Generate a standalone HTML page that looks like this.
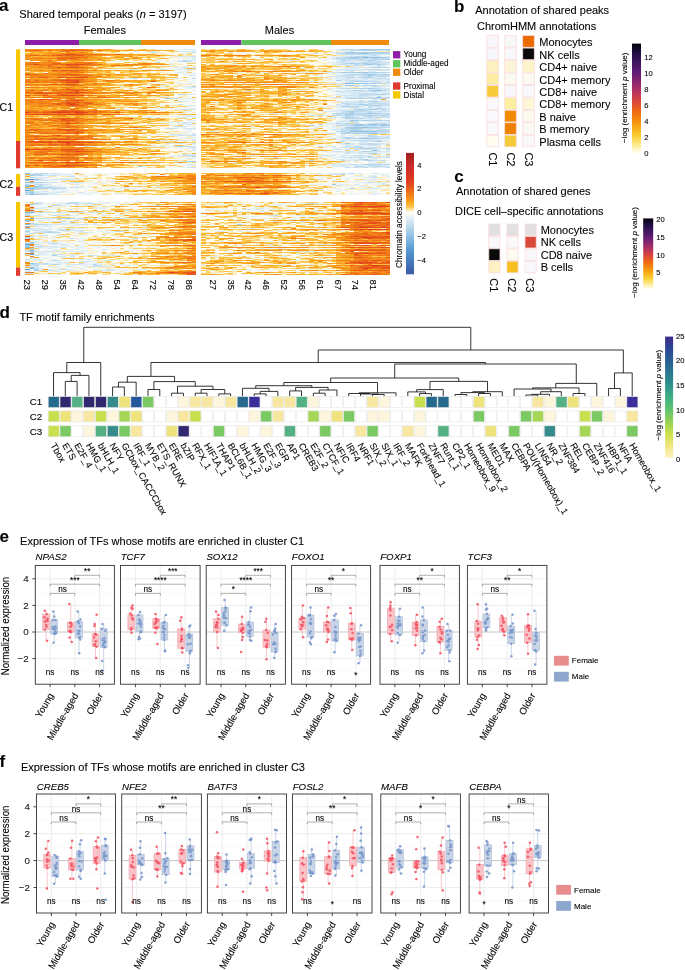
<!DOCTYPE html>
<html><head><meta charset="utf-8"><style>
html,body{margin:0;padding:0;background:#fff;width:685px;height:970px;overflow:hidden}
svg{display:block;will-change:transform}
text{font-family:"Liberation Sans", sans-serif;stroke:#000;stroke-width:0.18px;stroke-opacity:0.55}
</style></head><body>
<svg width="685" height="970" viewBox="0 0 685 970" font-family='"Liberation Sans", sans-serif'>
<g transform="translate(25 49) scale(4.5 1)" fill="none" stroke-width="1" shape-rendering="crispEdges">
<path stroke="#f79a1c" d="M0 0.5h1M3 0.5h2M9 0.5h1M18 0.5h1M6 1.5h1M17 1.5h1M20 1.5h1M22 1.5h2M28 1.5h1M2 2.5h1M10 2.5h1M3 3.5h1M5 3.5h1M7 3.5h1M10 3.5h2M13 3.5h1M6 4.5h1M12 4.5h3M2 5.5h1M4 5.5h1M26 5.5h1M17 6.5h1M25 6.5h1M5 7.5h3M23 7.5h1M0 8.5h1M14 8.5h1M20 8.5h1M24 8.5h1M0 9.5h1M12 9.5h1M18 9.5h1M1 10.5h1M14 10.5h1M1 11.5h3M6 11.5h1M10 11.5h2M14 11.5h1M10 13.5h1M25 14.5h1M17 15.5h1M29 15.5h1M0 16.5h1M0 17.5h1M2 17.5h1M4 17.5h1M7 17.5h1M12 17.5h1M19 17.5h1M4 18.5h1M16 18.5h1M0 19.5h2M8 19.5h1M15 19.5h1M16 21.5h1M18 21.5h1M20 21.5h1M26 21.5h1M30 21.5h1M12 22.5h2M5 23.5h1M8 23.5h1M13 23.5h2M1 24.5h1M5 24.5h1M7 24.5h2M10 24.5h2M16 25.5h2M20 25.5h1M24 25.5h1M5 26.5h1M15 26.5h2M18 26.5h1M33 26.5h1M6 27.5h1M15 27.5h1M16 28.5h1M18 28.5h1M4 29.5h1M9 29.5h1M11 29.5h1M13 29.5h1M3 30.5h2M14 30.5h2M14 31.5h2M17 31.5h1M20 31.5h1M22 31.5h1M27 31.5h2M1 32.5h1M15 32.5h1M17 32.5h1M21 32.5h2M20 33.5h1M6 34.5h1M8 34.5h2M11 34.5h1M13 34.5h1M16 34.5h1M12 35.5h1M16 35.5h2M25 35.5h1M29 35.5h1M0 36.5h3M7 36.5h2M14 36.5h2M23 36.5h1M10 37.5h1M7 38.5h1M12 38.5h1M14 38.5h3M19 38.5h1M6 39.5h1M10 39.5h1M0 40.5h1M7 40.5h1M13 40.5h2M16 40.5h2M5 41.5h1M16 41.5h1M22 41.5h2M29 41.5h2M3 42.5h1M6 42.5h1M12 42.5h1M14 42.5h1M18 43.5h1M30 43.5h1M22 44.5h1M3 45.5h1M9 45.5h1M12 45.5h1M24 45.5h1M16 46.5h3M20 46.5h1M27 46.5h2M31 46.5h1M0 47.5h1M4 47.5h1M6 47.5h1M17 47.5h1M3 48.5h1M19 48.5h1M25 48.5h1M7 49.5h1M13 50.5h4M18 50.5h1M7 51.5h1M13 51.5h3M19 51.5h1M6 52.5h1M14 52.5h1M17 52.5h1M21 52.5h1M15 54.5h4M20 54.5h2M26 54.5h1M2 55.5h1M4 55.5h1M22 55.5h1M1 56.5h1M15 56.5h1M24 56.5h1M4 57.5h1M8 57.5h2M11 57.5h1M13 57.5h2M1 58.5h1M3 58.5h1M8 58.5h1M1 59.5h2M6 59.5h1M8 59.5h3M18 59.5h2M26 59.5h1M0 60.5h2M3 60.5h1M6 60.5h1M11 60.5h1M14 60.5h2M5 61.5h2M13 61.5h1M16 61.5h1M21 61.5h2M25 61.5h1M18 62.5h1M20 62.5h1M23 62.5h3M25 63.5h1M14 64.5h1M16 64.5h1M29 65.5h1M12 66.5h1M0 67.5h2M6 67.5h3M11 68.5h1M13 69.5h1M15 69.5h1M19 69.5h2M17 70.5h1M22 70.5h1M27 70.5h1M30 70.5h1M0 71.5h3M13 71.5h1M20 71.5h1M0 72.5h1M14 72.5h1M18 72.5h1M10 73.5h1M12 73.5h1M17 73.5h2M14 74.5h3M19 74.5h1M23 74.5h1M1 75.5h1M5 75.5h1M8 75.5h1M5 76.5h1M10 76.5h1M12 76.5h1M14 76.5h1M3 77.5h1M8 77.5h1M12 77.5h2M16 77.5h3M2 78.5h2M7 78.5h1M14 78.5h1M22 78.5h1M27 78.5h1M6 79.5h2M14 80.5h1M16 80.5h1M20 80.5h1M26 80.5h1M6 81.5h1M14 81.5h1M17 81.5h1M0 82.5h1M20 82.5h1M22 82.5h1M13 83.5h1M17 83.5h1M0 84.5h1M2 84.5h1M14 84.5h1M24 84.5h2M0 85.5h1M3 86.5h1M10 86.5h1M13 86.5h1M16 86.5h1M21 87.5h1M3 88.5h1M6 88.5h1M0 89.5h2M10 89.5h1M23 89.5h1M14 90.5h1M0 91.5h2M7 91.5h1M22 92.5h1M21 93.5h3M28 93.5h1M1 94.5h1M4 94.5h1M14 94.5h2M15 95.5h3M19 95.5h1M21 95.5h1M25 95.5h1M6 98.5h2M11 98.5h1M14 98.5h1M1 99.5h1M3 99.5h1M5 99.5h1M7 99.5h1M25 99.5h1M17 100.5h2M24 100.5h1M1 101.5h1M14 101.5h2M1 102.5h1M7 102.5h1M20 102.5h1M28 102.5h2M1 103.5h1M7 103.5h2M16 103.5h3M7 104.5h1M14 104.5h1M29 104.5h1M15 105.5h2M12 106.5h1M7 107.5h1M20 108.5h1M0 109.5h1M6 109.5h1M25 109.5h1M0 110.5h1M4 110.5h1M13 110.5h2M0 111.5h1M13 111.5h1M3 112.5h1M17 113.5h1M25 113.5h2M34 113.5h1M5 114.5h1M8 114.5h1M0 115.5h1M7 115.5h2M19 115.5h1M0 118.5h1M4 118.5h1M8 118.5h1M14 118.5h1"/>
<path stroke="#f48d1a" d="M1 0.5h2M5 0.5h3M13 0.5h1M4 1.5h1M7 1.5h1M1 2.5h1M9 3.5h1M5 4.5h1M8 4.5h1M11 4.5h1M1 5.5h1M19 5.5h1M21 5.5h3M27 5.5h1M13 6.5h1M15 6.5h2M0 7.5h1M8 7.5h1M11 7.5h1M13 7.5h2M2 8.5h2M15 8.5h1M3 9.5h1M13 9.5h1M0 10.5h1M2 10.5h2M9 10.5h1M12 10.5h2M4 11.5h1M12 11.5h2M5 12.5h1M0 13.5h1M3 13.5h1M7 13.5h1M9 13.5h1M3 14.5h3M8 14.5h2M15 14.5h1M28 14.5h1M23 15.5h1M30 15.5h1M2 16.5h1M8 16.5h1M12 16.5h1M19 16.5h1M21 16.5h3M1 17.5h1M3 17.5h1M8 17.5h1M2 18.5h1M5 18.5h2M4 19.5h1M9 19.5h2M13 19.5h1M0 21.5h1M2 21.5h1M4 21.5h2M13 21.5h2M27 21.5h1M31 21.5h1M7 22.5h1M9 22.5h1M7 23.5h1M6 24.5h1M9 24.5h1M25 24.5h1M3 25.5h2M14 25.5h1M18 25.5h1M0 26.5h2M4 26.5h1M6 26.5h3M13 26.5h1M2 27.5h1M5 27.5h1M7 27.5h1M11 27.5h1M14 27.5h1M6 28.5h1M15 28.5h1M17 28.5h1M12 29.5h1M1 30.5h1M5 30.5h1M13 30.5h1M1 31.5h1M3 31.5h1M13 31.5h1M19 31.5h1M5 32.5h2M18 32.5h2M3 33.5h1M10 34.5h1M17 34.5h1M13 35.5h2M3 38.5h4M10 38.5h1M5 39.5h1M17 39.5h1M1 40.5h1M4 40.5h1M15 40.5h1M0 41.5h1M8 41.5h1M14 41.5h2M0 42.5h2M7 42.5h1M9 42.5h2M15 43.5h2M23 43.5h1M25 43.5h1M27 43.5h1M29 43.5h1M0 44.5h1M16 44.5h3M4 45.5h1M11 45.5h1M1 46.5h1M21 46.5h3M7 47.5h2M10 47.5h2M16 47.5h1M8 48.5h1M13 48.5h2M22 48.5h1M8 49.5h1M0 50.5h1M9 50.5h1M12 50.5h1M2 51.5h1M20 51.5h1M0 52.5h1M2 52.5h2M5 52.5h1M12 52.5h2M22 52.5h3M0 53.5h1M4 53.5h2M15 53.5h1M0 54.5h3M24 54.5h1M0 55.5h2M3 55.5h1M5 55.5h1M17 55.5h1M24 55.5h1M2 56.5h1M6 56.5h2M1 57.5h2M6 57.5h1M9 58.5h1M11 58.5h2M2 61.5h1M14 61.5h1M18 61.5h1M26 61.5h1M3 62.5h1M24 63.5h1M31 63.5h1M0 64.5h4M6 64.5h1M16 65.5h1M21 65.5h1M7 66.5h2M11 67.5h1M18 69.5h1M22 69.5h1M0 70.5h1M6 70.5h1M12 70.5h1M15 70.5h1M7 71.5h1M15 71.5h1M1 72.5h1M6 72.5h1M11 72.5h3M3 73.5h2M6 73.5h1M8 73.5h1M0 74.5h1M2 74.5h1M5 74.5h2M13 74.5h1M17 74.5h2M20 74.5h1M2 75.5h1M4 75.5h1M9 75.5h1M0 76.5h2M3 76.5h1M0 77.5h1M6 77.5h2M11 77.5h1M0 78.5h2M12 78.5h2M23 78.5h1M0 80.5h1M17 80.5h1M21 80.5h1M1 81.5h1M3 81.5h2M25 81.5h1M2 82.5h1M4 82.5h3M8 82.5h1M10 82.5h1M5 83.5h1M7 83.5h2M14 83.5h1M12 84.5h1M5 86.5h1M8 86.5h2M11 86.5h1M11 87.5h1M15 87.5h1M1 88.5h2M13 88.5h1M15 89.5h1M16 90.5h1M18 90.5h1M24 90.5h1M15 92.5h2M23 92.5h1M19 93.5h1M0 94.5h1M2 94.5h1M6 94.5h2M0 95.5h1M14 95.5h1M22 95.5h3M4 96.5h1M7 96.5h1M13 96.5h1M8 98.5h2M13 98.5h1M20 98.5h1M6 99.5h1M9 99.5h1M14 100.5h1M19 100.5h1M3 101.5h2M6 101.5h1M13 101.5h1M16 101.5h1M0 102.5h1M16 102.5h2M13 103.5h2M0 104.5h3M6 104.5h1M8 104.5h1M10 104.5h1M28 104.5h1M1 105.5h1M14 105.5h1M26 105.5h1M2 106.5h2M8 106.5h1M10 106.5h2M10 107.5h1M2 108.5h2M5 108.5h1M14 108.5h1M16 108.5h1M2 109.5h2M7 109.5h1M15 109.5h3M3 110.5h1M6 110.5h2M10 111.5h1M12 111.5h1M14 111.5h3M15 113.5h2M19 113.5h1M23 113.5h2M1 114.5h3M6 114.5h2M2 115.5h1M6 115.5h1M12 115.5h1M14 115.5h1M6 116.5h1M15 116.5h1M18 116.5h1M0 117.5h1M2 117.5h1M11 117.5h1M1 118.5h1M5 118.5h1M7 118.5h1M9 118.5h2M15 118.5h1"/>
<path stroke="#ee7418" d="M8 0.5h1M10 0.5h1M0 1.5h2M5 1.5h1M14 1.5h1M16 1.5h1M8 2.5h2M9 4.5h1M7 5.5h1M12 5.5h2M18 5.5h1M3 6.5h3M10 7.5h1M10 8.5h1M12 8.5h2M5 9.5h2M11 9.5h1M8 10.5h1M11 10.5h1M2 13.5h1M12 13.5h2M11 14.5h1M13 14.5h1M3 15.5h1M5 15.5h1M14 15.5h1M16 15.5h1M10 16.5h1M20 16.5h1M5 17.5h2M10 17.5h2M11 19.5h1M7 21.5h1M15 21.5h1M10 22.5h2M12 23.5h1M4 24.5h1M13 25.5h1M11 26.5h2M3 27.5h1M1 28.5h1M6 30.5h3M0 31.5h1M2 31.5h1M6 31.5h1M12 31.5h1M18 31.5h1M2 32.5h1M12 32.5h1M14 32.5h1M0 33.5h1M2 33.5h1M5 33.5h1M8 33.5h1M12 33.5h1M0 35.5h1M11 35.5h1M9 36.5h2M0 38.5h2M13 38.5h1M9 39.5h1M8 40.5h1M11 40.5h2M4 41.5h1M6 41.5h2M9 41.5h1M6 43.5h1M14 43.5h1M19 43.5h1M21 43.5h1M28 43.5h1M1 44.5h1M10 44.5h1M13 44.5h1M27 44.5h1M2 46.5h1M6 46.5h1M13 46.5h2M2 48.5h1M10 48.5h2M16 48.5h1M2 50.5h1M6 50.5h1M10 50.5h1M0 51.5h1M3 51.5h1M1 52.5h1M9 52.5h1M8 53.5h1M12 53.5h1M14 53.5h1M3 54.5h2M11 54.5h1M6 55.5h1M13 55.5h1M13 58.5h1M11 59.5h1M10 60.5h1M12 61.5h1M15 61.5h1M0 62.5h3M4 62.5h1M13 62.5h1M16 62.5h2M1 63.5h1M14 63.5h1M16 63.5h1M29 63.5h1M7 64.5h1M15 64.5h1M0 69.5h1M6 69.5h1M8 69.5h1M10 69.5h1M12 69.5h1M1 70.5h1M5 70.5h1M7 70.5h1M11 70.5h1M14 70.5h1M3 71.5h2M11 71.5h1M7 72.5h1M0 73.5h2M11 73.5h1M7 74.5h2M12 74.5h1M7 76.5h3M9 77.5h2M8 78.5h1M11 78.5h1M24 78.5h1M6 80.5h1M0 81.5h1M2 81.5h1M8 81.5h1M11 81.5h2M11 82.5h2M0 83.5h1M9 83.5h1M3 84.5h1M8 84.5h1M10 84.5h1M1 87.5h1M3 87.5h1M5 87.5h1M7 87.5h2M13 87.5h2M10 88.5h2M7 89.5h1M11 89.5h1M0 90.5h2M3 90.5h2M12 90.5h1M15 90.5h1M0 92.5h1M6 92.5h1M0 93.5h1M18 93.5h1M10 94.5h1M1 95.5h1M13 95.5h1M1 96.5h3M5 96.5h1M10 96.5h2M5 98.5h1M0 99.5h1M4 99.5h1M6 100.5h2M13 100.5h1M12 101.5h1M3 102.5h2M8 102.5h1M15 102.5h1M2 103.5h2M11 104.5h2M4 105.5h1M12 105.5h1M6 108.5h1M9 108.5h1M13 108.5h1M1 109.5h1M4 109.5h2M10 109.5h1M13 109.5h1M10 110.5h1M4 111.5h2M8 111.5h1M0 113.5h1M3 113.5h1M7 113.5h1M21 113.5h1M10 114.5h1M9 115.5h1M5 116.5h1M13 116.5h2M16 116.5h1M5 117.5h1M10 117.5h1M12 117.5h1"/>
<path stroke="#f18019" d="M11 0.5h2M8 1.5h1M15 1.5h1M12 3.5h1M10 4.5h1M6 5.5h1M14 5.5h1M16 5.5h1M0 6.5h1M14 6.5h1M29 6.5h1M9 7.5h1M12 7.5h1M7 8.5h1M9 8.5h1M1 9.5h2M4 9.5h1M24 9.5h1M7 10.5h1M10 10.5h1M16 10.5h1M7 11.5h2M4 13.5h3M11 13.5h1M14 13.5h2M0 14.5h3M10 14.5h1M12 14.5h1M26 14.5h2M0 15.5h1M4 15.5h1M15 15.5h1M22 15.5h1M24 15.5h4M3 16.5h2M13 16.5h3M9 17.5h1M3 18.5h1M8 18.5h1M13 18.5h2M5 19.5h3M12 19.5h1M3 21.5h1M6 22.5h1M8 22.5h1M9 23.5h3M0 24.5h1M5 25.5h2M12 25.5h1M2 26.5h2M9 26.5h1M14 26.5h1M1 27.5h1M4 27.5h1M8 27.5h1M12 27.5h1M16 27.5h1M0 28.5h1M2 28.5h1M5 28.5h1M14 28.5h1M0 30.5h1M2 30.5h1M4 31.5h2M0 32.5h1M3 32.5h2M7 32.5h1M13 32.5h1M4 33.5h1M6 33.5h2M15 34.5h1M1 35.5h4M15 35.5h1M23 35.5h1M4 36.5h1M12 36.5h1M2 38.5h1M8 38.5h2M28 38.5h1M6 40.5h1M2 41.5h2M8 42.5h1M1 43.5h1M17 43.5h1M20 43.5h1M22 43.5h1M24 43.5h1M8 44.5h1M12 44.5h1M14 44.5h1M23 44.5h1M7 45.5h1M10 45.5h1M3 46.5h1M5 46.5h1M15 46.5h1M5 47.5h1M9 47.5h1M0 48.5h2M7 48.5h1M9 48.5h1M12 48.5h1M15 48.5h1M18 48.5h1M9 49.5h2M1 50.5h1M11 50.5h1M1 51.5h1M5 51.5h2M8 51.5h1M4 52.5h1M7 52.5h2M10 52.5h2M1 53.5h3M5 54.5h1M12 54.5h1M23 54.5h1M8 55.5h1M12 55.5h1M14 55.5h3M3 56.5h3M8 56.5h1M13 56.5h1M3 57.5h1M5 57.5h1M10 57.5h1M12 57.5h1M0 61.5h2M4 61.5h1M7 61.5h1M17 63.5h2M21 63.5h1M26 63.5h2M30 63.5h1M4 64.5h2M8 64.5h3M13 64.5h1M20 65.5h1M1 69.5h3M5 69.5h1M3 70.5h2M13 70.5h1M16 70.5h1M5 71.5h1M12 71.5h1M8 72.5h3M5 73.5h1M1 74.5h1M4 74.5h1M21 74.5h2M2 76.5h1M11 76.5h1M5 77.5h1M10 78.5h1M4 80.5h2M12 80.5h1M5 81.5h1M7 81.5h1M15 81.5h2M3 82.5h1M7 82.5h1M9 82.5h1M2 83.5h3M6 83.5h1M6 84.5h2M0 86.5h3M14 86.5h1M0 87.5h1M6 87.5h1M10 87.5h1M12 87.5h1M0 88.5h1M14 88.5h1M4 89.5h2M12 89.5h3M13 90.5h1M13 92.5h2M17 93.5h1M5 94.5h1M8 94.5h1M11 94.5h2M2 95.5h1M4 95.5h1M20 95.5h1M0 96.5h1M8 96.5h1M14 96.5h2M10 98.5h1M12 98.5h1M2 99.5h1M8 99.5h1M10 99.5h3M15 100.5h2M0 101.5h1M5 101.5h1M7 101.5h1M11 101.5h1M2 102.5h1M6 102.5h1M4 103.5h1M9 103.5h4M3 104.5h1M5 104.5h1M9 104.5h1M13 104.5h1M5 105.5h1M0 106.5h1M9 106.5h1M9 107.5h1M0 108.5h1M4 108.5h1M11 108.5h2M8 109.5h1M14 109.5h1M5 110.5h1M8 110.5h2M11 110.5h1M1 111.5h1M11 111.5h1M14 113.5h1M20 113.5h1M22 113.5h1M4 114.5h1M9 114.5h1M11 114.5h1M5 115.5h1M10 115.5h2M13 115.5h1M15 115.5h1M1 116.5h1M3 116.5h1M4 117.5h1M6 118.5h1M13 118.5h1"/>
<path stroke="#faaa25" d="M14 0.5h1M16 0.5h2M18 1.5h2M24 1.5h3M29 1.5h1M32 1.5h1M0 2.5h1M3 2.5h1M5 2.5h1M7 2.5h1M11 2.5h4M20 2.5h1M4 3.5h1M6 3.5h1M0 4.5h2M4 4.5h1M7 4.5h1M0 5.5h1M5 5.5h1M24 5.5h1M28 5.5h1M18 6.5h2M21 6.5h3M26 6.5h1M30 6.5h1M1 7.5h1M3 7.5h2M15 7.5h1M20 7.5h3M1 8.5h1M4 8.5h3M16 8.5h2M19 8.5h1M21 8.5h1M25 8.5h1M14 9.5h4M22 9.5h1M4 10.5h2M15 10.5h1M22 10.5h1M9 11.5h1M15 11.5h3M4 12.5h1M6 12.5h1M10 12.5h2M16 13.5h1M16 14.5h1M29 14.5h1M19 15.5h2M28 15.5h1M31 15.5h1M1 16.5h1M6 16.5h2M16 16.5h1M18 16.5h1M24 16.5h1M13 17.5h1M1 18.5h1M17 18.5h1M26 18.5h1M2 19.5h2M14 19.5h1M24 19.5h1M0 20.5h4M6 20.5h8M1 21.5h1M23 21.5h1M28 21.5h2M1 22.5h5M23 22.5h2M6 23.5h1M18 23.5h1M2 24.5h2M12 24.5h1M24 24.5h1M15 25.5h1M21 25.5h3M27 25.5h3M32 25.5h1M20 26.5h3M27 26.5h1M9 27.5h2M18 27.5h1M20 28.5h1M24 28.5h2M27 28.5h2M1 29.5h3M6 29.5h1M10 29.5h1M14 29.5h2M16 30.5h1M21 31.5h1M23 31.5h3M29 31.5h1M16 32.5h1M23 32.5h3M27 32.5h1M13 33.5h1M19 33.5h1M25 33.5h1M1 34.5h1M14 34.5h1M18 34.5h1M18 35.5h2M22 35.5h1M24 35.5h1M3 36.5h1M5 36.5h2M13 36.5h1M16 36.5h1M18 36.5h1M22 36.5h1M24 36.5h1M11 37.5h2M11 38.5h1M20 38.5h1M2 39.5h1M8 39.5h1M11 39.5h2M16 39.5h1M18 39.5h1M2 40.5h2M5 40.5h1M29 40.5h1M31 40.5h1M18 41.5h1M31 41.5h1M2 42.5h1M13 42.5h1M15 42.5h1M20 42.5h1M28 42.5h1M26 43.5h1M31 43.5h1M24 44.5h1M29 44.5h1M0 45.5h1M2 45.5h1M19 46.5h1M24 46.5h2M29 46.5h1M12 47.5h1M19 47.5h2M20 48.5h1M23 48.5h2M13 49.5h1M17 50.5h1M19 50.5h5M4 51.5h1M16 51.5h1M18 51.5h1M21 51.5h2M26 51.5h1M33 51.5h1M15 52.5h1M18 52.5h1M20 52.5h1M7 53.5h1M16 53.5h1M22 54.5h1M25 54.5h1M23 55.5h1M25 55.5h1M0 56.5h1M16 56.5h3M31 56.5h1M0 57.5h1M7 57.5h1M18 57.5h1M0 58.5h1M4 58.5h1M6 58.5h2M14 58.5h2M19 58.5h1M23 58.5h1M26 58.5h3M32 58.5h1M0 59.5h1M3 59.5h2M12 59.5h1M2 60.5h1M5 60.5h1M3 61.5h1M17 61.5h1M19 61.5h2M27 61.5h1M26 62.5h1M22 63.5h2M32 63.5h1M34 63.5h1M26 64.5h1M22 65.5h1M28 65.5h1M30 65.5h1M37 65.5h1M1 66.5h1M5 66.5h2M10 66.5h2M15 66.5h1M2 67.5h1M9 67.5h1M12 67.5h2M15 67.5h1M8 68.5h1M20 68.5h2M14 69.5h1M17 69.5h1M21 69.5h1M26 69.5h1M29 69.5h1M18 70.5h1M23 70.5h1M28 70.5h1M14 71.5h1M16 71.5h1M18 71.5h1M21 71.5h1M29 71.5h1M2 72.5h2M2 73.5h1M7 73.5h1M14 73.5h3M26 73.5h1M3 74.5h1M3 75.5h1M4 76.5h1M13 76.5h1M15 76.5h1M21 76.5h1M1 77.5h1M4 77.5h1M19 77.5h1M23 77.5h1M25 77.5h1M4 78.5h1M21 78.5h1M25 78.5h2M0 79.5h3M10 79.5h2M13 80.5h1M15 80.5h1M18 80.5h2M22 80.5h4M18 81.5h3M27 81.5h1M13 82.5h2M17 82.5h3M16 83.5h1M18 83.5h1M27 83.5h1M15 84.5h1M23 84.5h1M4 86.5h1M12 86.5h1M15 86.5h1M17 86.5h1M16 87.5h1M20 87.5h1M22 87.5h1M4 88.5h2M7 88.5h2M24 88.5h1M24 89.5h1M21 90.5h1M23 90.5h1M25 90.5h1M27 90.5h3M32 90.5h1M3 91.5h1M8 91.5h3M19 92.5h2M24 92.5h1M27 92.5h1M20 93.5h1M31 93.5h1M33 93.5h3M3 94.5h1M13 94.5h1M17 94.5h1M16 96.5h2M8 97.5h2M0 98.5h1M2 98.5h1M4 98.5h1M15 99.5h2M20 100.5h1M2 101.5h1M18 101.5h1M22 101.5h3M18 102.5h2M27 102.5h1M0 103.5h1M6 103.5h1M15 103.5h1M19 103.5h4M15 104.5h2M24 104.5h1M30 104.5h1M0 105.5h1M18 105.5h5M27 105.5h2M5 106.5h1M7 106.5h1M14 106.5h1M6 107.5h1M8 107.5h1M15 108.5h1M18 109.5h1M1 110.5h1M16 110.5h1M17 111.5h1M21 111.5h2M27 111.5h1M9 112.5h1M11 112.5h1M27 113.5h2M0 114.5h1M12 114.5h3M1 115.5h1M3 115.5h2M20 115.5h2M17 116.5h1M19 116.5h1M21 116.5h1M27 116.5h1M1 117.5h1M3 117.5h1M13 117.5h1M15 117.5h1M18 117.5h1M2 118.5h2M11 118.5h1M20 118.5h1"/>
<path stroke="#fdd16a" d="M15 0.5h1M19 0.5h1M25 0.5h1M17 2.5h2M27 2.5h1M32 2.5h2M8 3.5h1M19 3.5h1M17 4.5h1M23 4.5h1M34 5.5h1M36 5.5h1M27 6.5h1M32 6.5h1M34 6.5h1M19 7.5h1M24 7.5h1M28 7.5h2M18 8.5h1M28 8.5h1M19 9.5h2M27 9.5h1M29 9.5h1M18 10.5h1M23 10.5h1M26 10.5h1M19 11.5h1M24 11.5h1M28 11.5h1M9 12.5h1M17 12.5h1M23 13.5h1M25 13.5h2M18 14.5h2M24 14.5h1M36 14.5h2M25 16.5h1M27 16.5h1M14 17.5h1M16 17.5h1M20 17.5h1M22 17.5h2M27 17.5h5M27 18.5h2M17 19.5h1M19 19.5h4M37 19.5h1M14 20.5h1M22 21.5h1M24 21.5h1M21 22.5h1M25 22.5h2M3 23.5h1M17 23.5h1M22 23.5h2M36 23.5h1M13 24.5h1M15 24.5h1M17 24.5h2M21 24.5h1M23 24.5h1M26 24.5h1M28 24.5h1M31 25.5h1M17 26.5h1M23 26.5h1M28 26.5h1M20 27.5h2M30 27.5h1M22 28.5h1M19 29.5h1M21 29.5h1M28 29.5h2M17 30.5h1M20 30.5h1M30 30.5h3M16 31.5h1M29 32.5h1M23 33.5h1M26 33.5h1M32 33.5h1M5 34.5h1M7 34.5h1M12 34.5h1M26 34.5h1M32 34.5h1M20 35.5h2M20 36.5h2M25 36.5h1M28 36.5h1M1 37.5h1M3 37.5h2M14 37.5h2M22 37.5h1M31 37.5h1M26 38.5h1M0 39.5h1M13 39.5h1M19 39.5h1M23 39.5h1M26 39.5h2M21 40.5h1M25 40.5h1M28 40.5h1M32 40.5h1M17 41.5h1M20 41.5h1M5 42.5h1M22 42.5h1M26 42.5h1M34 43.5h1M36 43.5h1M19 44.5h1M21 44.5h1M25 44.5h1M30 44.5h3M13 45.5h1M16 45.5h1M20 45.5h1M27 45.5h1M31 45.5h2M30 46.5h1M2 47.5h1M15 47.5h1M21 47.5h1M25 47.5h1M27 47.5h1M29 47.5h1M26 48.5h1M30 48.5h2M34 48.5h1M1 49.5h1M11 49.5h1M14 49.5h1M16 49.5h1M22 49.5h1M26 49.5h1M29 50.5h1M28 51.5h1M26 52.5h2M29 52.5h2M18 53.5h1M20 53.5h5M29 53.5h3M19 54.5h1M27 54.5h1M29 54.5h1M18 55.5h1M20 55.5h2M26 55.5h1M28 55.5h1M20 56.5h1M22 56.5h1M25 56.5h4M15 57.5h1M17 57.5h1M26 57.5h1M31 57.5h1M34 57.5h2M5 58.5h1M17 58.5h1M20 58.5h2M25 58.5h1M7 59.5h1M13 59.5h1M16 59.5h1M21 59.5h1M9 60.5h1M21 60.5h1M29 61.5h1M33 61.5h1M35 61.5h1M21 62.5h2M27 62.5h1M31 62.5h1M19 64.5h1M24 64.5h1M27 64.5h4M23 65.5h2M36 65.5h1M3 66.5h1M19 66.5h1M3 67.5h1M10 67.5h1M18 67.5h1M0 68.5h1M2 68.5h2M14 68.5h1M16 68.5h1M18 68.5h1M23 68.5h3M16 69.5h1M30 69.5h2M34 69.5h2M37 69.5h1M19 70.5h2M24 70.5h1M31 70.5h1M33 70.5h1M36 70.5h1M24 71.5h1M27 71.5h2M31 71.5h1M34 71.5h1M4 72.5h1M16 72.5h2M20 72.5h1M25 72.5h2M33 72.5h1M20 73.5h3M27 74.5h1M29 74.5h3M37 74.5h1M0 75.5h1M11 75.5h1M13 75.5h1M18 75.5h1M22 75.5h1M16 76.5h1M20 76.5h1M22 76.5h2M26 76.5h2M21 77.5h1M26 77.5h1M28 77.5h1M19 78.5h2M9 79.5h1M14 79.5h2M28 80.5h2M21 81.5h1M24 81.5h1M25 82.5h1M33 82.5h1M23 83.5h1M25 83.5h2M29 83.5h1M16 84.5h4M1 85.5h1M3 85.5h3M7 85.5h2M14 85.5h1M21 86.5h1M18 87.5h1M23 87.5h1M25 87.5h1M28 87.5h1M31 87.5h2M18 88.5h1M25 88.5h1M28 88.5h1M31 88.5h1M17 89.5h2M21 89.5h1M30 89.5h1M20 90.5h1M31 90.5h1M33 90.5h1M6 91.5h1M11 91.5h1M21 92.5h1M25 92.5h2M29 92.5h1M32 92.5h2M25 93.5h1M29 93.5h1M32 93.5h1M36 93.5h2M20 94.5h1M22 94.5h3M27 94.5h2M36 95.5h1M23 96.5h1M4 97.5h2M7 97.5h1M18 98.5h1M21 98.5h1M24 98.5h1M26 98.5h5M18 99.5h1M20 99.5h4M22 100.5h1M29 100.5h1M19 101.5h2M25 101.5h1M27 101.5h2M22 102.5h1M26 102.5h1M30 102.5h1M34 102.5h1M26 103.5h2M17 104.5h1M20 104.5h2M27 104.5h1M31 104.5h1M35 104.5h1M24 105.5h1M29 105.5h2M6 106.5h1M15 106.5h1M21 106.5h3M0 107.5h2M3 107.5h2M15 107.5h1M18 107.5h1M18 108.5h1M26 108.5h1M29 108.5h2M32 108.5h1M20 109.5h1M24 109.5h1M26 109.5h1M30 109.5h2M17 110.5h1M20 110.5h1M29 110.5h2M19 111.5h1M23 111.5h1M29 111.5h1M31 111.5h1M33 111.5h1M35 111.5h1M1 112.5h1M5 112.5h1M8 112.5h1M15 112.5h1M31 113.5h3M37 113.5h1M18 114.5h1M21 114.5h1M23 114.5h1M26 114.5h1M32 114.5h1M22 115.5h1M30 116.5h1M33 116.5h1M29 117.5h2M34 117.5h1M16 118.5h1M22 118.5h2M27 118.5h1M30 118.5h1"/>
<path stroke="#fee9b0" d="M20 0.5h3M27 0.5h2M21 2.5h2M29 2.5h1M31 2.5h1M0 3.5h1M15 3.5h1M18 3.5h1M32 3.5h1M36 3.5h1M18 4.5h4M25 4.5h1M28 4.5h3M29 5.5h3M33 6.5h1M35 6.5h3M17 7.5h1M25 7.5h2M30 7.5h1M29 8.5h2M32 8.5h2M35 8.5h1M19 10.5h1M24 10.5h1M28 10.5h2M21 11.5h2M25 11.5h1M27 11.5h1M31 11.5h1M0 12.5h1M7 12.5h1M13 12.5h3M18 12.5h1M26 12.5h1M28 12.5h1M24 13.5h1M27 13.5h1M31 13.5h1M22 14.5h1M33 14.5h1M32 15.5h1M34 15.5h1M28 16.5h1M33 16.5h1M37 16.5h1M15 17.5h1M32 17.5h2M15 18.5h1M18 18.5h2M22 18.5h2M30 18.5h1M29 19.5h1M35 19.5h1M16 20.5h1M27 20.5h1M36 21.5h1M0 22.5h1M19 22.5h2M27 22.5h1M29 22.5h1M2 23.5h1M19 23.5h1M24 23.5h1M27 23.5h1M29 23.5h2M14 24.5h1M22 24.5h1M31 24.5h1M24 26.5h1M26 26.5h1M29 26.5h2M22 27.5h1M26 27.5h1M0 29.5h1M8 29.5h1M17 29.5h2M20 29.5h1M31 29.5h1M35 30.5h1M31 31.5h1M34 31.5h2M30 32.5h1M32 32.5h1M16 33.5h2M22 33.5h1M27 33.5h1M30 33.5h1M33 33.5h1M19 34.5h1M25 34.5h1M27 34.5h1M31 35.5h1M34 35.5h3M27 36.5h1M33 36.5h2M37 36.5h1M0 37.5h1M17 37.5h1M20 37.5h1M30 37.5h1M32 37.5h2M21 38.5h3M31 38.5h2M14 39.5h1M21 39.5h1M24 39.5h1M28 39.5h1M19 40.5h1M23 40.5h1M34 40.5h1M24 41.5h4M32 41.5h1M4 42.5h1M17 42.5h3M25 42.5h1M29 42.5h1M26 44.5h1M28 44.5h1M34 44.5h2M15 45.5h1M17 45.5h2M26 45.5h1M35 46.5h1M13 47.5h1M28 47.5h1M35 47.5h1M27 48.5h3M32 48.5h1M0 49.5h1M4 49.5h1M17 49.5h2M8 50.5h1M32 50.5h1M30 51.5h2M25 53.5h2M28 53.5h1M32 53.5h3M19 55.5h1M27 55.5h1M29 55.5h1M19 56.5h1M21 56.5h1M29 56.5h1M32 56.5h3M19 57.5h4M27 57.5h1M30 57.5h1M33 57.5h1M22 58.5h1M29 58.5h1M33 58.5h1M20 59.5h1M24 59.5h1M31 59.5h1M27 60.5h1M32 61.5h1M34 61.5h1M36 61.5h1M30 62.5h1M32 62.5h1M34 62.5h1M35 63.5h1M37 63.5h1M21 64.5h2M32 64.5h1M32 65.5h2M16 66.5h1M25 66.5h2M28 66.5h1M31 66.5h1M5 67.5h1M22 67.5h1M30 67.5h1M4 68.5h1M28 69.5h1M32 69.5h2M26 70.5h1M32 70.5h1M25 71.5h1M33 71.5h1M21 72.5h1M23 72.5h2M29 72.5h4M34 72.5h1M23 73.5h1M29 73.5h1M25 74.5h1M14 75.5h1M18 76.5h2M24 76.5h2M32 76.5h2M22 77.5h1M30 77.5h1M15 78.5h2M29 78.5h1M31 78.5h1M16 79.5h1M18 79.5h1M26 79.5h1M32 80.5h1M23 81.5h1M26 81.5h1M29 81.5h1M29 82.5h2M32 82.5h1M30 83.5h1M20 84.5h2M27 84.5h1M32 84.5h4M9 85.5h2M22 85.5h1M29 85.5h2M18 86.5h1M22 86.5h1M26 86.5h2M26 87.5h1M33 87.5h1M36 87.5h1M16 88.5h1M22 88.5h1M20 89.5h1M25 89.5h2M29 89.5h1M36 89.5h1M19 90.5h1M34 90.5h1M12 91.5h1M23 91.5h2M26 91.5h2M30 92.5h2M35 92.5h1M37 92.5h1M18 94.5h1M25 94.5h1M30 94.5h1M27 95.5h1M31 95.5h1M20 96.5h1M28 96.5h1M30 96.5h1M35 96.5h1M2 97.5h2M6 97.5h1M18 97.5h2M16 98.5h1M22 98.5h2M31 98.5h1M33 98.5h1M27 99.5h1M30 99.5h1M28 100.5h1M35 100.5h1M21 101.5h1M23 102.5h1M31 102.5h3M36 102.5h1M24 103.5h2M31 103.5h2M25 104.5h1M34 104.5h1M36 104.5h1M31 105.5h1M13 106.5h1M17 106.5h1M24 106.5h3M28 106.5h1M12 107.5h2M21 107.5h1M24 107.5h1M35 107.5h1M22 108.5h2M31 108.5h1M34 108.5h1M19 109.5h1M32 109.5h2M18 110.5h1M36 110.5h1M20 111.5h1M34 111.5h1M4 112.5h1M7 112.5h1M14 112.5h1M19 112.5h1M36 113.5h1M16 114.5h2M19 114.5h2M24 114.5h2M28 114.5h2M24 115.5h2M27 115.5h3M31 115.5h1M24 116.5h1M31 116.5h1M20 117.5h4M37 117.5h1M17 118.5h1M24 118.5h1M28 118.5h1"/>
<path stroke="#fcbc3c" d="M23 0.5h1M26 0.5h1M21 1.5h1M27 1.5h1M30 1.5h2M4 2.5h1M6 2.5h1M16 2.5h1M19 2.5h1M1 3.5h2M14 3.5h1M2 4.5h2M15 4.5h2M3 5.5h1M25 5.5h1M20 6.5h1M24 6.5h1M28 6.5h1M31 6.5h1M2 7.5h1M16 7.5h1M27 7.5h1M23 8.5h1M26 8.5h2M21 9.5h1M23 9.5h1M25 9.5h1M30 9.5h2M6 10.5h1M17 10.5h1M20 10.5h2M25 10.5h1M27 10.5h1M18 11.5h1M3 12.5h1M12 12.5h1M8 13.5h1M17 13.5h1M22 13.5h1M17 14.5h1M20 14.5h2M30 14.5h1M18 15.5h1M21 15.5h1M17 16.5h1M26 16.5h1M36 16.5h1M17 17.5h2M21 17.5h1M26 17.5h1M0 18.5h1M25 18.5h1M29 18.5h1M16 19.5h1M18 19.5h1M23 19.5h1M25 19.5h1M36 19.5h1M4 20.5h2M15 20.5h1M17 21.5h1M19 21.5h1M21 21.5h1M25 21.5h1M32 21.5h1M14 22.5h5M22 22.5h1M0 23.5h2M15 23.5h2M21 23.5h1M16 24.5h1M19 24.5h1M27 24.5h1M29 24.5h1M19 25.5h1M25 25.5h2M30 25.5h1M33 25.5h1M19 26.5h1M25 26.5h1M32 26.5h1M0 27.5h1M17 27.5h1M19 27.5h1M23 27.5h3M27 27.5h3M19 28.5h1M21 28.5h1M23 28.5h1M26 28.5h1M29 28.5h5M35 28.5h1M5 29.5h1M7 29.5h1M30 29.5h1M28 30.5h1M26 31.5h1M30 31.5h1M20 32.5h1M26 32.5h1M14 33.5h2M18 33.5h1M21 33.5h1M24 33.5h1M31 33.5h1M0 34.5h1M2 34.5h3M26 35.5h1M28 35.5h1M30 35.5h1M17 36.5h1M19 36.5h1M29 36.5h1M2 37.5h1M5 37.5h5M13 37.5h1M16 37.5h1M23 37.5h1M28 37.5h1M17 38.5h2M25 38.5h1M29 38.5h1M1 39.5h1M3 39.5h2M7 39.5h1M15 39.5h1M32 39.5h1M18 40.5h1M20 40.5h1M26 40.5h2M30 40.5h1M33 40.5h1M19 41.5h1M21 41.5h1M28 41.5h1M16 42.5h1M21 42.5h1M24 42.5h1M27 42.5h1M32 43.5h2M35 43.5h1M20 44.5h1M1 45.5h1M5 45.5h2M14 45.5h1M19 45.5h1M22 45.5h2M25 45.5h1M30 45.5h1M26 46.5h1M32 46.5h1M1 47.5h1M3 47.5h1M14 47.5h1M18 47.5h1M26 47.5h1M21 48.5h1M37 48.5h1M6 49.5h1M12 49.5h1M15 49.5h1M24 50.5h5M17 51.5h1M23 51.5h3M27 51.5h1M16 52.5h1M19 52.5h1M25 52.5h1M28 52.5h1M6 53.5h1M17 53.5h1M19 53.5h1M28 54.5h1M14 56.5h1M23 56.5h1M16 57.5h1M29 57.5h1M2 58.5h1M16 58.5h1M18 58.5h1M24 58.5h1M30 58.5h2M5 59.5h1M15 59.5h1M17 59.5h1M25 59.5h1M4 60.5h1M7 60.5h2M12 60.5h2M23 61.5h2M28 61.5h1M19 62.5h1M28 62.5h1M33 63.5h1M17 64.5h2M20 64.5h1M23 64.5h1M25 64.5h1M31 64.5h1M25 65.5h3M31 65.5h1M34 65.5h2M0 66.5h1M2 66.5h1M4 66.5h1M9 66.5h1M13 66.5h2M17 66.5h2M4 67.5h1M14 67.5h1M16 67.5h2M19 67.5h1M25 67.5h1M1 68.5h1M5 68.5h3M9 68.5h2M12 68.5h2M15 68.5h1M19 68.5h1M22 68.5h1M4 69.5h1M24 69.5h2M27 69.5h1M21 70.5h1M25 70.5h1M29 70.5h1M17 71.5h1M19 71.5h1M22 71.5h2M26 71.5h1M30 71.5h1M5 72.5h1M15 72.5h1M19 72.5h1M27 72.5h2M13 73.5h1M19 73.5h1M24 73.5h2M27 73.5h1M24 74.5h1M28 74.5h1M6 75.5h2M10 75.5h1M12 75.5h1M17 76.5h1M28 76.5h4M34 76.5h1M2 77.5h1M14 77.5h2M20 77.5h1M24 77.5h1M5 78.5h2M17 78.5h2M3 79.5h3M8 79.5h1M12 79.5h1M20 79.5h1M27 80.5h1M28 81.5h1M1 82.5h1M15 82.5h2M21 82.5h1M23 82.5h2M27 82.5h2M15 83.5h1M19 83.5h3M24 83.5h1M28 83.5h1M31 83.5h1M1 84.5h1M13 84.5h1M22 84.5h1M26 84.5h1M28 84.5h1M6 85.5h1M11 85.5h1M15 85.5h1M19 86.5h2M23 86.5h2M17 87.5h1M19 87.5h1M24 87.5h1M29 87.5h2M17 88.5h1M21 88.5h1M26 88.5h1M16 89.5h1M22 89.5h1M22 90.5h1M26 90.5h1M30 90.5h1M4 91.5h2M17 92.5h2M28 92.5h1M24 93.5h1M26 93.5h2M30 93.5h1M16 94.5h1M19 94.5h1M29 94.5h1M18 95.5h1M26 95.5h1M18 96.5h2M21 96.5h2M24 96.5h4M33 96.5h2M0 97.5h2M10 97.5h1M1 98.5h1M3 98.5h1M15 98.5h1M17 98.5h1M13 99.5h2M17 99.5h1M19 99.5h1M26 99.5h1M21 100.5h1M23 100.5h1M25 100.5h3M17 101.5h1M26 101.5h1M29 101.5h1M21 102.5h1M24 102.5h2M5 103.5h1M23 103.5h1M33 103.5h1M18 104.5h2M22 104.5h1M37 104.5h1M17 105.5h1M23 105.5h1M25 105.5h1M1 106.5h1M4 106.5h1M16 106.5h1M2 107.5h1M5 107.5h1M11 107.5h1M14 107.5h1M16 107.5h1M17 108.5h1M19 108.5h1M21 108.5h1M25 108.5h1M27 108.5h2M12 109.5h1M21 109.5h3M27 109.5h1M2 110.5h1M12 110.5h1M15 110.5h1M18 111.5h1M24 111.5h3M28 111.5h1M30 111.5h1M32 111.5h1M0 112.5h1M2 112.5h1M6 112.5h1M12 112.5h1M16 112.5h1M18 113.5h1M29 113.5h2M35 113.5h1M15 114.5h1M16 115.5h1M18 115.5h1M20 116.5h1M22 116.5h2M25 116.5h2M28 116.5h2M32 116.5h1M14 117.5h1M17 117.5h1M19 117.5h1M12 118.5h1M19 118.5h1M21 118.5h1M29 118.5h1"/>
<path stroke="#fffcf2" d="M24 0.5h1M34 1.5h3M15 2.5h1M23 2.5h1M26 2.5h1M30 2.5h1M17 3.5h1M25 3.5h1M31 3.5h1M33 3.5h3M22 4.5h1M24 4.5h1M26 4.5h2M31 4.5h3M33 5.5h1M37 5.5h1M31 8.5h1M26 9.5h1M28 9.5h1M32 9.5h2M32 10.5h3M20 11.5h1M23 11.5h1M2 12.5h1M8 12.5h1M16 12.5h1M27 12.5h1M31 12.5h1M18 13.5h4M30 13.5h1M32 13.5h2M31 14.5h1M35 14.5h1M33 15.5h1M35 15.5h3M29 16.5h1M31 16.5h1M34 16.5h2M24 17.5h1M20 18.5h1M24 18.5h1M31 18.5h1M28 19.5h1M31 19.5h1M17 20.5h2M21 20.5h1M33 21.5h1M37 21.5h1M31 22.5h3M37 22.5h1M20 23.5h1M25 23.5h2M28 23.5h1M32 23.5h1M20 24.5h1M30 24.5h1M34 25.5h1M36 25.5h2M31 26.5h1M34 26.5h1M34 27.5h2M37 27.5h1M34 28.5h1M16 29.5h1M22 29.5h1M27 29.5h1M35 29.5h1M18 30.5h2M21 30.5h3M25 30.5h1M29 30.5h1M33 30.5h2M33 31.5h1M36 31.5h1M31 32.5h1M34 32.5h2M28 33.5h1M35 33.5h2M20 34.5h2M24 34.5h1M30 34.5h2M27 35.5h1M33 35.5h1M37 35.5h1M26 36.5h1M32 36.5h1M36 36.5h1M19 37.5h1M27 37.5h1M24 38.5h1M34 38.5h1M20 39.5h1M22 39.5h1M25 39.5h1M29 39.5h1M33 39.5h1M35 39.5h1M37 39.5h1M22 40.5h1M24 40.5h1M36 40.5h1M33 41.5h4M23 42.5h1M30 42.5h1M33 42.5h2M37 43.5h1M33 44.5h1M36 44.5h1M21 45.5h1M28 45.5h2M33 46.5h1M36 46.5h2M22 47.5h3M32 47.5h2M37 47.5h1M35 48.5h2M2 49.5h1M5 49.5h1M19 49.5h1M21 49.5h1M23 49.5h2M27 49.5h1M30 50.5h1M33 50.5h1M29 51.5h1M32 51.5h1M34 51.5h1M31 52.5h1M36 53.5h1M30 54.5h2M33 54.5h2M32 55.5h2M35 55.5h3M23 57.5h2M28 57.5h1M10 58.5h1M14 59.5h1M23 59.5h1M27 59.5h1M34 59.5h1M16 60.5h1M18 60.5h1M24 60.5h1M26 60.5h1M31 61.5h1M29 62.5h1M37 62.5h1M36 64.5h1M23 66.5h2M27 66.5h1M30 66.5h1M32 66.5h2M24 67.5h1M29 67.5h1M31 67.5h1M26 68.5h1M30 68.5h3M35 70.5h1M37 70.5h1M32 71.5h1M35 71.5h1M22 72.5h1M35 72.5h1M37 72.5h1M28 73.5h1M26 74.5h1M19 75.5h2M23 75.5h2M33 75.5h1M35 76.5h1M37 76.5h1M27 77.5h1M29 77.5h1M31 77.5h1M30 78.5h1M36 78.5h1M13 79.5h1M17 79.5h1M21 79.5h2M27 79.5h2M30 80.5h2M33 80.5h2M22 81.5h1M30 81.5h6M37 81.5h1M26 82.5h1M31 82.5h1M37 82.5h1M22 83.5h1M33 83.5h1M29 84.5h3M36 84.5h1M2 85.5h1M12 85.5h2M17 85.5h1M19 85.5h1M24 85.5h2M25 86.5h1M28 86.5h1M30 86.5h1M27 87.5h1M34 87.5h2M19 88.5h2M23 88.5h1M27 88.5h1M32 88.5h2M19 89.5h1M31 89.5h1M33 89.5h1M35 90.5h2M2 91.5h1M13 91.5h2M17 91.5h1M20 91.5h1M25 91.5h1M34 92.5h1M36 92.5h1M21 94.5h1M26 94.5h1M29 95.5h2M32 95.5h3M29 96.5h1M32 96.5h1M36 96.5h1M11 97.5h2M20 97.5h1M25 98.5h1M29 99.5h1M32 99.5h1M35 99.5h1M30 100.5h5M36 100.5h1M30 101.5h2M37 102.5h1M29 103.5h2M34 103.5h1M23 104.5h1M33 104.5h1M32 105.5h3M18 106.5h1M20 106.5h1M27 106.5h1M31 106.5h1M17 107.5h1M19 107.5h2M22 107.5h1M25 107.5h1M24 108.5h1M33 108.5h1M28 109.5h2M34 109.5h1M21 110.5h2M24 110.5h2M28 110.5h1M31 110.5h2M35 110.5h1M36 111.5h1M10 112.5h1M17 112.5h1M25 112.5h1M31 112.5h2M22 114.5h1M27 114.5h1M31 114.5h1M33 114.5h1M17 115.5h1M23 115.5h1M26 115.5h1M30 115.5h1M35 115.5h1M34 116.5h1M16 117.5h1M27 117.5h1M31 117.5h1M33 117.5h1M35 117.5h1M18 118.5h1M25 118.5h1M31 118.5h1"/>
<path stroke="#e9f2f7" d="M29 0.5h3M34 0.5h1M33 1.5h1M24 2.5h1M24 3.5h1M37 4.5h1M32 7.5h1M22 8.5h1M34 9.5h2M37 9.5h1M29 11.5h1M37 11.5h1M1 12.5h1M19 12.5h5M33 12.5h1M37 12.5h1M37 17.5h1M19 20.5h1M26 20.5h1M31 20.5h1M34 22.5h1M36 22.5h1M33 23.5h1M35 23.5h1M33 24.5h4M35 25.5h1M35 26.5h1M37 28.5h1M34 29.5h1M26 30.5h1M36 30.5h1M37 31.5h1M36 32.5h2M29 33.5h1M34 33.5h1M34 34.5h1M37 34.5h1M32 35.5h1M30 36.5h1M25 37.5h1M34 37.5h1M30 38.5h1M33 38.5h1M35 38.5h1M36 39.5h1M37 41.5h1M32 42.5h1M35 42.5h1M31 47.5h1M34 47.5h1M20 49.5h1M30 49.5h1M34 49.5h1M34 50.5h1M35 51.5h1M33 52.5h1M36 52.5h1M37 53.5h1M35 58.5h2M30 59.5h1M32 59.5h2M25 60.5h1M29 60.5h1M33 60.5h1M35 62.5h1M34 64.5h1M37 66.5h1M23 67.5h1M26 67.5h2M32 67.5h2M28 68.5h2M36 68.5h1M32 73.5h1M33 74.5h2M15 75.5h2M25 75.5h1M28 75.5h1M30 75.5h1M32 75.5h1M35 75.5h1M36 77.5h2M33 78.5h3M25 79.5h1M37 80.5h1M36 81.5h1M35 82.5h1M34 83.5h3M37 84.5h1M20 85.5h1M27 85.5h1M35 85.5h2M29 86.5h1M15 88.5h1M34 88.5h2M27 89.5h1M35 89.5h1M28 91.5h1M32 91.5h1M35 94.5h2M35 95.5h1M14 97.5h1M24 97.5h3M31 97.5h1M34 98.5h1M36 98.5h1M31 99.5h1M34 99.5h1M34 101.5h1M33 106.5h1M27 107.5h1M30 107.5h2M33 107.5h2M35 109.5h1M37 109.5h1M27 110.5h1M34 110.5h1M21 112.5h1M26 112.5h1M34 114.5h2M37 114.5h1M35 116.5h3M26 117.5h1M28 117.5h1M35 118.5h1"/>
<path stroke="#deecf6" d="M32 0.5h1M35 0.5h1M28 2.5h1M36 2.5h1M27 3.5h1M29 3.5h1M35 4.5h2M33 7.5h1M35 7.5h1M36 9.5h1M34 11.5h1M36 13.5h2M32 14.5h1M32 16.5h1M33 18.5h2M36 18.5h1M29 20.5h1M34 20.5h2M35 22.5h1M34 23.5h1M37 24.5h1M36 26.5h1M23 29.5h1M36 34.5h1M18 37.5h1M26 37.5h1M29 37.5h1M35 37.5h1M36 38.5h2M31 39.5h1M37 45.5h1M30 47.5h1M35 49.5h1M37 50.5h1M35 52.5h1M29 59.5h1M37 59.5h1M30 60.5h1M36 62.5h1M35 64.5h1M35 66.5h1M35 67.5h3M34 68.5h2M37 68.5h1M36 71.5h2M34 73.5h1M37 73.5h1M27 75.5h1M34 75.5h1M24 79.5h1M36 80.5h1M21 85.5h1M26 85.5h1M33 85.5h2M32 86.5h1M36 88.5h2M22 91.5h1M31 91.5h1M33 91.5h1M35 91.5h2M33 94.5h1M37 95.5h1M15 97.5h1M23 97.5h1M27 97.5h3M32 97.5h1M36 99.5h2M37 100.5h1M36 101.5h1M36 105.5h1M28 107.5h2M32 107.5h1M37 108.5h1M36 109.5h1M23 112.5h2M28 112.5h2M34 112.5h1M37 115.5h1"/>
<path stroke="#f4f7f4" d="M33 0.5h1M37 1.5h1M25 2.5h1M16 3.5h1M20 3.5h4M26 3.5h1M30 3.5h1M34 4.5h1M32 5.5h1M35 5.5h1M18 7.5h1M31 7.5h1M34 8.5h1M36 8.5h1M30 10.5h2M35 10.5h2M0 11.5h1M26 11.5h1M30 11.5h1M32 11.5h2M24 12.5h2M29 12.5h2M32 12.5h1M28 13.5h1M34 13.5h2M23 14.5h1M34 14.5h1M30 16.5h1M25 17.5h1M34 17.5h3M21 18.5h1M32 18.5h1M26 19.5h2M30 19.5h1M32 19.5h3M20 20.5h1M22 20.5h1M25 20.5h1M28 20.5h1M32 20.5h1M34 21.5h2M28 22.5h1M30 22.5h1M4 23.5h1M31 23.5h1M37 23.5h1M32 24.5h1M31 27.5h3M36 27.5h1M36 28.5h1M25 29.5h2M32 29.5h1M36 29.5h1M24 30.5h1M27 30.5h1M37 30.5h1M32 31.5h1M33 32.5h1M37 33.5h1M22 34.5h2M28 34.5h2M33 34.5h1M35 34.5h1M35 36.5h1M24 37.5h1M30 39.5h1M34 39.5h1M35 40.5h1M37 40.5h1M31 42.5h1M36 42.5h2M37 44.5h1M33 45.5h1M34 46.5h1M36 47.5h1M33 48.5h1M3 49.5h1M25 49.5h1M28 49.5h2M37 49.5h1M31 50.5h1M35 50.5h2M36 51.5h2M32 52.5h1M37 52.5h1M27 53.5h1M35 53.5h1M32 54.5h1M35 54.5h3M30 55.5h2M30 56.5h1M35 56.5h1M25 57.5h1M32 57.5h1M36 57.5h2M34 58.5h1M37 58.5h1M22 59.5h1M28 59.5h1M35 59.5h2M17 60.5h1M19 60.5h1M22 60.5h2M28 60.5h1M31 60.5h2M30 61.5h1M37 61.5h1M33 62.5h1M36 63.5h1M33 64.5h1M37 64.5h1M20 66.5h3M29 66.5h1M34 66.5h1M20 67.5h2M28 67.5h1M34 67.5h1M17 68.5h1M33 68.5h1M36 69.5h1M34 70.5h1M36 72.5h1M30 73.5h2M33 73.5h1M32 74.5h1M36 74.5h1M17 75.5h1M21 75.5h1M26 75.5h1M29 75.5h1M31 75.5h1M36 76.5h1M32 77.5h1M28 78.5h1M32 78.5h1M37 78.5h1M19 79.5h1M23 79.5h1M29 79.5h2M34 79.5h1M35 80.5h1M34 82.5h1M36 82.5h1M32 83.5h1M37 83.5h1M16 85.5h1M18 85.5h1M23 85.5h1M28 85.5h1M31 85.5h1M31 86.5h1M37 87.5h1M29 88.5h2M28 89.5h1M32 89.5h1M34 89.5h1M37 89.5h1M15 91.5h2M18 91.5h2M21 91.5h1M28 95.5h1M31 96.5h1M37 96.5h1M16 97.5h2M21 97.5h2M19 98.5h1M32 98.5h1M35 98.5h1M24 99.5h1M28 99.5h1M33 99.5h1M32 101.5h2M35 101.5h1M35 102.5h1M28 103.5h1M35 103.5h3M26 104.5h1M32 104.5h1M19 106.5h1M29 106.5h2M32 106.5h1M23 107.5h1M26 107.5h1M35 108.5h2M19 110.5h1M23 110.5h1M26 110.5h1M33 110.5h1M37 110.5h1M37 111.5h1M13 112.5h1M18 112.5h1M20 112.5h1M22 112.5h1M27 112.5h1M30 112.5h1M30 114.5h1M36 114.5h1M32 115.5h3M24 117.5h1M32 117.5h1M36 117.5h1M26 118.5h1M32 118.5h3"/>
<path stroke="#d2e5f3" d="M36 0.5h2M34 2.5h2M37 2.5h1M28 3.5h1M37 3.5h1M34 7.5h1M36 7.5h2M37 8.5h1M37 10.5h1M36 12.5h1M37 18.5h1M23 20.5h2M33 20.5h1M37 26.5h1M33 29.5h1M31 36.5h1M21 37.5h1M36 37.5h1M36 45.5h1M36 49.5h1M34 52.5h1M36 56.5h2M34 60.5h1M37 60.5h1M36 66.5h1M27 68.5h1M36 73.5h1M35 74.5h1M37 75.5h1M34 77.5h2M33 79.5h1M35 79.5h3M32 85.5h1M33 86.5h1M35 86.5h2M37 90.5h1M30 91.5h1M34 91.5h1M37 91.5h1M31 94.5h2M37 94.5h1M30 97.5h1M37 97.5h1M37 98.5h1M37 101.5h1M37 105.5h1M34 106.5h1M36 107.5h1M33 112.5h1M36 115.5h1M36 118.5h1"/>
<path stroke="#eb6719" d="M2 1.5h2M12 1.5h2M8 5.5h1M11 5.5h1M15 5.5h1M17 5.5h1M1 6.5h2M6 6.5h1M8 6.5h1M10 6.5h1M8 8.5h1M11 8.5h1M8 9.5h2M5 11.5h1M1 13.5h1M6 14.5h2M14 14.5h1M1 15.5h1M7 15.5h2M13 15.5h1M5 16.5h1M9 16.5h1M11 16.5h1M9 18.5h1M11 18.5h2M12 21.5h1M1 25.5h2M7 25.5h1M10 26.5h1M13 27.5h1M3 28.5h2M10 30.5h3M7 31.5h1M8 32.5h2M1 33.5h1M7 35.5h2M11 36.5h1M10 40.5h1M1 41.5h1M12 41.5h2M4 43.5h2M7 43.5h2M13 43.5h1M2 44.5h1M6 44.5h1M15 44.5h1M8 45.5h1M4 48.5h2M17 48.5h1M7 50.5h1M9 51.5h1M13 53.5h1M6 54.5h1M8 54.5h1M13 54.5h1M12 56.5h1M9 61.5h3M5 62.5h1M14 62.5h2M3 63.5h1M15 63.5h1M19 63.5h1M15 65.5h1M19 65.5h1M7 69.5h1M11 69.5h1M2 70.5h1M9 70.5h2M6 71.5h1M9 73.5h1M11 74.5h1M6 76.5h1M9 78.5h1M2 80.5h2M11 80.5h1M13 81.5h1M10 83.5h1M12 83.5h1M4 84.5h2M6 86.5h1M9 87.5h1M9 88.5h1M12 88.5h1M2 89.5h2M8 89.5h2M2 90.5h1M6 90.5h1M17 90.5h1M11 92.5h2M6 93.5h1M15 93.5h2M3 95.5h1M5 95.5h4M10 95.5h1M6 96.5h1M9 96.5h1M12 96.5h1M12 100.5h1M8 101.5h1M10 101.5h1M5 102.5h1M9 102.5h2M14 102.5h1M4 104.5h1M2 105.5h2M7 105.5h1M13 105.5h1M1 108.5h1M7 108.5h1M10 108.5h1M9 109.5h1M2 111.5h1M7 111.5h1M9 111.5h1M2 113.5h1M6 113.5h1M0 116.5h1M2 116.5h1M4 116.5h1M7 116.5h1M6 117.5h2M9 117.5h1"/>
<path stroke="#e85a1a" d="M9 1.5h1M11 1.5h1M9 5.5h1M20 5.5h1M9 6.5h1M11 6.5h1M7 9.5h1M10 9.5h1M6 15.5h1M7 18.5h1M6 21.5h1M9 21.5h1M11 21.5h1M0 25.5h1M8 25.5h1M10 25.5h1M7 28.5h3M13 28.5h1M9 30.5h1M10 32.5h1M28 32.5h1M5 35.5h2M27 38.5h1M9 40.5h1M10 41.5h1M11 42.5h1M0 43.5h1M2 43.5h1M3 44.5h2M7 44.5h1M9 44.5h1M0 46.5h1M7 46.5h1M11 46.5h1M6 48.5h1M5 50.5h1M10 51.5h1M12 51.5h1M10 53.5h1M7 54.5h1M14 54.5h1M9 55.5h1M11 55.5h1M9 56.5h1M11 56.5h1M8 61.5h1M6 62.5h1M12 62.5h1M2 63.5h1M5 63.5h1M10 63.5h1M20 63.5h1M28 63.5h1M11 64.5h2M17 65.5h2M9 69.5h1M8 71.5h1M10 71.5h1M1 80.5h1M9 80.5h2M1 83.5h1M11 83.5h1M9 84.5h1M11 84.5h1M2 87.5h1M4 87.5h1M6 89.5h1M9 90.5h1M11 90.5h1M3 92.5h2M10 92.5h1M2 93.5h1M12 93.5h1M9 95.5h1M11 95.5h2M1 100.5h1M3 100.5h3M8 100.5h1M9 101.5h1M12 102.5h2M6 105.5h1M9 105.5h1M11 109.5h1M6 111.5h1M1 113.5h1M8 113.5h1M8 116.5h1M12 116.5h1M8 117.5h1"/>
<path stroke="#e6511c" d="M10 1.5h1M10 5.5h1M7 6.5h1M12 6.5h1M10 18.5h1M8 21.5h1M10 21.5h1M9 25.5h1M11 25.5h1M10 28.5h1M8 31.5h1M10 31.5h2M10 33.5h1M10 35.5h1M3 43.5h1M9 43.5h1M11 43.5h1M5 44.5h1M11 44.5h1M4 46.5h1M8 46.5h1M3 50.5h2M9 53.5h1M10 54.5h1M7 55.5h1M10 56.5h1M7 62.5h4M4 63.5h1M0 65.5h2M5 65.5h4M13 65.5h2M23 69.5h1M9 71.5h1M10 74.5h1M7 80.5h1M10 81.5h1M7 86.5h1M5 90.5h1M7 90.5h2M10 90.5h1M1 92.5h2M5 92.5h1M7 92.5h3M1 93.5h1M4 93.5h1M7 93.5h1M10 93.5h1M13 93.5h2M9 100.5h3M8 105.5h1M10 105.5h2M8 108.5h1M4 113.5h1M10 113.5h1M13 113.5h1M10 116.5h2"/>
<path stroke="#c6dff0" d="M35 11.5h2M34 12.5h1M35 18.5h1M30 20.5h1M36 20.5h2M24 29.5h1M37 29.5h1M34 45.5h2M32 49.5h1M34 55.5h1M20 60.5h1M36 60.5h1M35 73.5h1M36 75.5h1M33 77.5h1M31 79.5h2M37 85.5h1M34 86.5h1M37 86.5h1M34 94.5h1M13 97.5h1M33 97.5h1M35 97.5h1M35 105.5h1M35 106.5h3M35 112.5h1M37 118.5h1"/>
<path stroke="#afd2ea" d="M35 12.5h1M37 37.5h1M34 97.5h1"/>
<path stroke="#bad9ed" d="M29 13.5h1M33 49.5h1M35 60.5h1M36 97.5h1M37 107.5h1M36 112.5h1"/>
<path stroke="#e4491e" d="M2 15.5h1M9 15.5h4M11 28.5h2M9 33.5h1M11 33.5h1M11 41.5h1M12 43.5h1M10 46.5h1M12 46.5h1M11 51.5h1M11 53.5h1M9 54.5h1M11 62.5h1M9 63.5h1M13 63.5h1M2 65.5h1M12 65.5h1M8 70.5h1M9 74.5h1M8 80.5h1M9 81.5h1M3 93.5h1M5 93.5h1M11 93.5h1M9 94.5h1M0 100.5h1M2 100.5h1M3 111.5h1M5 113.5h1M9 116.5h1"/>
<path stroke="#e24020" d="M9 31.5h1M9 35.5h1M10 43.5h1M9 46.5h1M10 55.5h1M6 63.5h1M8 63.5h1M12 63.5h1M3 65.5h1M11 65.5h1M8 93.5h1M9 113.5h1M11 113.5h2"/>
<path stroke="#db3724" d="M11 32.5h1M4 65.5h1M10 65.5h1"/>
<path stroke="#98c5e5" d="M31 49.5h1M29 91.5h1"/>
<path stroke="#df3922" d="M0 63.5h1M7 63.5h1M11 63.5h1M9 65.5h1M9 93.5h1M11 102.5h1"/>
<path stroke="#a3cce8" d="M37 112.5h1M25 117.5h1"/>
</g>
<g transform="translate(201 49) scale(4.5 1)" fill="none" stroke-width="1" shape-rendering="crispEdges">
<path stroke="#fdd16a" d="M0 0.5h1M2 0.5h1M4 0.5h1M15 0.5h2M18 0.5h1M24 0.5h2M12 1.5h1M18 1.5h1M21 1.5h1M5 2.5h1M12 2.5h1M23 2.5h1M27 2.5h2M3 3.5h1M12 3.5h1M15 3.5h1M17 3.5h1M25 3.5h1M27 3.5h1M1 4.5h4M6 4.5h1M14 4.5h2M3 5.5h1M10 5.5h1M14 5.5h1M22 5.5h1M27 5.5h2M11 6.5h1M23 6.5h1M26 6.5h1M29 6.5h1M3 7.5h1M13 7.5h2M25 7.5h1M1 8.5h1M9 8.5h2M13 8.5h1M26 8.5h1M0 9.5h2M4 9.5h2M9 9.5h1M17 9.5h1M0 10.5h1M2 10.5h1M12 10.5h1M17 10.5h3M0 11.5h1M5 11.5h1M9 11.5h1M12 11.5h1M15 11.5h1M23 11.5h1M25 11.5h1M1 12.5h3M11 12.5h1M16 12.5h1M21 12.5h1M24 12.5h1M3 13.5h4M15 13.5h1M18 13.5h2M22 13.5h1M7 14.5h1M11 14.5h4M16 14.5h1M13 15.5h1M17 15.5h1M19 15.5h1M21 15.5h3M0 16.5h1M8 16.5h1M10 16.5h1M14 16.5h1M19 16.5h1M23 16.5h2M27 16.5h1M25 17.5h2M29 17.5h2M32 17.5h1M2 18.5h1M15 18.5h1M18 18.5h1M28 18.5h1M6 19.5h1M9 19.5h1M14 19.5h1M23 19.5h1M26 19.5h2M11 20.5h3M17 20.5h1M21 20.5h1M11 21.5h1M16 21.5h1M20 21.5h1M27 21.5h1M4 22.5h1M22 22.5h1M25 22.5h2M28 22.5h1M4 23.5h1M10 23.5h1M0 24.5h1M11 24.5h2M15 24.5h3M21 24.5h2M27 24.5h1M1 25.5h1M4 25.5h1M17 25.5h1M23 25.5h1M25 25.5h1M0 26.5h2M3 26.5h1M9 26.5h1M11 26.5h1M18 26.5h1M22 26.5h2M1 27.5h1M9 27.5h1M15 27.5h1M17 27.5h1M21 27.5h1M23 27.5h1M10 28.5h2M13 28.5h1M20 28.5h1M23 28.5h4M3 29.5h3M12 29.5h1M23 29.5h1M4 30.5h1M25 30.5h2M20 31.5h1M1 32.5h3M12 32.5h1M24 33.5h1M26 33.5h2M2 34.5h2M12 34.5h1M23 34.5h1M25 35.5h1M27 35.5h3M0 36.5h2M7 36.5h2M11 36.5h1M20 36.5h1M24 36.5h1M12 37.5h1M24 37.5h1M28 37.5h3M15 38.5h1M9 39.5h1M13 39.5h1M15 39.5h1M4 40.5h2M7 40.5h1M20 40.5h4M2 41.5h1M4 41.5h1M6 41.5h1M8 41.5h1M19 41.5h1M8 42.5h1M11 42.5h1M4 43.5h1M6 43.5h1M11 43.5h1M23 43.5h2M5 44.5h2M12 44.5h1M20 44.5h1M22 44.5h1M24 44.5h1M0 45.5h1M10 45.5h1M14 45.5h3M20 45.5h1M22 45.5h1M27 45.5h1M8 46.5h1M19 46.5h2M22 46.5h1M9 47.5h1M15 47.5h1M24 47.5h1M26 47.5h2M30 47.5h1M0 48.5h1M2 48.5h1M12 48.5h1M14 48.5h1M18 48.5h1M20 48.5h1M0 49.5h3M4 49.5h1M8 49.5h2M14 49.5h1M16 49.5h2M19 49.5h1M22 49.5h1M5 51.5h1M23 51.5h1M25 51.5h1M29 51.5h1M0 52.5h1M4 52.5h1M14 52.5h1M21 52.5h1M27 52.5h1M5 53.5h1M10 53.5h1M13 53.5h1M20 53.5h1M23 53.5h1M4 54.5h3M13 54.5h1M18 54.5h1M1 55.5h1M5 55.5h1M9 55.5h2M17 55.5h2M21 55.5h1M23 55.5h1M25 55.5h1M3 56.5h3M11 56.5h1M15 56.5h1M21 56.5h1M1 57.5h1M6 57.5h1M17 57.5h2M22 57.5h1M1 58.5h3M6 58.5h1M13 58.5h1M16 58.5h2M24 58.5h1M0 59.5h1M5 59.5h1M15 59.5h1M19 59.5h1M27 59.5h2M3 60.5h1M5 60.5h1M7 60.5h1M17 60.5h1M22 60.5h1M24 60.5h3M5 61.5h1M9 61.5h1M19 61.5h1M21 61.5h1M11 62.5h1M14 62.5h3M18 62.5h3M23 62.5h1M7 63.5h1M13 63.5h2M19 63.5h1M1 64.5h1M10 64.5h2M20 64.5h1M1 65.5h1M13 65.5h1M16 65.5h1M18 65.5h1M22 65.5h1M26 65.5h1M3 66.5h1M8 66.5h1M12 66.5h1M6 67.5h3M23 67.5h2M26 67.5h1M3 68.5h2M7 68.5h2M11 68.5h2M3 69.5h5M10 69.5h2M13 69.5h1M23 69.5h2M27 69.5h1M6 70.5h1M19 70.5h1M24 70.5h1M26 70.5h2M3 71.5h2M6 71.5h1M8 71.5h4M18 71.5h2M21 71.5h2M28 71.5h1M0 72.5h1M7 72.5h1M12 72.5h1M22 72.5h1M24 72.5h1M0 73.5h1M11 73.5h1M33 73.5h1M3 74.5h2M14 74.5h2M20 74.5h1M24 74.5h1M26 74.5h1M10 75.5h3M16 75.5h1M21 75.5h1M7 76.5h3M11 76.5h2M14 76.5h1M17 76.5h1M19 76.5h2M22 76.5h1M1 77.5h1M6 77.5h1M16 77.5h1M18 77.5h2M22 77.5h1M5 78.5h2M13 78.5h1M4 79.5h1M14 79.5h2M17 79.5h2M21 79.5h1M0 80.5h1M8 80.5h1M10 80.5h1M13 80.5h1M15 80.5h1M25 80.5h1M0 81.5h3M5 81.5h1M15 81.5h1M17 81.5h1M26 81.5h1M4 82.5h1M8 82.5h3M13 82.5h1M15 82.5h1M22 82.5h1M0 83.5h1M4 83.5h1M12 83.5h1M14 83.5h1M20 83.5h2M1 84.5h2M5 84.5h1M7 84.5h1M10 84.5h1M13 84.5h1M24 85.5h1M28 85.5h1M38 85.5h1M41 85.5h1M3 86.5h1M11 86.5h2M23 86.5h2M3 87.5h3M7 87.5h1M0 88.5h3M6 88.5h1M8 88.5h1M13 88.5h1M20 88.5h1M24 88.5h2M10 89.5h1M21 89.5h1M3 90.5h1M14 90.5h1M19 90.5h1M24 90.5h1M26 90.5h1M28 90.5h2M1 91.5h1M8 91.5h1M11 91.5h1M16 91.5h1M20 91.5h1M22 91.5h1M3 92.5h1M5 92.5h1M10 92.5h1M15 92.5h1M20 92.5h1M22 92.5h1M24 92.5h1M25 93.5h1M28 93.5h1M4 94.5h2M19 94.5h1M21 94.5h1M24 94.5h2M27 94.5h2M10 95.5h1M16 95.5h2M7 96.5h2M13 96.5h1M16 96.5h2M20 96.5h1M23 96.5h1M41 96.5h1M0 97.5h1M2 97.5h1M9 97.5h1M12 97.5h1M16 97.5h1M18 97.5h2M1 98.5h1M4 98.5h2M13 98.5h2M0 99.5h1M4 99.5h2M7 99.5h2M10 99.5h1M14 99.5h1M17 99.5h2M33 99.5h1M3 100.5h1M8 100.5h2M11 100.5h2M15 100.5h2M21 100.5h1M23 100.5h1M26 100.5h1M10 101.5h1M21 101.5h1M32 101.5h1M34 101.5h1M8 102.5h1M15 102.5h1M18 102.5h1M22 102.5h1M24 102.5h1M5 103.5h1M10 103.5h1M14 103.5h1M16 103.5h1M21 103.5h1M23 103.5h3M11 104.5h2M18 104.5h1M20 104.5h1M8 105.5h1M21 105.5h2M38 105.5h1M41 105.5h1M3 106.5h2M9 106.5h1M1 107.5h1M4 107.5h1M12 107.5h1M39 107.5h1M5 108.5h2M20 108.5h1M1 109.5h4M14 109.5h2M17 109.5h2M25 109.5h2M4 110.5h1M9 110.5h1M15 110.5h1M21 110.5h1M25 110.5h1M27 110.5h1M0 111.5h1M3 111.5h2M22 111.5h1M0 112.5h1M9 112.5h1M13 112.5h1M27 112.5h1M3 113.5h1M16 113.5h1M24 113.5h1M28 113.5h1M30 113.5h1M39 113.5h1M1 114.5h1M7 114.5h1M23 114.5h1M27 114.5h2M1 115.5h1M3 115.5h3M7 115.5h1M22 115.5h1M26 115.5h2M2 116.5h1M4 116.5h2M9 116.5h1M11 116.5h1M21 116.5h1M25 116.5h1M1 117.5h2M12 117.5h1M19 117.5h1M22 117.5h1M5 118.5h2M9 118.5h1M19 118.5h2M22 118.5h1M28 118.5h1"/>
<path stroke="#fffcf2" d="M1 0.5h1M11 0.5h1M14 0.5h1M19 0.5h2M26 0.5h2M23 1.5h1M28 1.5h2M37 2.5h2M0 3.5h1M5 3.5h1M7 3.5h1M10 3.5h1M18 3.5h1M24 3.5h1M0 4.5h1M7 4.5h1M12 4.5h1M16 4.5h2M20 4.5h2M23 4.5h1M4 5.5h1M9 5.5h1M11 5.5h1M19 5.5h1M29 5.5h1M27 6.5h1M41 6.5h1M11 7.5h1M5 8.5h1M7 8.5h1M11 8.5h1M15 8.5h1M8 9.5h1M10 9.5h1M12 9.5h1M16 9.5h1M23 9.5h2M22 10.5h1M24 10.5h2M10 11.5h1M14 11.5h1M16 11.5h1M28 11.5h2M12 12.5h1M26 12.5h2M9 13.5h1M21 13.5h1M27 13.5h1M0 14.5h1M3 14.5h1M17 14.5h2M22 14.5h5M1 15.5h1M3 15.5h1M8 15.5h1M10 15.5h1M12 15.5h1M14 15.5h1M24 15.5h1M25 16.5h1M41 17.5h1M27 18.5h1M29 18.5h1M25 19.5h1M29 19.5h1M38 19.5h1M41 19.5h1M20 20.5h1M23 20.5h1M14 21.5h1M29 22.5h1M34 22.5h1M39 22.5h3M9 23.5h1M17 23.5h1M2 24.5h1M10 24.5h1M41 24.5h1M6 25.5h3M16 25.5h1M21 25.5h2M27 25.5h1M19 26.5h1M21 26.5h1M24 26.5h1M27 26.5h3M12 27.5h1M18 27.5h1M24 27.5h1M21 30.5h1M27 30.5h1M15 31.5h1M0 32.5h1M21 32.5h1M27 32.5h2M30 33.5h1M5 34.5h2M8 34.5h1M10 34.5h2M13 34.5h1M15 34.5h2M20 34.5h1M24 34.5h1M35 35.5h1M37 35.5h3M5 36.5h2M14 36.5h1M17 36.5h1M26 36.5h1M31 37.5h1M28 38.5h2M35 38.5h1M1 39.5h1M5 39.5h1M8 39.5h1M12 39.5h1M19 39.5h2M23 39.5h1M27 39.5h1M14 40.5h2M24 40.5h1M26 40.5h1M33 40.5h1M0 41.5h2M25 41.5h2M1 42.5h1M27 42.5h1M5 43.5h1M22 43.5h1M27 43.5h2M4 44.5h1M27 44.5h3M23 45.5h1M25 45.5h2M28 45.5h1M26 46.5h2M10 47.5h2M18 47.5h1M22 47.5h1M25 47.5h1M29 47.5h1M4 48.5h1M15 48.5h1M19 48.5h1M22 48.5h2M26 48.5h1M18 49.5h1M25 49.5h4M28 50.5h2M34 50.5h1M36 50.5h2M41 50.5h1M30 51.5h2M2 52.5h1M10 52.5h4M19 52.5h1M25 52.5h1M28 52.5h1M15 53.5h1M21 53.5h1M28 53.5h1M21 54.5h1M23 54.5h1M28 54.5h2M6 55.5h1M28 55.5h2M2 56.5h1M16 56.5h1M25 56.5h3M3 57.5h2M23 57.5h2M4 58.5h2M20 58.5h1M22 59.5h2M29 59.5h1M11 60.5h1M18 60.5h2M27 60.5h1M6 61.5h1M10 61.5h1M17 61.5h1M2 62.5h1M4 62.5h2M12 62.5h1M25 62.5h1M29 63.5h1M2 64.5h1M7 64.5h1M9 64.5h1M13 64.5h1M28 64.5h1M3 65.5h1M19 65.5h1M27 65.5h2M6 66.5h2M14 66.5h2M17 66.5h2M20 66.5h2M3 67.5h1M27 67.5h1M6 68.5h1M13 68.5h3M21 68.5h1M24 68.5h2M27 68.5h1M14 69.5h1M25 69.5h1M40 69.5h1M8 70.5h1M12 71.5h1M24 71.5h1M26 71.5h1M29 71.5h1M11 72.5h1M16 72.5h1M21 72.5h1M27 72.5h1M35 73.5h3M2 74.5h1M6 74.5h2M9 74.5h1M12 74.5h1M22 74.5h1M25 74.5h1M0 75.5h1M3 75.5h1M6 75.5h1M14 75.5h1M25 75.5h1M4 76.5h1M10 76.5h1M13 76.5h1M16 76.5h1M27 76.5h2M2 78.5h1M8 78.5h2M12 78.5h1M14 78.5h1M16 78.5h2M22 78.5h1M24 78.5h1M27 78.5h1M13 79.5h1M16 79.5h1M19 79.5h2M22 79.5h1M27 79.5h1M11 80.5h2M18 80.5h1M11 81.5h4M18 81.5h1M22 81.5h1M28 81.5h1M0 82.5h2M11 82.5h1M16 82.5h1M18 82.5h1M20 82.5h1M28 82.5h1M29 83.5h1M0 84.5h1M14 84.5h3M18 84.5h2M22 84.5h1M25 84.5h1M30 85.5h1M36 85.5h1M14 86.5h1M14 87.5h1M29 87.5h1M4 88.5h1M11 88.5h1M21 88.5h1M0 89.5h1M11 89.5h1M15 89.5h2M18 89.5h1M11 90.5h1M22 90.5h1M23 91.5h1M29 91.5h1M23 92.5h1M25 92.5h1M28 92.5h1M33 93.5h2M40 93.5h1M8 94.5h1M10 94.5h1M13 94.5h1M18 94.5h1M22 94.5h2M29 94.5h1M0 95.5h1M2 95.5h1M18 95.5h1M29 95.5h1M25 96.5h3M14 97.5h1M17 97.5h1M30 97.5h1M40 97.5h1M10 98.5h1M21 98.5h1M23 98.5h2M13 99.5h1M21 99.5h1M23 99.5h2M26 99.5h1M28 99.5h1M31 99.5h1M10 100.5h1M20 100.5h1M27 100.5h2M29 101.5h3M35 101.5h3M0 102.5h1M2 102.5h1M23 102.5h1M3 103.5h1M11 103.5h2M18 103.5h1M20 103.5h1M26 103.5h2M0 104.5h1M5 104.5h2M15 104.5h1M22 104.5h2M27 104.5h1M31 104.5h1M27 105.5h2M30 105.5h1M33 105.5h1M40 105.5h1M1 106.5h2M5 106.5h1M8 106.5h1M16 106.5h2M19 106.5h2M22 106.5h1M27 107.5h1M0 108.5h1M12 108.5h2M18 108.5h2M21 108.5h1M23 108.5h2M28 109.5h1M30 109.5h1M41 109.5h1M12 110.5h2M18 110.5h1M29 110.5h1M41 110.5h1M1 111.5h1M10 111.5h1M17 111.5h3M21 111.5h1M20 112.5h1M33 112.5h1M35 112.5h2M41 112.5h1M6 113.5h1M25 113.5h1M31 113.5h1M36 113.5h1M26 114.5h1M33 114.5h2M8 115.5h1M14 115.5h3M3 117.5h1M9 117.5h1M25 117.5h2M33 117.5h1M12 118.5h1M23 118.5h3M27 118.5h1M30 118.5h1"/>
<path stroke="#fee9b0" d="M3 0.5h1M6 0.5h2M10 0.5h1M17 0.5h1M20 1.5h1M30 2.5h1M39 2.5h3M1 3.5h1M5 4.5h1M13 4.5h1M22 4.5h1M7 5.5h2M12 5.5h2M15 5.5h4M20 5.5h1M24 5.5h1M22 6.5h1M28 6.5h1M30 6.5h2M2 7.5h1M4 7.5h1M7 7.5h1M16 7.5h1M23 7.5h2M27 7.5h1M3 8.5h1M6 8.5h1M8 8.5h1M16 8.5h1M21 8.5h1M23 8.5h3M3 9.5h1M7 9.5h1M11 9.5h1M13 9.5h3M19 9.5h1M21 9.5h2M13 10.5h1M16 10.5h1M23 10.5h1M4 11.5h1M6 11.5h3M13 11.5h1M17 11.5h2M22 11.5h1M0 12.5h1M6 12.5h1M13 12.5h1M17 12.5h3M23 12.5h1M25 12.5h1M8 13.5h1M10 13.5h1M20 13.5h1M23 13.5h1M26 13.5h1M1 14.5h2M15 14.5h1M27 14.5h1M4 15.5h3M9 15.5h1M15 15.5h2M15 16.5h1M26 16.5h1M28 16.5h2M31 17.5h1M33 17.5h1M35 17.5h1M10 18.5h1M12 18.5h1M22 19.5h1M24 19.5h1M28 19.5h1M4 20.5h1M18 20.5h2M24 20.5h6M1 21.5h2M12 21.5h2M26 21.5h1M23 22.5h1M0 23.5h3M5 23.5h1M7 23.5h1M11 23.5h1M1 24.5h1M3 24.5h1M8 24.5h2M13 24.5h1M29 24.5h1M13 25.5h1M15 25.5h1M18 25.5h2M24 25.5h1M2 26.5h1M25 26.5h1M10 27.5h2M13 27.5h1M20 27.5h1M1 28.5h1M19 28.5h1M21 28.5h2M27 28.5h2M13 29.5h1M26 29.5h2M19 30.5h2M24 30.5h1M28 30.5h1M14 31.5h1M24 31.5h1M26 31.5h1M4 32.5h4M9 32.5h1M19 32.5h1M28 33.5h2M0 34.5h2M7 34.5h1M9 34.5h1M19 34.5h1M21 34.5h2M30 35.5h2M34 35.5h1M40 35.5h1M3 36.5h2M10 36.5h1M13 36.5h1M15 36.5h1M19 36.5h1M21 36.5h3M29 36.5h1M25 37.5h2M23 38.5h1M26 38.5h2M33 38.5h2M7 39.5h1M10 39.5h2M16 39.5h1M21 39.5h1M24 39.5h3M28 39.5h1M6 40.5h1M16 40.5h1M25 40.5h1M9 41.5h1M12 41.5h1M16 41.5h1M27 41.5h1M9 42.5h1M19 42.5h1M25 42.5h2M1 43.5h1M20 43.5h2M26 43.5h1M0 44.5h1M3 44.5h1M11 45.5h2M24 45.5h1M6 46.5h2M11 46.5h1M15 46.5h2M21 46.5h1M25 46.5h1M28 46.5h1M16 47.5h1M19 47.5h2M28 47.5h1M1 48.5h1M7 48.5h1M13 48.5h1M3 49.5h1M5 49.5h2M11 49.5h2M15 49.5h1M20 49.5h1M29 49.5h1M26 50.5h2M3 52.5h1M22 52.5h1M24 52.5h1M11 53.5h1M14 53.5h1M16 53.5h1M22 53.5h1M26 53.5h1M29 53.5h2M3 54.5h1M9 54.5h4M16 54.5h1M19 54.5h2M22 54.5h1M24 54.5h3M3 55.5h1M12 55.5h1M24 55.5h1M26 55.5h1M17 56.5h1M20 56.5h1M22 56.5h1M24 56.5h1M5 57.5h1M7 57.5h1M10 57.5h1M16 57.5h1M19 57.5h1M25 57.5h2M28 57.5h2M10 58.5h1M25 58.5h2M25 59.5h1M6 60.5h1M9 60.5h2M12 60.5h1M20 60.5h1M33 60.5h1M3 61.5h2M7 61.5h2M11 61.5h1M22 61.5h3M1 62.5h1M3 62.5h1M6 62.5h1M13 62.5h1M21 62.5h2M24 62.5h1M12 63.5h1M21 63.5h1M24 63.5h2M27 63.5h1M0 64.5h1M4 64.5h1M12 64.5h1M18 64.5h1M22 64.5h1M24 64.5h2M27 64.5h1M2 65.5h1M4 65.5h2M11 65.5h2M14 65.5h1M17 65.5h1M20 65.5h2M23 65.5h1M25 65.5h1M4 66.5h1M11 66.5h1M4 67.5h1M20 67.5h1M25 67.5h1M29 67.5h1M9 68.5h1M16 68.5h1M19 68.5h1M22 68.5h2M12 69.5h1M22 69.5h1M28 69.5h1M39 69.5h1M28 70.5h2M5 71.5h1M13 71.5h1M23 71.5h1M6 72.5h1M0 74.5h2M11 74.5h1M13 74.5h1M16 74.5h1M23 74.5h1M1 75.5h1M4 75.5h2M7 75.5h1M13 75.5h1M15 75.5h1M22 75.5h1M0 76.5h2M3 76.5h1M6 76.5h1M15 76.5h1M18 76.5h1M23 76.5h1M11 77.5h1M24 77.5h1M26 77.5h1M30 77.5h1M0 78.5h1M3 78.5h1M7 78.5h1M20 78.5h1M2 79.5h1M8 79.5h1M11 79.5h2M25 79.5h1M6 80.5h2M9 80.5h1M17 80.5h1M24 80.5h1M3 81.5h2M7 81.5h2M10 81.5h1M19 81.5h3M23 81.5h1M7 82.5h1M12 82.5h1M17 82.5h1M21 82.5h1M24 82.5h2M27 82.5h1M10 83.5h2M24 83.5h3M3 84.5h2M6 84.5h1M8 84.5h2M21 84.5h1M29 85.5h1M34 85.5h1M37 85.5h1M39 85.5h1M2 86.5h1M15 86.5h1M27 86.5h1M13 87.5h1M23 87.5h6M3 88.5h1M5 88.5h1M7 88.5h1M9 88.5h2M12 88.5h1M18 88.5h2M22 88.5h1M27 88.5h1M1 89.5h3M8 89.5h1M13 89.5h1M19 89.5h2M22 89.5h1M6 90.5h2M10 90.5h1M12 90.5h1M16 90.5h2M21 90.5h1M23 90.5h1M25 90.5h1M27 90.5h1M4 91.5h1M12 91.5h2M24 91.5h1M26 91.5h1M28 91.5h1M1 92.5h1M12 92.5h1M16 92.5h2M21 92.5h1M26 92.5h2M26 93.5h2M31 93.5h2M41 93.5h1M14 94.5h3M20 94.5h1M1 95.5h1M19 95.5h1M21 95.5h2M25 95.5h1M6 96.5h1M9 96.5h1M21 96.5h1M24 96.5h1M28 96.5h1M11 97.5h1M13 97.5h1M20 97.5h2M23 97.5h2M39 97.5h1M41 97.5h1M9 98.5h1M11 98.5h2M15 98.5h1M20 98.5h1M25 98.5h1M27 98.5h1M1 99.5h1M9 99.5h1M11 99.5h1M16 99.5h1M20 99.5h1M22 99.5h1M4 100.5h1M14 100.5h1M18 100.5h1M22 100.5h1M25 100.5h1M11 101.5h1M1 102.5h1M3 102.5h3M9 102.5h1M11 102.5h1M14 102.5h1M16 102.5h1M19 102.5h3M25 102.5h1M4 103.5h1M19 103.5h1M22 103.5h1M13 104.5h1M16 104.5h1M21 104.5h1M25 104.5h1M7 105.5h1M26 105.5h1M39 105.5h1M0 106.5h1M18 106.5h1M21 106.5h1M5 107.5h1M11 107.5h1M26 107.5h1M28 107.5h1M1 108.5h3M22 108.5h1M12 109.5h2M19 109.5h1M21 109.5h1M27 109.5h1M2 110.5h2M10 110.5h1M14 110.5h1M16 110.5h1M20 110.5h1M22 110.5h2M28 110.5h1M6 111.5h2M9 111.5h1M12 111.5h1M14 111.5h1M20 111.5h1M23 111.5h1M25 111.5h2M12 112.5h1M19 112.5h1M21 112.5h1M32 112.5h1M34 112.5h1M40 112.5h1M0 113.5h2M4 113.5h1M23 113.5h1M26 113.5h2M29 113.5h1M11 114.5h2M19 114.5h1M29 114.5h1M0 115.5h1M2 115.5h1M9 115.5h1M11 115.5h2M18 115.5h4M24 115.5h2M0 116.5h2M23 116.5h1M26 116.5h2M0 117.5h1M4 117.5h1M20 117.5h1M24 117.5h1M0 118.5h2M7 118.5h2M10 118.5h2M14 118.5h1M26 118.5h1"/>
<path stroke="#fcbc3c" d="M5 0.5h1M8 0.5h2M13 0.5h1M0 1.5h1M5 1.5h3M16 1.5h1M19 1.5h1M22 1.5h1M25 1.5h2M3 2.5h2M7 2.5h1M11 2.5h1M25 2.5h2M2 3.5h1M4 3.5h1M16 3.5h1M0 5.5h1M2 5.5h1M5 5.5h2M21 5.5h1M23 5.5h1M25 6.5h1M1 7.5h1M5 7.5h1M8 7.5h3M15 7.5h1M17 7.5h1M20 7.5h1M22 7.5h1M2 8.5h1M27 8.5h1M2 9.5h1M6 9.5h1M18 9.5h1M20 9.5h1M1 10.5h1M4 10.5h1M6 10.5h2M10 10.5h1M20 10.5h2M1 11.5h2M24 11.5h1M5 12.5h1M8 12.5h1M10 12.5h1M14 12.5h2M20 12.5h1M22 12.5h1M0 13.5h3M11 13.5h2M14 13.5h1M2 15.5h1M18 15.5h1M20 15.5h1M1 16.5h1M3 16.5h1M11 16.5h1M13 16.5h1M18 16.5h1M20 16.5h3M1 17.5h1M10 17.5h1M24 17.5h1M27 17.5h1M1 18.5h1M3 18.5h2M7 18.5h2M11 18.5h1M13 18.5h2M16 18.5h2M23 18.5h1M12 19.5h2M15 19.5h2M18 19.5h2M21 19.5h1M2 20.5h1M8 20.5h2M14 20.5h2M22 20.5h1M3 21.5h1M8 21.5h1M10 21.5h1M17 21.5h1M23 21.5h3M24 22.5h1M6 23.5h1M15 23.5h1M4 24.5h2M7 24.5h1M14 24.5h1M20 24.5h1M0 25.5h1M10 25.5h2M14 25.5h1M4 26.5h2M10 26.5h1M14 26.5h1M16 26.5h1M0 27.5h1M2 27.5h1M7 27.5h1M16 27.5h1M22 27.5h1M0 28.5h1M3 28.5h1M12 28.5h1M16 28.5h1M0 29.5h1M2 29.5h1M7 29.5h2M16 29.5h3M21 29.5h2M24 29.5h2M3 30.5h1M5 30.5h1M7 30.5h1M11 30.5h2M15 30.5h1M22 30.5h2M13 31.5h1M25 31.5h1M11 32.5h1M2 33.5h1M4 33.5h1M17 33.5h1M26 35.5h1M13 37.5h1M22 37.5h2M3 38.5h1M11 38.5h2M14 38.5h1M16 38.5h1M21 38.5h2M25 38.5h1M14 39.5h1M18 39.5h1M0 40.5h1M2 40.5h2M8 40.5h1M7 41.5h1M10 41.5h1M14 41.5h1M17 41.5h1M2 42.5h1M5 42.5h1M12 42.5h1M14 42.5h3M20 42.5h1M0 43.5h1M3 43.5h1M7 43.5h1M12 43.5h1M16 43.5h3M2 44.5h1M9 44.5h1M11 44.5h1M13 44.5h1M19 44.5h1M1 45.5h1M9 45.5h1M13 45.5h1M17 45.5h1M21 45.5h1M0 46.5h3M12 46.5h3M18 46.5h1M23 46.5h1M12 47.5h2M17 47.5h1M21 47.5h1M5 48.5h1M8 48.5h1M10 48.5h1M7 49.5h1M13 49.5h1M21 49.5h1M3 50.5h1M6 50.5h3M10 50.5h4M15 50.5h1M19 50.5h1M6 51.5h1M12 51.5h1M15 51.5h1M17 51.5h1M19 51.5h1M28 51.5h1M5 52.5h2M8 52.5h2M15 52.5h2M18 52.5h1M2 53.5h1M4 53.5h1M7 53.5h1M12 53.5h1M17 53.5h1M25 53.5h1M0 54.5h2M7 54.5h1M15 54.5h1M2 55.5h1M7 55.5h1M11 55.5h1M13 55.5h1M16 55.5h1M6 56.5h1M10 56.5h1M14 56.5h1M19 56.5h1M8 57.5h2M11 57.5h2M15 57.5h1M20 57.5h1M0 58.5h1M7 58.5h1M9 58.5h1M12 58.5h1M14 58.5h1M21 58.5h1M23 58.5h1M4 59.5h1M6 59.5h2M10 59.5h1M16 59.5h1M18 59.5h1M20 59.5h2M1 60.5h2M4 60.5h1M8 60.5h1M13 60.5h4M21 60.5h1M0 61.5h2M12 61.5h1M18 61.5h1M20 61.5h1M0 62.5h1M8 62.5h1M2 63.5h1M4 63.5h2M10 63.5h1M15 63.5h1M20 63.5h1M0 65.5h1M15 65.5h1M1 66.5h2M5 66.5h1M2 67.5h1M5 67.5h1M10 67.5h1M17 67.5h3M21 67.5h1M28 67.5h1M0 68.5h3M5 68.5h1M18 68.5h1M1 69.5h1M8 69.5h2M15 69.5h2M20 69.5h2M26 69.5h1M12 70.5h2M7 71.5h1M15 71.5h1M20 71.5h1M27 71.5h1M2 72.5h2M9 72.5h2M13 72.5h1M15 72.5h1M17 72.5h1M23 72.5h1M25 72.5h1M3 73.5h2M10 73.5h1M20 73.5h3M24 73.5h1M26 73.5h2M9 75.5h1M18 75.5h3M2 76.5h1M21 76.5h1M2 77.5h1M4 77.5h1M7 77.5h1M14 77.5h1M17 77.5h1M4 78.5h1M0 79.5h2M5 79.5h3M10 79.5h1M26 79.5h1M4 80.5h1M19 80.5h1M21 80.5h3M6 81.5h1M9 81.5h1M16 81.5h1M25 81.5h1M14 82.5h1M5 83.5h1M13 83.5h1M15 83.5h2M19 83.5h1M22 83.5h2M12 84.5h1M22 85.5h1M40 85.5h1M1 86.5h1M7 86.5h1M13 86.5h1M16 86.5h1M20 86.5h2M0 87.5h1M9 87.5h1M12 87.5h1M15 87.5h1M19 87.5h4M4 89.5h3M9 89.5h1M12 89.5h1M0 90.5h2M4 90.5h2M18 90.5h1M20 90.5h1M0 91.5h1M3 91.5h1M5 91.5h1M9 91.5h2M17 91.5h1M21 91.5h1M0 92.5h1M4 92.5h1M13 92.5h1M19 92.5h1M18 93.5h1M24 93.5h1M29 93.5h1M0 94.5h1M3 94.5h1M9 94.5h1M3 95.5h2M6 95.5h1M9 95.5h1M14 95.5h1M23 95.5h2M1 96.5h2M5 96.5h1M10 96.5h2M18 96.5h2M22 96.5h1M4 97.5h3M3 98.5h1M8 98.5h1M26 98.5h1M2 99.5h2M6 99.5h1M0 100.5h2M5 100.5h1M13 100.5h1M24 100.5h1M19 101.5h1M22 101.5h3M26 101.5h1M28 101.5h1M6 102.5h1M13 102.5h1M0 103.5h1M6 103.5h1M13 103.5h1M15 103.5h1M1 104.5h1M4 104.5h1M8 104.5h1M10 104.5h1M19 104.5h1M24 104.5h1M6 105.5h1M9 105.5h1M18 105.5h1M6 107.5h1M10 107.5h1M18 107.5h1M20 107.5h1M4 108.5h1M0 109.5h1M8 109.5h1M11 109.5h1M23 109.5h2M1 110.5h1M6 110.5h3M24 110.5h1M2 111.5h1M5 111.5h1M13 111.5h1M10 112.5h2M28 112.5h1M30 112.5h2M2 113.5h1M8 113.5h1M14 113.5h2M0 114.5h1M3 114.5h4M8 114.5h1M10 114.5h1M13 114.5h1M18 114.5h1M22 114.5h1M25 114.5h1M6 115.5h1M13 115.5h1M17 115.5h1M3 116.5h1M6 116.5h3M10 116.5h1M13 116.5h3M18 116.5h1M22 116.5h1M8 117.5h1M13 117.5h2M16 117.5h2M2 118.5h1M4 118.5h1M17 118.5h2"/>
<path stroke="#f4f7f4" d="M12 0.5h1M21 0.5h3M28 0.5h1M29 2.5h1M31 2.5h1M34 2.5h3M8 3.5h2M11 3.5h1M19 3.5h1M22 3.5h2M26 3.5h1M28 3.5h1M8 4.5h1M10 4.5h1M18 4.5h2M27 4.5h1M25 5.5h2M40 6.5h1M12 7.5h1M26 7.5h1M4 8.5h1M12 8.5h1M14 8.5h1M17 8.5h3M28 8.5h1M26 9.5h2M26 10.5h1M3 11.5h1M11 11.5h1M21 11.5h1M26 11.5h1M41 11.5h1M28 12.5h2M41 12.5h1M24 13.5h2M4 14.5h1M6 14.5h1M19 14.5h3M28 14.5h1M11 15.5h1M25 15.5h4M16 16.5h2M41 16.5h1M36 17.5h1M20 18.5h1M25 18.5h2M31 18.5h1M30 19.5h1M35 19.5h3M39 19.5h2M15 21.5h1M28 21.5h1M36 21.5h1M30 22.5h2M35 22.5h2M3 23.5h1M16 23.5h1M18 23.5h3M25 23.5h2M28 24.5h1M33 24.5h1M5 25.5h1M28 25.5h1M20 26.5h1M26 26.5h1M19 27.5h1M25 27.5h1M27 27.5h1M7 28.5h1M9 28.5h1M29 28.5h1M31 28.5h1M34 29.5h1M29 31.5h1M20 32.5h1M26 32.5h1M29 32.5h1M31 33.5h1M34 33.5h1M37 33.5h1M17 34.5h2M25 34.5h1M32 35.5h2M41 35.5h1M9 36.5h1M16 36.5h1M27 36.5h1M32 38.5h1M41 38.5h1M0 39.5h1M2 39.5h1M6 39.5h1M22 39.5h1M27 40.5h1M30 40.5h1M34 40.5h1M11 41.5h1M15 41.5h1M20 41.5h2M23 41.5h2M28 41.5h2M31 41.5h1M28 42.5h1M29 43.5h1M25 44.5h1M30 44.5h1M29 46.5h1M41 46.5h1M16 48.5h2M25 48.5h1M27 48.5h1M24 49.5h1M31 49.5h1M30 50.5h4M35 50.5h1M32 51.5h2M41 51.5h1M26 52.5h1M24 53.5h1M27 53.5h1M2 54.5h1M30 54.5h1M1 56.5h1M29 56.5h1M27 58.5h2M30 59.5h1M28 60.5h2M25 61.5h1M27 61.5h1M39 61.5h1M26 62.5h1M26 63.5h1M28 63.5h1M3 64.5h1M5 64.5h2M8 64.5h1M17 64.5h1M19 64.5h1M21 64.5h1M23 64.5h1M26 64.5h1M24 65.5h1M16 66.5h1M19 66.5h1M22 66.5h1M30 67.5h1M10 68.5h1M20 68.5h1M26 68.5h1M30 69.5h1M30 70.5h1M41 70.5h1M25 71.5h1M30 71.5h1M29 72.5h1M40 72.5h1M28 73.5h1M38 73.5h1M5 74.5h1M8 74.5h1M19 74.5h1M2 75.5h1M8 75.5h1M23 75.5h1M27 75.5h1M29 75.5h1M5 76.5h1M26 76.5h1M29 77.5h1M1 78.5h1M10 78.5h1M19 78.5h1M21 78.5h1M23 78.5h1M28 78.5h1M28 79.5h1M41 79.5h1M26 80.5h1M24 81.5h1M29 81.5h1M3 82.5h1M5 82.5h2M19 82.5h1M26 82.5h1M29 82.5h1M28 83.5h1M20 84.5h1M23 84.5h1M26 84.5h1M32 85.5h2M35 85.5h1M25 86.5h1M28 86.5h1M39 86.5h1M32 87.5h1M34 87.5h1M14 89.5h1M23 89.5h1M26 89.5h2M27 91.5h1M2 92.5h1M11 92.5h1M14 92.5h1M29 92.5h1M32 92.5h1M37 93.5h3M6 94.5h1M11 94.5h2M17 94.5h1M26 95.5h1M28 95.5h1M30 95.5h1M29 96.5h3M33 96.5h1M22 97.5h1M25 97.5h1M36 97.5h3M19 98.5h1M22 98.5h1M28 98.5h1M40 98.5h1M19 99.5h1M27 99.5h1M19 100.5h1M40 100.5h1M33 101.5h1M40 101.5h1M12 102.5h1M17 102.5h1M28 102.5h1M17 103.5h1M29 103.5h1M7 104.5h1M14 104.5h1M17 104.5h1M26 104.5h1M28 104.5h1M34 104.5h1M29 105.5h1M35 105.5h2M6 106.5h1M13 106.5h1M23 106.5h1M25 106.5h1M37 106.5h1M29 107.5h2M38 107.5h1M11 108.5h1M14 108.5h1M25 108.5h1M22 109.5h1M37 109.5h1M11 110.5h1M19 110.5h1M26 110.5h1M39 110.5h2M11 111.5h1M16 111.5h1M33 113.5h1M35 113.5h1M41 113.5h1M35 114.5h2M40 114.5h1M10 115.5h1M33 116.5h1M10 117.5h2M21 117.5h1M27 117.5h2M29 118.5h1M31 118.5h1"/>
<path stroke="#e9f2f7" d="M29 0.5h1M27 1.5h1M30 1.5h1M32 1.5h1M13 3.5h1M20 3.5h2M9 4.5h1M11 4.5h1M26 4.5h1M28 4.5h2M32 6.5h1M34 6.5h2M28 7.5h3M40 7.5h1M0 8.5h1M20 8.5h1M25 9.5h1M28 9.5h1M27 10.5h2M20 11.5h1M27 11.5h1M35 12.5h1M40 12.5h1M7 13.5h1M28 13.5h1M5 14.5h1M29 14.5h1M7 15.5h1M30 16.5h2M37 16.5h1M34 17.5h1M37 17.5h2M30 18.5h1M31 19.5h1M33 19.5h1M40 20.5h1M29 21.5h1M31 21.5h1M38 21.5h1M32 22.5h1M8 23.5h1M27 23.5h1M30 24.5h1M26 25.5h1M29 25.5h3M7 26.5h1M26 27.5h1M34 27.5h1M39 28.5h1M41 28.5h1M29 29.5h1M29 30.5h1M33 30.5h1M35 30.5h1M37 30.5h1M27 31.5h2M39 31.5h1M22 32.5h2M25 32.5h1M30 32.5h2M36 33.5h1M14 34.5h1M27 34.5h1M36 35.5h1M18 36.5h1M28 36.5h1M32 37.5h2M41 37.5h1M36 38.5h2M40 38.5h1M3 39.5h2M29 39.5h1M29 40.5h1M31 40.5h2M35 40.5h2M22 41.5h1M30 41.5h1M41 42.5h1M30 43.5h1M32 43.5h1M35 43.5h1M37 43.5h1M39 43.5h1M41 43.5h1M26 44.5h1M31 44.5h1M29 45.5h1M31 45.5h3M30 46.5h1M40 46.5h1M31 47.5h1M38 47.5h1M40 47.5h2M24 48.5h1M28 48.5h1M23 49.5h1M30 49.5h1M38 50.5h1M34 51.5h1M36 51.5h1M39 51.5h1M29 52.5h1M3 53.5h1M36 54.5h1M27 57.5h1M30 57.5h1M36 57.5h1M29 58.5h1M36 58.5h1M38 58.5h1M40 58.5h2M24 59.5h1M31 59.5h2M35 59.5h1M28 61.5h1M41 63.5h1M14 64.5h1M13 66.5h1M23 66.5h1M25 66.5h1M35 67.5h1M29 69.5h1M31 69.5h1M41 69.5h1M31 70.5h1M40 70.5h1M28 72.5h1M35 72.5h2M39 72.5h1M29 73.5h1M31 73.5h2M39 73.5h1M10 74.5h1M35 74.5h2M24 75.5h1M25 76.5h1M25 77.5h1M27 77.5h2M31 77.5h1M11 78.5h1M15 78.5h1M18 78.5h1M26 78.5h1M23 79.5h1M29 79.5h1M27 80.5h2M38 80.5h1M27 83.5h1M30 83.5h1M17 84.5h1M27 84.5h1M30 84.5h1M26 86.5h1M29 86.5h2M32 86.5h1M40 86.5h1M30 87.5h1M35 87.5h1M28 88.5h3M17 89.5h1M24 89.5h1M28 89.5h1M30 89.5h1M30 90.5h1M34 90.5h1M30 91.5h1M41 91.5h1M41 92.5h1M7 94.5h1M27 95.5h1M34 95.5h1M40 95.5h1M40 96.5h1M27 97.5h2M31 97.5h1M29 98.5h2M41 98.5h1M12 99.5h1M25 99.5h1M41 101.5h1M10 102.5h1M26 102.5h1M34 102.5h1M28 103.5h1M30 103.5h1M39 103.5h3M29 104.5h2M40 104.5h1M31 105.5h2M34 105.5h1M37 105.5h1M7 106.5h1M10 106.5h1M12 106.5h1M14 106.5h2M24 106.5h1M30 106.5h1M38 106.5h1M32 107.5h2M40 107.5h1M7 108.5h4M15 108.5h1M17 108.5h1M26 108.5h1M28 108.5h2M36 108.5h1M20 109.5h1M31 109.5h4M36 109.5h1M40 109.5h1M17 110.5h1M32 110.5h1M15 111.5h1M27 111.5h1M29 111.5h2M41 111.5h1M37 112.5h3M32 113.5h1M34 113.5h1M38 113.5h1M30 114.5h3M37 114.5h1M41 114.5h1M23 115.5h1M28 115.5h1M28 116.5h1M30 116.5h1M32 116.5h1M40 116.5h2M23 117.5h1M13 118.5h1M40 118.5h1"/>
<path stroke="#deecf6" d="M30 0.5h1M40 1.5h1M33 2.5h1M29 3.5h1M24 4.5h1M30 5.5h1M33 6.5h1M36 6.5h2M39 6.5h1M31 7.5h1M41 7.5h1M29 8.5h1M29 10.5h1M19 11.5h1M30 11.5h1M39 11.5h2M30 12.5h1M32 12.5h3M36 12.5h1M29 13.5h1M34 13.5h1M30 14.5h1M41 14.5h1M29 15.5h1M32 15.5h2M38 16.5h1M40 16.5h1M40 17.5h1M22 18.5h1M32 19.5h1M34 19.5h1M30 20.5h1M32 20.5h2M35 20.5h1M34 21.5h1M37 22.5h2M13 23.5h2M21 23.5h4M31 24.5h2M34 24.5h1M39 24.5h2M30 27.5h1M38 27.5h1M40 28.5h1M28 29.5h1M30 29.5h1M36 29.5h2M41 29.5h1M30 30.5h1M38 30.5h1M40 30.5h1M31 31.5h1M36 31.5h1M40 31.5h2M24 32.5h1M40 32.5h1M35 33.5h1M40 33.5h1M26 34.5h1M28 34.5h1M40 36.5h1M35 37.5h3M30 38.5h2M38 38.5h2M28 40.5h1M29 42.5h1M34 42.5h1M40 42.5h1M33 43.5h1M36 43.5h1M40 43.5h1M32 44.5h1M39 44.5h1M39 46.5h1M32 47.5h2M37 47.5h1M31 48.5h1M39 50.5h1M40 51.5h1M31 52.5h1M32 53.5h1M41 53.5h1M31 55.5h1M38 55.5h1M28 56.5h1M31 56.5h1M33 56.5h1M40 57.5h2M30 58.5h2M35 58.5h1M39 58.5h1M37 59.5h1M41 59.5h1M30 60.5h3M29 61.5h2M37 61.5h2M41 61.5h1M27 62.5h4M30 63.5h1M40 63.5h1M15 64.5h2M29 65.5h1M28 66.5h1M31 67.5h1M34 67.5h1M28 68.5h1M30 68.5h1M35 68.5h1M32 70.5h2M35 70.5h3M39 70.5h1M31 71.5h2M30 72.5h1M41 73.5h1M27 74.5h2M28 75.5h1M30 75.5h1M32 77.5h1M39 77.5h1M41 77.5h1M25 78.5h1M29 78.5h3M24 79.5h1M30 79.5h1M40 79.5h1M36 80.5h1M30 81.5h1M24 84.5h1M41 84.5h1M31 85.5h1M31 86.5h1M33 86.5h3M41 86.5h1M31 87.5h1M33 87.5h1M36 87.5h1M40 87.5h1M34 88.5h1M39 88.5h1M25 89.5h1M31 89.5h1M31 90.5h3M35 90.5h2M38 90.5h1M40 90.5h2M32 91.5h1M40 91.5h1M30 92.5h1M33 92.5h2M37 92.5h1M35 93.5h2M30 94.5h1M34 94.5h1M41 94.5h1M31 95.5h1M32 96.5h1M34 96.5h3M39 96.5h1M29 99.5h2M32 99.5h1M39 99.5h1M29 100.5h1M31 100.5h1M33 100.5h1M39 100.5h1M27 102.5h1M40 102.5h1M31 103.5h1M33 103.5h1M36 103.5h2M33 104.5h1M41 104.5h1M26 106.5h1M32 106.5h1M36 106.5h1M39 106.5h2M31 107.5h1M35 107.5h1M41 107.5h1M27 108.5h1M30 108.5h2M39 108.5h2M29 109.5h1M35 109.5h1M38 109.5h2M33 110.5h2M38 110.5h1M28 111.5h1M33 111.5h1M35 111.5h1M37 113.5h1M39 114.5h1M29 116.5h1M35 116.5h2M29 117.5h1M31 117.5h1M36 117.5h1M37 118.5h1M39 118.5h1"/>
<path stroke="#bad9ed" d="M31 0.5h1M33 0.5h1M33 1.5h3M31 4.5h1M37 4.5h2M40 4.5h2M37 5.5h1M35 7.5h2M31 9.5h2M36 9.5h1M38 9.5h2M38 10.5h2M36 11.5h1M37 12.5h1M31 13.5h1M39 13.5h1M41 13.5h1M32 14.5h1M35 14.5h1M37 14.5h1M34 15.5h1M38 15.5h1M40 15.5h1M34 16.5h1M39 20.5h1M40 21.5h1M41 23.5h1M34 25.5h1M39 25.5h1M36 26.5h1M41 26.5h1M37 27.5h1M33 28.5h1M39 29.5h1M33 31.5h1M35 32.5h1M37 32.5h1M31 34.5h1M39 34.5h2M36 36.5h1M38 36.5h1M38 37.5h1M32 39.5h2M33 41.5h1M35 41.5h1M38 42.5h1M35 44.5h1M36 45.5h1M38 45.5h1M35 46.5h1M37 48.5h1M41 48.5h1M36 49.5h1M35 52.5h1M37 52.5h2M38 53.5h1M32 54.5h1M39 54.5h1M32 55.5h1M37 55.5h1M37 56.5h1M33 57.5h2M37 58.5h1M40 59.5h1M36 60.5h1M34 61.5h3M34 62.5h2M37 62.5h1M39 62.5h1M37 63.5h1M29 64.5h3M35 64.5h1M41 64.5h1M30 65.5h1M34 65.5h1M41 65.5h1M29 66.5h2M38 66.5h1M41 66.5h1M37 67.5h1M31 68.5h1M39 68.5h1M32 69.5h2M35 71.5h1M37 71.5h2M40 71.5h2M30 74.5h1M38 74.5h2M33 75.5h1M39 75.5h1M41 75.5h1M30 76.5h2M36 76.5h1M36 77.5h1M40 78.5h2M32 79.5h1M38 79.5h1M32 80.5h1M34 80.5h1M31 81.5h1M36 81.5h1M31 82.5h1M40 82.5h2M34 83.5h1M37 83.5h1M40 83.5h1M33 84.5h1M37 86.5h1M37 87.5h2M33 89.5h2M39 89.5h1M37 94.5h1M37 95.5h2M34 97.5h1M38 98.5h1M35 99.5h1M37 99.5h1M41 100.5h1M37 104.5h1M27 106.5h1M35 106.5h1M33 108.5h1M35 108.5h1M41 108.5h1M35 110.5h1M24 111.5h1M36 111.5h1M40 111.5h1M33 115.5h1M36 115.5h1M38 116.5h1M34 117.5h1M40 117.5h1M36 118.5h1M41 118.5h1"/>
<path stroke="#afd2ea" d="M32 0.5h1M38 0.5h1M36 1.5h2M41 1.5h1M32 3.5h1M34 3.5h2M37 3.5h1M39 3.5h1M41 3.5h1M39 4.5h1M32 8.5h1M35 8.5h1M41 8.5h1M30 9.5h1M33 9.5h2M35 10.5h1M40 10.5h1M31 11.5h1M38 11.5h1M36 13.5h1M34 14.5h1M36 14.5h1M38 14.5h1M36 15.5h1M38 18.5h2M41 18.5h1M38 20.5h1M37 23.5h4M36 25.5h1M40 25.5h2M38 26.5h1M39 27.5h2M30 31.5h1M34 32.5h1M38 34.5h1M37 36.5h1M34 39.5h3M38 39.5h1M34 41.5h1M37 41.5h1M40 41.5h1M39 45.5h2M34 49.5h2M36 55.5h1M36 56.5h1M39 56.5h1M32 57.5h1M39 59.5h1M32 62.5h2M33 63.5h1M32 64.5h1M36 64.5h1M39 64.5h1M32 65.5h2M35 65.5h1M32 66.5h2M36 66.5h1M40 66.5h1M33 68.5h2M35 69.5h1M39 71.5h1M32 74.5h1M36 75.5h1M24 76.5h1M33 76.5h1M37 76.5h3M37 78.5h1M39 78.5h1M35 79.5h1M33 80.5h1M33 81.5h1M39 81.5h2M39 82.5h1M38 83.5h1M31 84.5h2M39 84.5h1M32 88.5h1M32 89.5h1M38 89.5h1M35 98.5h1M36 99.5h1M36 102.5h2M38 104.5h1M36 110.5h1M37 111.5h1M37 115.5h1M40 115.5h2M35 117.5h1M39 117.5h1"/>
<path stroke="#c6dff0" d="M34 0.5h1M30 4.5h1M32 5.5h5M38 5.5h1M38 6.5h1M34 7.5h1M30 8.5h2M35 9.5h1M37 9.5h1M40 9.5h1M31 10.5h4M32 11.5h1M35 11.5h1M39 12.5h1M37 13.5h2M40 13.5h1M31 15.5h1M32 16.5h1M35 16.5h1M39 16.5h1M33 18.5h1M37 18.5h1M40 18.5h1M36 20.5h2M32 21.5h2M29 23.5h2M36 24.5h1M35 25.5h1M31 26.5h2M35 26.5h1M39 26.5h2M31 27.5h3M32 28.5h1M34 28.5h2M38 28.5h1M40 29.5h1M41 30.5h1M34 31.5h2M33 32.5h1M38 32.5h2M33 33.5h1M38 33.5h2M41 33.5h1M41 34.5h1M34 37.5h1M39 37.5h1M31 39.5h1M39 39.5h1M39 40.5h1M41 41.5h1M30 42.5h1M35 42.5h1M36 44.5h2M41 44.5h1M37 45.5h1M41 45.5h1M33 46.5h1M36 46.5h2M39 47.5h1M32 48.5h1M35 48.5h1M40 48.5h1M32 49.5h1M37 49.5h1M39 49.5h3M38 51.5h1M32 52.5h1M39 52.5h1M41 52.5h1M35 53.5h2M31 54.5h1M35 54.5h1M37 54.5h2M40 54.5h1M33 55.5h2M40 55.5h2M40 56.5h1M37 57.5h1M39 57.5h1M34 58.5h1M34 59.5h1M34 60.5h1M39 60.5h2M31 61.5h1M33 61.5h1M40 61.5h1M36 62.5h1M31 63.5h2M34 63.5h1M34 64.5h1M40 64.5h1M31 65.5h1M36 65.5h1M39 65.5h2M24 66.5h1M31 66.5h1M34 66.5h2M39 66.5h1M32 67.5h1M36 67.5h1M38 67.5h1M40 67.5h1M37 68.5h1M40 68.5h2M37 69.5h1M31 72.5h3M34 73.5h1M33 74.5h2M37 74.5h1M40 74.5h1M31 75.5h2M32 76.5h1M33 77.5h2M37 77.5h2M40 77.5h1M31 79.5h1M36 79.5h2M39 79.5h1M29 80.5h1M35 80.5h1M37 80.5h1M40 80.5h2M32 81.5h1M35 81.5h1M38 81.5h1M41 81.5h1M30 82.5h1M32 82.5h1M31 83.5h1M33 83.5h1M36 83.5h1M41 83.5h1M29 84.5h1M39 87.5h1M31 88.5h1M36 88.5h1M38 88.5h1M40 88.5h2M29 89.5h1M31 91.5h1M34 91.5h5M31 92.5h1M36 92.5h1M38 92.5h1M35 94.5h1M38 94.5h1M35 95.5h2M39 95.5h1M41 95.5h1M32 97.5h2M31 98.5h1M34 98.5h1M37 98.5h1M34 99.5h1M38 99.5h1M40 99.5h2M36 100.5h2M30 102.5h1M33 102.5h1M35 102.5h1M32 103.5h1M35 104.5h1M11 106.5h1M41 106.5h1M36 107.5h1M38 108.5h1M31 110.5h1M31 111.5h1M34 111.5h1M38 111.5h1M34 115.5h1M38 115.5h1M37 116.5h1M38 117.5h1M34 118.5h1"/>
<path stroke="#a3cce8" d="M35 0.5h1M37 0.5h1M39 0.5h1M41 0.5h1M38 1.5h1M36 3.5h1M38 3.5h1M40 3.5h1M32 4.5h3M37 8.5h1M41 10.5h1M37 11.5h1M33 14.5h1M39 15.5h1M31 23.5h5M33 25.5h1M38 25.5h1M37 26.5h1M36 28.5h2M36 32.5h1M35 34.5h1M37 34.5h1M37 39.5h1M33 49.5h1M38 49.5h1M35 55.5h1M38 56.5h1M31 57.5h1M37 60.5h2M33 64.5h1M38 64.5h1M37 66.5h1M32 68.5h1M34 71.5h1M36 71.5h1M34 75.5h2M37 75.5h1M40 75.5h1M34 76.5h1M41 76.5h1M32 78.5h2M38 78.5h1M33 79.5h2M34 81.5h1M32 83.5h1M34 84.5h4M35 89.5h1M37 89.5h1M32 94.5h1M39 115.5h1"/>
<path stroke="#98c5e5" d="M36 0.5h1M40 0.5h1M33 3.5h1M35 4.5h2M33 8.5h2M39 8.5h2M37 15.5h1M36 23.5h1M37 25.5h1M34 34.5h1M36 34.5h1M32 36.5h1M38 41.5h1M35 60.5h1M37 64.5h1M33 71.5h1M38 75.5h1M40 76.5h1M34 78.5h3M34 82.5h1M38 82.5h1M38 84.5h1M36 89.5h1M39 92.5h1M37 107.5h1"/>
<path stroke="#faaa25" d="M1 1.5h1M3 1.5h2M8 1.5h4M13 1.5h3M24 1.5h1M0 2.5h1M10 2.5h1M13 2.5h1M15 2.5h1M17 2.5h2M20 2.5h1M22 2.5h1M24 2.5h1M14 3.5h1M1 5.5h1M14 6.5h1M20 6.5h2M24 6.5h1M0 7.5h1M19 7.5h1M21 7.5h1M22 8.5h1M3 10.5h1M5 10.5h1M9 10.5h1M11 10.5h1M14 10.5h2M9 12.5h1M13 13.5h1M16 13.5h2M8 14.5h3M0 15.5h1M2 16.5h1M4 16.5h3M9 16.5h1M12 16.5h1M2 17.5h1M4 17.5h1M7 17.5h1M13 17.5h1M22 17.5h2M28 17.5h1M5 18.5h2M9 18.5h1M19 18.5h1M21 18.5h1M24 18.5h1M0 19.5h1M3 19.5h1M5 19.5h1M7 19.5h1M10 19.5h1M17 19.5h1M0 20.5h1M3 20.5h1M5 20.5h1M7 20.5h1M10 20.5h1M16 20.5h1M0 21.5h1M5 21.5h1M7 21.5h1M18 21.5h2M21 21.5h1M0 22.5h2M3 22.5h1M13 22.5h1M21 22.5h1M12 23.5h1M6 24.5h1M19 24.5h1M23 24.5h1M9 25.5h1M20 25.5h1M6 26.5h1M12 26.5h1M15 26.5h1M4 27.5h3M14 27.5h1M5 28.5h2M15 28.5h1M18 28.5h1M1 29.5h1M6 29.5h1M15 29.5h1M20 29.5h1M6 30.5h1M8 30.5h3M13 30.5h1M17 30.5h2M0 31.5h2M10 31.5h1M12 31.5h1M18 31.5h2M22 31.5h2M10 32.5h1M13 32.5h5M3 33.5h1M23 33.5h1M25 33.5h1M4 34.5h1M3 35.5h2M6 35.5h1M12 35.5h1M22 35.5h3M12 36.5h1M25 36.5h1M8 37.5h1M11 37.5h1M15 37.5h2M27 37.5h1M1 38.5h1M4 38.5h1M7 38.5h1M13 38.5h1M17 39.5h1M12 40.5h2M17 40.5h3M3 41.5h1M5 41.5h1M13 41.5h1M0 42.5h1M4 42.5h1M6 42.5h1M13 42.5h1M18 42.5h1M23 42.5h2M2 43.5h1M10 43.5h1M13 43.5h3M19 43.5h1M25 43.5h1M1 44.5h1M7 44.5h2M10 44.5h1M14 44.5h3M21 44.5h1M2 45.5h3M7 45.5h2M19 45.5h1M3 46.5h1M5 46.5h1M9 46.5h1M17 46.5h1M24 46.5h1M3 47.5h1M5 47.5h1M14 47.5h1M23 47.5h1M3 48.5h1M6 48.5h1M9 48.5h1M11 48.5h1M21 48.5h1M10 49.5h1M0 50.5h3M9 50.5h1M14 50.5h1M17 50.5h1M21 50.5h2M25 50.5h1M0 51.5h2M7 51.5h1M11 51.5h1M18 51.5h1M22 51.5h1M26 51.5h2M1 52.5h1M20 52.5h1M23 52.5h1M0 53.5h1M9 53.5h1M8 54.5h1M17 54.5h1M27 54.5h1M0 55.5h1M4 55.5h1M8 55.5h1M14 55.5h2M19 55.5h2M22 55.5h1M0 56.5h1M7 56.5h1M12 56.5h2M18 56.5h1M0 57.5h1M8 58.5h1M11 58.5h1M15 58.5h1M18 58.5h2M22 58.5h1M1 59.5h1M3 59.5h1M9 59.5h1M12 59.5h1M14 59.5h1M17 59.5h1M26 59.5h1M0 60.5h1M23 60.5h1M2 61.5h1M13 61.5h4M10 62.5h1M17 62.5h1M0 63.5h1M3 63.5h1M6 63.5h1M8 63.5h1M18 63.5h1M23 63.5h1M7 65.5h1M0 66.5h1M10 66.5h1M0 67.5h2M9 67.5h1M11 67.5h1M13 67.5h4M22 67.5h1M2 70.5h1M5 70.5h1M7 70.5h1M9 70.5h3M15 70.5h1M17 70.5h1M20 70.5h2M2 71.5h1M14 71.5h1M17 71.5h1M1 72.5h1M4 72.5h1M8 72.5h1M14 72.5h1M18 72.5h3M26 72.5h1M2 73.5h1M5 73.5h1M8 73.5h1M13 73.5h2M18 73.5h2M23 73.5h1M25 73.5h1M17 74.5h2M17 75.5h1M0 77.5h1M3 77.5h1M5 77.5h1M8 77.5h1M12 77.5h2M15 77.5h1M20 77.5h2M23 77.5h1M3 79.5h1M9 79.5h1M1 80.5h1M3 80.5h1M5 80.5h1M16 80.5h1M20 80.5h1M27 81.5h1M23 82.5h1M2 83.5h1M6 83.5h1M9 83.5h1M18 83.5h1M5 85.5h1M18 85.5h1M23 85.5h1M25 85.5h2M0 86.5h1M4 86.5h1M6 86.5h1M8 86.5h1M10 86.5h1M18 86.5h1M22 86.5h1M2 87.5h1M6 87.5h1M17 87.5h2M16 88.5h2M23 88.5h1M26 88.5h1M2 90.5h1M8 90.5h2M15 90.5h1M2 91.5h1M6 91.5h2M14 91.5h1M19 91.5h1M25 91.5h1M6 92.5h1M9 92.5h1M18 92.5h1M3 93.5h2M11 93.5h2M17 93.5h1M1 94.5h2M26 94.5h1M5 95.5h1M7 95.5h2M20 95.5h1M0 96.5h1M3 96.5h2M12 96.5h1M14 96.5h1M1 97.5h1M8 97.5h1M10 97.5h1M15 97.5h1M2 98.5h1M6 98.5h2M16 98.5h1M18 98.5h1M15 99.5h1M6 100.5h2M17 100.5h1M0 101.5h1M3 101.5h2M12 101.5h1M18 101.5h1M20 101.5h1M25 101.5h1M27 101.5h1M1 103.5h2M3 104.5h1M0 105.5h2M3 105.5h1M10 105.5h1M14 105.5h2M23 105.5h3M3 107.5h1M7 107.5h1M15 107.5h1M19 107.5h1M21 107.5h1M25 107.5h1M7 109.5h1M16 109.5h1M0 110.5h1M5 110.5h1M8 111.5h1M8 112.5h1M16 112.5h1M22 112.5h1M24 112.5h1M29 112.5h1M5 113.5h1M9 113.5h4M22 113.5h1M2 114.5h1M14 114.5h1M17 114.5h1M24 114.5h1M12 116.5h1M16 116.5h2M20 116.5h1M24 116.5h1M6 117.5h2M18 117.5h1M3 118.5h1M15 118.5h2M21 118.5h1"/>
<path stroke="#f79a1c" d="M2 1.5h1M17 1.5h1M1 2.5h1M6 2.5h1M9 2.5h1M21 2.5h1M4 6.5h1M10 6.5h1M13 6.5h1M15 6.5h2M6 7.5h1M18 7.5h1M8 10.5h1M7 12.5h1M0 17.5h1M3 17.5h1M8 17.5h2M12 17.5h1M14 17.5h1M16 17.5h1M20 17.5h2M0 18.5h1M2 19.5h1M4 19.5h1M8 19.5h1M11 19.5h1M20 19.5h1M1 20.5h1M6 20.5h1M4 21.5h1M6 21.5h1M9 21.5h1M22 21.5h1M2 22.5h1M6 22.5h1M8 22.5h1M12 22.5h1M14 22.5h1M19 22.5h2M27 22.5h1M18 24.5h1M24 24.5h3M2 25.5h1M13 26.5h1M17 26.5h1M3 27.5h1M8 27.5h1M2 28.5h1M4 28.5h1M8 28.5h1M14 28.5h1M17 28.5h1M9 29.5h3M19 29.5h1M0 30.5h3M14 30.5h1M16 30.5h1M3 31.5h2M8 31.5h2M11 31.5h1M21 31.5h1M18 32.5h1M1 33.5h1M7 33.5h2M16 33.5h1M19 33.5h2M5 35.5h1M8 35.5h4M20 35.5h2M2 36.5h1M5 37.5h1M9 37.5h2M20 37.5h2M0 38.5h1M2 38.5h1M17 38.5h2M1 40.5h1M9 40.5h1M18 41.5h1M3 42.5h1M7 42.5h1M21 42.5h2M8 43.5h2M23 44.5h1M18 45.5h1M4 46.5h1M10 46.5h1M2 47.5h1M6 47.5h3M4 50.5h2M16 50.5h1M23 50.5h2M40 50.5h1M3 51.5h2M10 51.5h1M13 51.5h2M16 51.5h1M20 51.5h2M24 51.5h1M17 52.5h1M1 53.5h1M6 53.5h1M14 54.5h1M8 56.5h2M23 56.5h1M21 57.5h1M2 59.5h1M11 59.5h1M13 59.5h1M7 62.5h1M9 62.5h1M1 63.5h1M9 63.5h1M11 63.5h1M22 63.5h1M6 65.5h1M8 65.5h3M9 66.5h1M12 67.5h1M0 69.5h1M2 69.5h1M17 69.5h3M1 70.5h1M3 70.5h1M14 70.5h1M16 70.5h1M18 70.5h1M22 70.5h2M0 71.5h1M16 71.5h1M5 72.5h1M7 73.5h1M9 73.5h1M15 73.5h2M9 77.5h1M2 80.5h1M14 80.5h1M1 83.5h1M8 83.5h1M17 83.5h1M2 85.5h1M6 85.5h3M10 85.5h1M13 85.5h1M19 85.5h2M27 85.5h1M5 86.5h1M17 86.5h1M19 86.5h1M11 87.5h1M16 87.5h1M7 89.5h1M13 90.5h1M15 91.5h1M18 91.5h1M7 92.5h1M2 93.5h1M5 93.5h1M16 93.5h1M22 93.5h1M30 93.5h1M11 95.5h3M15 96.5h1M3 97.5h1M7 97.5h1M0 98.5h1M17 98.5h1M2 100.5h1M1 101.5h2M5 101.5h1M7 101.5h1M7 102.5h1M7 103.5h1M2 104.5h1M9 104.5h1M5 105.5h1M11 105.5h2M16 105.5h2M19 105.5h2M0 107.5h1M2 107.5h1M13 107.5h2M17 107.5h1M22 107.5h1M24 107.5h1M5 109.5h2M1 112.5h1M14 112.5h2M18 112.5h1M23 112.5h1M25 112.5h2M13 113.5h1M17 113.5h1M20 113.5h2M9 114.5h1M16 114.5h1M20 114.5h2M19 116.5h1M5 117.5h1M15 117.5h1"/>
<path stroke="#d2e5f3" d="M31 1.5h1M39 1.5h1M32 2.5h1M6 3.5h1M30 3.5h2M25 4.5h1M31 5.5h1M39 5.5h3M32 7.5h2M37 7.5h3M29 9.5h1M41 9.5h1M30 10.5h1M36 10.5h2M33 11.5h2M31 12.5h1M38 12.5h1M30 13.5h1M32 13.5h2M35 13.5h1M31 14.5h1M39 14.5h2M30 15.5h1M35 15.5h1M41 15.5h1M33 16.5h1M36 16.5h1M39 17.5h1M32 18.5h1M34 18.5h3M31 20.5h1M34 20.5h1M41 20.5h1M30 21.5h1M35 21.5h1M37 21.5h1M39 21.5h1M41 21.5h1M33 22.5h1M28 23.5h1M35 24.5h1M37 24.5h2M12 25.5h1M32 25.5h1M30 26.5h1M33 26.5h2M28 27.5h2M35 27.5h2M41 27.5h1M30 28.5h1M31 29.5h3M35 29.5h1M38 29.5h1M31 30.5h2M34 30.5h1M36 30.5h1M39 30.5h1M32 31.5h1M37 31.5h2M8 32.5h1M32 32.5h1M41 32.5h1M32 33.5h1M29 34.5h2M30 36.5h2M34 36.5h2M39 36.5h1M41 36.5h1M40 37.5h1M30 39.5h1M40 39.5h2M37 40.5h2M40 40.5h2M32 41.5h1M36 41.5h1M10 42.5h1M31 42.5h3M36 42.5h2M39 42.5h1M31 43.5h1M34 43.5h1M38 43.5h1M33 44.5h2M38 44.5h1M40 44.5h1M30 45.5h1M34 45.5h2M31 46.5h2M34 46.5h1M38 46.5h1M34 47.5h3M29 48.5h2M33 48.5h2M36 48.5h1M38 48.5h1M35 51.5h1M37 51.5h1M30 52.5h1M33 52.5h2M36 52.5h1M40 52.5h1M31 53.5h1M33 53.5h2M37 53.5h1M39 53.5h2M33 54.5h2M41 54.5h1M30 55.5h1M39 55.5h1M30 56.5h1M32 56.5h1M34 56.5h2M41 56.5h1M35 57.5h1M38 57.5h1M32 58.5h2M33 59.5h1M36 59.5h1M38 59.5h1M41 60.5h1M32 61.5h1M31 62.5h1M38 62.5h1M40 62.5h2M35 63.5h2M38 63.5h2M37 65.5h2M26 66.5h2M33 67.5h1M39 67.5h1M41 67.5h1M29 68.5h1M36 68.5h1M38 68.5h1M34 69.5h1M36 69.5h1M38 69.5h1M34 70.5h1M38 70.5h1M34 72.5h1M37 72.5h2M41 72.5h1M30 73.5h1M40 73.5h1M21 74.5h1M29 74.5h1M31 74.5h1M41 74.5h1M26 75.5h1M29 76.5h1M35 77.5h1M30 80.5h2M39 80.5h1M37 81.5h1M2 82.5h1M35 83.5h1M39 83.5h1M28 84.5h1M40 84.5h1M36 86.5h1M38 86.5h1M41 87.5h1M33 88.5h1M35 88.5h1M37 88.5h1M40 89.5h2M37 90.5h1M39 90.5h1M33 91.5h1M39 91.5h1M35 92.5h1M40 92.5h1M31 94.5h1M33 94.5h1M36 94.5h1M39 94.5h2M32 95.5h2M37 96.5h2M26 97.5h1M29 97.5h1M35 97.5h1M32 98.5h2M36 98.5h1M39 98.5h1M30 100.5h1M32 100.5h1M34 100.5h2M38 100.5h1M39 101.5h1M29 102.5h1M31 102.5h2M38 102.5h2M41 102.5h1M34 103.5h2M38 103.5h1M32 104.5h1M36 104.5h1M39 104.5h1M28 106.5h2M31 106.5h1M33 106.5h2M34 107.5h1M16 108.5h1M32 108.5h1M34 108.5h1M37 108.5h1M30 110.5h1M37 110.5h1M32 111.5h1M39 111.5h1M7 113.5h1M40 113.5h1M38 114.5h1M29 115.5h4M35 115.5h1M31 116.5h1M34 116.5h1M39 116.5h1M30 117.5h1M32 117.5h1M37 117.5h1M41 117.5h1M32 118.5h2M35 118.5h1M38 118.5h1"/>
<path stroke="#f18019" d="M2 2.5h1M0 6.5h2M3 6.5h1M5 6.5h1M7 6.5h2M18 6.5h1M7 16.5h1M6 17.5h1M17 17.5h2M7 22.5h1M15 22.5h2M2 31.5h1M6 31.5h1M17 31.5h1M9 33.5h1M14 33.5h1M21 33.5h2M1 35.5h1M14 35.5h2M17 35.5h1M3 37.5h1M18 37.5h2M19 38.5h2M10 40.5h1M8 51.5h1M8 53.5h1M27 55.5h1M2 57.5h1M14 57.5h1M17 63.5h1M1 71.5h1M1 73.5h1M1 85.5h1M11 85.5h1M15 85.5h1M1 93.5h1M7 93.5h1M15 93.5h1M19 93.5h2M15 95.5h1M9 101.5h1M13 105.5h1M9 109.5h1M5 112.5h1"/>
<path stroke="#f48d1a" d="M8 2.5h1M14 2.5h1M16 2.5h1M19 2.5h1M2 6.5h1M6 6.5h1M12 6.5h1M17 6.5h1M19 6.5h1M4 12.5h1M5 17.5h1M11 17.5h1M15 17.5h1M1 19.5h1M5 22.5h1M11 22.5h1M17 22.5h2M3 25.5h1M8 26.5h1M14 29.5h1M5 31.5h1M7 31.5h1M16 31.5h1M0 33.5h1M5 33.5h2M10 33.5h2M13 33.5h1M15 33.5h1M18 33.5h1M0 35.5h1M2 35.5h1M7 35.5h1M13 35.5h1M18 35.5h2M0 37.5h3M4 37.5h1M6 37.5h2M14 37.5h1M17 37.5h1M5 38.5h2M8 38.5h3M24 38.5h1M11 40.5h1M17 42.5h1M17 44.5h2M5 45.5h2M0 47.5h2M4 47.5h1M18 50.5h1M20 50.5h1M2 51.5h1M9 51.5h1M7 52.5h1M18 53.5h1M13 57.5h1M8 59.5h1M26 61.5h1M16 63.5h1M17 68.5h1M0 70.5h1M4 70.5h1M25 70.5h1M6 73.5h1M12 73.5h1M17 73.5h1M10 77.5h1M3 83.5h1M7 83.5h1M11 84.5h1M4 85.5h1M12 85.5h1M17 85.5h1M21 85.5h1M9 86.5h1M1 87.5h1M8 87.5h1M10 87.5h1M14 88.5h2M8 92.5h1M0 93.5h1M10 93.5h1M14 93.5h1M21 93.5h1M23 93.5h1M6 101.5h1M8 101.5h1M13 101.5h3M17 101.5h1M8 103.5h1M2 105.5h1M4 105.5h1M8 107.5h2M16 107.5h1M23 107.5h1M10 109.5h1M4 112.5h1M6 112.5h2M17 112.5h1M18 113.5h2M15 114.5h1"/>
<path stroke="#ee7418" d="M9 6.5h1M19 17.5h1M9 22.5h1M12 33.5h1M16 35.5h1M19 53.5h1M0 85.5h1M3 85.5h1M9 85.5h1M14 85.5h1M6 93.5h1M8 93.5h1M16 101.5h1M9 103.5h1M2 112.5h1"/>
<path stroke="#82b9e0" d="M36 8.5h1M32 34.5h1M39 41.5h1"/>
<path stroke="#8cbfe2" d="M38 8.5h1M33 34.5h1M33 36.5h1M39 48.5h1M35 76.5h1M33 82.5h1M36 82.5h2M38 101.5h1"/>
<path stroke="#eb6719" d="M10 22.5h1M9 93.5h1M3 112.5h1"/>
<path stroke="#77b3dd" d="M35 82.5h1"/>
<path stroke="#e85a1a" d="M16 85.5h1M13 93.5h1"/>
</g>
<g transform="translate(25 173) scale(4.5 1)" fill="none" stroke-width="1" shape-rendering="crispEdges">
<path stroke="#82b9e0" d="M0 0.5h1M1 21.5h1"/>
<path stroke="#f4f7f4" d="M1 0.5h1M10 0.5h1M12 0.5h2M17 0.5h1M26 0.5h1M17 1.5h1M19 1.5h2M29 1.5h1M31 1.5h1M14 2.5h1M27 2.5h1M30 2.5h2M2 3.5h3M12 3.5h1M6 4.5h2M9 4.5h4M19 4.5h1M1 5.5h1M15 6.5h1M18 6.5h2M1 7.5h1M7 7.5h1M16 7.5h2M20 7.5h2M15 8.5h1M17 8.5h1M13 9.5h2M18 9.5h1M21 9.5h1M30 9.5h1M13 10.5h2M1 11.5h1M7 11.5h2M14 11.5h2M17 11.5h1M24 11.5h1M29 11.5h1M6 12.5h1M8 12.5h1M11 12.5h1M14 12.5h2M8 13.5h1M10 13.5h1M13 13.5h1M16 13.5h1M19 13.5h1M32 13.5h1M16 14.5h2M20 14.5h1M23 14.5h1M9 15.5h1M13 15.5h1M18 15.5h1M25 15.5h1M27 15.5h2M10 16.5h2M13 16.5h1M15 16.5h1M17 16.5h1M24 16.5h2M3 17.5h1M9 17.5h3M13 17.5h1M5 18.5h1M9 18.5h2M13 18.5h3M10 19.5h2M13 19.5h1M16 19.5h3M25 19.5h1M7 20.5h2M11 20.5h1M15 20.5h3M19 20.5h1M12 21.5h2M16 21.5h1M19 21.5h2"/>
<path stroke="#c6dff0" d="M2 0.5h1M6 0.5h1M3 1.5h1M6 2.5h1M10 3.5h1M8 6.5h1M2 7.5h1M4 7.5h1M4 9.5h1M6 9.5h1M11 9.5h1M1 10.5h1M0 11.5h1M2 11.5h1M8 14.5h1M10 14.5h1M5 15.5h1M8 15.5h1M0 18.5h1M7 19.5h1M4 20.5h1M4 21.5h1"/>
<path stroke="#bad9ed" d="M3 0.5h2M2 1.5h1M0 2.5h1M2 2.5h1M3 11.5h1M3 12.5h1M3 13.5h1M5 14.5h1M3 15.5h1M7 15.5h1M2 16.5h1"/>
<path stroke="#deecf6" d="M5 0.5h1M7 0.5h1M15 0.5h1M4 1.5h1M8 1.5h2M7 2.5h1M9 2.5h1M3 4.5h2M8 5.5h1M10 5.5h1M5 6.5h1M11 6.5h1M16 6.5h1M19 8.5h1M7 9.5h1M10 9.5h1M12 9.5h1M19 9.5h2M2 10.5h1M10 10.5h1M15 10.5h1M17 10.5h1M5 11.5h1M5 12.5h1M4 13.5h1M7 13.5h1M21 14.5h1M19 15.5h1M23 15.5h1M8 16.5h1M21 17.5h1M2 18.5h2M7 18.5h2M3 19.5h1M5 19.5h2M8 19.5h1M13 20.5h1M20 20.5h1M5 21.5h1M7 21.5h1M14 21.5h1"/>
<path stroke="#e9f2f7" d="M8 0.5h1M16 0.5h1M19 0.5h2M5 1.5h3M10 1.5h1M18 1.5h1M23 1.5h1M8 2.5h1M10 2.5h1M12 2.5h2M29 2.5h1M5 4.5h1M13 4.5h3M4 5.5h1M9 5.5h1M4 6.5h1M5 7.5h2M8 7.5h1M14 7.5h1M18 7.5h2M8 9.5h2M22 9.5h2M0 10.5h1M3 10.5h3M8 10.5h1M11 10.5h2M16 10.5h1M37 11.5h1M7 12.5h1M25 12.5h1M11 13.5h2M14 13.5h1M29 13.5h1M9 14.5h1M14 14.5h1M19 14.5h1M22 14.5h1M24 14.5h3M11 15.5h1M20 15.5h2M24 15.5h1M29 15.5h1M7 16.5h1M9 16.5h1M18 16.5h3M4 17.5h3M8 17.5h1M6 18.5h1M11 18.5h1M4 19.5h1M9 19.5h1M14 19.5h2M21 19.5h1M6 20.5h1M10 20.5h1M12 20.5h1"/>
<path stroke="#fffcf2" d="M9 0.5h1M14 0.5h1M18 0.5h1M22 0.5h1M13 1.5h3M27 1.5h2M11 2.5h1M18 2.5h5M1 3.5h1M7 3.5h1M11 3.5h1M14 3.5h2M17 3.5h3M8 4.5h1M17 4.5h1M5 5.5h3M12 5.5h1M17 5.5h1M14 6.5h1M17 6.5h1M23 6.5h1M27 6.5h1M15 7.5h1M22 7.5h2M26 7.5h1M2 8.5h6M15 9.5h1M17 9.5h1M24 9.5h1M26 9.5h2M29 9.5h1M31 9.5h1M6 10.5h2M18 10.5h1M21 10.5h1M6 11.5h1M9 11.5h1M12 11.5h2M19 11.5h2M27 11.5h1M9 12.5h2M13 12.5h1M16 12.5h1M23 12.5h2M26 12.5h1M9 13.5h1M28 13.5h1M13 14.5h1M18 14.5h1M10 15.5h1M12 15.5h1M14 15.5h1M17 15.5h1M32 15.5h1M5 16.5h1M12 16.5h1M14 16.5h1M16 16.5h1M21 16.5h1M23 16.5h1M29 16.5h1M31 16.5h1M2 17.5h1M7 17.5h1M12 17.5h1M20 17.5h1M12 18.5h1M19 19.5h1M22 19.5h1M24 19.5h1M26 19.5h3M9 20.5h1M14 20.5h1M32 20.5h1M11 21.5h1M15 21.5h1M21 21.5h2M31 21.5h1"/>
<path stroke="#faaa25" d="M11 0.5h1M28 0.5h1M35 0.5h2M34 1.5h1M36 1.5h2M34 2.5h2M0 3.5h1M34 3.5h1M27 4.5h1M29 4.5h3M23 5.5h1M30 5.5h1M34 5.5h1M21 6.5h1M28 6.5h1M30 6.5h2M28 7.5h1M32 7.5h2M21 8.5h1M25 8.5h1M27 8.5h1M35 9.5h1M37 9.5h1M31 10.5h1M33 12.5h1M35 12.5h3M36 13.5h1M33 14.5h1M35 14.5h1M35 15.5h3M32 16.5h1M34 16.5h1M26 17.5h2M32 17.5h2M36 17.5h1M24 18.5h1M35 18.5h1M33 19.5h1M33 21.5h2"/>
<path stroke="#fee9b0" d="M21 0.5h1M25 0.5h1M30 0.5h1M11 1.5h1M16 1.5h1M21 1.5h2M33 1.5h1M15 2.5h1M17 2.5h1M23 2.5h1M26 2.5h1M28 2.5h1M5 3.5h2M8 3.5h2M13 3.5h1M16 3.5h1M24 3.5h1M27 3.5h1M0 4.5h1M16 4.5h1M18 4.5h1M20 4.5h2M0 5.5h1M16 5.5h1M18 5.5h1M12 6.5h2M25 6.5h1M10 7.5h2M13 7.5h1M25 7.5h1M0 8.5h1M9 8.5h1M13 8.5h2M16 8.5h1M18 8.5h1M16 9.5h1M25 9.5h1M28 9.5h1M32 9.5h1M9 10.5h1M19 10.5h1M22 10.5h1M24 10.5h1M26 10.5h1M28 10.5h1M10 11.5h1M16 11.5h1M18 11.5h1M21 11.5h2M25 11.5h2M28 11.5h1M34 11.5h1M36 11.5h1M12 12.5h1M18 12.5h1M20 12.5h1M15 13.5h1M17 13.5h2M20 13.5h2M30 13.5h2M33 13.5h1M28 14.5h1M15 15.5h2M26 15.5h1M30 15.5h2M4 16.5h1M26 16.5h3M30 16.5h1M14 17.5h4M30 17.5h1M35 17.5h1M18 18.5h2M25 18.5h1M27 18.5h2M33 18.5h1M20 19.5h1M23 19.5h1M18 20.5h1M21 20.5h5M28 20.5h3M33 20.5h1M8 21.5h3M18 21.5h1M23 21.5h1M27 21.5h1"/>
<path stroke="#fdd16a" d="M23 0.5h2M29 0.5h1M32 0.5h2M12 1.5h1M24 1.5h3M16 2.5h1M24 2.5h1M25 3.5h1M25 4.5h1M11 5.5h1M13 5.5h2M19 5.5h2M22 5.5h1M25 5.5h2M24 6.5h1M26 6.5h1M33 6.5h2M9 7.5h1M12 7.5h1M24 7.5h1M27 7.5h1M29 7.5h2M8 8.5h1M23 8.5h2M29 8.5h1M33 9.5h2M29 10.5h2M23 11.5h1M32 11.5h2M35 11.5h1M21 12.5h1M28 12.5h2M31 12.5h1M34 12.5h1M23 13.5h5M34 13.5h1M15 14.5h1M29 14.5h3M34 15.5h1M22 16.5h1M1 17.5h1M19 17.5h1M23 17.5h1M29 17.5h1M16 18.5h2M21 18.5h2M29 18.5h1M34 18.5h1M29 19.5h1M31 19.5h2M34 19.5h1M26 20.5h2M31 20.5h1M17 21.5h1M25 21.5h2M28 21.5h2M32 21.5h1M36 21.5h1"/>
<path stroke="#fcbc3c" d="M27 0.5h1M31 0.5h1M34 0.5h1M37 0.5h1M0 1.5h1M32 1.5h1M35 1.5h1M25 2.5h1M32 2.5h2M20 3.5h1M23 3.5h1M26 3.5h1M22 4.5h2M26 4.5h1M15 5.5h1M21 5.5h1M24 5.5h1M27 5.5h1M20 6.5h1M22 6.5h1M29 6.5h1M32 6.5h1M35 6.5h1M31 7.5h1M10 8.5h3M20 8.5h1M22 8.5h1M26 8.5h1M28 8.5h1M31 8.5h2M20 10.5h1M25 10.5h1M27 10.5h1M32 10.5h1M30 11.5h2M17 12.5h1M19 12.5h1M22 12.5h1M27 12.5h1M30 12.5h1M32 12.5h1M1 13.5h1M35 13.5h1M0 14.5h1M27 14.5h1M33 15.5h1M33 16.5h1M18 17.5h1M22 17.5h1M24 17.5h1M28 17.5h1M34 17.5h1M20 18.5h1M23 18.5h1M26 18.5h1M30 18.5h3M30 19.5h1M35 19.5h2M34 20.5h2M24 21.5h1M30 21.5h1M35 21.5h1"/>
<path stroke="#a3cce8" d="M1 1.5h1M1 2.5h1M2 6.5h1M0 7.5h1M1 9.5h1M2 13.5h1M2 14.5h1M0 19.5h2M1 20.5h1M0 21.5h1M2 21.5h1"/>
<path stroke="#f18019" d="M30 1.5h1M36 2.5h1M36 3.5h2M36 5.5h1M36 6.5h1M37 7.5h1M37 10.5h1M35 16.5h1M36 18.5h1"/>
<path stroke="#afd2ea" d="M3 2.5h1M1 4.5h1M2 9.5h2M1 14.5h1M3 14.5h2M2 15.5h1M4 15.5h1M6 15.5h1M1 18.5h1M3 21.5h1"/>
<path stroke="#d2e5f3" d="M4 2.5h2M2 4.5h1M2 5.5h2M3 6.5h1M6 6.5h2M9 6.5h2M3 7.5h1M5 9.5h1M4 11.5h1M11 11.5h1M2 12.5h1M4 12.5h1M5 13.5h2M6 14.5h2M11 14.5h2M22 15.5h1M0 16.5h1M3 16.5h1M6 16.5h1M4 18.5h1M2 19.5h1M12 19.5h1M0 20.5h1M2 20.5h2M5 20.5h1M6 21.5h1"/>
<path stroke="#f48d1a" d="M37 2.5h1M31 3.5h1M33 4.5h1M36 4.5h2M31 5.5h1M35 5.5h1M37 6.5h1M34 7.5h3M30 8.5h1M35 8.5h1M23 10.5h1M35 10.5h2M22 13.5h1M37 16.5h1M31 17.5h1M37 18.5h1M37 19.5h1M37 20.5h1M37 21.5h1"/>
<path stroke="#f79a1c" d="M21 3.5h2M28 3.5h1M32 3.5h2M35 3.5h1M24 4.5h1M28 4.5h1M32 4.5h1M35 4.5h1M28 5.5h2M32 5.5h2M33 8.5h2M36 8.5h2M36 9.5h1M33 10.5h2M32 14.5h1M34 14.5h1M36 14.5h2M36 16.5h1M25 17.5h1M37 17.5h1M36 20.5h1"/>
<path stroke="#ee7418" d="M29 3.5h2M1 8.5h1M1 12.5h1"/>
<path stroke="#e4491e" d="M34 4.5h1"/>
<path stroke="#eb6719" d="M37 5.5h1M37 13.5h1"/>
<path stroke="#5a9ed4" d="M0 6.5h1"/>
<path stroke="#4d85c4" d="M1 6.5h1"/>
<path stroke="#8cbfe2" d="M0 9.5h1M0 12.5h1M0 13.5h1M1 16.5h1"/>
<path stroke="#98c5e5" d="M0 15.5h2"/>
<path stroke="#64a5d7" d="M0 17.5h1"/>
</g>
<g transform="translate(201 173) scale(4.5 1)" fill="none" stroke-width="1" shape-rendering="crispEdges">
<path stroke="#fcbc3c" d="M0 0.5h2M3 0.5h1M6 0.5h1M8 0.5h1M18 0.5h1M22 0.5h1M3 1.5h4M8 1.5h1M12 1.5h1M17 1.5h1M21 1.5h1M22 2.5h1M24 2.5h1M26 2.5h3M2 3.5h2M6 3.5h1M12 3.5h1M18 3.5h2M21 3.5h1M29 3.5h2M21 4.5h1M7 6.5h1M15 6.5h1M24 6.5h1M2 7.5h2M5 7.5h1M17 7.5h1M24 8.5h2M27 8.5h1M30 8.5h2M22 9.5h1M5 10.5h2M18 10.5h1M12 11.5h2M17 11.5h1M1 12.5h1M3 12.5h2M6 12.5h1M12 12.5h2M23 12.5h1M19 13.5h1M21 13.5h1M27 13.5h1M1 14.5h1M27 14.5h1M0 15.5h1M3 15.5h1M7 15.5h1M10 15.5h1M12 15.5h1M15 15.5h2M22 15.5h1M26 15.5h1M3 16.5h1M6 16.5h1M11 16.5h1M15 16.5h1M9 17.5h1M23 17.5h2M0 18.5h2M16 18.5h1M7 19.5h1M12 19.5h1M20 19.5h1M0 20.5h1M0 21.5h1M2 21.5h1M11 21.5h1M18 21.5h2M21 21.5h1M24 21.5h2"/>
<path stroke="#faaa25" d="M2 0.5h1M4 0.5h1M7 0.5h1M9 0.5h1M14 0.5h2M17 0.5h1M7 1.5h1M11 1.5h1M15 1.5h1M2 2.5h1M1 3.5h1M9 3.5h1M13 3.5h3M5 4.5h1M0 5.5h1M15 5.5h2M20 5.5h1M2 6.5h1M6 6.5h1M14 6.5h1M18 6.5h1M21 6.5h1M6 7.5h1M14 7.5h1M22 8.5h2M4 9.5h1M6 9.5h1M16 9.5h1M18 9.5h2M4 10.5h1M9 10.5h1M17 10.5h1M0 11.5h2M3 11.5h1M10 11.5h1M16 11.5h1M7 12.5h2M10 12.5h1M16 12.5h1M21 14.5h1M5 15.5h2M11 15.5h1M0 16.5h2M7 16.5h1M9 16.5h2M0 17.5h2M19 17.5h1M4 18.5h1M6 18.5h3M18 18.5h2M22 18.5h1M8 19.5h3M19 19.5h1M18 20.5h1M3 21.5h1M5 21.5h1M7 21.5h1M15 21.5h1M17 21.5h1M20 21.5h1"/>
<path stroke="#fdd16a" d="M5 0.5h1M19 0.5h1M14 1.5h1M16 1.5h1M31 2.5h1M4 3.5h1M24 3.5h1M17 5.5h2M21 5.5h2M24 5.5h1M28 5.5h1M20 6.5h1M22 6.5h1M25 6.5h1M30 6.5h1M35 6.5h1M1 7.5h1M7 7.5h1M15 7.5h1M19 7.5h1M25 7.5h1M29 8.5h1M39 8.5h1M41 8.5h1M1 9.5h2M24 9.5h1M19 10.5h4M2 11.5h1M4 11.5h1M11 11.5h1M14 11.5h1M0 12.5h1M5 12.5h1M11 12.5h1M19 12.5h1M22 12.5h1M40 12.5h2M20 13.5h1M22 13.5h2M26 13.5h1M39 13.5h1M22 14.5h4M28 14.5h1M37 14.5h1M8 15.5h1M13 15.5h1M25 15.5h1M2 16.5h1M4 16.5h1M14 16.5h1M16 16.5h1M19 16.5h1M24 16.5h1M20 17.5h2M26 17.5h1M24 18.5h2M1 19.5h1M27 19.5h2M22 20.5h4M28 20.5h1M41 20.5h1M1 21.5h1M6 21.5h1M16 21.5h1"/>
<path stroke="#f18019" d="M10 0.5h1M12 0.5h1M1 2.5h1M3 2.5h1M6 2.5h2M9 2.5h1M11 3.5h1M6 4.5h1M14 4.5h1M16 4.5h2M3 5.5h1M12 5.5h1M14 5.5h1M1 6.5h1M3 6.5h1M9 6.5h1M12 6.5h1M16 6.5h1M11 7.5h1M13 7.5h1M0 8.5h1M4 8.5h1M10 9.5h2M10 10.5h4M15 13.5h4M7 14.5h3M11 14.5h1M13 14.5h1M18 14.5h1M5 17.5h3M15 17.5h1M18 17.5h1M10 18.5h1M12 18.5h1M14 18.5h1M1 20.5h1M7 20.5h1M15 20.5h1M13 21.5h2"/>
<path stroke="#f79a1c" d="M11 0.5h1M16 0.5h1M1 1.5h1M9 1.5h2M13 1.5h1M10 2.5h1M15 2.5h1M20 2.5h2M23 2.5h1M25 2.5h1M0 3.5h1M7 3.5h2M10 3.5h1M17 3.5h1M2 4.5h2M18 4.5h2M1 5.5h1M4 5.5h1M6 5.5h2M9 5.5h1M11 5.5h1M19 5.5h1M0 6.5h1M5 6.5h1M8 6.5h1M17 6.5h1M19 6.5h1M4 7.5h1M8 7.5h2M16 7.5h1M21 8.5h1M0 9.5h1M3 9.5h1M5 9.5h1M9 9.5h1M14 9.5h2M17 9.5h1M23 9.5h1M0 10.5h4M8 10.5h1M15 10.5h1M2 12.5h1M9 12.5h1M17 12.5h2M0 13.5h2M3 13.5h1M7 13.5h1M10 13.5h1M0 14.5h1M2 14.5h2M8 16.5h1M25 17.5h1M2 18.5h2M5 18.5h1M13 18.5h1M17 18.5h1M20 18.5h2M0 19.5h1M4 19.5h3M11 19.5h1M13 19.5h1M4 20.5h1M17 20.5h1M4 21.5h1M8 21.5h1M12 21.5h1"/>
<path stroke="#f48d1a" d="M13 0.5h1M2 1.5h1M0 2.5h1M5 2.5h1M8 2.5h1M11 2.5h2M16 3.5h1M1 4.5h1M4 4.5h1M15 4.5h1M2 5.5h1M5 5.5h1M10 5.5h1M4 6.5h1M11 6.5h1M13 6.5h1M10 7.5h1M2 8.5h1M20 8.5h1M7 9.5h2M12 9.5h2M7 10.5h1M14 10.5h1M16 10.5h1M14 12.5h2M2 13.5h1M4 13.5h1M11 13.5h4M4 14.5h3M20 14.5h1M4 15.5h1M5 16.5h1M2 17.5h1M8 17.5h1M11 17.5h4M16 17.5h2M9 18.5h1M15 18.5h1M2 19.5h2M15 19.5h1M17 19.5h2M2 20.5h2M11 20.5h1M19 20.5h1M9 21.5h2"/>
<path stroke="#fee9b0" d="M20 0.5h2M24 0.5h2M18 1.5h1M20 1.5h1M22 1.5h1M30 2.5h1M34 2.5h2M5 3.5h1M20 3.5h1M22 3.5h2M28 3.5h1M20 4.5h1M22 4.5h3M27 4.5h2M39 4.5h2M23 5.5h1M23 6.5h1M34 6.5h1M40 6.5h1M0 7.5h1M18 7.5h1M21 7.5h3M26 7.5h1M26 8.5h1M32 8.5h1M37 8.5h2M40 8.5h1M20 9.5h2M25 9.5h2M23 10.5h1M29 10.5h1M6 11.5h2M15 11.5h1M18 11.5h1M32 11.5h1M24 12.5h2M36 12.5h1M28 13.5h1M30 13.5h1M33 13.5h1M41 13.5h1M26 14.5h1M29 14.5h1M34 14.5h1M36 14.5h1M1 15.5h2M9 15.5h1M14 15.5h1M17 15.5h1M13 16.5h1M17 16.5h2M20 16.5h1M32 16.5h1M34 16.5h3M40 16.5h2M22 17.5h1M28 17.5h1M40 17.5h2M23 18.5h1M27 18.5h1M31 19.5h1M37 19.5h1M41 19.5h1M20 20.5h2M31 20.5h1M22 21.5h1M28 21.5h2M31 21.5h1"/>
<path stroke="#f4f7f4" d="M23 0.5h1M25 1.5h1M34 1.5h1M36 1.5h1M39 1.5h3M36 3.5h1M25 4.5h2M29 4.5h1M32 4.5h3M41 4.5h1M31 5.5h1M34 5.5h4M41 5.5h1M27 6.5h1M36 6.5h1M41 6.5h1M20 7.5h1M28 7.5h1M31 7.5h3M39 7.5h2M34 8.5h1M27 9.5h1M29 9.5h4M25 10.5h3M31 10.5h1M34 10.5h2M38 10.5h1M41 10.5h1M19 11.5h1M22 11.5h2M33 11.5h1M35 11.5h1M37 11.5h2M35 12.5h1M38 12.5h1M24 13.5h1M29 13.5h1M31 13.5h2M32 14.5h1M39 14.5h1M41 14.5h1M19 15.5h1M23 15.5h2M31 15.5h1M27 16.5h2M31 16.5h1M27 17.5h1M29 17.5h3M35 17.5h1M39 17.5h1M28 18.5h2M32 18.5h2M35 18.5h3M22 19.5h2M34 19.5h1M39 19.5h1M26 20.5h2M32 20.5h1M40 20.5h1M23 21.5h1M26 21.5h1M32 21.5h1M34 21.5h1M39 21.5h1"/>
<path stroke="#deecf6" d="M26 0.5h1M28 0.5h2M32 0.5h1M35 0.5h1M26 1.5h1M28 1.5h1M35 1.5h1M38 2.5h1M40 2.5h1M35 3.5h1M41 3.5h1M36 4.5h1M38 4.5h1M38 5.5h1M26 6.5h1M37 6.5h2M34 7.5h1M36 7.5h1M41 7.5h1M36 9.5h1M39 9.5h1M41 9.5h1M31 11.5h1M40 11.5h1M27 12.5h2M29 15.5h1M37 15.5h1M39 15.5h1M25 16.5h2M30 18.5h1M39 20.5h1M38 21.5h1"/>
<path stroke="#fffcf2" d="M27 0.5h1M36 0.5h2M0 1.5h1M19 1.5h1M23 1.5h2M37 1.5h2M29 2.5h1M32 2.5h2M36 2.5h1M39 2.5h1M25 3.5h1M32 3.5h1M39 3.5h2M31 4.5h1M35 4.5h1M27 5.5h1M29 5.5h2M33 5.5h1M40 5.5h1M28 6.5h2M31 6.5h1M33 6.5h1M24 7.5h1M27 7.5h1M30 7.5h1M28 8.5h1M33 8.5h1M35 8.5h2M28 9.5h1M24 10.5h1M28 10.5h1M33 10.5h1M5 11.5h1M8 11.5h1M27 11.5h2M20 12.5h2M26 12.5h1M37 12.5h1M25 13.5h1M34 13.5h1M40 13.5h1M30 14.5h2M35 14.5h1M38 14.5h1M40 14.5h1M18 15.5h1M20 15.5h2M27 15.5h2M12 16.5h1M21 16.5h3M29 16.5h1M38 16.5h2M33 17.5h2M36 17.5h1M26 18.5h1M31 18.5h1M34 18.5h1M39 18.5h1M41 18.5h1M21 19.5h1M26 19.5h1M29 19.5h2M32 19.5h2M35 19.5h1M40 19.5h1M29 20.5h1M34 20.5h1M36 20.5h1M27 21.5h1M30 21.5h1M35 21.5h2M40 21.5h1"/>
<path stroke="#e9f2f7" d="M30 0.5h1M34 0.5h1M39 0.5h3M27 1.5h1M32 1.5h2M37 2.5h1M41 2.5h1M26 3.5h2M31 3.5h1M33 3.5h2M37 3.5h1M30 4.5h1M25 5.5h2M32 5.5h1M39 5.5h1M32 6.5h1M39 6.5h1M29 7.5h1M35 7.5h1M37 7.5h2M33 9.5h3M40 9.5h1M30 10.5h1M32 10.5h1M36 10.5h2M39 10.5h1M20 11.5h2M24 11.5h3M30 11.5h1M36 11.5h1M39 11.5h1M29 12.5h1M31 12.5h4M39 12.5h1M36 13.5h3M33 14.5h1M30 15.5h1M32 15.5h1M34 15.5h3M40 15.5h2M30 16.5h1M33 16.5h1M37 16.5h1M32 17.5h1M37 17.5h2M38 18.5h1M40 18.5h1M24 19.5h2M36 19.5h1M38 19.5h1M30 20.5h1M33 20.5h1M35 20.5h1M37 20.5h2M33 21.5h1M37 21.5h1M41 21.5h1"/>
<path stroke="#c6dff0" d="M31 0.5h1M29 1.5h1M31 1.5h1M38 3.5h1M37 9.5h1M38 15.5h1"/>
<path stroke="#bad9ed" d="M33 0.5h1M30 1.5h1"/>
<path stroke="#d2e5f3" d="M38 0.5h1M37 4.5h1M38 9.5h1M40 10.5h1M34 11.5h1M41 11.5h1M30 12.5h1M35 13.5h1"/>
<path stroke="#ee7418" d="M4 2.5h1M13 2.5h1M19 2.5h1M0 4.5h1M7 4.5h1M11 4.5h1M13 4.5h1M8 5.5h1M12 7.5h1M1 8.5h1M3 8.5h1M17 8.5h1M6 13.5h1M8 13.5h2M14 14.5h3M19 14.5h1M3 17.5h2M11 18.5h1M16 19.5h1M5 20.5h1M8 20.5h3M12 20.5h1"/>
<path stroke="#eb6719" d="M14 2.5h1M17 2.5h2M8 4.5h1M10 4.5h1M13 5.5h1M10 6.5h1M7 8.5h1M12 8.5h4M19 8.5h1M9 11.5h1M5 13.5h1M10 14.5h1M17 14.5h1M10 17.5h1M14 19.5h1M16 20.5h1"/>
<path stroke="#e85a1a" d="M16 2.5h1M6 8.5h1M6 20.5h1M13 20.5h1"/>
<path stroke="#e4491e" d="M9 4.5h1M10 8.5h1"/>
<path stroke="#e6511c" d="M12 4.5h1M5 8.5h1M8 8.5h1M11 8.5h1M16 8.5h1M18 8.5h1M14 20.5h1"/>
<path stroke="#e24020" d="M9 8.5h1"/>
<path stroke="#98c5e5" d="M29 11.5h1"/>
<path stroke="#df3922" d="M12 14.5h1"/>
<path stroke="#afd2ea" d="M33 15.5h1"/>
</g>
<g transform="translate(25 202) scale(4.5 1)" fill="none" stroke-width="1" shape-rendering="crispEdges">
<path stroke="#d2e5f3" d="M0 0.5h1M3 0.5h1M3 1.5h1M8 1.5h1M11 1.5h1M15 3.5h1M19 3.5h1M1 4.5h1M5 5.5h1M2 6.5h1M22 8.5h1M4 10.5h2M8 10.5h2M12 10.5h1M15 10.5h2M7 13.5h2M17 13.5h1M5 16.5h2M11 16.5h1M13 16.5h1M16 16.5h1M19 16.5h2M24 16.5h1M3 18.5h1M10 19.5h1M8 21.5h1M10 21.5h1M15 21.5h1M5 22.5h1M7 22.5h2M13 22.5h1M15 22.5h1M2 24.5h1M2 26.5h2M9 26.5h1M4 27.5h1M8 27.5h1M0 28.5h1M3 28.5h1M9 28.5h2M12 28.5h1M6 29.5h1M9 29.5h1M12 29.5h1M0 30.5h1M3 30.5h1M13 30.5h1M3 33.5h1M7 33.5h1M1 34.5h1M1 35.5h1M0 36.5h1M2 40.5h1M5 40.5h1M7 42.5h2M1 44.5h1M4 44.5h3M8 45.5h1M5 46.5h1M17 47.5h1M2 49.5h1M4 49.5h2M7 49.5h2M10 49.5h1M2 52.5h1M6 52.5h1M8 52.5h1M24 52.5h1M2 53.5h1M15 53.5h1M7 54.5h2M10 54.5h1M12 57.5h1M14 57.5h1M3 58.5h1M7 58.5h1M0 59.5h1M12 59.5h2M3 61.5h1M3 62.5h1M5 62.5h1M10 62.5h2M19 62.5h1M21 62.5h1M1 63.5h1M2 64.5h1M5 64.5h1M9 64.5h2M13 64.5h2M16 64.5h3M2 65.5h1M7 67.5h1M18 67.5h2M4 68.5h1M6 68.5h1M10 68.5h1M18 68.5h1M0 69.5h1M7 69.5h1M1 71.5h1"/>
<path stroke="#fcbc3c" d="M1 0.5h1M26 0.5h1M28 0.5h1M34 0.5h1M27 1.5h1M31 1.5h2M24 2.5h1M11 4.5h1M36 5.5h2M1 6.5h1M31 6.5h1M33 6.5h1M19 7.5h3M23 7.5h1M33 7.5h1M20 8.5h1M34 8.5h1M0 9.5h1M2 9.5h1M7 9.5h1M16 9.5h1M23 9.5h2M26 9.5h1M29 9.5h1M33 10.5h1M12 11.5h1M18 11.5h2M21 11.5h1M33 11.5h1M26 13.5h1M29 13.5h1M32 13.5h1M27 14.5h1M30 14.5h2M1 15.5h1M13 15.5h1M18 15.5h1M24 15.5h1M31 15.5h1M1 17.5h1M15 17.5h1M17 17.5h1M21 17.5h1M27 17.5h1M30 17.5h1M32 17.5h1M14 18.5h1M16 18.5h3M21 18.5h2M25 18.5h1M27 18.5h1M32 18.5h1M22 19.5h1M30 19.5h1M6 20.5h2M10 20.5h1M16 20.5h1M25 20.5h1M27 20.5h1M20 21.5h1M34 21.5h1M27 22.5h1M33 22.5h2M24 23.5h1M26 23.5h1M29 23.5h1M31 23.5h1M28 24.5h2M16 25.5h3M27 25.5h1M28 26.5h1M31 26.5h1M35 26.5h2M9 27.5h1M28 27.5h1M32 27.5h1M19 28.5h1M22 28.5h1M28 28.5h1M30 28.5h2M35 28.5h1M37 28.5h1M3 31.5h1M27 31.5h1M21 32.5h1M24 32.5h1M36 33.5h1M21 34.5h1M7 35.5h1M26 35.5h1M1 36.5h1M33 36.5h1M1 37.5h1M14 37.5h1M16 37.5h1M22 38.5h1M24 38.5h1M26 38.5h1M30 38.5h1M23 39.5h1M25 39.5h1M27 39.5h1M32 39.5h1M29 40.5h2M36 40.5h1M29 41.5h2M34 41.5h1M37 41.5h1M36 42.5h1M17 43.5h1M21 43.5h1M23 43.5h1M25 43.5h1M27 43.5h3M28 46.5h1M34 46.5h1M30 47.5h1M33 47.5h1M22 49.5h1M31 49.5h1M33 50.5h1M11 51.5h1M17 51.5h1M23 51.5h1M26 51.5h3M28 52.5h2M34 52.5h1M0 53.5h1M33 53.5h1M35 53.5h1M18 55.5h2M9 56.5h2M16 56.5h1M23 56.5h1M26 56.5h1M32 56.5h2M29 57.5h3M28 58.5h1M32 58.5h1M34 58.5h2M24 59.5h1M10 60.5h1M23 60.5h1M26 60.5h1M21 61.5h1M30 61.5h1M33 61.5h2M36 61.5h1M36 62.5h1M25 63.5h1M33 63.5h2M20 64.5h1M0 65.5h1M20 65.5h3M28 65.5h1M36 65.5h1M28 66.5h1M30 66.5h1M27 68.5h1M30 68.5h2M34 68.5h1M4 69.5h1M15 69.5h1M26 69.5h1M28 69.5h3M14 70.5h1M18 70.5h1M23 70.5h1M28 70.5h1M5 71.5h1M7 71.5h1M10 71.5h1M14 71.5h1M23 71.5h1M23 72.5h1M28 72.5h1"/>
<path stroke="#e9f2f7" d="M2 0.5h1M7 0.5h1M9 0.5h1M17 0.5h2M5 1.5h1M7 1.5h1M16 1.5h3M3 2.5h3M9 2.5h1M2 3.5h2M11 3.5h2M21 3.5h1M23 3.5h1M27 3.5h2M30 3.5h1M32 3.5h1M4 4.5h1M3 5.5h1M11 5.5h2M16 5.5h3M4 6.5h1M9 6.5h1M12 6.5h1M3 7.5h1M17 7.5h1M3 8.5h1M13 10.5h1M18 10.5h1M30 10.5h1M18 12.5h1M5 13.5h1M12 13.5h1M15 13.5h1M17 16.5h2M23 16.5h1M26 16.5h1M34 16.5h1M4 17.5h1M9 17.5h1M26 17.5h1M4 18.5h1M12 18.5h1M1 19.5h1M5 19.5h1M9 19.5h1M11 19.5h1M2 20.5h1M3 21.5h3M7 21.5h1M11 21.5h1M13 21.5h1M27 21.5h1M14 22.5h1M16 22.5h1M26 22.5h1M5 23.5h2M13 23.5h1M8 24.5h1M10 24.5h1M26 24.5h1M5 25.5h1M5 26.5h4M22 26.5h1M33 26.5h1M2 27.5h1M13 27.5h1M18 27.5h1M5 28.5h1M7 28.5h1M11 28.5h1M2 29.5h1M7 29.5h1M16 29.5h4M17 30.5h1M19 30.5h1M26 30.5h1M0 31.5h1M4 31.5h1M11 31.5h1M17 31.5h1M2 33.5h1M6 33.5h1M11 33.5h1M13 33.5h1M17 33.5h1M24 33.5h2M2 34.5h1M6 34.5h1M16 34.5h2M20 35.5h1M2 36.5h2M11 36.5h2M19 36.5h1M22 36.5h1M25 36.5h1M6 37.5h1M11 37.5h1M1 38.5h1M12 38.5h1M7 39.5h2M16 39.5h1M19 39.5h1M0 40.5h1M7 40.5h1M13 40.5h1M26 40.5h1M8 41.5h1M24 41.5h1M9 42.5h6M21 42.5h1M31 42.5h2M3 43.5h1M9 43.5h1M12 43.5h1M8 44.5h1M10 44.5h1M12 44.5h1M15 44.5h5M27 44.5h1M2 45.5h1M4 45.5h2M10 45.5h2M15 45.5h2M18 45.5h1M20 45.5h1M25 45.5h1M28 45.5h1M4 46.5h1M11 46.5h3M3 47.5h1M7 47.5h1M18 47.5h1M24 47.5h1M9 48.5h1M12 48.5h2M15 48.5h1M22 48.5h1M13 49.5h1M16 49.5h2M23 49.5h1M4 50.5h2M13 50.5h1M4 51.5h1M6 51.5h1M4 52.5h2M9 52.5h1M3 53.5h2M8 53.5h1M11 53.5h1M13 53.5h1M16 53.5h1M23 54.5h2M4 55.5h2M10 55.5h1M14 55.5h1M2 56.5h1M4 56.5h1M1 57.5h1M3 57.5h1M5 57.5h2M10 57.5h1M0 58.5h2M5 58.5h1M31 58.5h1M6 59.5h1M15 59.5h1M5 60.5h1M8 60.5h1M14 60.5h2M6 61.5h1M13 61.5h1M15 61.5h2M27 62.5h1M30 62.5h1M9 63.5h1M11 63.5h2M17 63.5h1M23 63.5h2M3 64.5h2M6 64.5h1M9 65.5h1M15 65.5h1M10 66.5h2M6 67.5h1M12 67.5h2M17 67.5h1M20 67.5h1M24 67.5h1M28 67.5h1M21 68.5h2M2 69.5h1M23 69.5h1M5 70.5h1M20 70.5h2M8 72.5h1"/>
<path stroke="#f4f7f4" d="M4 0.5h1M6 0.5h1M15 0.5h1M19 0.5h2M4 1.5h1M20 1.5h2M23 1.5h1M30 1.5h1M8 2.5h1M14 2.5h1M1 3.5h1M10 3.5h1M17 3.5h2M22 3.5h1M25 3.5h1M33 3.5h1M2 4.5h2M6 4.5h2M24 4.5h1M2 5.5h1M6 5.5h1M8 5.5h1M23 5.5h2M26 5.5h2M6 6.5h1M23 6.5h2M2 7.5h1M6 7.5h1M11 8.5h2M16 8.5h1M18 8.5h1M29 8.5h1M13 9.5h1M19 9.5h1M19 10.5h1M21 10.5h1M23 10.5h1M25 10.5h1M31 10.5h1M35 10.5h2M2 11.5h1M4 11.5h5M14 11.5h1M2 12.5h1M4 12.5h1M17 12.5h1M22 12.5h1M25 12.5h1M13 13.5h2M16 13.5h1M4 14.5h2M9 14.5h4M16 14.5h1M18 14.5h1M0 15.5h1M2 15.5h1M28 16.5h3M2 17.5h2M8 17.5h1M16 17.5h1M5 18.5h2M12 19.5h1M15 19.5h1M1 20.5h1M18 21.5h1M10 22.5h1M17 22.5h1M21 22.5h1M30 22.5h1M0 23.5h1M3 23.5h1M7 23.5h1M12 23.5h1M14 23.5h1M19 23.5h1M22 23.5h1M6 24.5h1M9 24.5h1M11 24.5h2M15 24.5h1M24 24.5h1M2 25.5h1M4 26.5h1M13 26.5h1M18 26.5h1M20 26.5h1M25 26.5h1M0 27.5h1M6 27.5h1M12 27.5h1M14 27.5h4M19 27.5h2M31 27.5h1M6 28.5h1M15 28.5h2M8 29.5h1M10 29.5h1M14 29.5h1M28 29.5h1M1 30.5h1M11 30.5h1M15 30.5h1M30 30.5h1M5 31.5h1M7 31.5h2M15 31.5h1M2 32.5h2M11 32.5h1M13 32.5h2M18 32.5h1M22 32.5h1M28 32.5h1M5 33.5h1M9 33.5h2M12 33.5h1M18 33.5h1M23 33.5h1M26 33.5h3M4 34.5h2M10 34.5h1M12 34.5h1M19 34.5h1M6 36.5h2M13 36.5h1M15 36.5h1M20 36.5h1M23 36.5h1M4 37.5h1M7 37.5h2M12 37.5h1M2 38.5h2M5 38.5h1M3 39.5h1M5 39.5h1M13 39.5h1M15 39.5h1M17 39.5h2M21 39.5h1M10 40.5h1M12 40.5h1M14 40.5h3M27 40.5h1M2 41.5h3M9 41.5h2M12 41.5h1M15 41.5h2M23 41.5h1M4 42.5h1M15 42.5h3M19 42.5h1M24 42.5h1M34 42.5h1M2 43.5h1M6 43.5h1M14 44.5h1M20 44.5h1M24 44.5h1M28 44.5h1M9 45.5h1M13 45.5h2M22 45.5h1M24 45.5h1M26 45.5h1M3 46.5h1M6 46.5h1M15 46.5h1M17 46.5h1M20 46.5h1M4 47.5h1M12 47.5h2M16 47.5h1M23 47.5h1M4 48.5h2M10 48.5h2M17 48.5h1M21 48.5h1M23 48.5h2M14 49.5h2M21 49.5h1M0 50.5h1M7 50.5h1M9 50.5h1M14 50.5h1M24 50.5h2M5 51.5h1M7 51.5h1M12 52.5h1M17 52.5h1M25 52.5h1M1 53.5h1M5 53.5h1M21 53.5h1M25 53.5h1M2 54.5h2M5 54.5h2M15 54.5h1M0 55.5h1M6 55.5h1M13 55.5h1M27 55.5h1M6 56.5h2M13 56.5h1M4 57.5h1M8 57.5h1M17 57.5h1M23 57.5h1M4 58.5h1M9 58.5h3M20 58.5h1M2 59.5h4M9 59.5h2M20 59.5h1M22 59.5h1M25 59.5h1M6 60.5h1M11 61.5h1M14 61.5h1M17 61.5h1M8 62.5h1M20 62.5h1M25 62.5h1M7 63.5h2M13 63.5h1M21 63.5h1M7 64.5h2M12 64.5h1M23 64.5h1M29 64.5h1M13 65.5h1M5 66.5h3M21 66.5h2M10 67.5h1M21 67.5h2M7 68.5h3M20 68.5h1M26 68.5h1M1 69.5h1M8 69.5h1M20 69.5h1M22 69.5h1M4 70.5h1M6 70.5h1M2 72.5h2M6 72.5h1M9 72.5h1M13 72.5h1M20 72.5h1"/>
<path stroke="#fffcf2" d="M5 0.5h1M8 0.5h1M21 0.5h1M23 0.5h2M0 1.5h1M19 1.5h1M26 1.5h1M34 1.5h1M37 1.5h1M10 2.5h1M12 2.5h1M17 2.5h4M26 2.5h2M4 3.5h1M24 3.5h1M26 3.5h1M31 3.5h1M34 3.5h1M9 4.5h1M16 4.5h1M23 4.5h1M9 5.5h2M13 5.5h1M19 5.5h1M21 5.5h2M25 5.5h1M28 5.5h2M32 5.5h2M5 6.5h1M8 6.5h1M13 6.5h1M18 6.5h1M22 6.5h1M25 6.5h1M8 7.5h2M12 7.5h3M16 7.5h1M24 7.5h1M32 7.5h1M2 8.5h1M5 8.5h2M10 8.5h1M25 8.5h2M6 9.5h1M8 9.5h1M20 10.5h1M26 10.5h1M3 11.5h1M9 11.5h3M15 11.5h1M17 11.5h1M20 11.5h1M1 12.5h1M6 12.5h1M10 12.5h1M12 12.5h1M15 12.5h1M19 12.5h2M23 12.5h1M4 13.5h1M19 13.5h1M6 14.5h1M13 14.5h1M15 14.5h1M19 14.5h2M22 14.5h1M3 15.5h1M11 15.5h2M21 15.5h1M32 16.5h1M35 16.5h1M6 17.5h1M10 17.5h1M7 18.5h1M9 18.5h1M2 19.5h1M4 19.5h1M13 19.5h1M0 20.5h1M8 20.5h2M30 20.5h1M12 21.5h1M14 21.5h1M16 21.5h1M19 21.5h1M25 21.5h1M29 21.5h1M32 21.5h2M18 22.5h1M20 22.5h1M23 22.5h1M25 22.5h1M29 22.5h1M32 22.5h1M8 23.5h2M15 23.5h1M17 23.5h2M21 23.5h1M7 24.5h1M13 24.5h2M16 24.5h3M20 24.5h1M23 24.5h1M25 24.5h1M31 24.5h1M1 25.5h1M3 25.5h2M6 25.5h1M20 25.5h1M14 26.5h2M19 26.5h1M32 26.5h1M21 27.5h1M23 27.5h2M17 28.5h1M23 28.5h1M25 28.5h2M1 29.5h1M13 29.5h1M15 29.5h1M23 29.5h1M25 29.5h1M27 29.5h1M8 30.5h2M16 30.5h1M20 30.5h2M28 30.5h2M10 31.5h1M14 31.5h1M16 31.5h1M19 31.5h1M1 32.5h1M4 32.5h3M15 32.5h2M23 32.5h1M26 32.5h1M29 32.5h1M14 33.5h1M16 33.5h1M22 33.5h1M29 33.5h2M37 33.5h1M7 34.5h1M13 34.5h2M18 34.5h1M25 34.5h2M32 34.5h1M2 35.5h1M5 35.5h1M8 35.5h1M10 35.5h4M19 35.5h1M21 35.5h2M28 35.5h1M4 36.5h1M8 36.5h1M17 36.5h1M21 36.5h1M27 36.5h2M35 36.5h1M5 37.5h1M9 37.5h2M25 37.5h1M27 37.5h1M11 38.5h1M20 38.5h1M23 38.5h1M1 39.5h1M10 39.5h1M14 39.5h1M20 39.5h1M22 39.5h1M28 39.5h2M8 40.5h1M11 40.5h1M19 40.5h1M11 41.5h1M14 41.5h1M17 41.5h4M26 41.5h1M18 42.5h1M20 42.5h1M27 42.5h1M30 42.5h1M5 43.5h1M7 43.5h1M10 43.5h1M13 43.5h1M22 44.5h1M25 44.5h2M17 45.5h1M19 45.5h1M21 45.5h1M29 45.5h2M32 45.5h1M7 46.5h1M9 46.5h2M16 46.5h1M18 46.5h1M22 46.5h1M5 47.5h1M14 47.5h2M19 47.5h2M22 47.5h1M25 47.5h2M28 47.5h1M3 48.5h1M8 48.5h1M16 48.5h1M18 48.5h2M25 48.5h1M18 49.5h3M24 49.5h1M26 49.5h1M28 49.5h1M10 50.5h1M16 50.5h1M18 50.5h1M2 51.5h1M13 51.5h1M15 51.5h2M13 52.5h4M20 52.5h1M23 52.5h1M27 52.5h1M7 53.5h1M12 53.5h1M22 53.5h1M24 53.5h1M30 53.5h1M0 54.5h1M4 54.5h1M9 54.5h1M11 54.5h1M22 54.5h1M3 55.5h1M7 55.5h1M11 55.5h1M15 55.5h1M20 55.5h2M24 55.5h1M28 55.5h1M0 56.5h1M3 56.5h1M5 56.5h1M14 56.5h1M18 56.5h2M7 57.5h1M9 57.5h1M11 57.5h1M15 57.5h1M21 57.5h1M24 57.5h1M26 57.5h1M12 58.5h3M23 58.5h1M29 58.5h2M8 59.5h1M11 59.5h1M19 59.5h1M21 59.5h1M23 59.5h1M26 59.5h1M35 59.5h1M1 60.5h2M4 60.5h1M19 60.5h1M10 61.5h1M22 61.5h1M25 61.5h2M28 61.5h1M22 62.5h2M28 62.5h2M31 62.5h2M34 62.5h1M3 63.5h2M10 63.5h1M14 63.5h1M18 63.5h1M20 63.5h1M11 64.5h1M19 64.5h1M21 64.5h1M24 64.5h1M27 64.5h2M3 65.5h3M8 65.5h1M10 65.5h1M12 65.5h1M0 66.5h1M4 66.5h1M9 66.5h1M13 66.5h5M19 66.5h2M25 66.5h1M1 67.5h1M3 67.5h1M11 67.5h1M14 67.5h1M27 67.5h1M35 67.5h1M12 68.5h1M14 68.5h1M23 68.5h1M25 68.5h1M28 68.5h1M5 69.5h1M13 69.5h1M19 69.5h1M3 70.5h1M7 70.5h1M9 70.5h1M19 70.5h1M9 71.5h1M17 71.5h1M4 72.5h2M16 72.5h1M19 72.5h1"/>
<path stroke="#c6dff0" d="M10 0.5h2M13 1.5h2M1 7.5h1M2 10.5h1M6 10.5h2M10 10.5h2M14 10.5h1M0 11.5h1M0 12.5h1M2 13.5h1M9 13.5h1M2 16.5h3M21 16.5h1M7 19.5h2M1 22.5h1M4 22.5h1M12 22.5h1M1 26.5h1M7 27.5h1M2 28.5h1M4 29.5h1M20 29.5h2M2 30.5h1M0 32.5h1M4 33.5h1M10 36.5h1M6 41.5h1M0 48.5h1M0 49.5h1M19 53.5h1M0 57.5h1M12 61.5h1M2 62.5h1M4 62.5h1M7 62.5h1M2 63.5h1M15 63.5h2M0 64.5h1M15 64.5h1M2 66.5h1M9 67.5h1M3 68.5h1M0 71.5h1"/>
<path stroke="#deecf6" d="M12 0.5h3M16 0.5h1M6 1.5h1M12 1.5h1M15 1.5h1M22 1.5h1M2 2.5h1M7 2.5h1M5 3.5h1M8 3.5h2M13 3.5h2M16 3.5h1M20 3.5h1M4 5.5h1M3 6.5h1M7 6.5h1M15 6.5h3M5 7.5h1M10 7.5h1M4 8.5h1M17 10.5h1M24 10.5h1M28 10.5h2M1 11.5h1M3 12.5h1M1 13.5h1M3 13.5h1M10 13.5h2M20 13.5h2M14 16.5h2M22 16.5h1M25 16.5h1M27 16.5h1M5 17.5h1M11 17.5h1M2 18.5h1M6 19.5h1M17 19.5h2M2 21.5h1M9 21.5h1M24 21.5h1M6 22.5h1M9 22.5h1M11 22.5h1M2 23.5h1M4 23.5h1M10 23.5h2M3 24.5h3M10 26.5h3M21 26.5h1M23 26.5h2M26 26.5h1M1 27.5h1M3 27.5h1M5 27.5h1M10 27.5h2M1 28.5h1M4 28.5h1M3 29.5h1M11 29.5h1M22 29.5h1M12 30.5h1M14 30.5h1M18 30.5h1M6 31.5h1M8 33.5h1M5 36.5h1M9 36.5h1M2 39.5h1M9 39.5h1M11 39.5h2M3 40.5h2M6 40.5h1M5 41.5h1M7 41.5h1M25 41.5h1M3 42.5h1M5 42.5h2M22 42.5h2M33 42.5h1M8 43.5h1M7 44.5h1M9 44.5h1M11 44.5h1M3 45.5h1M6 45.5h2M12 45.5h1M2 47.5h1M6 47.5h1M10 47.5h2M2 48.5h1M6 48.5h1M3 49.5h1M6 49.5h1M9 49.5h1M11 49.5h2M2 50.5h2M12 50.5h1M3 51.5h1M3 52.5h1M10 52.5h2M10 53.5h1M17 53.5h2M20 53.5h1M23 53.5h1M8 55.5h2M2 57.5h1M13 57.5h1M2 58.5h1M8 58.5h1M17 58.5h3M7 59.5h1M14 59.5h1M7 60.5h1M13 60.5h1M5 61.5h1M7 61.5h3M12 62.5h3M16 62.5h1M22 63.5h1M1 64.5h1M7 65.5h1M3 66.5h1M12 66.5h1M5 67.5h1M15 67.5h2M25 67.5h2M0 68.5h2M11 68.5h1M17 68.5h1M19 68.5h1M17 69.5h1M7 72.5h1M24 72.5h1"/>
<path stroke="#fee9b0" d="M22 0.5h1M1 1.5h1M25 1.5h1M28 1.5h2M33 1.5h1M35 1.5h2M6 2.5h1M13 2.5h1M22 2.5h1M28 2.5h1M35 3.5h1M8 4.5h1M15 4.5h1M18 4.5h2M7 5.5h1M14 5.5h2M30 5.5h1M10 6.5h2M19 6.5h3M29 6.5h1M4 7.5h1M11 7.5h1M15 7.5h1M18 7.5h1M26 7.5h2M7 8.5h1M9 8.5h1M13 8.5h2M23 8.5h1M27 8.5h2M30 8.5h2M4 9.5h2M15 9.5h1M22 9.5h1M22 10.5h1M27 10.5h1M32 10.5h1M13 11.5h1M22 11.5h1M24 11.5h2M27 11.5h1M5 12.5h1M7 12.5h2M11 12.5h1M13 12.5h2M16 12.5h1M21 12.5h1M24 12.5h1M27 12.5h1M18 13.5h1M25 13.5h1M30 13.5h2M2 14.5h2M8 14.5h1M14 14.5h1M17 14.5h1M21 14.5h1M25 14.5h1M4 15.5h2M10 15.5h1M16 15.5h1M19 15.5h1M0 16.5h1M33 16.5h1M12 17.5h1M14 17.5h1M8 18.5h1M10 18.5h1M20 18.5h1M23 18.5h2M3 19.5h1M16 19.5h1M19 19.5h1M28 19.5h1M3 20.5h1M5 20.5h1M12 20.5h1M19 20.5h1M21 20.5h1M23 20.5h2M6 21.5h1M23 21.5h1M26 21.5h1M31 21.5h1M19 22.5h1M22 22.5h1M24 22.5h1M37 22.5h1M1 23.5h1M16 23.5h1M23 23.5h1M19 24.5h1M21 24.5h1M32 24.5h1M7 25.5h2M11 25.5h1M14 25.5h2M17 26.5h1M27 26.5h1M34 26.5h1M37 26.5h1M22 27.5h1M29 27.5h2M13 28.5h2M18 28.5h1M24 28.5h1M24 29.5h1M31 29.5h1M33 29.5h1M10 30.5h1M24 30.5h1M27 30.5h1M2 31.5h1M9 31.5h1M13 31.5h1M18 31.5h1M21 31.5h3M7 32.5h1M10 32.5h1M12 32.5h1M19 32.5h1M27 32.5h1M15 33.5h1M19 33.5h3M3 34.5h1M11 34.5h1M20 34.5h1M24 34.5h1M27 34.5h1M3 35.5h2M6 35.5h1M9 35.5h1M14 35.5h3M25 35.5h1M27 35.5h1M14 36.5h1M18 36.5h1M26 36.5h1M34 36.5h1M36 36.5h1M3 37.5h1M13 37.5h1M23 37.5h2M4 38.5h1M7 38.5h3M15 38.5h1M19 38.5h1M25 38.5h1M4 39.5h1M26 39.5h1M31 39.5h1M9 40.5h1M18 40.5h1M20 40.5h1M24 40.5h1M28 40.5h1M35 40.5h1M13 41.5h1M21 41.5h1M27 41.5h2M36 41.5h1M26 42.5h1M28 42.5h2M4 43.5h1M22 43.5h1M24 43.5h1M13 44.5h1M21 44.5h1M23 44.5h1M29 44.5h1M32 44.5h2M23 45.5h1M27 45.5h1M31 45.5h1M34 45.5h1M14 46.5h1M19 46.5h1M23 46.5h1M29 46.5h2M8 47.5h2M21 47.5h1M27 47.5h1M35 47.5h1M7 48.5h1M14 48.5h1M20 48.5h1M25 49.5h1M6 50.5h1M8 50.5h1M11 50.5h1M15 50.5h1M22 50.5h2M26 50.5h2M32 50.5h1M34 50.5h1M8 51.5h2M14 51.5h1M18 51.5h1M20 51.5h1M18 52.5h2M21 52.5h2M26 52.5h1M35 52.5h1M9 53.5h1M26 53.5h2M29 53.5h1M31 53.5h1M36 53.5h1M13 54.5h1M19 54.5h1M25 54.5h1M12 55.5h1M16 55.5h1M22 55.5h1M1 56.5h1M22 56.5h1M16 57.5h1M18 57.5h1M20 57.5h1M22 57.5h1M25 57.5h1M15 58.5h2M21 58.5h2M33 58.5h1M1 59.5h1M16 59.5h2M31 59.5h2M34 59.5h1M9 60.5h1M11 60.5h1M17 60.5h1M20 60.5h1M22 60.5h1M18 61.5h3M23 61.5h2M27 61.5h1M29 61.5h1M9 62.5h1M17 62.5h2M24 62.5h1M35 62.5h1M5 63.5h2M26 63.5h4M31 63.5h2M22 64.5h1M25 64.5h2M30 64.5h1M6 65.5h1M11 65.5h1M14 65.5h1M16 65.5h4M25 65.5h1M8 66.5h1M18 66.5h1M23 66.5h2M27 66.5h1M23 67.5h1M29 67.5h1M32 67.5h1M36 67.5h2M13 68.5h1M15 68.5h2M29 68.5h1M33 68.5h1M6 69.5h1M10 69.5h3M18 69.5h1M21 69.5h1M2 70.5h1M12 70.5h1M22 70.5h1M3 71.5h2M8 71.5h1M13 71.5h1M16 71.5h1M19 71.5h1M21 71.5h1M12 72.5h1M14 72.5h2M18 72.5h1M30 72.5h1M32 72.5h2"/>
<path stroke="#fdd16a" d="M25 0.5h1M27 0.5h1M29 0.5h1M32 0.5h1M24 1.5h1M15 2.5h2M21 2.5h1M25 2.5h1M32 2.5h2M36 3.5h1M5 4.5h1M10 4.5h1M12 4.5h2M17 4.5h1M22 4.5h1M0 5.5h1M20 5.5h1M31 5.5h1M14 6.5h1M26 6.5h2M7 7.5h1M22 7.5h1M25 7.5h1M28 7.5h4M8 8.5h1M17 8.5h1M19 8.5h1M21 8.5h1M24 8.5h1M9 9.5h1M12 9.5h1M14 9.5h1M17 9.5h2M30 9.5h1M34 10.5h1M37 10.5h1M16 11.5h1M23 11.5h1M26 11.5h1M9 12.5h1M26 12.5h1M28 12.5h3M23 13.5h2M34 13.5h2M1 14.5h1M7 14.5h1M23 14.5h1M26 14.5h1M6 15.5h4M14 15.5h1M20 15.5h1M22 15.5h1M31 16.5h1M36 16.5h2M7 17.5h1M19 17.5h1M22 17.5h3M11 18.5h1M13 18.5h1M15 18.5h1M28 18.5h2M20 19.5h2M23 19.5h5M29 19.5h1M33 19.5h2M4 20.5h1M11 20.5h1M13 20.5h1M20 20.5h1M22 20.5h1M28 20.5h2M31 20.5h1M17 21.5h1M21 21.5h2M28 21.5h1M30 21.5h1M28 22.5h1M31 22.5h1M36 22.5h1M20 23.5h1M25 23.5h1M28 23.5h1M30 23.5h1M33 23.5h2M1 24.5h1M22 24.5h1M27 24.5h1M9 25.5h2M12 25.5h2M19 25.5h1M23 25.5h2M26 25.5h1M16 26.5h1M25 27.5h2M33 27.5h1M21 28.5h1M27 28.5h1M36 28.5h1M26 29.5h1M29 29.5h2M32 29.5h1M23 30.5h1M25 30.5h1M31 30.5h1M12 31.5h1M20 31.5h1M24 31.5h1M8 32.5h2M17 32.5h1M20 32.5h1M25 32.5h1M0 33.5h2M31 33.5h2M35 33.5h1M8 34.5h2M15 34.5h1M22 34.5h2M28 34.5h1M17 35.5h2M23 35.5h2M16 36.5h1M30 36.5h1M2 37.5h1M17 37.5h2M20 37.5h3M26 37.5h1M30 37.5h1M6 38.5h1M10 38.5h1M13 38.5h2M16 38.5h3M21 38.5h1M6 39.5h1M24 39.5h1M34 39.5h1M17 40.5h1M21 40.5h1M25 40.5h1M22 41.5h1M25 42.5h1M35 42.5h1M37 42.5h1M11 43.5h1M14 43.5h3M26 43.5h1M31 44.5h1M34 44.5h1M33 45.5h1M35 45.5h2M2 46.5h1M8 46.5h1M21 46.5h1M24 46.5h4M31 46.5h1M0 47.5h2M29 47.5h1M31 47.5h2M34 47.5h1M36 47.5h1M28 48.5h1M27 49.5h1M29 49.5h1M32 49.5h1M34 49.5h2M17 50.5h1M19 50.5h1M10 51.5h1M12 51.5h1M19 51.5h1M21 51.5h1M25 51.5h1M30 52.5h4M28 53.5h1M32 53.5h1M12 54.5h1M14 54.5h1M16 54.5h3M21 54.5h1M26 54.5h2M17 55.5h1M23 55.5h1M26 55.5h1M29 55.5h1M33 55.5h1M8 56.5h1M11 56.5h2M15 56.5h1M20 56.5h2M19 57.5h1M27 57.5h2M35 57.5h1M24 58.5h4M18 59.5h1M27 59.5h1M33 59.5h1M36 59.5h1M3 60.5h1M12 60.5h1M16 60.5h1M18 60.5h1M21 60.5h1M32 61.5h1M37 61.5h1M0 62.5h1M26 62.5h1M33 62.5h1M19 63.5h1M30 63.5h1M31 64.5h2M23 65.5h1M26 66.5h1M29 66.5h1M30 67.5h2M34 67.5h1M24 68.5h1M32 68.5h1M37 68.5h1M3 69.5h1M9 69.5h1M14 69.5h1M16 69.5h1M24 69.5h1M8 70.5h1M10 70.5h2M15 70.5h2M27 70.5h1M2 71.5h1M6 71.5h1M18 71.5h1M20 71.5h1M22 71.5h1M10 72.5h2M17 72.5h1M21 72.5h1M26 72.5h1M31 72.5h1"/>
<path stroke="#f48d1a" d="M30 0.5h1M35 2.5h1M37 2.5h1M27 4.5h1M32 4.5h1M35 4.5h1M32 6.5h1M36 6.5h1M0 7.5h1M37 8.5h1M20 9.5h1M31 11.5h1M34 11.5h2M36 12.5h1M37 13.5h1M27 15.5h1M29 15.5h1M32 15.5h1M37 17.5h1M33 18.5h1M36 18.5h1M36 19.5h1M0 21.5h1M35 21.5h1M29 25.5h1M36 25.5h1M36 29.5h1M32 30.5h2M36 30.5h1M32 31.5h1M29 35.5h1M35 35.5h2M37 36.5h1M19 37.5h1M32 37.5h1M0 38.5h1M0 39.5h1M31 40.5h1M1 43.5h1M19 43.5h2M32 43.5h1M37 44.5h1M33 48.5h2M34 51.5h1M36 51.5h1M29 54.5h1M32 54.5h3M36 54.5h1M31 55.5h1M37 55.5h1M30 56.5h1M30 60.5h1M0 61.5h1M33 65.5h1M37 65.5h1M31 66.5h2M35 66.5h2M32 69.5h1M35 69.5h1M29 70.5h1M29 71.5h2"/>
<path stroke="#faaa25" d="M31 0.5h1M33 0.5h1M35 0.5h1M37 0.5h1M23 2.5h1M29 2.5h2M34 2.5h1M37 3.5h1M14 4.5h1M21 4.5h1M25 4.5h2M34 5.5h1M0 6.5h1M30 6.5h1M33 8.5h1M3 9.5h1M10 9.5h1M25 9.5h1M28 11.5h2M31 12.5h1M34 12.5h1M22 13.5h1M27 13.5h1M36 13.5h1M24 14.5h1M33 14.5h1M15 15.5h1M17 15.5h1M28 15.5h1M13 17.5h1M18 17.5h1M25 17.5h1M28 17.5h2M31 17.5h1M33 17.5h1M31 18.5h1M14 19.5h1M32 19.5h1M35 19.5h1M14 20.5h2M17 20.5h2M35 22.5h1M32 23.5h1M35 23.5h1M30 24.5h1M21 25.5h2M25 25.5h1M30 26.5h1M27 27.5h1M34 27.5h1M37 27.5h1M20 28.5h1M29 28.5h1M34 29.5h2M22 30.5h1M30 31.5h2M30 32.5h1M32 32.5h2M34 33.5h1M29 34.5h1M33 34.5h3M31 36.5h2M28 37.5h2M31 37.5h1M28 38.5h2M30 39.5h1M33 39.5h1M36 39.5h2M22 40.5h1M33 40.5h2M37 40.5h1M31 41.5h1M35 41.5h1M18 43.5h1M35 44.5h2M32 46.5h2M35 46.5h1M26 48.5h2M29 48.5h4M30 49.5h1M33 49.5h1M36 49.5h2M20 50.5h1M29 50.5h2M37 50.5h1M22 51.5h1M36 52.5h1M34 53.5h1M20 54.5h1M2 55.5h1M25 55.5h1M30 55.5h1M34 55.5h1M17 56.5h1M24 56.5h2M27 56.5h1M31 56.5h1M29 59.5h2M24 60.5h2M27 60.5h3M31 61.5h1M37 62.5h1M35 63.5h1M36 64.5h1M24 65.5h1M26 65.5h1M35 65.5h1M33 66.5h2M33 67.5h1M35 68.5h2M25 69.5h1M27 69.5h1M17 70.5h1M26 70.5h1M11 71.5h2M15 71.5h1M24 71.5h1M26 71.5h2M0 72.5h2M22 72.5h1M25 72.5h1M27 72.5h1M29 72.5h1M34 72.5h2"/>
<path stroke="#f79a1c" d="M36 0.5h1M31 2.5h1M0 4.5h1M20 4.5h1M29 4.5h1M36 4.5h1M35 5.5h1M28 6.5h1M34 6.5h2M37 6.5h1M15 8.5h1M32 8.5h1M35 8.5h2M11 9.5h1M21 9.5h1M27 9.5h2M30 11.5h1M32 11.5h1M32 12.5h2M37 12.5h1M28 13.5h1M33 13.5h1M28 14.5h2M32 14.5h1M35 14.5h1M23 15.5h1M25 15.5h2M30 15.5h1M35 15.5h3M0 17.5h1M20 17.5h1M1 18.5h1M26 18.5h1M31 19.5h1M26 20.5h1M32 20.5h2M37 21.5h1M27 23.5h1M36 23.5h2M33 24.5h1M28 25.5h1M30 25.5h2M33 25.5h1M29 26.5h1M34 28.5h1M37 29.5h1M25 31.5h2M28 31.5h2M31 32.5h1M35 32.5h2M33 33.5h1M31 34.5h1M30 35.5h1M29 36.5h1M15 37.5h1M27 38.5h1M31 38.5h1M23 40.5h1M32 40.5h1M32 41.5h2M30 43.5h2M30 44.5h1M1 45.5h1M37 45.5h1M0 46.5h1M37 47.5h1M21 50.5h1M28 50.5h1M31 50.5h1M35 50.5h1M24 51.5h1M29 51.5h2M32 51.5h1M37 52.5h1M37 53.5h1M28 54.5h1M30 54.5h1M32 55.5h1M35 55.5h1M34 56.5h1M32 57.5h1M34 57.5h1M36 57.5h1M37 58.5h1M28 59.5h1M37 59.5h1M0 60.5h1M32 60.5h1M35 61.5h1M0 63.5h1M36 63.5h2M37 64.5h1M27 65.5h1M29 65.5h3M34 65.5h1M37 66.5h1M4 67.5h1M31 69.5h1M33 69.5h1M13 70.5h1M25 71.5h1M28 71.5h1M31 71.5h1"/>
<path stroke="#afd2ea" d="M2 1.5h1M6 3.5h1M29 3.5h1M1 9.5h1M0 13.5h1M7 16.5h2M1 21.5h1M0 26.5h1M0 29.5h1M5 30.5h1M1 31.5h1M0 35.5h1M0 44.5h1M3 44.5h1M6 62.5h1M2 67.5h1M2 68.5h1"/>
<path stroke="#bad9ed" d="M9 1.5h2M11 2.5h1M7 3.5h1M3 10.5h1M6 13.5h1M10 16.5h1M12 16.5h1M2 22.5h2M8 28.5h1M5 29.5h1M4 30.5h1M6 30.5h2M24 36.5h1M1 41.5h1M2 42.5h1M2 44.5h1M0 52.5h1M7 52.5h1M14 53.5h1M1 55.5h1M6 58.5h1M2 61.5h1M4 61.5h1M1 62.5h1M15 62.5h1M8 67.5h1M5 68.5h1"/>
<path stroke="#f18019" d="M0 2.5h1M0 3.5h1M28 4.5h1M30 4.5h1M34 7.5h1M31 9.5h1M37 11.5h1M35 12.5h1M0 14.5h1M34 14.5h1M36 14.5h1M34 17.5h1M34 18.5h1M37 18.5h1M37 19.5h1M34 20.5h1M36 21.5h1M37 24.5h1M0 25.5h1M34 25.5h2M35 27.5h2M32 28.5h2M34 30.5h2M37 30.5h1M34 31.5h2M34 32.5h1M37 32.5h1M30 34.5h1M36 34.5h2M32 35.5h1M34 35.5h1M33 37.5h1M35 37.5h1M32 38.5h1M34 38.5h1M35 39.5h1M34 43.5h2M35 48.5h2M36 50.5h1M0 51.5h1M31 51.5h1M33 51.5h1M35 51.5h1M1 54.5h1M31 54.5h1M35 54.5h1M36 55.5h1M28 56.5h2M35 56.5h1M37 56.5h1M33 57.5h1M37 57.5h1M36 58.5h1M31 60.5h1M33 60.5h1M33 64.5h2M32 65.5h1M34 69.5h1M24 70.5h2M30 70.5h1M33 71.5h2"/>
<path stroke="#98c5e5" d="M1 2.5h1M9 16.5h1M0 18.5h1M0 41.5h1M1 49.5h1M1 61.5h1M1 65.5h1"/>
<path stroke="#ee7418" d="M36 2.5h1M31 4.5h1M33 4.5h2M37 4.5h1M37 7.5h1M0 8.5h1M32 9.5h1M36 11.5h1M33 15.5h1M35 17.5h2M30 18.5h1M35 18.5h1M34 24.5h1M36 24.5h1M32 25.5h1M37 25.5h1M33 31.5h1M36 31.5h2M31 35.5h1M34 37.5h1M1 42.5h1M33 43.5h1M37 46.5h1M37 48.5h1M1 51.5h1M37 51.5h1M37 54.5h1M37 60.5h1M35 64.5h1M36 69.5h1M0 70.5h2M34 70.5h1M32 71.5h1"/>
<path stroke="#e6511c" d="M1 5.5h1M35 9.5h1M37 9.5h1M36 20.5h1M37 37.5h1M37 38.5h1M36 71.5h1"/>
<path stroke="#eb6719" d="M35 7.5h2M37 14.5h1M34 15.5h1M19 18.5h1M35 20.5h1M37 20.5h1M35 24.5h1M33 35.5h1M37 35.5h1M33 38.5h1M37 43.5h1M36 46.5h1M36 56.5h1M34 60.5h3M37 69.5h1M31 70.5h1M35 70.5h1"/>
<path stroke="#e85a1a" d="M1 8.5h1M33 9.5h2M36 9.5h1M0 34.5h1M36 37.5h1M35 38.5h2M36 43.5h1M33 70.5h1M36 70.5h1M35 71.5h1M37 71.5h1M36 72.5h2"/>
<path stroke="#77b3dd" d="M0 10.5h1M1 16.5h1M1 48.5h1M1 66.5h1"/>
<path stroke="#82b9e0" d="M1 10.5h1M0 45.5h1"/>
<path stroke="#a3cce8" d="M0 19.5h1M1 46.5h1M1 50.5h1M6 53.5h1"/>
<path stroke="#8cbfe2" d="M0 22.5h1M0 24.5h1M1 40.5h1M0 43.5h1"/>
<path stroke="#e4491e" d="M0 37.5h1M37 70.5h1"/>
<path stroke="#6dacda" d="M0 42.5h1"/>
<path stroke="#64a5d7" d="M1 52.5h1"/>
<path stroke="#5a9ed4" d="M0 67.5h1"/>
<path stroke="#e24020" d="M32 70.5h1"/>
</g>
<g transform="translate(201 202) scale(4.5 1)" fill="none" stroke-width="1" shape-rendering="crispEdges">
<path stroke="#fdd16a" d="M0 0.5h1M2 0.5h1M4 0.5h1M13 0.5h1M19 0.5h2M23 0.5h3M27 0.5h1M5 1.5h1M15 1.5h1M29 1.5h1M0 2.5h1M2 2.5h1M6 2.5h1M10 2.5h1M14 2.5h1M21 2.5h2M25 2.5h2M10 3.5h2M13 3.5h2M19 3.5h1M21 3.5h1M4 4.5h1M7 4.5h1M10 4.5h1M12 4.5h1M19 4.5h1M28 4.5h1M0 5.5h1M4 5.5h2M16 5.5h2M9 6.5h1M17 6.5h1M26 6.5h2M37 6.5h1M24 7.5h1M28 7.5h1M7 8.5h1M16 8.5h1M23 8.5h1M3 9.5h1M16 9.5h1M22 9.5h1M24 9.5h1M4 10.5h1M8 10.5h2M11 10.5h2M14 10.5h1M17 10.5h1M19 10.5h2M22 10.5h1M25 10.5h1M28 10.5h1M22 11.5h1M1 12.5h1M8 12.5h1M13 12.5h2M17 12.5h1M19 12.5h1M22 12.5h1M27 12.5h1M30 12.5h1M31 13.5h2M36 13.5h2M39 13.5h2M4 14.5h1M7 14.5h1M17 14.5h1M29 14.5h1M4 15.5h2M8 15.5h1M25 15.5h1M16 16.5h1M18 16.5h1M27 16.5h4M33 16.5h1M36 16.5h1M4 17.5h1M6 17.5h1M12 17.5h2M25 17.5h1M5 18.5h1M7 18.5h1M9 18.5h1M4 20.5h1M8 20.5h1M10 20.5h1M14 20.5h1M21 20.5h1M27 20.5h2M5 21.5h1M11 21.5h1M15 21.5h1M18 21.5h1M21 21.5h1M24 21.5h1M30 21.5h1M1 22.5h1M11 22.5h1M13 22.5h1M16 22.5h2M28 22.5h2M4 23.5h1M13 23.5h2M16 23.5h1M22 23.5h1M28 23.5h2M11 24.5h1M13 24.5h1M23 24.5h2M29 24.5h1M0 25.5h1M2 25.5h1M6 25.5h1M9 25.5h2M16 25.5h1M20 25.5h1M22 25.5h1M25 25.5h1M28 25.5h1M4 26.5h2M18 26.5h1M37 26.5h1M39 26.5h1M1 27.5h1M7 27.5h2M13 27.5h1M17 27.5h1M0 28.5h1M6 28.5h1M15 28.5h1M21 28.5h1M30 28.5h1M40 28.5h1M32 29.5h1M38 29.5h1M3 30.5h1M9 30.5h1M12 30.5h1M18 30.5h1M22 30.5h1M26 30.5h3M16 31.5h1M20 31.5h1M22 31.5h1M26 31.5h1M4 32.5h1M15 32.5h1M17 32.5h1M0 33.5h2M3 33.5h2M14 33.5h3M21 33.5h1M3 34.5h1M6 34.5h1M18 34.5h1M23 34.5h2M30 34.5h1M1 35.5h1M9 35.5h1M11 35.5h2M14 35.5h1M17 35.5h1M25 35.5h1M2 36.5h1M9 36.5h1M11 36.5h1M15 36.5h1M17 36.5h2M28 36.5h1M5 37.5h1M12 37.5h1M17 37.5h1M20 37.5h1M27 37.5h1M29 37.5h1M6 38.5h1M9 38.5h1M11 38.5h2M20 38.5h1M26 39.5h1M1 40.5h1M3 40.5h1M14 40.5h2M17 40.5h2M20 40.5h1M22 40.5h1M4 41.5h1M24 41.5h1M28 41.5h1M13 42.5h1M16 42.5h1M34 42.5h1M40 42.5h2M2 43.5h2M7 43.5h1M17 43.5h1M20 43.5h2M3 44.5h1M6 44.5h1M34 44.5h1M24 45.5h2M4 46.5h2M8 46.5h1M30 46.5h3M1 47.5h2M6 47.5h1M10 47.5h1M15 47.5h1M20 47.5h1M24 47.5h1M26 47.5h1M0 48.5h1M4 48.5h2M24 48.5h1M0 49.5h1M9 49.5h1M28 49.5h1M30 49.5h1M36 49.5h1M7 50.5h1M11 50.5h1M14 50.5h1M16 50.5h1M18 50.5h2M21 50.5h1M23 50.5h1M26 50.5h2M1 51.5h2M15 51.5h1M26 51.5h2M14 52.5h2M2 53.5h1M5 53.5h1M12 53.5h1M15 53.5h1M19 53.5h1M22 53.5h1M24 53.5h1M29 53.5h1M9 54.5h1M15 54.5h1M2 55.5h1M6 55.5h1M8 55.5h1M10 55.5h1M12 55.5h1M17 55.5h1M21 55.5h1M26 55.5h1M0 56.5h1M2 56.5h1M5 56.5h3M10 56.5h1M15 56.5h1M19 56.5h1M22 56.5h1M24 56.5h1M27 56.5h1M29 56.5h1M5 57.5h1M12 57.5h1M16 57.5h1M18 57.5h1M22 57.5h2M25 57.5h1M29 57.5h1M5 58.5h2M13 58.5h1M17 58.5h1M19 58.5h1M5 59.5h1M15 59.5h1M20 59.5h1M25 59.5h1M1 60.5h1M4 60.5h2M21 60.5h3M0 61.5h1M3 61.5h1M5 61.5h4M18 61.5h1M21 61.5h1M27 61.5h1M12 62.5h1M30 62.5h1M32 62.5h1M34 62.5h2M3 63.5h1M6 63.5h1M11 63.5h2M18 63.5h1M1 64.5h1M5 64.5h1M13 64.5h2M22 64.5h1M26 64.5h1M31 64.5h1M0 65.5h1M2 65.5h1M5 65.5h1M11 65.5h1M21 65.5h2M3 66.5h1M14 66.5h1M18 66.5h1M20 66.5h1M22 66.5h1M24 66.5h3M29 66.5h1M1 67.5h1M5 67.5h1M8 67.5h1M13 67.5h1M3 68.5h1M19 68.5h2M1 69.5h1M4 69.5h1M6 69.5h1M17 69.5h1M27 69.5h1M32 69.5h1M1 70.5h1M18 70.5h1M21 70.5h2M24 70.5h2M0 71.5h2M5 71.5h1M22 71.5h1M25 71.5h2M6 72.5h1M12 72.5h1M23 72.5h1M26 72.5h1"/>
<path stroke="#fcbc3c" d="M1 0.5h1M3 0.5h1M7 0.5h1M15 0.5h1M17 0.5h1M28 0.5h1M30 0.5h1M32 1.5h1M41 1.5h1M8 2.5h1M24 2.5h1M27 2.5h3M22 3.5h1M2 4.5h2M13 4.5h1M15 4.5h1M22 4.5h2M3 5.5h1M23 6.5h1M32 6.5h1M29 7.5h1M15 8.5h1M18 8.5h3M26 8.5h1M28 8.5h1M30 9.5h1M40 9.5h1M5 10.5h3M10 10.5h1M23 10.5h1M17 11.5h3M21 11.5h1M2 12.5h1M9 12.5h1M12 12.5h1M15 12.5h1M23 12.5h3M31 12.5h1M7 13.5h1M34 13.5h1M38 13.5h1M41 13.5h1M3 14.5h1M5 14.5h2M22 15.5h1M24 15.5h1M9 16.5h1M34 16.5h2M1 17.5h1M3 17.5h1M11 17.5h1M22 17.5h2M26 17.5h3M30 17.5h1M0 18.5h3M13 18.5h1M15 18.5h1M19 18.5h1M24 18.5h1M40 19.5h1M0 20.5h2M6 20.5h2M15 20.5h1M20 20.5h1M24 20.5h1M13 21.5h2M16 21.5h1M19 21.5h1M25 21.5h1M27 21.5h3M3 22.5h1M14 22.5h2M24 22.5h1M6 23.5h1M8 23.5h1M10 23.5h1M21 23.5h1M27 23.5h1M0 24.5h2M4 24.5h1M12 24.5h1M22 24.5h1M1 25.5h1M7 25.5h1M11 25.5h2M14 25.5h1M17 25.5h1M23 25.5h2M29 25.5h1M38 26.5h1M4 27.5h1M6 27.5h1M10 27.5h1M12 27.5h1M16 27.5h1M18 27.5h2M21 27.5h1M26 27.5h1M28 27.5h1M14 28.5h1M22 28.5h1M28 28.5h1M38 28.5h1M10 30.5h1M14 30.5h2M25 30.5h1M31 30.5h1M0 31.5h1M4 31.5h1M6 31.5h4M14 31.5h1M21 31.5h1M24 31.5h2M14 32.5h1M23 32.5h2M6 33.5h1M8 33.5h1M20 33.5h1M28 33.5h1M8 34.5h2M12 34.5h1M15 34.5h1M17 34.5h1M19 34.5h1M3 35.5h1M15 35.5h1M18 35.5h2M26 35.5h2M1 36.5h1M3 36.5h1M10 36.5h1M16 36.5h1M23 36.5h2M27 36.5h1M0 37.5h1M8 37.5h2M18 37.5h1M24 37.5h1M36 37.5h1M0 38.5h1M3 38.5h1M10 38.5h1M22 38.5h5M28 38.5h2M9 39.5h2M27 39.5h1M32 39.5h1M40 39.5h1M0 40.5h1M2 40.5h1M4 40.5h1M9 40.5h1M12 40.5h1M16 40.5h1M23 40.5h1M2 41.5h1M5 41.5h1M9 41.5h1M13 41.5h3M21 41.5h1M32 41.5h1M24 42.5h1M31 42.5h2M38 42.5h1M0 43.5h2M9 43.5h4M14 43.5h1M16 43.5h1M25 43.5h1M38 43.5h1M4 44.5h2M31 44.5h1M35 44.5h2M38 44.5h1M40 44.5h1M12 45.5h1M26 45.5h1M11 46.5h1M34 46.5h1M13 47.5h1M16 47.5h1M21 47.5h1M23 47.5h1M27 47.5h3M2 48.5h1M10 48.5h1M19 48.5h1M35 49.5h1M8 50.5h1M20 50.5h1M28 50.5h2M0 51.5h1M4 51.5h2M10 51.5h1M14 51.5h1M20 51.5h1M22 51.5h1M25 51.5h1M28 51.5h1M31 52.5h2M6 53.5h1M13 53.5h1M17 53.5h1M23 53.5h1M28 53.5h1M30 54.5h1M38 54.5h3M0 55.5h1M4 55.5h2M7 55.5h1M14 55.5h2M4 56.5h1M16 56.5h2M30 56.5h2M4 57.5h1M19 57.5h2M33 57.5h1M2 58.5h1M4 58.5h1M9 58.5h1M11 58.5h1M15 58.5h1M18 58.5h1M1 59.5h1M6 59.5h2M12 59.5h1M17 59.5h2M22 59.5h2M29 59.5h1M2 60.5h1M6 60.5h2M9 60.5h1M14 60.5h3M18 60.5h1M24 60.5h3M30 60.5h1M4 61.5h1M12 61.5h1M16 61.5h1M25 61.5h1M31 62.5h1M33 62.5h1M38 62.5h4M5 63.5h1M7 63.5h2M13 63.5h1M16 63.5h2M21 63.5h5M28 63.5h1M15 64.5h2M19 64.5h2M27 64.5h1M30 64.5h1M7 65.5h1M14 65.5h4M23 65.5h1M26 65.5h2M0 66.5h1M2 66.5h1M5 66.5h1M21 66.5h1M30 66.5h1M4 67.5h1M9 67.5h1M0 68.5h1M28 68.5h1M5 69.5h1M37 69.5h1M16 70.5h1M27 70.5h1M30 70.5h1M6 71.5h1M9 71.5h2M30 71.5h1M4 72.5h1M20 72.5h1M25 72.5h1M27 72.5h1M30 72.5h1"/>
<path stroke="#f79a1c" d="M5 0.5h1M30 2.5h2M41 2.5h1M36 3.5h1M5 4.5h1M21 4.5h1M26 4.5h2M29 4.5h2M1 5.5h1M32 5.5h1M24 6.5h1M31 6.5h1M36 6.5h1M39 6.5h1M35 7.5h1M40 7.5h1M31 9.5h1M38 9.5h1M24 10.5h1M4 11.5h1M14 11.5h1M24 11.5h2M27 11.5h1M21 12.5h1M29 12.5h1M30 15.5h2M41 15.5h1M38 16.5h2M16 18.5h1M20 18.5h1M30 18.5h1M31 19.5h1M41 19.5h1M16 20.5h1M30 20.5h1M26 21.5h1M37 22.5h1M31 23.5h1M3 24.5h1M5 25.5h1M19 25.5h1M33 26.5h2M22 27.5h2M25 27.5h1M29 27.5h2M23 28.5h1M35 29.5h1M37 29.5h1M19 30.5h1M32 30.5h1M35 30.5h1M10 31.5h1M29 31.5h1M33 31.5h1M37 31.5h1M28 32.5h1M31 33.5h1M41 33.5h1M7 34.5h1M21 34.5h2M28 34.5h1M31 34.5h1M28 35.5h2M31 35.5h1M6 36.5h1M19 36.5h1M21 36.5h1M30 36.5h2M4 37.5h1M32 37.5h1M35 37.5h1M39 37.5h1M37 39.5h3M41 39.5h1M5 40.5h3M10 40.5h2M26 40.5h1M28 40.5h1M31 40.5h1M6 41.5h1M8 41.5h1M20 41.5h1M22 41.5h1M30 41.5h1M13 43.5h1M23 43.5h1M32 44.5h1M4 45.5h1M16 45.5h1M19 45.5h2M27 45.5h1M30 45.5h1M35 46.5h1M40 46.5h1M17 47.5h1M1 48.5h1M9 48.5h1M14 48.5h1M16 48.5h2M22 48.5h2M26 48.5h1M31 49.5h2M38 49.5h1M2 50.5h1M10 50.5h1M32 50.5h1M6 51.5h3M11 51.5h1M30 51.5h1M33 52.5h1M39 52.5h1M0 53.5h1M16 53.5h1M25 53.5h1M32 53.5h2M32 54.5h2M37 54.5h1M40 55.5h1M8 56.5h1M39 56.5h1M41 57.5h1M14 58.5h1M27 58.5h1M3 59.5h1M26 59.5h1M30 59.5h1M3 60.5h1M8 60.5h1M12 60.5h1M27 60.5h1M10 61.5h1M20 61.5h1M1 63.5h1M4 63.5h1M15 63.5h1M19 63.5h1M29 63.5h1M31 63.5h1M29 64.5h1M3 65.5h1M12 65.5h2M24 65.5h1M29 65.5h1M1 66.5h1M32 66.5h1M2 67.5h1M32 67.5h1M37 67.5h2M27 68.5h1M31 68.5h1M36 69.5h1M38 69.5h1M13 70.5h1M20 70.5h1M31 70.5h1M40 70.5h1M41 71.5h1M21 72.5h1M28 72.5h1"/>
<path stroke="#faaa25" d="M6 0.5h1M18 0.5h1M29 0.5h1M33 1.5h1M40 1.5h1M23 2.5h1M6 3.5h1M29 3.5h2M0 4.5h2M16 4.5h1M20 4.5h1M24 4.5h1M2 5.5h1M27 5.5h1M41 5.5h1M38 6.5h1M41 6.5h1M31 7.5h1M33 7.5h1M17 8.5h1M29 8.5h1M23 9.5h1M37 9.5h1M30 10.5h1M5 11.5h1M7 11.5h1M9 11.5h1M20 11.5h1M23 11.5h1M26 11.5h1M28 11.5h1M28 12.5h1M35 13.5h1M31 14.5h2M19 15.5h1M32 15.5h1M31 16.5h2M37 16.5h1M29 17.5h1M6 18.5h1M8 18.5h1M12 18.5h1M18 18.5h1M21 18.5h3M28 18.5h2M33 19.5h2M9 20.5h1M17 20.5h1M23 20.5h1M3 21.5h1M12 21.5h1M12 22.5h1M27 22.5h1M7 23.5h1M9 23.5h1M11 23.5h2M15 23.5h1M30 23.5h1M2 24.5h1M21 24.5h1M30 24.5h1M4 25.5h1M13 25.5h1M18 25.5h1M26 25.5h1M35 26.5h2M41 26.5h1M0 27.5h1M5 27.5h1M9 27.5h1M11 27.5h1M20 27.5h1M25 28.5h1M29 28.5h1M33 28.5h1M36 28.5h1M39 28.5h1M41 28.5h1M34 29.5h1M41 29.5h1M4 30.5h2M13 30.5h1M16 30.5h1M24 30.5h1M29 30.5h1M1 31.5h3M13 31.5h1M15 31.5h1M17 31.5h3M23 31.5h1M0 32.5h1M25 32.5h1M2 33.5h1M5 33.5h1M12 33.5h2M17 33.5h1M22 33.5h1M29 33.5h2M32 33.5h1M10 34.5h2M20 34.5h1M25 34.5h2M0 35.5h1M16 35.5h1M4 36.5h2M23 37.5h1M25 37.5h1M30 37.5h1M33 37.5h1M41 37.5h1M16 38.5h1M18 38.5h2M30 38.5h1M33 39.5h3M8 40.5h1M13 40.5h1M21 40.5h1M24 40.5h2M27 40.5h1M29 40.5h1M0 41.5h1M3 41.5h1M18 41.5h2M27 41.5h1M31 41.5h1M30 42.5h1M5 43.5h1M22 43.5h1M24 43.5h1M26 43.5h3M30 43.5h1M33 44.5h1M37 44.5h1M39 44.5h1M0 45.5h2M11 45.5h1M13 45.5h1M28 45.5h1M33 46.5h1M37 46.5h3M41 46.5h1M12 47.5h1M14 47.5h1M18 47.5h2M22 47.5h1M30 47.5h1M7 48.5h1M11 48.5h3M27 48.5h3M37 49.5h1M0 50.5h2M17 50.5h1M25 50.5h1M30 50.5h1M12 51.5h2M24 51.5h1M29 51.5h1M26 52.5h1M30 52.5h1M36 52.5h1M1 53.5h1M14 53.5h1M26 53.5h2M30 53.5h1M31 54.5h1M41 54.5h1M9 55.5h1M16 55.5h1M25 55.5h1M27 55.5h2M18 56.5h1M23 56.5h1M32 56.5h2M6 57.5h1M14 57.5h1M24 57.5h1M30 57.5h3M3 58.5h1M8 58.5h1M10 58.5h1M16 58.5h1M24 58.5h2M28 58.5h2M2 59.5h1M11 59.5h1M16 59.5h1M24 59.5h1M31 59.5h2M0 60.5h1M10 60.5h2M19 60.5h2M31 60.5h1M39 60.5h1M1 61.5h1M9 61.5h1M17 61.5h1M29 61.5h1M31 61.5h1M36 62.5h1M2 63.5h1M14 63.5h1M11 64.5h1M21 64.5h1M25 64.5h1M32 64.5h1M6 65.5h1M25 65.5h1M32 65.5h1M6 66.5h1M3 67.5h1M31 67.5h1M22 68.5h2M26 68.5h1M29 68.5h1M8 69.5h1M33 69.5h2M10 70.5h1M12 70.5h1M15 70.5h1M17 70.5h1M19 70.5h1M28 70.5h1M11 71.5h1M32 71.5h1M0 72.5h2M3 72.5h1M14 72.5h2M17 72.5h1M19 72.5h1M22 72.5h1M24 72.5h1M29 72.5h1"/>
<path stroke="#fee9b0" d="M8 0.5h2M12 0.5h1M14 0.5h1M16 0.5h1M22 0.5h1M1 1.5h1M6 1.5h2M14 1.5h1M30 1.5h2M9 2.5h1M0 3.5h1M3 3.5h3M7 3.5h2M20 3.5h1M23 3.5h2M6 4.5h1M8 4.5h1M14 4.5h1M18 4.5h1M13 5.5h1M15 5.5h1M25 5.5h2M7 6.5h1M12 6.5h1M16 6.5h1M18 6.5h1M28 6.5h2M1 7.5h1M7 7.5h1M23 7.5h1M30 7.5h1M1 8.5h3M5 8.5h2M13 8.5h1M25 8.5h1M27 8.5h1M5 9.5h1M7 9.5h1M17 9.5h2M29 9.5h1M2 10.5h2M15 10.5h1M21 10.5h1M26 10.5h1M29 10.5h1M6 11.5h1M10 11.5h1M16 11.5h1M3 12.5h1M7 12.5h1M10 12.5h2M16 12.5h1M20 12.5h1M26 12.5h1M33 13.5h1M0 14.5h1M16 14.5h1M26 14.5h3M6 15.5h1M18 15.5h1M20 15.5h1M23 15.5h1M26 15.5h2M29 15.5h1M8 16.5h1M15 16.5h1M25 16.5h2M0 17.5h1M2 17.5h1M8 17.5h1M17 17.5h2M24 17.5h1M3 18.5h1M11 18.5h1M10 19.5h1M14 19.5h1M17 19.5h1M29 19.5h1M5 20.5h1M18 20.5h2M22 20.5h1M2 21.5h1M4 21.5h1M6 21.5h2M17 21.5h1M22 21.5h1M0 22.5h1M5 22.5h1M18 22.5h3M23 22.5h1M25 22.5h2M30 22.5h1M32 22.5h1M0 23.5h1M26 23.5h1M6 24.5h3M10 24.5h1M14 24.5h2M19 24.5h1M27 24.5h1M8 25.5h1M15 25.5h1M21 26.5h1M30 26.5h1M32 26.5h1M40 26.5h1M3 27.5h1M15 27.5h1M2 28.5h1M5 28.5h1M8 28.5h1M16 28.5h1M24 28.5h1M26 28.5h1M31 28.5h2M13 29.5h2M30 29.5h1M39 29.5h2M0 30.5h2M6 30.5h2M11 30.5h1M21 30.5h1M23 30.5h1M30 30.5h1M27 31.5h2M2 32.5h1M6 32.5h1M11 32.5h1M26 32.5h1M7 33.5h1M9 33.5h3M18 33.5h1M23 33.5h4M0 34.5h1M2 34.5h1M5 34.5h1M13 34.5h2M2 35.5h1M6 35.5h1M8 35.5h1M10 35.5h1M13 35.5h1M21 35.5h1M23 35.5h1M7 36.5h1M12 36.5h1M14 36.5h1M25 36.5h2M29 36.5h1M1 37.5h1M10 37.5h2M22 37.5h1M28 37.5h1M4 38.5h1M7 38.5h1M13 38.5h2M17 38.5h1M21 38.5h1M27 38.5h1M0 39.5h1M8 39.5h1M11 39.5h1M24 39.5h1M29 39.5h3M19 40.5h1M1 41.5h1M10 41.5h1M12 41.5h1M16 41.5h1M25 41.5h2M2 42.5h1M17 42.5h1M25 42.5h1M15 43.5h1M2 44.5h1M30 44.5h1M3 45.5h1M3 46.5h1M9 46.5h2M21 46.5h1M4 47.5h2M9 47.5h1M11 47.5h1M25 47.5h1M18 48.5h1M1 49.5h1M8 49.5h1M10 49.5h1M16 49.5h1M29 49.5h1M13 50.5h1M22 50.5h1M24 50.5h1M3 51.5h1M9 51.5h1M16 51.5h2M19 51.5h1M21 51.5h1M23 51.5h1M1 52.5h1M4 52.5h1M6 52.5h1M24 52.5h2M27 52.5h1M3 53.5h1M18 53.5h1M0 54.5h2M4 54.5h1M8 54.5h1M14 54.5h1M16 54.5h1M21 54.5h1M24 54.5h1M3 55.5h1M18 55.5h1M20 55.5h1M22 55.5h3M9 56.5h1M11 56.5h1M26 56.5h1M0 57.5h1M2 57.5h2M7 57.5h1M11 57.5h1M13 57.5h1M17 57.5h1M26 57.5h1M28 57.5h1M1 58.5h1M12 58.5h1M8 59.5h1M10 59.5h1M19 59.5h1M21 59.5h1M27 59.5h2M29 60.5h1M15 61.5h1M24 61.5h1M26 61.5h1M2 62.5h1M25 62.5h2M28 62.5h1M0 63.5h1M10 63.5h1M26 63.5h2M0 64.5h1M9 64.5h2M12 64.5h1M17 64.5h1M24 64.5h1M1 65.5h1M4 65.5h1M8 65.5h2M4 66.5h1M7 66.5h1M9 66.5h1M16 66.5h2M19 66.5h1M28 66.5h1M7 67.5h1M14 67.5h1M16 67.5h1M25 67.5h1M30 67.5h1M1 68.5h2M4 68.5h1M17 68.5h2M3 69.5h1M7 69.5h1M10 69.5h1M18 69.5h1M23 69.5h2M28 69.5h2M31 69.5h1M2 70.5h3M7 70.5h1M11 70.5h1M29 70.5h1M12 71.5h3M18 71.5h1M20 71.5h1M24 71.5h1M29 71.5h1M31 71.5h1M5 72.5h1M7 72.5h1M13 72.5h1M18 72.5h1"/>
<path stroke="#f4f7f4" d="M10 0.5h1M26 0.5h1M10 1.5h1M12 1.5h2M17 1.5h1M28 1.5h1M1 2.5h1M3 2.5h1M11 2.5h1M15 2.5h2M18 2.5h1M26 3.5h1M28 3.5h1M7 5.5h1M9 5.5h1M18 5.5h2M24 5.5h1M29 5.5h1M0 6.5h1M3 6.5h3M14 6.5h1M0 7.5h1M4 7.5h3M17 7.5h2M20 7.5h2M25 7.5h3M8 8.5h1M2 9.5h1M4 9.5h1M8 9.5h2M11 9.5h2M15 9.5h1M19 9.5h1M21 9.5h1M0 10.5h2M8 11.5h1M0 13.5h1M2 13.5h1M8 13.5h1M12 13.5h2M19 13.5h1M23 13.5h1M29 13.5h1M2 14.5h1M19 14.5h2M23 14.5h2M30 14.5h1M0 15.5h1M2 15.5h2M2 16.5h1M5 16.5h2M11 16.5h1M17 16.5h1M19 16.5h3M23 16.5h1M7 17.5h1M16 17.5h1M19 17.5h1M14 18.5h1M1 19.5h1M11 19.5h1M13 19.5h1M15 19.5h1M21 19.5h1M13 20.5h1M25 20.5h1M8 21.5h1M10 21.5h1M2 22.5h1M1 23.5h2M23 23.5h1M25 23.5h1M16 24.5h1M20 24.5h1M25 24.5h1M28 24.5h1M0 26.5h1M6 26.5h2M16 26.5h1M27 26.5h3M3 28.5h1M9 28.5h4M19 28.5h1M1 29.5h1M5 29.5h1M9 29.5h1M11 29.5h1M19 29.5h1M21 29.5h1M23 29.5h2M27 29.5h1M29 29.5h1M31 29.5h1M5 32.5h1M7 32.5h3M13 32.5h1M19 32.5h3M5 35.5h1M22 35.5h1M13 36.5h1M3 37.5h1M7 37.5h1M19 37.5h1M2 38.5h1M3 39.5h1M5 39.5h1M14 39.5h1M17 39.5h2M22 39.5h1M17 41.5h1M23 41.5h1M0 42.5h1M3 42.5h1M6 42.5h2M10 42.5h2M14 42.5h1M18 42.5h1M20 42.5h1M36 42.5h1M19 43.5h1M7 44.5h1M9 44.5h5M20 44.5h1M22 44.5h2M27 44.5h1M1 46.5h2M6 46.5h1M14 46.5h1M24 46.5h5M2 49.5h1M6 49.5h2M11 49.5h1M13 49.5h1M17 49.5h1M19 49.5h2M26 49.5h2M6 50.5h1M18 51.5h1M10 52.5h1M17 52.5h3M22 52.5h1M29 52.5h1M8 53.5h3M6 54.5h2M11 54.5h3M19 54.5h1M22 54.5h1M25 54.5h1M29 54.5h1M1 55.5h1M14 56.5h1M8 57.5h2M20 58.5h1M23 58.5h1M13 59.5h1M28 60.5h1M3 62.5h1M8 62.5h3M15 62.5h1M21 62.5h1M23 62.5h1M20 63.5h1M4 64.5h1M8 64.5h1M19 65.5h1M13 66.5h1M11 67.5h1M17 67.5h1M24 67.5h1M26 67.5h1M7 68.5h3M13 68.5h1M15 68.5h1M12 69.5h5M20 69.5h2M26 69.5h1M0 70.5h1M9 70.5h1M26 70.5h1M2 71.5h3M15 71.5h2M28 71.5h1M8 72.5h1"/>
<path stroke="#e9f2f7" d="M11 0.5h1M4 1.5h1M8 1.5h1M16 1.5h1M18 1.5h1M26 1.5h2M4 2.5h1M12 2.5h1M1 3.5h1M12 3.5h1M15 3.5h4M11 5.5h2M14 5.5h1M1 6.5h2M15 6.5h1M19 6.5h1M21 6.5h1M25 6.5h1M2 7.5h2M14 7.5h1M19 7.5h1M4 8.5h1M11 8.5h1M0 9.5h2M10 9.5h1M20 9.5h1M1 13.5h1M9 13.5h1M20 13.5h1M24 13.5h2M28 13.5h1M9 14.5h2M12 14.5h1M15 14.5h1M22 14.5h1M9 15.5h1M16 15.5h1M10 16.5h1M12 16.5h3M22 16.5h1M0 19.5h1M7 19.5h2M20 19.5h1M23 19.5h2M28 19.5h1M7 22.5h1M9 22.5h1M22 22.5h1M26 24.5h1M8 26.5h1M10 26.5h1M12 26.5h3M22 26.5h1M25 26.5h1M17 28.5h1M6 29.5h1M8 29.5h1M16 29.5h3M22 29.5h1M28 29.5h1M12 32.5h1M18 32.5h1M15 37.5h1M6 39.5h1M15 39.5h1M19 39.5h2M8 42.5h1M28 42.5h2M24 44.5h1M26 44.5h1M16 46.5h1M18 46.5h1M22 46.5h1M3 49.5h1M12 49.5h1M25 49.5h1M31 50.5h1M7 52.5h2M5 54.5h1M10 54.5h1M17 54.5h1M27 54.5h2M13 56.5h1M7 62.5h1M14 62.5h1M16 62.5h5M22 62.5h1M24 62.5h1M3 64.5h1M10 67.5h1M20 67.5h1M22 67.5h1M27 67.5h1M10 68.5h1M12 68.5h1M22 69.5h1M25 69.5h1M6 70.5h1M23 70.5h1M9 72.5h1"/>
<path stroke="#fffcf2" d="M21 0.5h1M0 1.5h1M9 1.5h1M11 1.5h1M21 1.5h1M5 2.5h1M7 2.5h1M13 2.5h1M19 2.5h2M2 3.5h1M9 3.5h1M25 3.5h1M27 3.5h1M11 4.5h1M17 4.5h1M6 5.5h1M8 5.5h1M10 5.5h1M20 5.5h2M23 5.5h1M28 5.5h1M30 5.5h1M6 6.5h1M8 6.5h1M10 6.5h1M20 6.5h1M22 6.5h1M8 7.5h1M11 7.5h1M22 7.5h1M0 8.5h1M9 8.5h2M12 8.5h1M14 8.5h1M21 8.5h2M24 8.5h1M6 9.5h1M28 9.5h1M13 10.5h1M16 10.5h1M18 10.5h1M27 10.5h1M0 12.5h1M4 12.5h3M18 12.5h1M3 13.5h3M10 13.5h2M18 13.5h1M26 13.5h1M30 13.5h1M1 14.5h1M8 14.5h1M13 14.5h2M18 14.5h1M21 14.5h1M25 14.5h1M1 15.5h1M7 15.5h1M10 15.5h6M17 15.5h1M21 15.5h1M28 15.5h1M0 16.5h2M3 16.5h2M7 16.5h1M5 17.5h1M9 17.5h2M14 17.5h2M21 17.5h1M4 18.5h1M10 18.5h1M2 19.5h5M9 19.5h1M12 19.5h1M18 19.5h1M2 20.5h2M11 20.5h2M26 20.5h1M0 21.5h2M9 21.5h1M20 21.5h1M23 21.5h1M4 22.5h1M6 22.5h1M10 22.5h1M21 22.5h1M3 23.5h1M5 23.5h1M17 23.5h4M24 23.5h1M5 24.5h1M9 24.5h1M17 24.5h2M3 25.5h1M21 25.5h1M1 26.5h3M9 26.5h1M15 26.5h1M17 26.5h1M19 26.5h1M23 26.5h2M31 26.5h1M2 27.5h1M14 27.5h1M1 28.5h1M4 28.5h1M7 28.5h1M13 28.5h1M18 28.5h1M20 28.5h1M27 28.5h1M0 29.5h1M2 29.5h1M7 29.5h1M12 29.5h1M20 29.5h1M25 29.5h1M33 29.5h1M2 30.5h1M8 30.5h1M17 30.5h1M5 31.5h1M10 32.5h1M16 32.5h1M22 32.5h1M19 33.5h1M27 33.5h1M1 34.5h1M4 34.5h1M16 34.5h1M4 35.5h1M7 35.5h1M24 35.5h1M0 36.5h1M8 36.5h1M2 37.5h1M6 37.5h1M13 37.5h2M16 37.5h1M21 37.5h1M26 37.5h1M1 38.5h1M5 38.5h1M8 38.5h1M15 38.5h1M1 39.5h2M7 39.5h1M12 39.5h2M16 39.5h1M23 39.5h1M25 39.5h1M28 39.5h1M11 41.5h1M1 42.5h1M4 42.5h2M19 42.5h1M21 42.5h1M23 42.5h1M33 42.5h1M35 42.5h1M37 42.5h1M39 42.5h1M4 43.5h1M6 43.5h1M8 43.5h1M18 43.5h1M0 44.5h2M8 44.5h1M14 44.5h1M19 44.5h1M21 44.5h1M25 44.5h1M28 44.5h2M41 44.5h1M2 45.5h1M0 46.5h1M7 46.5h1M12 46.5h1M19 46.5h2M23 46.5h1M29 46.5h1M0 47.5h1M3 47.5h1M7 47.5h2M3 48.5h1M6 48.5h1M4 49.5h1M14 49.5h2M18 49.5h1M34 49.5h1M3 50.5h3M9 50.5h1M15 50.5h1M0 52.5h1M2 52.5h2M5 52.5h1M9 52.5h1M11 52.5h3M16 52.5h1M20 52.5h1M23 52.5h1M4 53.5h1M7 53.5h1M11 53.5h1M20 53.5h2M20 54.5h1M23 54.5h1M11 55.5h1M13 55.5h1M19 55.5h1M1 56.5h1M3 56.5h1M12 56.5h1M20 56.5h2M25 56.5h1M28 56.5h1M1 57.5h1M15 57.5h1M21 57.5h1M27 57.5h1M0 58.5h1M22 58.5h1M0 59.5h1M9 59.5h1M14 59.5h1M13 61.5h2M22 61.5h2M1 62.5h1M4 62.5h3M13 62.5h1M27 62.5h1M29 62.5h1M9 63.5h1M2 64.5h1M6 64.5h2M23 64.5h1M10 65.5h1M18 65.5h1M20 65.5h1M28 65.5h1M8 66.5h1M10 66.5h3M15 66.5h1M23 66.5h1M27 66.5h1M0 67.5h1M6 67.5h1M12 67.5h1M15 67.5h1M18 67.5h2M28 67.5h2M5 68.5h2M11 68.5h1M14 68.5h1M16 68.5h1M21 68.5h1M0 69.5h1M2 69.5h1M9 69.5h1M11 69.5h1M19 69.5h1M30 69.5h1M5 70.5h1M8 70.5h1M7 71.5h2M17 71.5h1M19 71.5h1M21 71.5h1M23 71.5h1M27 71.5h1M10 72.5h2"/>
<path stroke="#e85a1a" d="M31 0.5h1M34 0.5h1M35 2.5h1M40 3.5h1M38 5.5h1M33 8.5h2M38 8.5h2M33 10.5h3M37 10.5h1M40 12.5h2M41 16.5h1M33 17.5h1M41 17.5h1M34 18.5h1M37 18.5h1M40 18.5h1M34 20.5h1M41 20.5h1M41 22.5h1M38 23.5h2M35 24.5h2M40 24.5h1M32 25.5h1M32 27.5h1M40 30.5h1M41 32.5h1M33 34.5h3M38 34.5h3M33 36.5h2M36 36.5h1M36 40.5h2M40 40.5h2M34 41.5h1M39 43.5h2M34 45.5h1M36 45.5h1M38 45.5h2M35 47.5h1M34 48.5h2M38 48.5h1M40 48.5h1M39 50.5h1M34 51.5h1M37 51.5h1M39 51.5h1M34 55.5h1M41 55.5h1M38 58.5h1M41 59.5h1M33 60.5h1M36 61.5h2M40 61.5h1M33 63.5h1M39 64.5h1M37 65.5h1M41 66.5h1M36 67.5h1M34 68.5h2M37 68.5h1M31 72.5h1"/>
<path stroke="#f18019" d="M32 0.5h2M34 1.5h1M38 1.5h1M39 2.5h2M32 3.5h2M35 3.5h1M37 3.5h2M33 5.5h1M40 5.5h1M35 6.5h1M36 7.5h1M38 7.5h1M30 8.5h1M32 8.5h1M34 9.5h1M2 11.5h1M12 11.5h1M29 11.5h2M36 12.5h2M39 12.5h1M36 14.5h1M39 14.5h1M35 15.5h1M39 15.5h2M40 16.5h1M32 17.5h1M38 17.5h2M27 18.5h1M31 18.5h1M36 19.5h1M36 20.5h1M31 21.5h1M33 22.5h1M36 22.5h1M39 22.5h1M32 23.5h1M36 23.5h1M33 24.5h1M41 24.5h1M30 25.5h1M20 26.5h1M24 27.5h1M37 30.5h1M39 30.5h1M30 31.5h1M34 31.5h2M38 31.5h1M40 31.5h1M27 32.5h1M29 32.5h1M31 32.5h2M38 32.5h2M35 33.5h2M38 33.5h1M32 34.5h1M30 35.5h1M33 35.5h2M20 36.5h1M22 36.5h1M32 36.5h1M40 37.5h1M33 38.5h1M40 38.5h1M36 39.5h1M7 41.5h1M33 41.5h1M31 43.5h1M6 45.5h1M31 45.5h1M31 47.5h2M36 47.5h1M41 47.5h1M15 48.5h1M30 48.5h1M40 49.5h2M12 50.5h1M33 50.5h1M35 50.5h1M38 50.5h1M41 50.5h1M33 51.5h1M37 52.5h1M37 53.5h1M35 54.5h1M31 55.5h2M37 55.5h1M34 56.5h1M36 56.5h1M41 56.5h1M36 57.5h1M37 59.5h1M39 59.5h1M32 60.5h1M37 62.5h1M30 65.5h1M31 66.5h1M33 66.5h2M34 67.5h1M39 67.5h3M30 68.5h1M36 68.5h1M39 69.5h3M33 70.5h2M39 70.5h1M38 71.5h1M40 71.5h1M35 72.5h1M41 72.5h1"/>
<path stroke="#e24020" d="M35 0.5h1M37 4.5h1M34 11.5h1M39 11.5h1M40 25.5h1M38 27.5h2M40 45.5h1M35 55.5h1M35 60.5h1M37 60.5h1M38 63.5h1"/>
<path stroke="#e6511c" d="M36 0.5h1M38 0.5h1M34 2.5h1M31 4.5h1M41 4.5h1M38 10.5h1M33 11.5h1M41 11.5h1M35 18.5h1M37 20.5h3M37 21.5h1M37 24.5h1M34 25.5h1M41 31.5h1M41 34.5h1M40 35.5h2M39 36.5h1M34 40.5h1M38 41.5h2M35 43.5h1M33 45.5h1M37 45.5h1M41 45.5h1M34 47.5h1M33 48.5h1M36 48.5h1M39 48.5h1M35 51.5h1M38 51.5h1M40 51.5h1M34 52.5h1M36 58.5h1M38 60.5h1M41 60.5h1M39 61.5h1M40 63.5h2M35 65.5h1M40 65.5h2M37 66.5h1M40 66.5h1M38 72.5h1"/>
<path stroke="#ee7418" d="M37 0.5h1M40 0.5h1M37 1.5h1M33 2.5h1M36 2.5h1M34 3.5h1M39 3.5h1M41 3.5h1M32 4.5h1M34 5.5h3M39 5.5h1M39 7.5h1M31 8.5h1M36 8.5h2M40 8.5h2M33 9.5h1M31 10.5h2M1 11.5h1M13 11.5h1M32 12.5h1M40 14.5h1M37 15.5h2M31 17.5h1M37 17.5h1M26 18.5h1M37 19.5h2M35 20.5h1M40 20.5h1M32 21.5h1M34 21.5h2M34 22.5h1M40 22.5h1M33 23.5h1M37 23.5h1M40 23.5h1M34 24.5h1M38 24.5h1M31 27.5h1M35 28.5h1M34 30.5h1M36 30.5h1M31 31.5h1M34 32.5h1M37 32.5h1M40 32.5h1M37 33.5h1M39 33.5h1M32 35.5h1M41 36.5h1M31 38.5h2M35 38.5h2M38 38.5h2M32 40.5h1M40 41.5h2M32 43.5h2M37 43.5h1M39 47.5h1M41 48.5h1M34 50.5h1M37 50.5h1M40 50.5h1M41 51.5h1M41 52.5h1M36 53.5h1M40 53.5h2M33 55.5h1M36 55.5h1M39 55.5h1M37 56.5h1M35 57.5h1M39 57.5h1M31 58.5h2M34 58.5h2M37 58.5h1M41 58.5h1M33 59.5h2M38 59.5h1M33 61.5h1M35 63.5h1M35 64.5h1M37 64.5h1M34 65.5h1M39 65.5h1M35 66.5h1M38 66.5h1M35 67.5h1M36 70.5h1M33 71.5h2M37 71.5h1M39 71.5h1M36 72.5h2M39 72.5h2"/>
<path stroke="#f48d1a" d="M39 0.5h1M36 1.5h1M39 1.5h1M32 2.5h1M9 4.5h1M25 4.5h1M31 5.5h1M33 6.5h2M40 6.5h1M32 7.5h1M34 7.5h1M37 7.5h1M41 7.5h1M32 9.5h1M36 9.5h1M39 9.5h1M41 9.5h1M40 10.5h2M0 11.5h1M3 11.5h1M11 11.5h1M15 11.5h1M33 14.5h3M38 14.5h1M33 15.5h2M36 15.5h1M17 18.5h1M25 18.5h1M32 18.5h1M32 19.5h1M35 19.5h1M39 19.5h1M29 20.5h1M33 21.5h1M31 22.5h1M38 22.5h1M31 24.5h2M39 24.5h1M27 25.5h1M27 27.5h1M34 28.5h1M37 28.5h1M36 29.5h1M20 30.5h1M33 30.5h1M11 31.5h2M32 31.5h1M30 32.5h1M33 33.5h1M40 33.5h1M27 34.5h1M29 34.5h1M20 35.5h1M35 36.5h1M31 37.5h1M34 37.5h1M37 37.5h2M37 38.5h1M30 40.5h1M29 41.5h1M29 43.5h1M5 45.5h1M7 45.5h4M14 45.5h2M17 45.5h2M21 45.5h3M29 45.5h1M36 46.5h1M33 47.5h1M8 48.5h1M20 48.5h2M25 48.5h1M39 49.5h1M31 51.5h1M35 52.5h1M38 52.5h1M40 52.5h1M31 53.5h1M38 53.5h1M34 54.5h1M36 54.5h1M29 55.5h2M38 55.5h1M35 56.5h1M38 56.5h1M40 56.5h1M34 57.5h1M37 57.5h2M40 57.5h1M7 58.5h1M26 58.5h1M30 58.5h1M33 58.5h1M4 59.5h1M40 59.5h1M13 60.5h1M17 60.5h1M2 61.5h1M11 61.5h1M19 61.5h1M28 61.5h1M30 61.5h1M30 63.5h1M32 63.5h1M18 64.5h1M28 64.5h1M33 64.5h2M31 65.5h1M33 65.5h1M33 67.5h1M24 68.5h2M32 68.5h1M35 69.5h1M14 70.5h1M32 70.5h1M35 70.5h1M37 70.5h1M35 71.5h2M2 72.5h1M16 72.5h1M33 72.5h1"/>
<path stroke="#e4491e" d="M41 0.5h1M33 4.5h1M35 4.5h2M38 4.5h1M40 4.5h1M35 8.5h1M31 11.5h2M35 11.5h1M37 11.5h2M36 18.5h1M39 18.5h1M36 21.5h1M38 21.5h1M31 25.5h1M37 25.5h3M34 27.5h3M41 30.5h1M36 34.5h1M35 35.5h4M37 36.5h1M35 40.5h1M35 41.5h3M36 43.5h1M35 45.5h1M37 48.5h1M36 51.5h1M34 60.5h1M36 60.5h1M35 61.5h1M37 63.5h1M39 63.5h1M38 64.5h1M36 65.5h1M36 66.5h1"/>
<path stroke="#deecf6" d="M2 1.5h2M19 1.5h2M22 1.5h1M22 5.5h1M11 6.5h1M30 6.5h1M9 7.5h1M13 7.5h1M15 7.5h2M14 9.5h1M27 9.5h1M6 13.5h1M14 13.5h1M17 13.5h1M21 13.5h2M27 13.5h1M11 14.5h1M24 16.5h1M20 17.5h1M16 19.5h1M19 19.5h1M25 19.5h3M30 19.5h1M11 26.5h1M26 26.5h1M3 29.5h1M10 29.5h1M15 29.5h1M26 29.5h1M1 32.5h1M3 32.5h1M4 39.5h1M21 39.5h1M9 42.5h1M12 42.5h1M22 42.5h1M15 44.5h4M13 46.5h1M15 46.5h1M17 46.5h1M5 49.5h1M22 49.5h1M24 49.5h1M21 52.5h1M28 52.5h1M2 54.5h2M26 54.5h1M10 57.5h1M21 58.5h1M0 62.5h1M11 62.5h1M21 67.5h1M23 67.5h1"/>
<path stroke="#d2e5f3" d="M23 1.5h1M17 2.5h1M13 6.5h1M12 7.5h1M13 9.5h1M25 9.5h2M15 13.5h1M4 29.5h1M27 42.5h1M21 49.5h1M23 49.5h1M18 54.5h1"/>
<path stroke="#afd2ea" d="M24 1.5h1"/>
<path stroke="#c6dff0" d="M25 1.5h1M10 7.5h1M15 42.5h1M26 42.5h1"/>
<path stroke="#eb6719" d="M35 1.5h1M37 2.5h2M31 3.5h1M37 5.5h1M35 9.5h1M36 10.5h1M39 10.5h1M33 12.5h3M38 12.5h1M37 14.5h1M41 14.5h1M34 17.5h3M40 17.5h1M33 18.5h1M38 18.5h1M41 18.5h1M31 20.5h3M39 21.5h3M35 22.5h1M34 23.5h2M41 23.5h1M33 25.5h1M33 27.5h1M38 30.5h1M36 31.5h1M39 31.5h1M33 32.5h1M35 32.5h2M34 33.5h1M37 34.5h1M39 35.5h1M38 36.5h1M40 36.5h1M34 38.5h1M41 38.5h1M33 40.5h1M38 40.5h2M34 43.5h1M41 43.5h1M32 45.5h1M37 47.5h2M40 47.5h1M31 48.5h2M33 49.5h1M36 50.5h1M32 51.5h1M34 53.5h2M39 53.5h1M39 58.5h2M35 59.5h2M40 60.5h1M32 61.5h1M34 61.5h1M38 61.5h1M41 61.5h1M34 63.5h1M36 63.5h1M36 64.5h1M40 64.5h2M38 65.5h1M39 66.5h1M33 68.5h1M38 68.5h4M38 70.5h1M41 70.5h1M32 72.5h1M34 72.5h1"/>
<path stroke="#df3922" d="M34 4.5h1M40 11.5h1M36 25.5h1M41 25.5h1M37 27.5h1M40 27.5h2"/>
<path stroke="#db3724" d="M39 4.5h1M36 11.5h1M35 25.5h1"/>
<path stroke="#bad9ed" d="M16 13.5h1M22 19.5h1"/>
<path stroke="#a3cce8" d="M8 22.5h1"/>
</g>
<rect x="25" y="40" width="54" height="5" fill="#8e1ea8"/>
<rect x="79" y="40" width="62" height="5" fill="#5ec55e"/>
<rect x="141" y="40" width="54" height="5" fill="#f08a0c"/>
<rect x="201" y="40" width="40.3" height="5" fill="#8e1ea8"/>
<rect x="241.3" y="40" width="89.7" height="5" fill="#5ec55e"/>
<rect x="331" y="40" width="58" height="5" fill="#f08a0c"/>
<rect x="16" y="49.3" width="4.2" height="91.7" fill="#f7c800"/>
<rect x="16" y="141" width="4.2" height="27.3" fill="#e0392e"/>
<rect x="16" y="174" width="4.2" height="12.8" fill="#f7c800"/>
<rect x="16" y="186.8" width="4.2" height="9" fill="#e0392e"/>
<rect x="16" y="202" width="4.2" height="65.5" fill="#f7c800"/>
<rect x="16" y="267.5" width="4.2" height="8.3" fill="#e0392e"/>
<text x="-1" y="11.3" font-size="17" font-weight="bold">a</text>
<text x="19.3" y="17.8" font-size="11">Shared temporal peaks (<tspan font-style="italic">n</tspan> = 3197)</text>
<text x="104.8" y="34.3" font-size="11" text-anchor="middle">Females</text>
<text x="279.5" y="34.3" font-size="11" text-anchor="middle">Males</text>
<text x="-0.5" y="111.2" font-size="10.6">C1</text>
<text x="-0.5" y="188.4" font-size="10.6">C2</text>
<text x="-0.5" y="240.8" font-size="10.6">C3</text>
<text x="24.3" y="279.5" font-size="9.5" transform="rotate(90 24.3 279.5)">23</text>
<text x="42.24" y="279.5" font-size="9.5" transform="rotate(90 42.24 279.5)">29</text>
<text x="60.18" y="279.5" font-size="9.5" transform="rotate(90 60.18 279.5)">35</text>
<text x="78.12" y="279.5" font-size="9.5" transform="rotate(90 78.12 279.5)">42</text>
<text x="96.06" y="279.5" font-size="9.5" transform="rotate(90 96.06 279.5)">48</text>
<text x="114" y="279.5" font-size="9.5" transform="rotate(90 114 279.5)">54</text>
<text x="131.94" y="279.5" font-size="9.5" transform="rotate(90 131.94 279.5)">64</text>
<text x="149.88" y="279.5" font-size="9.5" transform="rotate(90 149.88 279.5)">72</text>
<text x="167.82" y="279.5" font-size="9.5" transform="rotate(90 167.82 279.5)">78</text>
<text x="185.76" y="279.5" font-size="9.5" transform="rotate(90 185.76 279.5)">86</text>
<text x="209.7" y="279.5" font-size="9.5" transform="rotate(90 209.7 279.5)">27</text>
<text x="227.54" y="279.5" font-size="9.5" transform="rotate(90 227.54 279.5)">35</text>
<text x="245.38" y="279.5" font-size="9.5" transform="rotate(90 245.38 279.5)">42</text>
<text x="263.22" y="279.5" font-size="9.5" transform="rotate(90 263.22 279.5)">46</text>
<text x="281.06" y="279.5" font-size="9.5" transform="rotate(90 281.06 279.5)">52</text>
<text x="298.9" y="279.5" font-size="9.5" transform="rotate(90 298.9 279.5)">56</text>
<text x="316.74" y="279.5" font-size="9.5" transform="rotate(90 316.74 279.5)">61</text>
<text x="334.58" y="279.5" font-size="9.5" transform="rotate(90 334.58 279.5)">67</text>
<text x="352.42" y="279.5" font-size="9.5" transform="rotate(90 352.42 279.5)">74</text>
<text x="370.26" y="279.5" font-size="9.5" transform="rotate(90 370.26 279.5)">81</text>
<rect x="393" y="51.1" width="7.3" height="7.3" fill="#8e1ea8"/>
<text x="403.5" y="56.8" font-size="8.2">Young</text>
<rect x="393" y="60.1" width="7.3" height="7.3" fill="#5ec55e"/>
<text x="403.5" y="65.6" font-size="8.2">Middle-aged</text>
<rect x="393" y="68.6" width="7.3" height="7.3" fill="#f08a0c"/>
<text x="403.5" y="74.9" font-size="8.2">Older</text>
<rect x="393" y="82.4" width="7.3" height="7.3" fill="#e0392e"/>
<text x="403.5" y="88.6" font-size="8.2">Proximal</text>
<rect x="393" y="91.2" width="7.3" height="7.3" fill="#f7c800"/>
<text x="403.5" y="97.9" font-size="8.2">Distal</text>
<defs><linearGradient id="ga" x1="0" y1="0" x2="0" y2="1">
<stop offset="0" stop-color="#a01e1e"/>
<stop offset="0.1" stop-color="#c82a2a"/>
<stop offset="0.22" stop-color="#e03a22"/>
<stop offset="0.29" stop-color="#e85a1a"/>
<stop offset="0.34" stop-color="#f07a18"/>
<stop offset="0.39" stop-color="#f79a1c"/>
<stop offset="0.42" stop-color="#fbb22a"/>
<stop offset="0.45" stop-color="#fdcb58"/>
<stop offset="0.47" stop-color="#fee9b0"/>
<stop offset="0.49" stop-color="#fffcf2"/>
<stop offset="0.54" stop-color="#e4eff8"/>
<stop offset="0.59" stop-color="#c6dff0"/>
<stop offset="0.64" stop-color="#a9cfe9"/>
<stop offset="0.69" stop-color="#8cbfe2"/>
<stop offset="0.74" stop-color="#72b0dc"/>
<stop offset="0.78" stop-color="#5a9ed4"/>
<stop offset="0.88" stop-color="#4a7fc0"/>
<stop offset="1" stop-color="#3a5aa8"/>
</linearGradient></defs>
<rect x="406" y="152.9" width="8" height="121.4" fill="url(#ga)"/>
<text x="417.3" y="167.6" font-size="7.6">4</text>
<text x="417.3" y="191.4" font-size="7.6">2</text>
<text x="417.3" y="215" font-size="7.6">0</text>
<text x="417.3" y="238.8" font-size="7.6">−2</text>
<text x="417.3" y="262.6" font-size="7.6">−4</text>
<text x="0" y="0" font-size="8.2" text-anchor="middle" transform="translate(401.7 214.5) rotate(-90)">Chromatin accessibility levels</text>
<text x="454" y="11.7" font-size="17" font-weight="bold">b</text>
<text x="475.2" y="13.7" font-size="11">Annotation of shared peaks</text>
<text x="477" y="30.1" font-size="11">ChromHMM annotations</text>
<rect x="486.8" y="35.6" width="11.6" height="11.65" fill="#f8f8fc" stroke="#fbdcdc" stroke-width="0.8"/>
<rect x="486.8" y="48.05" width="11.6" height="11.65" fill="#f8f8fc" stroke="#fbdcdc" stroke-width="0.8"/>
<rect x="486.8" y="60.5" width="11.6" height="11.65" fill="#fdf0c0" stroke="#fbdcdc" stroke-width="0.8"/>
<rect x="486.8" y="72.95" width="11.6" height="11.65" fill="#fbeda2" stroke="#fbdcdc" stroke-width="0.8"/>
<rect x="486.8" y="85.4" width="11.6" height="11.65" fill="#f7cc3a" stroke="#fbdcdc" stroke-width="0.8"/>
<rect x="486.8" y="97.85" width="11.6" height="11.65" fill="#f9f9fc" stroke="#fbdcdc" stroke-width="0.8"/>
<rect x="486.8" y="110.3" width="11.6" height="11.65" fill="#f9f9fc" stroke="#fbdcdc" stroke-width="0.8"/>
<rect x="486.8" y="122.75" width="11.6" height="11.65" fill="#f9f9fc" stroke="#fbdcdc" stroke-width="0.8"/>
<rect x="486.8" y="135.2" width="11.6" height="11.65" fill="#fdfdf0" stroke="#fbdcdc" stroke-width="0.8"/>
<rect x="504.7" y="35.6" width="11.6" height="11.65" fill="#f8f8f8" stroke="#fbdcdc" stroke-width="0.8"/>
<rect x="504.7" y="48.05" width="11.6" height="11.65" fill="#f8f8fc" stroke="#fbdcdc" stroke-width="0.8"/>
<rect x="504.7" y="60.5" width="11.6" height="11.65" fill="#fdf5d8" stroke="#fbdcdc" stroke-width="0.8"/>
<rect x="504.7" y="72.95" width="11.6" height="11.65" fill="#fafaf0" stroke="#fbdcdc" stroke-width="0.8"/>
<rect x="504.7" y="85.4" width="11.6" height="11.65" fill="#f8f8fc" stroke="#fbdcdc" stroke-width="0.8"/>
<rect x="504.7" y="97.85" width="11.6" height="11.65" fill="#fbefa0" stroke="#fbdcdc" stroke-width="0.8"/>
<rect x="504.7" y="110.3" width="11.6" height="11.65" fill="#f28a00" stroke="#fbdcdc" stroke-width="0.8"/>
<rect x="504.7" y="122.75" width="11.6" height="11.65" fill="#ef8000" stroke="#fbdcdc" stroke-width="0.8"/>
<rect x="504.7" y="135.2" width="11.6" height="11.65" fill="#f5cb3a" stroke="#fbdcdc" stroke-width="0.8"/>
<rect x="522.7" y="35.6" width="11.6" height="11.65" fill="#ec6a00" stroke="#fbdcdc" stroke-width="0.8"/>
<rect x="522.7" y="48.05" width="11.6" height="11.65" fill="#0a0a0a" stroke="#fbdcdc" stroke-width="0.8"/>
<rect x="522.7" y="60.5" width="11.6" height="11.65" fill="#fdf3c8" stroke="#fbdcdc" stroke-width="0.8"/>
<rect x="522.7" y="72.95" width="11.6" height="11.65" fill="#fafaf2" stroke="#fbdcdc" stroke-width="0.8"/>
<rect x="522.7" y="85.4" width="11.6" height="11.65" fill="#f8f8fc" stroke="#fbdcdc" stroke-width="0.8"/>
<rect x="522.7" y="97.85" width="11.6" height="11.65" fill="#fdf6d8" stroke="#fbdcdc" stroke-width="0.8"/>
<rect x="522.7" y="110.3" width="11.6" height="11.65" fill="#fcfaee" stroke="#fbdcdc" stroke-width="0.8"/>
<rect x="522.7" y="122.75" width="11.6" height="11.65" fill="#fafaf4" stroke="#fbdcdc" stroke-width="0.8"/>
<rect x="522.7" y="135.2" width="11.6" height="11.65" fill="#f8f8f8" stroke="#fbdcdc" stroke-width="0.8"/>
<text x="539.3" y="46.2" font-size="11">Monocytes</text>
<text x="539.3" y="58.65" font-size="11">NK cells</text>
<text x="539.3" y="71.1" font-size="11">CD4+ naive</text>
<text x="539.3" y="83.55" font-size="11">CD4+ memory</text>
<text x="539.3" y="96" font-size="11">CD8+ naive</text>
<text x="539.3" y="108.45" font-size="11">CD8+ memory</text>
<text x="539.3" y="120.9" font-size="11">B naive</text>
<text x="539.3" y="133.35" font-size="11">B memory</text>
<text x="539.3" y="145.8" font-size="11">Plasma cells</text>
<text x="489.4" y="152.4" font-size="11" transform="rotate(90 489.4 152.4)">C1</text>
<text x="506.7" y="152.4" font-size="11" transform="rotate(90 506.7 152.4)">C2</text>
<text x="524.9" y="152.4" font-size="11" transform="rotate(90 524.9 152.4)">C3</text>
<defs><linearGradient id="gb" x1="0" y1="0" x2="0" y2="1"><stop offset="0" stop-color="#050308"/><stop offset="0.1" stop-color="#24104a"/><stop offset="0.25" stop-color="#5a1a74"/><stop offset="0.4" stop-color="#a42c6a"/><stop offset="0.52" stop-color="#d8443d"/><stop offset="0.62" stop-color="#ee6a10"/><stop offset="0.74" stop-color="#f8a010"/><stop offset="0.84" stop-color="#fbcd30"/><stop offset="0.93" stop-color="#fdee9a"/><stop offset="1" stop-color="#fffff6"/></linearGradient></defs>
<rect x="632" y="43.6" width="9" height="109.7" fill="url(#gb)"/>
<text x="644.3" y="155.7" font-size="7.6">0</text>
<text x="644.3" y="139.68" font-size="7.6">2</text>
<text x="644.3" y="123.66" font-size="7.6">4</text>
<text x="644.3" y="107.64" font-size="7.6">6</text>
<text x="644.3" y="91.62" font-size="7.6">8</text>
<text x="644.3" y="75.6" font-size="7.6">10</text>
<text x="644.3" y="59.58" font-size="7.6">12</text>
<text font-size="8" text-anchor="middle" transform="translate(626.6 97.8) rotate(-90)">−log (enrichment <tspan font-style="italic">p</tspan> value)</text>
<text x="454.2" y="182.3" font-size="17" font-weight="bold">c</text>
<text x="456" y="194.9" font-size="11">Annotation of shared genes</text>
<text x="455" y="214.7" font-size="11">DICE cell–specific annotations</text>
<rect x="488.8" y="224" width="11.2" height="11.6" fill="#e0e0e0" stroke="#fbdcdc" stroke-width="0.8"/>
<rect x="488.8" y="236.4" width="11.2" height="11.6" fill="#f8f8fc" stroke="#fbdcdc" stroke-width="0.8"/>
<rect x="488.8" y="248.8" width="11.2" height="11.6" fill="#0a0a0a" stroke="#fbdcdc" stroke-width="0.8"/>
<rect x="488.8" y="261.2" width="11.2" height="11.6" fill="#fdf2c2" stroke="#fbdcdc" stroke-width="0.8"/>
<rect x="506.9" y="224" width="11.2" height="11.6" fill="#e0e0e0" stroke="#fbdcdc" stroke-width="0.8"/>
<rect x="506.9" y="236.4" width="11.2" height="11.6" fill="#f9f9fb" stroke="#fbdcdc" stroke-width="0.8"/>
<rect x="506.9" y="248.8" width="11.2" height="11.6" fill="#fbfbf0" stroke="#fbdcdc" stroke-width="0.8"/>
<rect x="506.9" y="261.2" width="11.2" height="11.6" fill="#f6c020" stroke="#fbdcdc" stroke-width="0.8"/>
<rect x="525" y="224" width="11.2" height="11.6" fill="#e0e0e0" stroke="#fbdcdc" stroke-width="0.8"/>
<rect x="525" y="236.4" width="11.2" height="11.6" fill="#d94a3a" stroke="#fbdcdc" stroke-width="0.8"/>
<rect x="525" y="248.8" width="11.2" height="11.6" fill="#f8f8fc" stroke="#fbdcdc" stroke-width="0.8"/>
<rect x="525" y="261.2" width="11.2" height="11.6" fill="#f8f8fc" stroke="#fbdcdc" stroke-width="0.8"/>
<text x="540.7" y="233.8" font-size="11">Monocytes</text>
<text x="540.7" y="246.2" font-size="11">NK cells</text>
<text x="540.7" y="258.6" font-size="11">CD8 naive</text>
<text x="540.7" y="271" font-size="11">B cells</text>
<text x="490.1" y="278.3" font-size="11" transform="rotate(90 490.1 278.3)">C1</text>
<text x="507.9" y="278.3" font-size="11" transform="rotate(90 507.9 278.3)">C2</text>
<text x="525.7" y="278.3" font-size="11" transform="rotate(90 525.7 278.3)">C3</text>
<defs><linearGradient id="gc" x1="0" y1="0" x2="0" y2="1"><stop offset="0" stop-color="#050308"/><stop offset="0.1" stop-color="#24104a"/><stop offset="0.25" stop-color="#5a1a74"/><stop offset="0.4" stop-color="#a42c6a"/><stop offset="0.52" stop-color="#d8443d"/><stop offset="0.62" stop-color="#ee6a10"/><stop offset="0.74" stop-color="#f8a010"/><stop offset="0.84" stop-color="#fbcd30"/><stop offset="0.93" stop-color="#fdee9a"/><stop offset="1" stop-color="#fffff6"/></linearGradient></defs>
<rect x="643.2" y="218.4" width="10" height="70.8" fill="url(#gc)"/>
<text x="656.3" y="275.3" font-size="7.6">5</text>
<text x="656.3" y="257.63" font-size="7.6">10</text>
<text x="656.3" y="239.96" font-size="7.6">15</text>
<text x="656.3" y="222.29" font-size="7.6">20</text>
<text font-size="8" text-anchor="middle" transform="translate(637 252.4) rotate(-90)">−log (enrichment <tspan font-style="italic">p</tspan> value)</text>
<text x="-0.6" y="318.4" font-size="17" font-weight="bold">d</text>
<text x="19.4" y="321.3" font-size="11">TF motif family enrichments</text>
<path fill="none" stroke="#111" stroke-width="0.85" d="M65.31 396.4V381.4H77.12V396.4M71.22 381.4V375.4H88.93V396.4M53.5 396.4V372.6H80.07V375.4M66.79 372.6V362.5H100.74V396.4M112.55 396.4V387H124.36V396.4M118.46 387V382.2H136.17V396.4M147.98 396.4V389.5H159.79V396.4M171.6 396.4V393.2H183.41V396.4M195.22 396.4V393.2H207.03V396.4M218.84 396.4V393.9H230.65V396.4M201.12 393.2V389.5H224.75V393.9M177.5 393.2V386.2H212.94V389.5M153.89 389.5V381.6H195.22V386.2M127.31 382.2V376.4H174.55V381.6M254.27 396.4V393.9H266.08V396.4M260.18 393.9V391.4H277.89V396.4M242.46 396.4V388.3H269.03V391.4M289.7 396.4V390.9H301.51V396.4M313.32 396.4V393.2H325.13V396.4M319.23 393.2V390H336.94V396.4M295.61 390.9V387.4H328.08V390M255.75 388.3V385.7H311.84V387.4M372.37 396.4V394.5H384.18V396.4M360.56 396.4V394H378.27V394.5M348.75 396.4V393.5H369.42V394M359.08 393.5V392.8H395.99V396.4M283.8 385.7V382.5H377.54V392.8M419.61 396.4V393.6H431.42V396.4M407.8 396.4V391.9H425.51V393.6M416.66 391.9V389.6H443.23V396.4M455.04 396.4V394.5H466.85V396.4M478.66 396.4V393.5H490.47V396.4M460.95 394.5V392.6H484.57V393.5M472.76 392.6V391.7H502.28V396.4M429.94 389.6V381.4H487.52V391.7M330.67 382.5V378H458.73V381.4M525.9 396.4V395H537.71V396.4M531.81 395V394.3H549.52V396.4M540.66 394.3V391.7H561.33V396.4M514.09 396.4V389H551V391.7M573.14 396.4V393.5H584.95V396.4M532.54 389V387.9H579.05V393.5M555.79 387.9V383.4H596.76V396.4M394.7 378V364H576.28V383.4M150.93 376.4V362.5H485.49V364M608.57 396.4V388.5H620.38V396.4M614.48 388.5V372.9H632.19V396.4M318.21 362.5V350H623.33V372.9M83.76 362.5V327.3H470.77V350"/>
<rect x="48.2" y="396.6" width="11" height="11" fill="#256a8c" stroke="#e6e6e6" stroke-width="0.6"/>
<rect x="60.01" y="396.6" width="11" height="11" fill="#31296f" stroke="#e6e6e6" stroke-width="0.6"/>
<rect x="71.82" y="396.6" width="11" height="11" fill="#55b084" stroke="#e6e6e6" stroke-width="0.6"/>
<rect x="83.63" y="396.6" width="11" height="11" fill="#31296f" stroke="#e6e6e6" stroke-width="0.6"/>
<rect x="95.44" y="396.6" width="11" height="11" fill="#31296f" stroke="#e6e6e6" stroke-width="0.6"/>
<rect x="107.25" y="396.6" width="11" height="11" fill="#368a8b" stroke="#e6e6e6" stroke-width="0.6"/>
<rect x="119.06" y="396.6" width="11" height="11" fill="#efe37c" stroke="#e6e6e6" stroke-width="0.6"/>
<rect x="130.87" y="396.6" width="11" height="11" fill="#24589a" stroke="#e6e6e6" stroke-width="0.6"/>
<rect x="142.68" y="396.6" width="11" height="11" fill="#7ac963" stroke="#e6e6e6" stroke-width="0.6"/>
<rect x="154.49" y="396.6" width="11" height="11" fill="#ffffff" stroke="#e6e6e6" stroke-width="0.6"/>
<rect x="166.3" y="396.6" width="11" height="11" fill="#ffffff" stroke="#e6e6e6" stroke-width="0.6"/>
<rect x="178.11" y="396.6" width="11" height="11" fill="#fdf5dc" stroke="#e6e6e6" stroke-width="0.6"/>
<rect x="189.92" y="396.6" width="11" height="11" fill="#f8e7a0" stroke="#e6e6e6" stroke-width="0.6"/>
<rect x="201.73" y="396.6" width="11" height="11" fill="#f8e7a0" stroke="#e6e6e6" stroke-width="0.6"/>
<rect x="213.54" y="396.6" width="11" height="11" fill="#fdf5dc" stroke="#e6e6e6" stroke-width="0.6"/>
<rect x="225.35" y="396.6" width="11" height="11" fill="#f8e7a0" stroke="#e6e6e6" stroke-width="0.6"/>
<rect x="237.16" y="396.6" width="11" height="11" fill="#256a8c" stroke="#e6e6e6" stroke-width="0.6"/>
<rect x="248.97" y="396.6" width="11" height="11" fill="#3a2f9a" stroke="#e6e6e6" stroke-width="0.6"/>
<rect x="260.78" y="396.6" width="11" height="11" fill="#ffffff" stroke="#e6e6e6" stroke-width="0.6"/>
<rect x="272.59" y="396.6" width="11" height="11" fill="#f8e7a0" stroke="#e6e6e6" stroke-width="0.6"/>
<rect x="284.4" y="396.6" width="11" height="11" fill="#f8e7a0" stroke="#e6e6e6" stroke-width="0.6"/>
<rect x="296.21" y="396.6" width="11" height="11" fill="#55b084" stroke="#e6e6e6" stroke-width="0.6"/>
<rect x="308.02" y="396.6" width="11" height="11" fill="#fdf5dc" stroke="#e6e6e6" stroke-width="0.6"/>
<rect x="319.83" y="396.6" width="11" height="11" fill="#ffffff" stroke="#e6e6e6" stroke-width="0.6"/>
<rect x="331.64" y="396.6" width="11" height="11" fill="#ffffff" stroke="#e6e6e6" stroke-width="0.6"/>
<rect x="343.45" y="396.6" width="11" height="11" fill="#ffffff" stroke="#e6e6e6" stroke-width="0.6"/>
<rect x="355.26" y="396.6" width="11" height="11" fill="#ffffff" stroke="#e6e6e6" stroke-width="0.6"/>
<rect x="367.07" y="396.6" width="11" height="11" fill="#f8e7a0" stroke="#e6e6e6" stroke-width="0.6"/>
<rect x="378.88" y="396.6" width="11" height="11" fill="#fdf5dc" stroke="#e6e6e6" stroke-width="0.6"/>
<rect x="390.69" y="396.6" width="11" height="11" fill="#ffffff" stroke="#e6e6e6" stroke-width="0.6"/>
<rect x="402.5" y="396.6" width="11" height="11" fill="#ffffff" stroke="#e6e6e6" stroke-width="0.6"/>
<rect x="414.31" y="396.6" width="11" height="11" fill="#c9df4e" stroke="#e6e6e6" stroke-width="0.6"/>
<rect x="426.12" y="396.6" width="11" height="11" fill="#256a8c" stroke="#e6e6e6" stroke-width="0.6"/>
<rect x="437.93" y="396.6" width="11" height="11" fill="#256a8c" stroke="#e6e6e6" stroke-width="0.6"/>
<rect x="449.74" y="396.6" width="11" height="11" fill="#ffffff" stroke="#e6e6e6" stroke-width="0.6"/>
<rect x="461.55" y="396.6" width="11" height="11" fill="#ffffff" stroke="#e6e6e6" stroke-width="0.6"/>
<rect x="473.36" y="396.6" width="11" height="11" fill="#efe37c" stroke="#e6e6e6" stroke-width="0.6"/>
<rect x="485.17" y="396.6" width="11" height="11" fill="#ffffff" stroke="#e6e6e6" stroke-width="0.6"/>
<rect x="496.98" y="396.6" width="11" height="11" fill="#ffffff" stroke="#e6e6e6" stroke-width="0.6"/>
<rect x="508.79" y="396.6" width="11" height="11" fill="#ffffff" stroke="#e6e6e6" stroke-width="0.6"/>
<rect x="520.6" y="396.6" width="11" height="11" fill="#ffffff" stroke="#e6e6e6" stroke-width="0.6"/>
<rect x="532.41" y="396.6" width="11" height="11" fill="#f8e7a0" stroke="#e6e6e6" stroke-width="0.6"/>
<rect x="544.22" y="396.6" width="11" height="11" fill="#fdf5dc" stroke="#e6e6e6" stroke-width="0.6"/>
<rect x="556.03" y="396.6" width="11" height="11" fill="#55b084" stroke="#e6e6e6" stroke-width="0.6"/>
<rect x="567.84" y="396.6" width="11" height="11" fill="#efe37c" stroke="#e6e6e6" stroke-width="0.6"/>
<rect x="579.65" y="396.6" width="11" height="11" fill="#ffffff" stroke="#e6e6e6" stroke-width="0.6"/>
<rect x="591.46" y="396.6" width="11" height="11" fill="#fdf5dc" stroke="#e6e6e6" stroke-width="0.6"/>
<rect x="603.27" y="396.6" width="11" height="11" fill="#ffffff" stroke="#e6e6e6" stroke-width="0.6"/>
<rect x="615.08" y="396.6" width="11" height="11" fill="#fdf5dc" stroke="#e6e6e6" stroke-width="0.6"/>
<rect x="626.89" y="396.6" width="11" height="11" fill="#3a2f9a" stroke="#e6e6e6" stroke-width="0.6"/>
<rect x="48.2" y="410.9" width="11" height="11" fill="#c9df4e" stroke="#e6e6e6" stroke-width="0.6"/>
<rect x="60.01" y="410.9" width="11" height="11" fill="#efe37c" stroke="#e6e6e6" stroke-width="0.6"/>
<rect x="71.82" y="410.9" width="11" height="11" fill="#fdf5dc" stroke="#e6e6e6" stroke-width="0.6"/>
<rect x="83.63" y="410.9" width="11" height="11" fill="#f8e7a0" stroke="#e6e6e6" stroke-width="0.6"/>
<rect x="95.44" y="410.9" width="11" height="11" fill="#c9df4e" stroke="#e6e6e6" stroke-width="0.6"/>
<rect x="107.25" y="410.9" width="11" height="11" fill="#fdf5dc" stroke="#e6e6e6" stroke-width="0.6"/>
<rect x="119.06" y="410.9" width="11" height="11" fill="#a6d655" stroke="#e6e6e6" stroke-width="0.6"/>
<rect x="130.87" y="410.9" width="11" height="11" fill="#efe37c" stroke="#e6e6e6" stroke-width="0.6"/>
<rect x="142.68" y="410.9" width="11" height="11" fill="#ffffff" stroke="#e6e6e6" stroke-width="0.6"/>
<rect x="154.49" y="410.9" width="11" height="11" fill="#ffffff" stroke="#e6e6e6" stroke-width="0.6"/>
<rect x="166.3" y="410.9" width="11" height="11" fill="#fdf5dc" stroke="#e6e6e6" stroke-width="0.6"/>
<rect x="178.11" y="410.9" width="11" height="11" fill="#f8e7a0" stroke="#e6e6e6" stroke-width="0.6"/>
<rect x="189.92" y="410.9" width="11" height="11" fill="#c9df4e" stroke="#e6e6e6" stroke-width="0.6"/>
<rect x="201.73" y="410.9" width="11" height="11" fill="#ffffff" stroke="#e6e6e6" stroke-width="0.6"/>
<rect x="213.54" y="410.9" width="11" height="11" fill="#ffffff" stroke="#e6e6e6" stroke-width="0.6"/>
<rect x="225.35" y="410.9" width="11" height="11" fill="#ffffff" stroke="#e6e6e6" stroke-width="0.6"/>
<rect x="237.16" y="410.9" width="11" height="11" fill="#ffffff" stroke="#e6e6e6" stroke-width="0.6"/>
<rect x="248.97" y="410.9" width="11" height="11" fill="#fdf5dc" stroke="#e6e6e6" stroke-width="0.6"/>
<rect x="260.78" y="410.9" width="11" height="11" fill="#7ac963" stroke="#e6e6e6" stroke-width="0.6"/>
<rect x="272.59" y="410.9" width="11" height="11" fill="#f8e7a0" stroke="#e6e6e6" stroke-width="0.6"/>
<rect x="284.4" y="410.9" width="11" height="11" fill="#ffffff" stroke="#e6e6e6" stroke-width="0.6"/>
<rect x="296.21" y="410.9" width="11" height="11" fill="#ffffff" stroke="#e6e6e6" stroke-width="0.6"/>
<rect x="308.02" y="410.9" width="11" height="11" fill="#a6d655" stroke="#e6e6e6" stroke-width="0.6"/>
<rect x="319.83" y="410.9" width="11" height="11" fill="#fdf5dc" stroke="#e6e6e6" stroke-width="0.6"/>
<rect x="331.64" y="410.9" width="11" height="11" fill="#efe37c" stroke="#e6e6e6" stroke-width="0.6"/>
<rect x="343.45" y="410.9" width="11" height="11" fill="#7ac963" stroke="#e6e6e6" stroke-width="0.6"/>
<rect x="355.26" y="410.9" width="11" height="11" fill="#ffffff" stroke="#e6e6e6" stroke-width="0.6"/>
<rect x="367.07" y="410.9" width="11" height="11" fill="#fdf5dc" stroke="#e6e6e6" stroke-width="0.6"/>
<rect x="378.88" y="410.9" width="11" height="11" fill="#fdf5dc" stroke="#e6e6e6" stroke-width="0.6"/>
<rect x="390.69" y="410.9" width="11" height="11" fill="#ffffff" stroke="#e6e6e6" stroke-width="0.6"/>
<rect x="402.5" y="410.9" width="11" height="11" fill="#ffffff" stroke="#e6e6e6" stroke-width="0.6"/>
<rect x="414.31" y="410.9" width="11" height="11" fill="#fdf5dc" stroke="#e6e6e6" stroke-width="0.6"/>
<rect x="426.12" y="410.9" width="11" height="11" fill="#ffffff" stroke="#e6e6e6" stroke-width="0.6"/>
<rect x="437.93" y="410.9" width="11" height="11" fill="#ffffff" stroke="#e6e6e6" stroke-width="0.6"/>
<rect x="449.74" y="410.9" width="11" height="11" fill="#ffffff" stroke="#e6e6e6" stroke-width="0.6"/>
<rect x="461.55" y="410.9" width="11" height="11" fill="#ffffff" stroke="#e6e6e6" stroke-width="0.6"/>
<rect x="473.36" y="410.9" width="11" height="11" fill="#7ac963" stroke="#e6e6e6" stroke-width="0.6"/>
<rect x="485.17" y="410.9" width="11" height="11" fill="#ffffff" stroke="#e6e6e6" stroke-width="0.6"/>
<rect x="496.98" y="410.9" width="11" height="11" fill="#ffffff" stroke="#e6e6e6" stroke-width="0.6"/>
<rect x="508.79" y="410.9" width="11" height="11" fill="#ffffff" stroke="#e6e6e6" stroke-width="0.6"/>
<rect x="520.6" y="410.9" width="11" height="11" fill="#7ac963" stroke="#e6e6e6" stroke-width="0.6"/>
<rect x="532.41" y="410.9" width="11" height="11" fill="#a6d655" stroke="#e6e6e6" stroke-width="0.6"/>
<rect x="544.22" y="410.9" width="11" height="11" fill="#fdf5dc" stroke="#e6e6e6" stroke-width="0.6"/>
<rect x="556.03" y="410.9" width="11" height="11" fill="#ffffff" stroke="#e6e6e6" stroke-width="0.6"/>
<rect x="567.84" y="410.9" width="11" height="11" fill="#ffffff" stroke="#e6e6e6" stroke-width="0.6"/>
<rect x="579.65" y="410.9" width="11" height="11" fill="#c9df4e" stroke="#e6e6e6" stroke-width="0.6"/>
<rect x="591.46" y="410.9" width="11" height="11" fill="#7ac963" stroke="#e6e6e6" stroke-width="0.6"/>
<rect x="603.27" y="410.9" width="11" height="11" fill="#fdf5dc" stroke="#e6e6e6" stroke-width="0.6"/>
<rect x="615.08" y="410.9" width="11" height="11" fill="#ffffff" stroke="#e6e6e6" stroke-width="0.6"/>
<rect x="626.89" y="410.9" width="11" height="11" fill="#f8e7a0" stroke="#e6e6e6" stroke-width="0.6"/>
<rect x="48.2" y="425.8" width="11" height="11" fill="#c9df4e" stroke="#e6e6e6" stroke-width="0.6"/>
<rect x="60.01" y="425.8" width="11" height="11" fill="#7ac963" stroke="#e6e6e6" stroke-width="0.6"/>
<rect x="71.82" y="425.8" width="11" height="11" fill="#ffffff" stroke="#e6e6e6" stroke-width="0.6"/>
<rect x="83.63" y="425.8" width="11" height="11" fill="#fdf5dc" stroke="#e6e6e6" stroke-width="0.6"/>
<rect x="95.44" y="425.8" width="11" height="11" fill="#55b084" stroke="#e6e6e6" stroke-width="0.6"/>
<rect x="107.25" y="425.8" width="11" height="11" fill="#368a8b" stroke="#e6e6e6" stroke-width="0.6"/>
<rect x="119.06" y="425.8" width="11" height="11" fill="#7ac963" stroke="#e6e6e6" stroke-width="0.6"/>
<rect x="130.87" y="425.8" width="11" height="11" fill="#f8e7a0" stroke="#e6e6e6" stroke-width="0.6"/>
<rect x="142.68" y="425.8" width="11" height="11" fill="#ffffff" stroke="#e6e6e6" stroke-width="0.6"/>
<rect x="154.49" y="425.8" width="11" height="11" fill="#ffffff" stroke="#e6e6e6" stroke-width="0.6"/>
<rect x="166.3" y="425.8" width="11" height="11" fill="#efe37c" stroke="#e6e6e6" stroke-width="0.6"/>
<rect x="178.11" y="425.8" width="11" height="11" fill="#31296f" stroke="#e6e6e6" stroke-width="0.6"/>
<rect x="189.92" y="425.8" width="11" height="11" fill="#ffffff" stroke="#e6e6e6" stroke-width="0.6"/>
<rect x="201.73" y="425.8" width="11" height="11" fill="#ffffff" stroke="#e6e6e6" stroke-width="0.6"/>
<rect x="213.54" y="425.8" width="11" height="11" fill="#7ac963" stroke="#e6e6e6" stroke-width="0.6"/>
<rect x="225.35" y="425.8" width="11" height="11" fill="#ffffff" stroke="#e6e6e6" stroke-width="0.6"/>
<rect x="237.16" y="425.8" width="11" height="11" fill="#fdf5dc" stroke="#e6e6e6" stroke-width="0.6"/>
<rect x="248.97" y="425.8" width="11" height="11" fill="#ffffff" stroke="#e6e6e6" stroke-width="0.6"/>
<rect x="260.78" y="425.8" width="11" height="11" fill="#fdf5dc" stroke="#e6e6e6" stroke-width="0.6"/>
<rect x="272.59" y="425.8" width="11" height="11" fill="#ffffff" stroke="#e6e6e6" stroke-width="0.6"/>
<rect x="284.4" y="425.8" width="11" height="11" fill="#55b084" stroke="#e6e6e6" stroke-width="0.6"/>
<rect x="296.21" y="425.8" width="11" height="11" fill="#ffffff" stroke="#e6e6e6" stroke-width="0.6"/>
<rect x="308.02" y="425.8" width="11" height="11" fill="#ffffff" stroke="#e6e6e6" stroke-width="0.6"/>
<rect x="319.83" y="425.8" width="11" height="11" fill="#7ac963" stroke="#e6e6e6" stroke-width="0.6"/>
<rect x="331.64" y="425.8" width="11" height="11" fill="#ffffff" stroke="#e6e6e6" stroke-width="0.6"/>
<rect x="343.45" y="425.8" width="11" height="11" fill="#ffffff" stroke="#e6e6e6" stroke-width="0.6"/>
<rect x="355.26" y="425.8" width="11" height="11" fill="#f8e7a0" stroke="#e6e6e6" stroke-width="0.6"/>
<rect x="367.07" y="425.8" width="11" height="11" fill="#7ac963" stroke="#e6e6e6" stroke-width="0.6"/>
<rect x="378.88" y="425.8" width="11" height="11" fill="#ffffff" stroke="#e6e6e6" stroke-width="0.6"/>
<rect x="390.69" y="425.8" width="11" height="11" fill="#ffffff" stroke="#e6e6e6" stroke-width="0.6"/>
<rect x="402.5" y="425.8" width="11" height="11" fill="#f8e7a0" stroke="#e6e6e6" stroke-width="0.6"/>
<rect x="414.31" y="425.8" width="11" height="11" fill="#fdf5dc" stroke="#e6e6e6" stroke-width="0.6"/>
<rect x="426.12" y="425.8" width="11" height="11" fill="#ffffff" stroke="#e6e6e6" stroke-width="0.6"/>
<rect x="437.93" y="425.8" width="11" height="11" fill="#55b084" stroke="#e6e6e6" stroke-width="0.6"/>
<rect x="449.74" y="425.8" width="11" height="11" fill="#ffffff" stroke="#e6e6e6" stroke-width="0.6"/>
<rect x="461.55" y="425.8" width="11" height="11" fill="#ffffff" stroke="#e6e6e6" stroke-width="0.6"/>
<rect x="473.36" y="425.8" width="11" height="11" fill="#ffffff" stroke="#e6e6e6" stroke-width="0.6"/>
<rect x="485.17" y="425.8" width="11" height="11" fill="#efe37c" stroke="#e6e6e6" stroke-width="0.6"/>
<rect x="496.98" y="425.8" width="11" height="11" fill="#ffffff" stroke="#e6e6e6" stroke-width="0.6"/>
<rect x="508.79" y="425.8" width="11" height="11" fill="#7ac963" stroke="#e6e6e6" stroke-width="0.6"/>
<rect x="520.6" y="425.8" width="11" height="11" fill="#ffffff" stroke="#e6e6e6" stroke-width="0.6"/>
<rect x="532.41" y="425.8" width="11" height="11" fill="#ffffff" stroke="#e6e6e6" stroke-width="0.6"/>
<rect x="544.22" y="425.8" width="11" height="11" fill="#368a8b" stroke="#e6e6e6" stroke-width="0.6"/>
<rect x="556.03" y="425.8" width="11" height="11" fill="#ffffff" stroke="#e6e6e6" stroke-width="0.6"/>
<rect x="567.84" y="425.8" width="11" height="11" fill="#ffffff" stroke="#e6e6e6" stroke-width="0.6"/>
<rect x="579.65" y="425.8" width="11" height="11" fill="#a6d655" stroke="#e6e6e6" stroke-width="0.6"/>
<rect x="591.46" y="425.8" width="11" height="11" fill="#ffffff" stroke="#e6e6e6" stroke-width="0.6"/>
<rect x="603.27" y="425.8" width="11" height="11" fill="#ffffff" stroke="#e6e6e6" stroke-width="0.6"/>
<rect x="615.08" y="425.8" width="11" height="11" fill="#ffffff" stroke="#e6e6e6" stroke-width="0.6"/>
<rect x="626.89" y="425.8" width="11" height="11" fill="#7ac963" stroke="#e6e6e6" stroke-width="0.6"/>
<text x="42.3" y="405.4" font-size="9.8" text-anchor="end">C1</text>
<text x="42.3" y="419.7" font-size="9.8" text-anchor="end">C2</text>
<text x="42.3" y="434.6" font-size="9.8" text-anchor="end">C3</text>
<text x="50.3" y="445.3" font-size="9.2" transform="rotate(60 50.3 445.3)">Tbox</text>
<text x="62.11" y="445.3" font-size="9.2" transform="rotate(60 62.11 445.3)">ETS</text>
<text x="73.92" y="445.3" font-size="9.2" transform="rotate(60 73.92 445.3)">E2F_4</text>
<text x="85.73" y="445.3" font-size="9.2" transform="rotate(60 85.73 445.3)">HMG_1</text>
<text x="97.54" y="445.3" font-size="9.2" transform="rotate(60 97.54 445.3)">bHLH_1</text>
<text x="109.35" y="445.3" font-size="9.2" transform="rotate(60 109.35 445.3)">NFY</text>
<text x="121.16" y="445.3" font-size="9.2" transform="rotate(60 121.16 445.3)">GCbox_CACCCbox</text>
<text x="132.97" y="445.3" font-size="9.2" transform="rotate(60 132.97 445.3)">IRF_1</text>
<text x="144.78" y="445.3" font-size="9.2" transform="rotate(60 144.78 445.3)">MYB_2</text>
<text x="156.59" y="445.3" font-size="9.2" transform="rotate(60 156.59 445.3)">ETS_RUNX</text>
<text x="168.4" y="445.3" font-size="9.2" transform="rotate(60 168.4 445.3)">ERE</text>
<text x="180.21" y="445.3" font-size="9.2" transform="rotate(60 180.21 445.3)">bZIP</text>
<text x="192.02" y="445.3" font-size="9.2" transform="rotate(60 192.02 445.3)">RFX_1</text>
<text x="203.83" y="445.3" font-size="9.2" transform="rotate(60 203.83 445.3)">HIF1A_1</text>
<text x="215.64" y="445.3" font-size="9.2" transform="rotate(60 215.64 445.3)">THAP1</text>
<text x="227.45" y="445.3" font-size="9.2" transform="rotate(60 227.45 445.3)">BCL6B_1</text>
<text x="239.26" y="445.3" font-size="9.2" transform="rotate(60 239.26 445.3)">bHLH_2</text>
<text x="251.07" y="445.3" font-size="9.2" transform="rotate(60 251.07 445.3)">HMG_3</text>
<text x="262.88" y="445.3" font-size="9.2" transform="rotate(60 262.88 445.3)">E2F_3</text>
<text x="274.69" y="445.3" font-size="9.2" transform="rotate(60 274.69 445.3)">EGR</text>
<text x="286.5" y="445.3" font-size="9.2" transform="rotate(60 286.5 445.3)">AP1</text>
<text x="298.31" y="445.3" font-size="9.2" transform="rotate(60 298.31 445.3)">CREB3</text>
<text x="310.12" y="445.3" font-size="9.2" transform="rotate(60 310.12 445.3)">E2F_2</text>
<text x="321.93" y="445.3" font-size="9.2" transform="rotate(60 321.93 445.3)">CTCF_1</text>
<text x="333.74" y="445.3" font-size="9.2" transform="rotate(60 333.74 445.3)">NFIC</text>
<text x="345.55" y="445.3" font-size="9.2" transform="rotate(60 345.55 445.3)">IRF4</text>
<text x="357.36" y="445.3" font-size="9.2" transform="rotate(60 357.36 445.3)">NRF1</text>
<text x="369.17" y="445.3" font-size="9.2" transform="rotate(60 369.17 445.3)">SIX_2</text>
<text x="380.98" y="445.3" font-size="9.2" transform="rotate(60 380.98 445.3)">SIX_1</text>
<text x="392.79" y="445.3" font-size="9.2" transform="rotate(60 392.79 445.3)">IRF_2</text>
<text x="404.6" y="445.3" font-size="9.2" transform="rotate(60 404.6 445.3)">MAFK</text>
<text x="416.41" y="445.3" font-size="9.2" transform="rotate(60 416.41 445.3)">Forkhead_1</text>
<text x="428.22" y="445.3" font-size="9.2" transform="rotate(60 428.22 445.3)">ZNF7</text>
<text x="440.03" y="445.3" font-size="9.2" transform="rotate(60 440.03 445.3)">Runt_1</text>
<text x="451.84" y="445.3" font-size="9.2" transform="rotate(60 451.84 445.3)">CP2_1</text>
<text x="463.65" y="445.3" font-size="9.2" transform="rotate(60 463.65 445.3)">Homeobox_9</text>
<text x="475.46" y="445.3" font-size="9.2" transform="rotate(60 475.46 445.3)">Homeobox_2</text>
<text x="487.27" y="445.3" font-size="9.2" transform="rotate(60 487.27 445.3)">MED1</text>
<text x="499.08" y="445.3" font-size="9.2" transform="rotate(60 499.08 445.3)">MAX</text>
<text x="510.89" y="445.3" font-size="9.2" transform="rotate(60 510.89 445.3)">CEBPA</text>
<text x="522.7" y="445.3" font-size="9.2" transform="rotate(60 522.7 445.3)">POU(Homeobox)_1</text>
<text x="534.51" y="445.3" font-size="9.2" transform="rotate(60 534.51 445.3)">LIN54</text>
<text x="546.32" y="445.3" font-size="9.2" transform="rotate(60 546.32 445.3)">NR_2</text>
<text x="558.13" y="445.3" font-size="9.2" transform="rotate(60 558.13 445.3)">ZNF384</text>
<text x="569.94" y="445.3" font-size="9.2" transform="rotate(60 569.94 445.3)">REL</text>
<text x="581.75" y="445.3" font-size="9.2" transform="rotate(60 581.75 445.3)">CEBP_2</text>
<text x="593.56" y="445.3" font-size="9.2" transform="rotate(60 593.56 445.3)">ZNF416</text>
<text x="605.37" y="445.3" font-size="9.2" transform="rotate(60 605.37 445.3)">HBP1_1</text>
<text x="617.18" y="445.3" font-size="9.2" transform="rotate(60 617.18 445.3)">NFIA</text>
<text x="628.99" y="445.3" font-size="9.2" transform="rotate(60 628.99 445.3)">Homeobox_1</text>
<defs><linearGradient id="gd" x1="0" y1="0" x2="0" y2="1"><stop offset="0" stop-color="#3b2a8c"/><stop offset="0.1" stop-color="#2c4696"/><stop offset="0.2" stop-color="#285f94"/><stop offset="0.3" stop-color="#2a788e"/><stop offset="0.4" stop-color="#2e928a"/><stop offset="0.5" stop-color="#3fae82"/><stop offset="0.6" stop-color="#5dc46e"/><stop offset="0.7" stop-color="#93d156"/><stop offset="0.8" stop-color="#cde04c"/><stop offset="0.9" stop-color="#efe680"/><stop offset="1" stop-color="#fdf3c4"/></linearGradient></defs>
<rect x="665.1" y="336.6" width="8" height="121.2" fill="url(#gd)"/>
<text x="676" y="461.7" font-size="7.6">0</text>
<text x="676" y="437.1" font-size="7.6">5</text>
<text x="676" y="412.5" font-size="7.6">10</text>
<text x="676" y="387.9" font-size="7.6">15</text>
<text x="676" y="363.3" font-size="7.6">20</text>
<text x="676" y="338.7" font-size="7.6">25</text>
<text font-size="8" text-anchor="middle" transform="translate(661.2 395.2) rotate(-90)">−log (enrichment <tspan font-style="italic">p</tspan> value)</text>
<text x="-0.6" y="542.4" font-size="17" font-weight="bold">e</text>
<text x="20.1" y="545" font-size="11">Expression of TFs whose motifs are enriched in cluster C1</text>
<path fill="none" stroke="#f4f4f4" stroke-width="0.6" d="M35.3 671.9H114.4M35.3 645.3H114.4M35.3 618.7H114.4M35.3 592.1H114.4"/>
<path fill="none" stroke="#ebebeb" stroke-width="0.9" d="M35.3 658.6H114.4M35.3 605.4H114.4M35.3 578.8H114.4M50.13 565.4V684.2M74.85 565.4V684.2M99.57 565.4V684.2"/>
<line x1="35.3" y1="632" x2="114.4" y2="632" stroke="#b4b4b4" stroke-width="0.75"/>
<line x1="46.03" y1="610.72" x2="46.03" y2="614.04" stroke="#f6b0b6" stroke-width="0.7"/>
<line x1="46.03" y1="629.74" x2="46.03" y2="640.64" stroke="#f6b0b6" stroke-width="0.7"/>
<rect x="42.58" y="614.04" width="6.9" height="15.69" fill="#f9c3c7" stroke="#f4a3aa" stroke-width="0.6"/>
<line x1="42.58" y1="618.7" x2="49.48" y2="618.7" stroke="#f4a3aa" stroke-width="0.8"/>
<g fill="#f25565" fill-opacity="0.9"><circle cx="44.72" cy="610.72" r="1.25"/><circle cx="47.02" cy="640.64" r="1.25"/><circle cx="46.65" cy="614.04" r="1.25"/><circle cx="44.57" cy="629.74" r="1.25"/><circle cx="47.57" cy="618.7" r="1.25"/><circle cx="47.52" cy="620.95" r="1.25"/><circle cx="46.52" cy="626.71" r="1.25"/><circle cx="46.4" cy="620.52" r="1.25"/><circle cx="44.94" cy="621.71" r="1.25"/><circle cx="44.48" cy="617.29" r="1.25"/><circle cx="46.12" cy="624.98" r="1.25"/></g>
<line x1="54.23" y1="611.38" x2="54.23" y2="620.03" stroke="#b3c3dc" stroke-width="0.7"/>
<line x1="54.23" y1="634" x2="54.23" y2="642.64" stroke="#b3c3dc" stroke-width="0.7"/>
<rect x="50.78" y="620.03" width="6.9" height="13.97" fill="#c9d5e7" stroke="#a9bbd8" stroke-width="0.6"/>
<line x1="50.78" y1="629.34" x2="57.68" y2="629.34" stroke="#a9bbd8" stroke-width="0.8"/>
<g fill="#7a98cb" fill-opacity="0.9"><circle cx="53.37" cy="611.38" r="1.25"/><circle cx="53.56" cy="642.64" r="1.25"/><circle cx="52.86" cy="620.03" r="1.25"/><circle cx="55.08" cy="634" r="1.25"/><circle cx="53.91" cy="629.34" r="1.25"/><circle cx="55.34" cy="631.34" r="1.25"/><circle cx="53.87" cy="633.57" r="1.25"/><circle cx="55.7" cy="627.84" r="1.25"/><circle cx="55.34" cy="626.41" r="1.25"/><circle cx="52.63" cy="627.02" r="1.25"/><circle cx="53.3" cy="628.35" r="1.25"/><circle cx="55.54" cy="620.06" r="1.25"/><circle cx="54.14" cy="616.38" r="1.25"/><circle cx="55.77" cy="632.79" r="1.25"/></g>
<line x1="70.75" y1="604.07" x2="70.75" y2="622.69" stroke="#f6b0b6" stroke-width="0.7"/>
<line x1="70.75" y1="632" x2="70.75" y2="641.98" stroke="#f6b0b6" stroke-width="0.7"/>
<rect x="67.3" y="622.69" width="6.9" height="9.31" fill="#f9c3c7" stroke="#f4a3aa" stroke-width="0.6"/>
<line x1="67.3" y1="626.68" x2="74.2" y2="626.68" stroke="#f4a3aa" stroke-width="0.8"/>
<g fill="#f25565" fill-opacity="0.9"><circle cx="69.34" cy="604.07" r="1.25"/><circle cx="71.7" cy="641.98" r="1.25"/><circle cx="69.72" cy="622.69" r="1.25"/><circle cx="70.94" cy="632" r="1.25"/><circle cx="70.58" cy="626.68" r="1.25"/><circle cx="69.76" cy="631.32" r="1.25"/><circle cx="71.49" cy="624.75" r="1.25"/><circle cx="69.57" cy="631.19" r="1.25"/><circle cx="71.21" cy="623.02" r="1.25"/><circle cx="69.52" cy="637.5" r="1.25"/><circle cx="70.5" cy="631.06" r="1.25"/></g>
<line x1="78.95" y1="611.38" x2="78.95" y2="621.36" stroke="#b3c3dc" stroke-width="0.7"/>
<line x1="78.95" y1="637.99" x2="78.95" y2="653.28" stroke="#b3c3dc" stroke-width="0.7"/>
<rect x="75.5" y="621.36" width="6.9" height="16.62" fill="#c9d5e7" stroke="#a9bbd8" stroke-width="0.6"/>
<line x1="75.5" y1="630.67" x2="82.4" y2="630.67" stroke="#a9bbd8" stroke-width="0.8"/>
<g fill="#7a98cb" fill-opacity="0.9"><circle cx="77.64" cy="611.38" r="1.25"/><circle cx="79.21" cy="653.28" r="1.25"/><circle cx="78.13" cy="621.36" r="1.25"/><circle cx="79.27" cy="637.99" r="1.25"/><circle cx="78.54" cy="630.67" r="1.25"/><circle cx="78.8" cy="633.5" r="1.25"/><circle cx="80.42" cy="619.62" r="1.25"/><circle cx="78.9" cy="623.27" r="1.25"/><circle cx="79.19" cy="631.43" r="1.25"/><circle cx="80.12" cy="626.39" r="1.25"/><circle cx="77.94" cy="621.54" r="1.25"/><circle cx="77.84" cy="633.69" r="1.25"/><circle cx="80.26" cy="639.5" r="1.25"/><circle cx="79.97" cy="636.76" r="1.25"/></g>
<line x1="95.47" y1="624.02" x2="95.47" y2="634" stroke="#f6b0b6" stroke-width="0.7"/>
<line x1="95.47" y1="646.63" x2="95.47" y2="657.93" stroke="#f6b0b6" stroke-width="0.7"/>
<rect x="92.02" y="634" width="6.9" height="12.63" fill="#f9c3c7" stroke="#f4a3aa" stroke-width="0.6"/>
<line x1="92.02" y1="641.31" x2="98.92" y2="641.31" stroke="#f4a3aa" stroke-width="0.8"/>
<g fill="#f25565" fill-opacity="0.9"><circle cx="94.63" cy="624.02" r="1.25"/><circle cx="96.12" cy="657.93" r="1.25"/><circle cx="94.69" cy="634" r="1.25"/><circle cx="96.5" cy="646.63" r="1.25"/><circle cx="95.78" cy="641.31" r="1.25"/><circle cx="94.81" cy="644.23" r="1.25"/><circle cx="94.43" cy="626.04" r="1.25"/><circle cx="96.17" cy="634.63" r="1.25"/><circle cx="94.09" cy="637.47" r="1.25"/><circle cx="94.6" cy="645.32" r="1.25"/><circle cx="95.66" cy="634.47" r="1.25"/><circle cx="96.6" cy="614.71" r="1.25"/></g>
<line x1="103.67" y1="624.02" x2="103.67" y2="628.67" stroke="#b3c3dc" stroke-width="0.7"/>
<line x1="103.67" y1="647.29" x2="103.67" y2="670.57" stroke="#b3c3dc" stroke-width="0.7"/>
<rect x="100.22" y="628.67" width="6.9" height="18.62" fill="#c9d5e7" stroke="#a9bbd8" stroke-width="0.6"/>
<line x1="100.22" y1="637.99" x2="107.12" y2="637.99" stroke="#a9bbd8" stroke-width="0.8"/>
<g fill="#7a98cb" fill-opacity="0.9"><circle cx="102.52" cy="624.02" r="1.25"/><circle cx="102.18" cy="670.57" r="1.25"/><circle cx="102.13" cy="628.67" r="1.25"/><circle cx="104.98" cy="647.29" r="1.25"/><circle cx="104.31" cy="637.99" r="1.25"/><circle cx="105.15" cy="642.08" r="1.25"/><circle cx="102.14" cy="661.07" r="1.25"/><circle cx="104.1" cy="642.28" r="1.25"/><circle cx="103.61" cy="646.17" r="1.25"/><circle cx="104.41" cy="640.43" r="1.25"/><circle cx="103.09" cy="644.85" r="1.25"/><circle cx="105.27" cy="630.71" r="1.25"/><circle cx="102.31" cy="639.99" r="1.25"/><circle cx="103.82" cy="643.36" r="1.25"/></g>
<path fill="none" stroke="#7a7a7a" stroke-width="0.6" d="M50.13 595.7V593.4H74.85V595.7"/>
<text x="62.49" y="592.2" font-size="8.2" text-anchor="middle">ns</text>
<path fill="none" stroke="#7a7a7a" stroke-width="0.6" d="M50.13 586.5V584.2H99.57V586.5"/>
<text x="74.85" y="582.6" font-size="8.2" text-anchor="middle">***</text>
<path fill="none" stroke="#7a7a7a" stroke-width="0.6" d="M74.85 577.6V575.3H99.57V577.6"/>
<text x="87.21" y="573.7" font-size="8.2" text-anchor="middle">**</text>
<text x="50.13" y="674.73" font-size="8.2" text-anchor="middle">ns</text>
<text x="74.85" y="674.73" font-size="8.2" text-anchor="middle">ns</text>
<text x="99.57" y="674.73" font-size="8.2" text-anchor="middle">ns</text>
<rect x="35.3" y="565.4" width="79.1" height="118.8" fill="none" stroke="#333" stroke-width="0.9"/>
<path fill="none" stroke="#333" stroke-width="0.9" d="M50.13 684.2V687.2M74.85 684.2V687.2M99.57 684.2V687.2"/>
<text x="54.03" y="695.3" font-size="9.6" text-anchor="end" transform="rotate(-60 54.03 695.3)">Young</text>
<text x="78.75" y="695.3" font-size="9.6" text-anchor="end" transform="rotate(-60 78.75 695.3)">Middle-aged</text>
<text x="103.47" y="695.3" font-size="9.6" text-anchor="end" transform="rotate(-60 103.47 695.3)">Older</text>
<text x="35.5" y="560.4" font-size="9.7" font-style="italic">NPAS2</text>
<text x="28.7" y="582.2" font-size="9.8" text-anchor="end" fill="#222">4</text>
<text x="28.7" y="608.8" font-size="9.8" text-anchor="end" fill="#222">2</text>
<text x="28.7" y="635.4" font-size="9.8" text-anchor="end" fill="#222">0</text>
<text x="28.7" y="662" font-size="9.8" text-anchor="end" fill="#222">−2</text>
<path fill="none" stroke="#333" stroke-width="0.9" d="M32.3 578.8H35.3M32.3 605.4H35.3M32.3 632H35.3M32.3 658.6H35.3"/>
<text x="0" y="0" font-size="9.7" text-anchor="middle" transform="translate(9.3 626.1) rotate(-90) scale(1 1.12)">Normalized expression</text>
<path fill="none" stroke="#f4f4f4" stroke-width="0.6" d="M120.5 671.9H200.1M120.5 645.3H200.1M120.5 618.7H200.1M120.5 592.1H200.1"/>
<path fill="none" stroke="#ebebeb" stroke-width="0.9" d="M120.5 658.6H200.1M120.5 605.4H200.1M120.5 578.8H200.1M135.43 565.4V684.2M160.3 565.4V684.2M185.18 565.4V684.2"/>
<line x1="120.5" y1="632" x2="200.1" y2="632" stroke="#b4b4b4" stroke-width="0.75"/>
<line x1="131.33" y1="605.4" x2="131.33" y2="614.98" stroke="#f6b0b6" stroke-width="0.7"/>
<line x1="131.33" y1="629.74" x2="131.33" y2="632.66" stroke="#f6b0b6" stroke-width="0.7"/>
<rect x="127.88" y="614.98" width="6.9" height="14.76" fill="#f9c3c7" stroke="#f4a3aa" stroke-width="0.6"/>
<line x1="127.88" y1="628.01" x2="134.78" y2="628.01" stroke="#f4a3aa" stroke-width="0.8"/>
<g fill="#f25565" fill-opacity="0.9"><circle cx="132.49" cy="605.4" r="1.25"/><circle cx="131.56" cy="632.66" r="1.25"/><circle cx="131.72" cy="614.98" r="1.25"/><circle cx="130.95" cy="629.74" r="1.25"/><circle cx="131.59" cy="628.01" r="1.25"/><circle cx="131.67" cy="608.12" r="1.25"/><circle cx="129.98" cy="613.48" r="1.25"/><circle cx="131.77" cy="607.72" r="1.25"/><circle cx="132.9" cy="619.62" r="1.25"/><circle cx="132.54" cy="608.91" r="1.25"/><circle cx="132.06" cy="618.07" r="1.25"/></g>
<line x1="139.53" y1="612.05" x2="139.53" y2="614.98" stroke="#b3c3dc" stroke-width="0.7"/>
<line x1="139.53" y1="631.6" x2="139.53" y2="639.32" stroke="#b3c3dc" stroke-width="0.7"/>
<rect x="136.08" y="614.98" width="6.9" height="16.62" fill="#c9d5e7" stroke="#a9bbd8" stroke-width="0.6"/>
<line x1="136.08" y1="623.22" x2="142.97" y2="623.22" stroke="#a9bbd8" stroke-width="0.8"/>
<g fill="#7a98cb" fill-opacity="0.9"><circle cx="140.1" cy="612.05" r="1.25"/><circle cx="138.57" cy="639.32" r="1.25"/><circle cx="138.47" cy="614.98" r="1.25"/><circle cx="140.82" cy="631.6" r="1.25"/><circle cx="140.04" cy="623.22" r="1.25"/><circle cx="139.34" cy="619.38" r="1.25"/><circle cx="140.78" cy="624.28" r="1.25"/><circle cx="138.97" cy="637.03" r="1.25"/><circle cx="140.06" cy="638.5" r="1.25"/><circle cx="138.56" cy="623.61" r="1.25"/><circle cx="139.3" cy="619.99" r="1.25"/><circle cx="140.5" cy="621.38" r="1.25"/><circle cx="140.85" cy="632.34" r="1.25"/><circle cx="140.74" cy="626.6" r="1.25"/></g>
<line x1="156.2" y1="614.04" x2="156.2" y2="618.7" stroke="#f6b0b6" stroke-width="0.7"/>
<line x1="156.2" y1="628.54" x2="156.2" y2="632.66" stroke="#f6b0b6" stroke-width="0.7"/>
<rect x="152.75" y="618.7" width="6.9" height="9.84" fill="#f9c3c7" stroke="#f4a3aa" stroke-width="0.6"/>
<line x1="152.75" y1="621.89" x2="159.65" y2="621.89" stroke="#f4a3aa" stroke-width="0.8"/>
<g fill="#f25565" fill-opacity="0.9"><circle cx="155.48" cy="614.04" r="1.25"/><circle cx="155.29" cy="632.66" r="1.25"/><circle cx="155.92" cy="618.7" r="1.25"/><circle cx="156.6" cy="628.54" r="1.25"/><circle cx="156.18" cy="621.89" r="1.25"/><circle cx="155.61" cy="622.8" r="1.25"/><circle cx="157.29" cy="627.2" r="1.25"/><circle cx="157.74" cy="620.3" r="1.25"/><circle cx="156.05" cy="619.42" r="1.25"/><circle cx="154.84" cy="627.51" r="1.25"/><circle cx="154.7" cy="624.11" r="1.25"/><circle cx="157.39" cy="643.97" r="1.25"/></g>
<line x1="164.4" y1="614.98" x2="164.4" y2="622.69" stroke="#b3c3dc" stroke-width="0.7"/>
<line x1="164.4" y1="639.98" x2="164.4" y2="651.28" stroke="#b3c3dc" stroke-width="0.7"/>
<rect x="160.95" y="622.69" width="6.9" height="17.29" fill="#c9d5e7" stroke="#a9bbd8" stroke-width="0.6"/>
<line x1="160.95" y1="632" x2="167.85" y2="632" stroke="#a9bbd8" stroke-width="0.8"/>
<g fill="#7a98cb" fill-opacity="0.9"><circle cx="165.87" cy="614.98" r="1.25"/><circle cx="164.99" cy="651.28" r="1.25"/><circle cx="163.44" cy="622.69" r="1.25"/><circle cx="164.32" cy="639.98" r="1.25"/><circle cx="163.37" cy="632" r="1.25"/><circle cx="162.83" cy="627.73" r="1.25"/><circle cx="164.31" cy="634.64" r="1.25"/><circle cx="165.09" cy="650.59" r="1.25"/><circle cx="163.37" cy="632.12" r="1.25"/><circle cx="163.67" cy="625.64" r="1.25"/><circle cx="163.91" cy="637.54" r="1.25"/><circle cx="165.03" cy="629.1" r="1.25"/><circle cx="164.47" cy="629.09" r="1.25"/><circle cx="164.77" cy="621.97" r="1.25"/></g>
<line x1="181.08" y1="617.37" x2="181.08" y2="628.81" stroke="#f6b0b6" stroke-width="0.7"/>
<line x1="181.08" y1="648.23" x2="181.08" y2="652.62" stroke="#f6b0b6" stroke-width="0.7"/>
<rect x="177.63" y="628.81" width="6.9" height="19.42" fill="#f9c3c7" stroke="#f4a3aa" stroke-width="0.6"/>
<line x1="177.63" y1="641.31" x2="184.53" y2="641.31" stroke="#f4a3aa" stroke-width="0.8"/>
<g fill="#f25565" fill-opacity="0.9"><circle cx="181.3" cy="617.37" r="1.25"/><circle cx="182.29" cy="652.62" r="1.25"/><circle cx="182.02" cy="628.81" r="1.25"/><circle cx="182.5" cy="648.23" r="1.25"/><circle cx="180.96" cy="641.31" r="1.25"/><circle cx="181.56" cy="638.75" r="1.25"/><circle cx="180.13" cy="620.67" r="1.25"/><circle cx="181.79" cy="630.12" r="1.25"/><circle cx="182.09" cy="648.04" r="1.25"/><circle cx="181.53" cy="636.08" r="1.25"/><circle cx="181.77" cy="639.33" r="1.25"/></g>
<line x1="189.28" y1="625.62" x2="189.28" y2="634" stroke="#b3c3dc" stroke-width="0.7"/>
<line x1="189.28" y1="651.28" x2="189.28" y2="667.91" stroke="#b3c3dc" stroke-width="0.7"/>
<rect x="185.83" y="634" width="6.9" height="17.29" fill="#c9d5e7" stroke="#a9bbd8" stroke-width="0.6"/>
<line x1="185.83" y1="644.24" x2="192.72" y2="644.24" stroke="#a9bbd8" stroke-width="0.8"/>
<g fill="#7a98cb" fill-opacity="0.9"><circle cx="190.23" cy="625.62" r="1.25"/><circle cx="188.23" cy="667.91" r="1.25"/><circle cx="188.75" cy="634" r="1.25"/><circle cx="190.2" cy="651.28" r="1.25"/><circle cx="188.12" cy="644.24" r="1.25"/><circle cx="188.15" cy="635.72" r="1.25"/><circle cx="189.33" cy="626.57" r="1.25"/><circle cx="189.99" cy="637.61" r="1.25"/><circle cx="190.36" cy="635.55" r="1.25"/><circle cx="189.88" cy="653.17" r="1.25"/><circle cx="190.7" cy="643.66" r="1.25"/><circle cx="189.25" cy="638" r="1.25"/><circle cx="190.71" cy="650.79" r="1.25"/><circle cx="187.95" cy="665.2" r="1.25"/></g>
<path fill="none" stroke="#7a7a7a" stroke-width="0.6" d="M135.43 595.7V593.4H160.3V595.7"/>
<text x="147.86" y="592.2" font-size="8.2" text-anchor="middle">ns</text>
<path fill="none" stroke="#7a7a7a" stroke-width="0.6" d="M135.43 586.5V584.2H185.18V586.5"/>
<text x="160.3" y="582.6" font-size="8.2" text-anchor="middle">****</text>
<path fill="none" stroke="#7a7a7a" stroke-width="0.6" d="M160.3 577.6V575.3H185.18V577.6"/>
<text x="172.74" y="573.7" font-size="8.2" text-anchor="middle">***</text>
<text x="135.43" y="674.73" font-size="8.2" text-anchor="middle">ns</text>
<text x="160.3" y="674.73" font-size="8.2" text-anchor="middle">ns</text>
<text x="185.18" y="674.73" font-size="8.2" text-anchor="middle">ns</text>
<rect x="120.5" y="565.4" width="79.6" height="118.8" fill="none" stroke="#333" stroke-width="0.9"/>
<path fill="none" stroke="#333" stroke-width="0.9" d="M135.43 684.2V687.2M160.3 684.2V687.2M185.18 684.2V687.2"/>
<text x="139.33" y="695.3" font-size="9.6" text-anchor="end" transform="rotate(-60 139.33 695.3)">Young</text>
<text x="164.2" y="695.3" font-size="9.6" text-anchor="end" transform="rotate(-60 164.2 695.3)">Middle-aged</text>
<text x="189.08" y="695.3" font-size="9.6" text-anchor="end" transform="rotate(-60 189.08 695.3)">Older</text>
<text x="120.7" y="560.4" font-size="9.7" font-style="italic">TCF7</text>
<path fill="none" stroke="#f4f4f4" stroke-width="0.6" d="M206.2 671.9H285.4M206.2 645.3H285.4M206.2 618.7H285.4M206.2 592.1H285.4"/>
<path fill="none" stroke="#ebebeb" stroke-width="0.9" d="M206.2 658.6H285.4M206.2 605.4H285.4M206.2 578.8H285.4M221.05 565.4V684.2M245.8 565.4V684.2M270.55 565.4V684.2"/>
<line x1="206.2" y1="632" x2="285.4" y2="632" stroke="#b4b4b4" stroke-width="0.75"/>
<line x1="216.95" y1="611.38" x2="216.95" y2="618.7" stroke="#f6b0b6" stroke-width="0.7"/>
<line x1="216.95" y1="632" x2="216.95" y2="647.96" stroke="#f6b0b6" stroke-width="0.7"/>
<rect x="213.5" y="618.7" width="6.9" height="13.3" fill="#f9c3c7" stroke="#f4a3aa" stroke-width="0.6"/>
<line x1="213.5" y1="622.69" x2="220.4" y2="622.69" stroke="#f4a3aa" stroke-width="0.8"/>
<g fill="#f25565" fill-opacity="0.9"><circle cx="216.02" cy="611.38" r="1.25"/><circle cx="218.07" cy="647.96" r="1.25"/><circle cx="218.45" cy="618.7" r="1.25"/><circle cx="217.03" cy="632" r="1.25"/><circle cx="217.18" cy="622.69" r="1.25"/><circle cx="215.99" cy="625" r="1.25"/><circle cx="217.06" cy="622.31" r="1.25"/><circle cx="216.96" cy="625.05" r="1.25"/><circle cx="217.29" cy="627.48" r="1.25"/><circle cx="215.44" cy="626.93" r="1.25"/><circle cx="218.45" cy="615.02" r="1.25"/></g>
<line x1="225.15" y1="600.08" x2="225.15" y2="607.39" stroke="#b3c3dc" stroke-width="0.7"/>
<line x1="225.15" y1="625.35" x2="225.15" y2="630.67" stroke="#b3c3dc" stroke-width="0.7"/>
<rect x="221.7" y="607.39" width="6.9" height="17.96" fill="#c9d5e7" stroke="#a9bbd8" stroke-width="0.6"/>
<line x1="221.7" y1="617.64" x2="228.6" y2="617.64" stroke="#a9bbd8" stroke-width="0.8"/>
<g fill="#7a98cb" fill-opacity="0.9"><circle cx="224.57" cy="600.08" r="1.25"/><circle cx="224.16" cy="630.67" r="1.25"/><circle cx="225.53" cy="607.39" r="1.25"/><circle cx="226.51" cy="625.35" r="1.25"/><circle cx="223.96" cy="617.64" r="1.25"/><circle cx="226.04" cy="618.16" r="1.25"/><circle cx="223.62" cy="613.45" r="1.25"/><circle cx="224.17" cy="612.94" r="1.25"/><circle cx="224.28" cy="615.68" r="1.25"/><circle cx="225.75" cy="608.17" r="1.25"/><circle cx="224.58" cy="622.43" r="1.25"/><circle cx="224.69" cy="623.07" r="1.25"/><circle cx="225.53" cy="610.7" r="1.25"/><circle cx="223.89" cy="616.09" r="1.25"/></g>
<line x1="241.7" y1="616.71" x2="241.7" y2="624.02" stroke="#f6b0b6" stroke-width="0.7"/>
<line x1="241.7" y1="632.66" x2="241.7" y2="639.98" stroke="#f6b0b6" stroke-width="0.7"/>
<rect x="238.25" y="624.02" width="6.9" height="8.64" fill="#f9c3c7" stroke="#f4a3aa" stroke-width="0.6"/>
<line x1="238.25" y1="628.67" x2="245.15" y2="628.67" stroke="#f4a3aa" stroke-width="0.8"/>
<g fill="#f25565" fill-opacity="0.9"><circle cx="242.12" cy="616.71" r="1.25"/><circle cx="242.14" cy="639.98" r="1.25"/><circle cx="241.79" cy="624.02" r="1.25"/><circle cx="242.82" cy="632.66" r="1.25"/><circle cx="242.06" cy="628.67" r="1.25"/><circle cx="242.84" cy="637.12" r="1.25"/><circle cx="240.84" cy="630.5" r="1.25"/><circle cx="242.47" cy="628.08" r="1.25"/><circle cx="242.69" cy="629.42" r="1.25"/><circle cx="242.99" cy="628.09" r="1.25"/><circle cx="241.11" cy="630.9" r="1.25"/><circle cx="241.11" cy="651.95" r="1.25"/></g>
<line x1="249.9" y1="607.39" x2="249.9" y2="622.02" stroke="#b3c3dc" stroke-width="0.7"/>
<line x1="249.9" y1="636.65" x2="249.9" y2="640.64" stroke="#b3c3dc" stroke-width="0.7"/>
<rect x="246.45" y="622.02" width="6.9" height="14.63" fill="#c9d5e7" stroke="#a9bbd8" stroke-width="0.6"/>
<line x1="246.45" y1="630" x2="253.35" y2="630" stroke="#a9bbd8" stroke-width="0.8"/>
<g fill="#7a98cb" fill-opacity="0.9"><circle cx="251.22" cy="607.39" r="1.25"/><circle cx="251.4" cy="640.64" r="1.25"/><circle cx="248.67" cy="622.02" r="1.25"/><circle cx="249.92" cy="636.65" r="1.25"/><circle cx="250.73" cy="630" r="1.25"/><circle cx="249.91" cy="633.39" r="1.25"/><circle cx="250.49" cy="611.13" r="1.25"/><circle cx="248.9" cy="633.15" r="1.25"/><circle cx="248.53" cy="632.02" r="1.25"/><circle cx="248.64" cy="624.48" r="1.25"/><circle cx="248.42" cy="625.1" r="1.25"/><circle cx="250.07" cy="630.76" r="1.25"/><circle cx="249.95" cy="640.05" r="1.25"/><circle cx="250.12" cy="626.67" r="1.25"/></g>
<line x1="266.45" y1="618.7" x2="266.45" y2="630" stroke="#f6b0b6" stroke-width="0.7"/>
<line x1="266.45" y1="647.29" x2="266.45" y2="659.26" stroke="#f6b0b6" stroke-width="0.7"/>
<rect x="263" y="630" width="6.9" height="17.29" fill="#f9c3c7" stroke="#f4a3aa" stroke-width="0.6"/>
<line x1="263" y1="639.98" x2="269.9" y2="639.98" stroke="#f4a3aa" stroke-width="0.8"/>
<g fill="#f25565" fill-opacity="0.9"><circle cx="266.34" cy="618.7" r="1.25"/><circle cx="266.5" cy="659.26" r="1.25"/><circle cx="266.23" cy="630" r="1.25"/><circle cx="266.77" cy="647.29" r="1.25"/><circle cx="264.89" cy="639.98" r="1.25"/><circle cx="267.09" cy="644.1" r="1.25"/><circle cx="267.55" cy="632.77" r="1.25"/><circle cx="265.43" cy="621.67" r="1.25"/><circle cx="266.3" cy="646.22" r="1.25"/><circle cx="267.22" cy="640.52" r="1.25"/><circle cx="266.15" cy="646.01" r="1.25"/></g>
<line x1="274.65" y1="624.02" x2="274.65" y2="632.66" stroke="#b3c3dc" stroke-width="0.7"/>
<line x1="274.65" y1="651.95" x2="274.65" y2="657.93" stroke="#b3c3dc" stroke-width="0.7"/>
<rect x="271.2" y="632.66" width="6.9" height="19.29" fill="#c9d5e7" stroke="#a9bbd8" stroke-width="0.6"/>
<line x1="271.2" y1="643.97" x2="278.1" y2="643.97" stroke="#a9bbd8" stroke-width="0.8"/>
<g fill="#7a98cb" fill-opacity="0.9"><circle cx="275.66" cy="624.02" r="1.25"/><circle cx="274.35" cy="657.93" r="1.25"/><circle cx="275.92" cy="632.66" r="1.25"/><circle cx="275.87" cy="651.95" r="1.25"/><circle cx="275.27" cy="643.97" r="1.25"/><circle cx="275.51" cy="648.77" r="1.25"/><circle cx="275.5" cy="651.65" r="1.25"/><circle cx="274.35" cy="630.75" r="1.25"/><circle cx="275.36" cy="628.74" r="1.25"/><circle cx="273.28" cy="644.15" r="1.25"/><circle cx="274.14" cy="642.22" r="1.25"/><circle cx="274.55" cy="630.64" r="1.25"/><circle cx="273.08" cy="634.38" r="1.25"/><circle cx="274.19" cy="631.55" r="1.25"/></g>
<path fill="none" stroke="#7a7a7a" stroke-width="0.6" d="M221.05 595.7V593.4H245.8V595.7"/>
<text x="233.42" y="591.8" font-size="8.2" text-anchor="middle">*</text>
<path fill="none" stroke="#7a7a7a" stroke-width="0.6" d="M221.05 586.5V584.2H270.55V586.5"/>
<text x="245.8" y="582.6" font-size="8.2" text-anchor="middle">****</text>
<path fill="none" stroke="#7a7a7a" stroke-width="0.6" d="M245.8 577.6V575.3H270.55V577.6"/>
<text x="258.17" y="573.7" font-size="8.2" text-anchor="middle">***</text>
<text x="221.05" y="674.73" font-size="8.2" text-anchor="middle">ns</text>
<text x="245.8" y="674.73" font-size="8.2" text-anchor="middle">ns</text>
<text x="270.55" y="674.73" font-size="8.2" text-anchor="middle">ns</text>
<rect x="206.2" y="565.4" width="79.2" height="118.8" fill="none" stroke="#333" stroke-width="0.9"/>
<path fill="none" stroke="#333" stroke-width="0.9" d="M221.05 684.2V687.2M245.8 684.2V687.2M270.55 684.2V687.2"/>
<text x="224.95" y="695.3" font-size="9.6" text-anchor="end" transform="rotate(-60 224.95 695.3)">Young</text>
<text x="249.7" y="695.3" font-size="9.6" text-anchor="end" transform="rotate(-60 249.7 695.3)">Middle-aged</text>
<text x="274.45" y="695.3" font-size="9.6" text-anchor="end" transform="rotate(-60 274.45 695.3)">Older</text>
<text x="206.4" y="560.4" font-size="9.7" font-style="italic">SOX12</text>
<path fill="none" stroke="#f4f4f4" stroke-width="0.6" d="M291.6 671.9H370.6M291.6 645.3H370.6M291.6 618.7H370.6M291.6 592.1H370.6"/>
<path fill="none" stroke="#ebebeb" stroke-width="0.9" d="M291.6 658.6H370.6M291.6 605.4H370.6M291.6 578.8H370.6M306.41 565.4V684.2M331.1 565.4V684.2M355.79 565.4V684.2"/>
<line x1="291.6" y1="632" x2="370.6" y2="632" stroke="#b4b4b4" stroke-width="0.75"/>
<line x1="302.31" y1="605.4" x2="302.31" y2="618.03" stroke="#f6b0b6" stroke-width="0.7"/>
<line x1="302.31" y1="629.34" x2="302.31" y2="637.32" stroke="#f6b0b6" stroke-width="0.7"/>
<rect x="298.86" y="618.03" width="6.9" height="11.31" fill="#f9c3c7" stroke="#f4a3aa" stroke-width="0.6"/>
<line x1="298.86" y1="624.95" x2="305.76" y2="624.95" stroke="#f4a3aa" stroke-width="0.8"/>
<g fill="#f25565" fill-opacity="0.9"><circle cx="302.96" cy="605.4" r="1.25"/><circle cx="303.15" cy="637.32" r="1.25"/><circle cx="303.85" cy="618.03" r="1.25"/><circle cx="300.79" cy="629.34" r="1.25"/><circle cx="302.68" cy="624.95" r="1.25"/><circle cx="303.08" cy="622.29" r="1.25"/><circle cx="301.53" cy="618.66" r="1.25"/><circle cx="302" cy="626.54" r="1.25"/><circle cx="300.87" cy="619.14" r="1.25"/><circle cx="301.34" cy="624.94" r="1.25"/><circle cx="301.91" cy="616.82" r="1.25"/></g>
<line x1="310.51" y1="607.39" x2="310.51" y2="614.98" stroke="#b3c3dc" stroke-width="0.7"/>
<line x1="310.51" y1="637.05" x2="310.51" y2="644.24" stroke="#b3c3dc" stroke-width="0.7"/>
<rect x="307.06" y="614.98" width="6.9" height="22.08" fill="#c9d5e7" stroke="#a9bbd8" stroke-width="0.6"/>
<line x1="307.06" y1="622.69" x2="313.96" y2="622.69" stroke="#a9bbd8" stroke-width="0.8"/>
<g fill="#7a98cb" fill-opacity="0.9"><circle cx="310.5" cy="607.39" r="1.25"/><circle cx="310.87" cy="644.24" r="1.25"/><circle cx="309.1" cy="614.98" r="1.25"/><circle cx="311.94" cy="637.05" r="1.25"/><circle cx="310.26" cy="622.69" r="1.25"/><circle cx="310.6" cy="631.51" r="1.25"/><circle cx="310.83" cy="623.97" r="1.25"/><circle cx="310.08" cy="615.7" r="1.25"/><circle cx="309.83" cy="615.08" r="1.25"/><circle cx="311.01" cy="619.18" r="1.25"/><circle cx="310.71" cy="623.86" r="1.25"/><circle cx="309.82" cy="642.57" r="1.25"/><circle cx="311.21" cy="638.34" r="1.25"/><circle cx="309.86" cy="633.32" r="1.25"/></g>
<line x1="327" y1="607.39" x2="327" y2="622.02" stroke="#f6b0b6" stroke-width="0.7"/>
<line x1="327" y1="632" x2="327" y2="641.98" stroke="#f6b0b6" stroke-width="0.7"/>
<rect x="323.55" y="622.02" width="6.9" height="9.98" fill="#f9c3c7" stroke="#f4a3aa" stroke-width="0.6"/>
<line x1="323.55" y1="625.35" x2="330.45" y2="625.35" stroke="#f4a3aa" stroke-width="0.8"/>
<g fill="#f25565" fill-opacity="0.9"><circle cx="328.3" cy="607.39" r="1.25"/><circle cx="326.77" cy="641.98" r="1.25"/><circle cx="326.93" cy="622.02" r="1.25"/><circle cx="328.51" cy="632" r="1.25"/><circle cx="326.18" cy="625.35" r="1.25"/><circle cx="327.07" cy="629.56" r="1.25"/><circle cx="328.4" cy="630.44" r="1.25"/><circle cx="327.71" cy="628.49" r="1.25"/><circle cx="326.9" cy="616.1" r="1.25"/><circle cx="328.53" cy="622.14" r="1.25"/><circle cx="328.01" cy="639.43" r="1.25"/></g>
<line x1="335.2" y1="614.04" x2="335.2" y2="620.03" stroke="#b3c3dc" stroke-width="0.7"/>
<line x1="335.2" y1="641.04" x2="335.2" y2="652.22" stroke="#b3c3dc" stroke-width="0.7"/>
<rect x="331.75" y="620.03" width="6.9" height="21.01" fill="#c9d5e7" stroke="#a9bbd8" stroke-width="0.6"/>
<line x1="331.75" y1="632.66" x2="338.65" y2="632.66" stroke="#a9bbd8" stroke-width="0.8"/>
<g fill="#7a98cb" fill-opacity="0.9"><circle cx="335.95" cy="614.04" r="1.25"/><circle cx="334.36" cy="652.22" r="1.25"/><circle cx="333.96" cy="620.03" r="1.25"/><circle cx="336.46" cy="641.04" r="1.25"/><circle cx="336.11" cy="632.66" r="1.25"/><circle cx="335.6" cy="638.63" r="1.25"/><circle cx="334.75" cy="631.47" r="1.25"/><circle cx="334.47" cy="639.95" r="1.25"/><circle cx="335.79" cy="638.43" r="1.25"/><circle cx="335.41" cy="627.01" r="1.25"/><circle cx="335.49" cy="635.54" r="1.25"/><circle cx="335.63" cy="632.23" r="1.25"/><circle cx="336.01" cy="631.96" r="1.25"/><circle cx="334.21" cy="615.85" r="1.25"/></g>
<line x1="351.69" y1="608.06" x2="351.69" y2="623.36" stroke="#f6b0b6" stroke-width="0.7"/>
<line x1="351.69" y1="639.98" x2="351.69" y2="649.96" stroke="#f6b0b6" stroke-width="0.7"/>
<rect x="348.24" y="623.36" width="6.9" height="16.62" fill="#f9c3c7" stroke="#f4a3aa" stroke-width="0.6"/>
<line x1="348.24" y1="629.34" x2="355.14" y2="629.34" stroke="#f4a3aa" stroke-width="0.8"/>
<g fill="#f25565" fill-opacity="0.9"><circle cx="350.36" cy="608.06" r="1.25"/><circle cx="352.25" cy="649.96" r="1.25"/><circle cx="351.85" cy="623.36" r="1.25"/><circle cx="352.11" cy="639.98" r="1.25"/><circle cx="351.28" cy="629.34" r="1.25"/><circle cx="351.62" cy="623.69" r="1.25"/><circle cx="350.76" cy="613.14" r="1.25"/><circle cx="351.19" cy="638.97" r="1.25"/><circle cx="352.47" cy="632.91" r="1.25"/><circle cx="352.77" cy="638.28" r="1.25"/><circle cx="350.33" cy="638.77" r="1.25"/></g>
<line x1="359.89" y1="625.35" x2="359.89" y2="633.6" stroke="#b3c3dc" stroke-width="0.7"/>
<line x1="359.89" y1="655.94" x2="359.89" y2="663.25" stroke="#b3c3dc" stroke-width="0.7"/>
<rect x="356.44" y="633.6" width="6.9" height="22.34" fill="#c9d5e7" stroke="#a9bbd8" stroke-width="0.6"/>
<line x1="356.44" y1="639.98" x2="363.34" y2="639.98" stroke="#a9bbd8" stroke-width="0.8"/>
<g fill="#7a98cb" fill-opacity="0.9"><circle cx="361.09" cy="625.35" r="1.25"/><circle cx="358.54" cy="663.25" r="1.25"/><circle cx="358.55" cy="633.6" r="1.25"/><circle cx="360.09" cy="655.94" r="1.25"/><circle cx="359.84" cy="639.98" r="1.25"/><circle cx="360.48" cy="637.86" r="1.25"/><circle cx="359.24" cy="638.76" r="1.25"/><circle cx="360.77" cy="646.46" r="1.25"/><circle cx="358.53" cy="637.84" r="1.25"/><circle cx="358.97" cy="641.33" r="1.25"/><circle cx="360.41" cy="650.92" r="1.25"/><circle cx="358.55" cy="639.27" r="1.25"/><circle cx="359.26" cy="647.04" r="1.25"/><circle cx="360.61" cy="653.77" r="1.25"/></g>
<path fill="none" stroke="#7a7a7a" stroke-width="0.6" d="M306.41 595.7V593.4H331.1V595.7"/>
<text x="318.76" y="592.2" font-size="8.2" text-anchor="middle">ns</text>
<path fill="none" stroke="#7a7a7a" stroke-width="0.6" d="M306.41 586.5V584.2H355.79V586.5"/>
<text x="331.1" y="582.6" font-size="8.2" text-anchor="middle">**</text>
<path fill="none" stroke="#7a7a7a" stroke-width="0.6" d="M331.1 577.6V575.3H355.79V577.6"/>
<text x="343.44" y="573.7" font-size="8.2" text-anchor="middle">*</text>
<text x="306.41" y="674.73" font-size="8.2" text-anchor="middle">ns</text>
<text x="331.1" y="674.73" font-size="8.2" text-anchor="middle">ns</text>
<text x="355.79" y="677.93" font-size="8.2" text-anchor="middle">*</text>
<rect x="291.6" y="565.4" width="79" height="118.8" fill="none" stroke="#333" stroke-width="0.9"/>
<path fill="none" stroke="#333" stroke-width="0.9" d="M306.41 684.2V687.2M331.1 684.2V687.2M355.79 684.2V687.2"/>
<text x="310.31" y="695.3" font-size="9.6" text-anchor="end" transform="rotate(-60 310.31 695.3)">Young</text>
<text x="335" y="695.3" font-size="9.6" text-anchor="end" transform="rotate(-60 335 695.3)">Middle-aged</text>
<text x="359.69" y="695.3" font-size="9.6" text-anchor="end" transform="rotate(-60 359.69 695.3)">Older</text>
<text x="291.8" y="560.4" font-size="9.7" font-style="italic">FOXO1</text>
<path fill="none" stroke="#f4f4f4" stroke-width="0.6" d="M380 671.9H459.4M380 645.3H459.4M380 618.7H459.4M380 592.1H459.4"/>
<path fill="none" stroke="#ebebeb" stroke-width="0.9" d="M380 658.6H459.4M380 605.4H459.4M380 578.8H459.4M394.89 565.4V684.2M419.7 565.4V684.2M444.51 565.4V684.2"/>
<line x1="380" y1="632" x2="459.4" y2="632" stroke="#b4b4b4" stroke-width="0.75"/>
<line x1="390.79" y1="602.34" x2="390.79" y2="608.06" stroke="#f6b0b6" stroke-width="0.7"/>
<line x1="390.79" y1="634" x2="390.79" y2="641.31" stroke="#f6b0b6" stroke-width="0.7"/>
<rect x="387.34" y="608.06" width="6.9" height="25.94" fill="#f9c3c7" stroke="#f4a3aa" stroke-width="0.6"/>
<line x1="387.34" y1="626.68" x2="394.24" y2="626.68" stroke="#f4a3aa" stroke-width="0.8"/>
<g fill="#f25565" fill-opacity="0.9"><circle cx="390.59" cy="602.34" r="1.25"/><circle cx="391.76" cy="641.31" r="1.25"/><circle cx="390.16" cy="608.06" r="1.25"/><circle cx="390.2" cy="634" r="1.25"/><circle cx="390.47" cy="626.68" r="1.25"/><circle cx="392.18" cy="630.29" r="1.25"/><circle cx="392.05" cy="624.72" r="1.25"/><circle cx="389.98" cy="627.03" r="1.25"/><circle cx="390.34" cy="615.6" r="1.25"/><circle cx="390.36" cy="610.17" r="1.25"/><circle cx="390.35" cy="605.72" r="1.25"/></g>
<line x1="398.99" y1="608.73" x2="398.99" y2="616.71" stroke="#b3c3dc" stroke-width="0.7"/>
<line x1="398.99" y1="634.93" x2="398.99" y2="642.64" stroke="#b3c3dc" stroke-width="0.7"/>
<rect x="395.54" y="616.71" width="6.9" height="18.22" fill="#c9d5e7" stroke="#a9bbd8" stroke-width="0.6"/>
<line x1="395.54" y1="626.01" x2="402.44" y2="626.01" stroke="#a9bbd8" stroke-width="0.8"/>
<g fill="#7a98cb" fill-opacity="0.9"><circle cx="399.96" cy="608.73" r="1.25"/><circle cx="397.59" cy="642.64" r="1.25"/><circle cx="399.14" cy="616.71" r="1.25"/><circle cx="399.91" cy="634.93" r="1.25"/><circle cx="397.66" cy="626.01" r="1.25"/><circle cx="397.65" cy="627.86" r="1.25"/><circle cx="399.75" cy="624.65" r="1.25"/><circle cx="400.26" cy="624.31" r="1.25"/><circle cx="397.66" cy="623.55" r="1.25"/><circle cx="399.42" cy="621.1" r="1.25"/><circle cx="397.85" cy="633.09" r="1.25"/><circle cx="399.77" cy="625.53" r="1.25"/><circle cx="399.46" cy="624.59" r="1.25"/><circle cx="398.17" cy="620.55" r="1.25"/></g>
<line x1="415.6" y1="614.71" x2="415.6" y2="622.02" stroke="#f6b0b6" stroke-width="0.7"/>
<line x1="415.6" y1="635.33" x2="415.6" y2="645.3" stroke="#f6b0b6" stroke-width="0.7"/>
<rect x="412.15" y="622.02" width="6.9" height="13.3" fill="#f9c3c7" stroke="#f4a3aa" stroke-width="0.6"/>
<line x1="412.15" y1="628.01" x2="419.05" y2="628.01" stroke="#f4a3aa" stroke-width="0.8"/>
<g fill="#f25565" fill-opacity="0.9"><circle cx="416.93" cy="614.71" r="1.25"/><circle cx="415.31" cy="645.3" r="1.25"/><circle cx="416.64" cy="622.02" r="1.25"/><circle cx="416.13" cy="635.33" r="1.25"/><circle cx="416.73" cy="628.01" r="1.25"/><circle cx="416.58" cy="625.15" r="1.25"/><circle cx="416.67" cy="625.15" r="1.25"/><circle cx="416.84" cy="630.83" r="1.25"/><circle cx="417.06" cy="624.73" r="1.25"/><circle cx="416.05" cy="628.18" r="1.25"/><circle cx="415.68" cy="623.64" r="1.25"/></g>
<line x1="423.8" y1="607.39" x2="423.8" y2="620.03" stroke="#b3c3dc" stroke-width="0.7"/>
<line x1="423.8" y1="641.31" x2="423.8" y2="653.28" stroke="#b3c3dc" stroke-width="0.7"/>
<rect x="420.35" y="620.03" width="6.9" height="21.28" fill="#c9d5e7" stroke="#a9bbd8" stroke-width="0.6"/>
<line x1="420.35" y1="630.67" x2="427.25" y2="630.67" stroke="#a9bbd8" stroke-width="0.8"/>
<g fill="#7a98cb" fill-opacity="0.9"><circle cx="422.77" cy="607.39" r="1.25"/><circle cx="422.4" cy="653.28" r="1.25"/><circle cx="423.67" cy="620.03" r="1.25"/><circle cx="424.07" cy="641.31" r="1.25"/><circle cx="425.11" cy="630.67" r="1.25"/><circle cx="422.32" cy="616.47" r="1.25"/><circle cx="422.55" cy="632.36" r="1.25"/><circle cx="422.79" cy="625.54" r="1.25"/><circle cx="422.9" cy="636.05" r="1.25"/><circle cx="422.95" cy="636.96" r="1.25"/><circle cx="424.5" cy="635.1" r="1.25"/><circle cx="424.1" cy="650.56" r="1.25"/><circle cx="422.92" cy="638.87" r="1.25"/><circle cx="422.79" cy="624.8" r="1.25"/></g>
<line x1="440.41" y1="618.7" x2="440.41" y2="626.68" stroke="#f6b0b6" stroke-width="0.7"/>
<line x1="440.41" y1="641.98" x2="440.41" y2="653.28" stroke="#f6b0b6" stroke-width="0.7"/>
<rect x="436.96" y="626.68" width="6.9" height="15.3" fill="#f9c3c7" stroke="#f4a3aa" stroke-width="0.6"/>
<line x1="436.96" y1="632" x2="443.86" y2="632" stroke="#f4a3aa" stroke-width="0.8"/>
<g fill="#f25565" fill-opacity="0.9"><circle cx="441.87" cy="618.7" r="1.25"/><circle cx="440.36" cy="653.28" r="1.25"/><circle cx="439.52" cy="626.68" r="1.25"/><circle cx="438.97" cy="641.98" r="1.25"/><circle cx="441.84" cy="632" r="1.25"/><circle cx="441.38" cy="639.34" r="1.25"/><circle cx="440.04" cy="642.5" r="1.25"/><circle cx="440.5" cy="629.48" r="1.25"/><circle cx="440.46" cy="637.99" r="1.25"/><circle cx="439.69" cy="621.67" r="1.25"/><circle cx="441.98" cy="633.6" r="1.25"/></g>
<line x1="448.61" y1="624.02" x2="448.61" y2="630.67" stroke="#b3c3dc" stroke-width="0.7"/>
<line x1="448.61" y1="650.35" x2="448.61" y2="661.26" stroke="#b3c3dc" stroke-width="0.7"/>
<rect x="445.16" y="630.67" width="6.9" height="19.68" fill="#c9d5e7" stroke="#a9bbd8" stroke-width="0.6"/>
<line x1="445.16" y1="638.65" x2="452.06" y2="638.65" stroke="#a9bbd8" stroke-width="0.8"/>
<g fill="#7a98cb" fill-opacity="0.9"><circle cx="447.49" cy="624.02" r="1.25"/><circle cx="449.48" cy="661.26" r="1.25"/><circle cx="447.02" cy="630.67" r="1.25"/><circle cx="449.64" cy="650.35" r="1.25"/><circle cx="449.72" cy="638.65" r="1.25"/><circle cx="449.64" cy="652.41" r="1.25"/><circle cx="447.28" cy="641.05" r="1.25"/><circle cx="447.88" cy="634.67" r="1.25"/><circle cx="449.31" cy="638.69" r="1.25"/><circle cx="447.32" cy="647.27" r="1.25"/><circle cx="448.55" cy="645.25" r="1.25"/><circle cx="448.51" cy="642.04" r="1.25"/><circle cx="450.07" cy="630.81" r="1.25"/><circle cx="448.89" cy="639.83" r="1.25"/></g>
<path fill="none" stroke="#7a7a7a" stroke-width="0.6" d="M394.89 595.7V593.4H419.7V595.7"/>
<text x="407.29" y="592.2" font-size="8.2" text-anchor="middle">ns</text>
<path fill="none" stroke="#7a7a7a" stroke-width="0.6" d="M394.89 586.5V584.2H444.51V586.5"/>
<text x="419.7" y="582.6" font-size="8.2" text-anchor="middle">**</text>
<path fill="none" stroke="#7a7a7a" stroke-width="0.6" d="M419.7 577.6V575.3H444.51V577.6"/>
<text x="432.11" y="573.7" font-size="8.2" text-anchor="middle">*</text>
<text x="394.89" y="674.73" font-size="8.2" text-anchor="middle">ns</text>
<text x="419.7" y="674.73" font-size="8.2" text-anchor="middle">ns</text>
<text x="444.51" y="674.73" font-size="8.2" text-anchor="middle">ns</text>
<rect x="380" y="565.4" width="79.4" height="118.8" fill="none" stroke="#333" stroke-width="0.9"/>
<path fill="none" stroke="#333" stroke-width="0.9" d="M394.89 684.2V687.2M419.7 684.2V687.2M444.51 684.2V687.2"/>
<text x="398.79" y="695.3" font-size="9.6" text-anchor="end" transform="rotate(-60 398.79 695.3)">Young</text>
<text x="423.6" y="695.3" font-size="9.6" text-anchor="end" transform="rotate(-60 423.6 695.3)">Middle-aged</text>
<text x="448.41" y="695.3" font-size="9.6" text-anchor="end" transform="rotate(-60 448.41 695.3)">Older</text>
<text x="380.2" y="560.4" font-size="9.7" font-style="italic">FOXP1</text>
<path fill="none" stroke="#f4f4f4" stroke-width="0.6" d="M467.4 671.9H546.9M467.4 645.3H546.9M467.4 618.7H546.9M467.4 592.1H546.9"/>
<path fill="none" stroke="#ebebeb" stroke-width="0.9" d="M467.4 658.6H546.9M467.4 605.4H546.9M467.4 578.8H546.9M482.31 565.4V684.2M507.15 565.4V684.2M531.99 565.4V684.2"/>
<line x1="467.4" y1="632" x2="546.9" y2="632" stroke="#b4b4b4" stroke-width="0.75"/>
<line x1="478.21" y1="604.34" x2="478.21" y2="621.09" stroke="#f6b0b6" stroke-width="0.7"/>
<line x1="478.21" y1="637.05" x2="478.21" y2="649.02" stroke="#f6b0b6" stroke-width="0.7"/>
<rect x="474.76" y="621.09" width="6.9" height="15.96" fill="#f9c3c7" stroke="#f4a3aa" stroke-width="0.6"/>
<line x1="474.76" y1="628.41" x2="481.66" y2="628.41" stroke="#f4a3aa" stroke-width="0.8"/>
<g fill="#f25565" fill-opacity="0.9"><circle cx="477.6" cy="604.34" r="1.25"/><circle cx="477.6" cy="649.02" r="1.25"/><circle cx="476.85" cy="621.09" r="1.25"/><circle cx="477.58" cy="637.05" r="1.25"/><circle cx="478.1" cy="628.41" r="1.25"/><circle cx="478.89" cy="635.46" r="1.25"/><circle cx="477.76" cy="630.39" r="1.25"/><circle cx="478.8" cy="644.96" r="1.25"/><circle cx="476.94" cy="639.71" r="1.25"/><circle cx="477.87" cy="628.66" r="1.25"/><circle cx="478.08" cy="623.78" r="1.25"/></g>
<line x1="486.41" y1="604.34" x2="486.41" y2="614.04" stroke="#b3c3dc" stroke-width="0.7"/>
<line x1="486.41" y1="627.74" x2="486.41" y2="630.4" stroke="#b3c3dc" stroke-width="0.7"/>
<rect x="482.96" y="614.04" width="6.9" height="13.7" fill="#c9d5e7" stroke="#a9bbd8" stroke-width="0.6"/>
<line x1="482.96" y1="622.42" x2="489.86" y2="622.42" stroke="#a9bbd8" stroke-width="0.8"/>
<g fill="#7a98cb" fill-opacity="0.9"><circle cx="485.89" cy="604.34" r="1.25"/><circle cx="486.06" cy="630.4" r="1.25"/><circle cx="486.94" cy="614.04" r="1.25"/><circle cx="485.63" cy="627.74" r="1.25"/><circle cx="485.45" cy="622.42" r="1.25"/><circle cx="487.15" cy="608.77" r="1.25"/><circle cx="485.86" cy="630.08" r="1.25"/><circle cx="487.83" cy="618.02" r="1.25"/><circle cx="486.61" cy="620.02" r="1.25"/><circle cx="487.12" cy="627.6" r="1.25"/><circle cx="485.87" cy="609.56" r="1.25"/><circle cx="487.45" cy="619.3" r="1.25"/><circle cx="485.1" cy="622.59" r="1.25"/><circle cx="485.26" cy="623.66" r="1.25"/></g>
<line x1="503.05" y1="615.77" x2="503.05" y2="617.77" stroke="#f6b0b6" stroke-width="0.7"/>
<line x1="503.05" y1="631.07" x2="503.05" y2="635.33" stroke="#f6b0b6" stroke-width="0.7"/>
<rect x="499.6" y="617.77" width="6.9" height="13.3" fill="#f9c3c7" stroke="#f4a3aa" stroke-width="0.6"/>
<line x1="499.6" y1="622.42" x2="506.5" y2="622.42" stroke="#f4a3aa" stroke-width="0.8"/>
<g fill="#f25565" fill-opacity="0.9"><circle cx="501.68" cy="615.77" r="1.25"/><circle cx="504.4" cy="635.33" r="1.25"/><circle cx="502.82" cy="617.77" r="1.25"/><circle cx="503.09" cy="631.07" r="1.25"/><circle cx="503.52" cy="622.42" r="1.25"/><circle cx="503.9" cy="622.06" r="1.25"/><circle cx="504.08" cy="631.81" r="1.25"/><circle cx="502.69" cy="619.94" r="1.25"/><circle cx="502.51" cy="629.87" r="1.25"/><circle cx="502.77" cy="628.98" r="1.25"/><circle cx="501.5" cy="625.66" r="1.25"/></g>
<line x1="511.25" y1="614.71" x2="511.25" y2="626.01" stroke="#b3c3dc" stroke-width="0.7"/>
<line x1="511.25" y1="643.7" x2="511.25" y2="656.21" stroke="#b3c3dc" stroke-width="0.7"/>
<rect x="507.8" y="626.01" width="6.9" height="17.69" fill="#c9d5e7" stroke="#a9bbd8" stroke-width="0.6"/>
<line x1="507.8" y1="633.06" x2="514.7" y2="633.06" stroke="#a9bbd8" stroke-width="0.8"/>
<g fill="#7a98cb" fill-opacity="0.9"><circle cx="512.54" cy="614.71" r="1.25"/><circle cx="511.4" cy="656.21" r="1.25"/><circle cx="510.78" cy="626.01" r="1.25"/><circle cx="511.25" cy="643.7" r="1.25"/><circle cx="510.1" cy="633.06" r="1.25"/><circle cx="511.93" cy="631.32" r="1.25"/><circle cx="512.81" cy="623.44" r="1.25"/><circle cx="511.3" cy="630.95" r="1.25"/><circle cx="511.94" cy="637.85" r="1.25"/><circle cx="512.32" cy="632.19" r="1.25"/><circle cx="510.28" cy="637.02" r="1.25"/><circle cx="512.67" cy="629.76" r="1.25"/><circle cx="511.66" cy="630.83" r="1.25"/><circle cx="510.28" cy="630.15" r="1.25"/></g>
<line x1="527.89" y1="614.31" x2="527.89" y2="625.35" stroke="#f6b0b6" stroke-width="0.7"/>
<line x1="527.89" y1="642.77" x2="527.89" y2="653.81" stroke="#f6b0b6" stroke-width="0.7"/>
<rect x="524.44" y="625.35" width="6.9" height="17.42" fill="#f9c3c7" stroke="#f4a3aa" stroke-width="0.6"/>
<line x1="524.44" y1="628.67" x2="531.34" y2="628.67" stroke="#f4a3aa" stroke-width="0.8"/>
<g fill="#f25565" fill-opacity="0.9"><circle cx="528.03" cy="614.31" r="1.25"/><circle cx="528.09" cy="653.81" r="1.25"/><circle cx="528.09" cy="625.35" r="1.25"/><circle cx="527.14" cy="642.77" r="1.25"/><circle cx="529.2" cy="628.67" r="1.25"/><circle cx="529.47" cy="638.51" r="1.25"/><circle cx="528.91" cy="630.63" r="1.25"/><circle cx="528.22" cy="626.59" r="1.25"/><circle cx="526.69" cy="634.71" r="1.25"/><circle cx="528.93" cy="625.81" r="1.25"/><circle cx="527.22" cy="627.02" r="1.25"/></g>
<line x1="536.09" y1="610.72" x2="536.09" y2="632.8" stroke="#b3c3dc" stroke-width="0.7"/>
<line x1="536.09" y1="650.49" x2="536.09" y2="664.45" stroke="#b3c3dc" stroke-width="0.7"/>
<rect x="532.64" y="632.8" width="6.9" height="17.69" fill="#c9d5e7" stroke="#a9bbd8" stroke-width="0.6"/>
<line x1="532.64" y1="640.38" x2="539.54" y2="640.38" stroke="#a9bbd8" stroke-width="0.8"/>
<g fill="#7a98cb" fill-opacity="0.9"><circle cx="534.55" cy="610.72" r="1.25"/><circle cx="535.13" cy="664.45" r="1.25"/><circle cx="535.99" cy="632.8" r="1.25"/><circle cx="534.95" cy="650.49" r="1.25"/><circle cx="535.73" cy="640.38" r="1.25"/><circle cx="536.32" cy="651.51" r="1.25"/><circle cx="535.05" cy="635.79" r="1.25"/><circle cx="536.16" cy="640.8" r="1.25"/><circle cx="535.34" cy="649.92" r="1.25"/><circle cx="536.31" cy="633.03" r="1.25"/><circle cx="535.56" cy="629.08" r="1.25"/><circle cx="536.55" cy="638.61" r="1.25"/><circle cx="534.61" cy="643.95" r="1.25"/><circle cx="536.64" cy="636.27" r="1.25"/></g>
<path fill="none" stroke="#7a7a7a" stroke-width="0.6" d="M482.31 595.7V593.4H507.15V595.7"/>
<text x="494.73" y="592.2" font-size="8.2" text-anchor="middle">ns</text>
<path fill="none" stroke="#7a7a7a" stroke-width="0.6" d="M482.31 586.5V584.2H531.99V586.5"/>
<text x="507.15" y="582.6" font-size="8.2" text-anchor="middle">**</text>
<path fill="none" stroke="#7a7a7a" stroke-width="0.6" d="M507.15 577.6V575.3H531.99V577.6"/>
<text x="519.57" y="573.7" font-size="8.2" text-anchor="middle">*</text>
<text x="482.31" y="674.73" font-size="8.2" text-anchor="middle">ns</text>
<text x="507.15" y="674.73" font-size="8.2" text-anchor="middle">ns</text>
<text x="531.99" y="674.73" font-size="8.2" text-anchor="middle">ns</text>
<rect x="467.4" y="565.4" width="79.5" height="118.8" fill="none" stroke="#333" stroke-width="0.9"/>
<path fill="none" stroke="#333" stroke-width="0.9" d="M482.31 684.2V687.2M507.15 684.2V687.2M531.99 684.2V687.2"/>
<text x="486.21" y="695.3" font-size="9.6" text-anchor="end" transform="rotate(-60 486.21 695.3)">Young</text>
<text x="511.05" y="695.3" font-size="9.6" text-anchor="end" transform="rotate(-60 511.05 695.3)">Middle-aged</text>
<text x="535.89" y="695.3" font-size="9.6" text-anchor="end" transform="rotate(-60 535.89 695.3)">Older</text>
<text x="467.6" y="560.4" font-size="9.7" font-style="italic">TCF3</text>
<text x="-0.6" y="767.3" font-size="17" font-weight="bold">f</text>
<text x="20.9" y="771" font-size="11">Expression of TFs whose motifs are enriched in cluster C3</text>
<path fill="none" stroke="#f4f4f4" stroke-width="0.6" d="M36.5 900.95H115.5M36.5 874.05H115.5M36.5 847.15H115.5M36.5 820.25H115.5"/>
<path fill="none" stroke="#ebebeb" stroke-width="0.9" d="M36.5 887.5H115.5M36.5 833.7H115.5M36.5 806.8H115.5M51.31 794V913M76 794V913M100.69 794V913"/>
<line x1="36.5" y1="860.6" x2="115.5" y2="860.6" stroke="#b4b4b4" stroke-width="0.75"/>
<line x1="47.21" y1="841.1" x2="47.21" y2="854.55" stroke="#f6b0b6" stroke-width="0.7"/>
<line x1="47.21" y1="868" x2="47.21" y2="888.58" stroke="#f6b0b6" stroke-width="0.7"/>
<rect x="43.76" y="854.55" width="6.9" height="13.45" fill="#f9c3c7" stroke="#f4a3aa" stroke-width="0.6"/>
<line x1="43.76" y1="860.6" x2="50.66" y2="860.6" stroke="#f4a3aa" stroke-width="0.8"/>
<g fill="#f25565" fill-opacity="0.9"><circle cx="48.35" cy="841.1" r="1.25"/><circle cx="46.92" cy="888.58" r="1.25"/><circle cx="47" cy="854.55" r="1.25"/><circle cx="47.42" cy="868" r="1.25"/><circle cx="48.51" cy="860.6" r="1.25"/><circle cx="47.3" cy="855.09" r="1.25"/><circle cx="47.29" cy="861.68" r="1.25"/><circle cx="47" cy="859.61" r="1.25"/><circle cx="48.51" cy="852.59" r="1.25"/><circle cx="46.64" cy="865.51" r="1.25"/><circle cx="45.79" cy="848.78" r="1.25"/></g>
<line x1="55.41" y1="854.95" x2="55.41" y2="856.57" stroke="#b3c3dc" stroke-width="0.7"/>
<line x1="55.41" y1="876.74" x2="55.41" y2="883.73" stroke="#b3c3dc" stroke-width="0.7"/>
<rect x="51.96" y="856.57" width="6.9" height="20.17" fill="#c9d5e7" stroke="#a9bbd8" stroke-width="0.6"/>
<line x1="51.96" y1="864.9" x2="58.86" y2="864.9" stroke="#a9bbd8" stroke-width="0.8"/>
<g fill="#7a98cb" fill-opacity="0.9"><circle cx="54.57" cy="854.95" r="1.25"/><circle cx="54.03" cy="883.73" r="1.25"/><circle cx="56.73" cy="856.57" r="1.25"/><circle cx="56.91" cy="876.74" r="1.25"/><circle cx="55.94" cy="864.9" r="1.25"/><circle cx="56.59" cy="857.83" r="1.25"/><circle cx="55.16" cy="866.54" r="1.25"/><circle cx="56.39" cy="874.96" r="1.25"/><circle cx="54.52" cy="875.33" r="1.25"/><circle cx="56.2" cy="867.72" r="1.25"/><circle cx="55.63" cy="868.74" r="1.25"/><circle cx="56.7" cy="862.72" r="1.25"/><circle cx="54.13" cy="871.92" r="1.25"/><circle cx="56.35" cy="868.76" r="1.25"/></g>
<line x1="71.9" y1="840.83" x2="71.9" y2="858.58" stroke="#f6b0b6" stroke-width="0.7"/>
<line x1="71.9" y1="870.01" x2="71.9" y2="878.76" stroke="#f6b0b6" stroke-width="0.7"/>
<rect x="68.45" y="858.58" width="6.9" height="11.43" fill="#f9c3c7" stroke="#f4a3aa" stroke-width="0.6"/>
<line x1="68.45" y1="863.96" x2="75.35" y2="863.96" stroke="#f4a3aa" stroke-width="0.8"/>
<g fill="#f25565" fill-opacity="0.9"><circle cx="72.17" cy="840.83" r="1.25"/><circle cx="70.45" cy="878.76" r="1.25"/><circle cx="70.4" cy="858.58" r="1.25"/><circle cx="73.18" cy="870.01" r="1.25"/><circle cx="71.29" cy="863.96" r="1.25"/><circle cx="71.89" cy="863.87" r="1.25"/><circle cx="73.29" cy="878.74" r="1.25"/><circle cx="73.43" cy="866.59" r="1.25"/><circle cx="71.81" cy="869.3" r="1.25"/><circle cx="70.96" cy="847.83" r="1.25"/><circle cx="71.25" cy="865.94" r="1.25"/></g>
<line x1="80.1" y1="840.16" x2="80.1" y2="851.19" stroke="#b3c3dc" stroke-width="0.7"/>
<line x1="80.1" y1="870.01" x2="80.1" y2="878.76" stroke="#b3c3dc" stroke-width="0.7"/>
<rect x="76.65" y="851.19" width="6.9" height="18.83" fill="#c9d5e7" stroke="#a9bbd8" stroke-width="0.6"/>
<line x1="76.65" y1="861.27" x2="83.55" y2="861.27" stroke="#a9bbd8" stroke-width="0.8"/>
<g fill="#7a98cb" fill-opacity="0.9"><circle cx="81.28" cy="840.16" r="1.25"/><circle cx="80.78" cy="878.76" r="1.25"/><circle cx="78.93" cy="851.19" r="1.25"/><circle cx="80.73" cy="870.01" r="1.25"/><circle cx="81.5" cy="861.27" r="1.25"/><circle cx="79.92" cy="844.14" r="1.25"/><circle cx="78.75" cy="854.24" r="1.25"/><circle cx="79.21" cy="861.12" r="1.25"/><circle cx="79.48" cy="853.45" r="1.25"/><circle cx="80.77" cy="870.96" r="1.25"/><circle cx="79.13" cy="866.41" r="1.25"/><circle cx="79.08" cy="876.83" r="1.25"/><circle cx="79.25" cy="856.35" r="1.25"/><circle cx="80.63" cy="853.06" r="1.25"/></g>
<line x1="96.59" y1="837.47" x2="96.59" y2="846.48" stroke="#f6b0b6" stroke-width="0.7"/>
<line x1="96.59" y1="863.56" x2="96.59" y2="869.34" stroke="#f6b0b6" stroke-width="0.7"/>
<rect x="93.14" y="846.48" width="6.9" height="17.08" fill="#f9c3c7" stroke="#f4a3aa" stroke-width="0.6"/>
<line x1="93.14" y1="858.18" x2="100.04" y2="858.18" stroke="#f4a3aa" stroke-width="0.8"/>
<g fill="#f25565" fill-opacity="0.9"><circle cx="98.13" cy="837.47" r="1.25"/><circle cx="96.4" cy="869.34" r="1.25"/><circle cx="96.68" cy="846.48" r="1.25"/><circle cx="96.69" cy="863.56" r="1.25"/><circle cx="95.13" cy="858.18" r="1.25"/><circle cx="96.91" cy="857.47" r="1.25"/><circle cx="95.9" cy="841.15" r="1.25"/><circle cx="95.79" cy="859.65" r="1.25"/><circle cx="97.56" cy="847.73" r="1.25"/><circle cx="95.27" cy="860.52" r="1.25"/><circle cx="95.9" cy="862.02" r="1.25"/><circle cx="97.41" cy="888.58" r="1.25"/></g>
<line x1="104.79" y1="838.81" x2="104.79" y2="845.13" stroke="#b3c3dc" stroke-width="0.7"/>
<line x1="104.79" y1="860.6" x2="104.79" y2="873.38" stroke="#b3c3dc" stroke-width="0.7"/>
<rect x="101.34" y="845.13" width="6.9" height="15.47" fill="#c9d5e7" stroke="#a9bbd8" stroke-width="0.6"/>
<line x1="101.34" y1="855.89" x2="108.24" y2="855.89" stroke="#a9bbd8" stroke-width="0.8"/>
<g fill="#7a98cb" fill-opacity="0.9"><circle cx="104.84" cy="838.81" r="1.25"/><circle cx="104.81" cy="873.38" r="1.25"/><circle cx="105.89" cy="845.13" r="1.25"/><circle cx="105.38" cy="860.6" r="1.25"/><circle cx="104.85" cy="855.89" r="1.25"/><circle cx="106.23" cy="856.28" r="1.25"/><circle cx="103.74" cy="857.72" r="1.25"/><circle cx="105.68" cy="839.23" r="1.25"/><circle cx="103.72" cy="853.46" r="1.25"/><circle cx="105.13" cy="860.08" r="1.25"/><circle cx="103.94" cy="856.1" r="1.25"/><circle cx="104.6" cy="852" r="1.25"/><circle cx="105.66" cy="855.04" r="1.25"/><circle cx="105.7" cy="846.31" r="1.25"/><circle cx="105.72" cy="899.87" r="1.25"/></g>
<path fill="none" stroke="#7a7a7a" stroke-width="0.6" d="M51.31 824.3V822H76V824.3"/>
<text x="63.66" y="820.8" font-size="8.2" text-anchor="middle">ns</text>
<path fill="none" stroke="#7a7a7a" stroke-width="0.6" d="M51.31 815.1V812.8H100.69V815.1"/>
<text x="76" y="811.6" font-size="8.2" text-anchor="middle">ns</text>
<path fill="none" stroke="#7a7a7a" stroke-width="0.6" d="M76 806.2V803.9H100.69V806.2"/>
<text x="88.34" y="802.3" font-size="8.2" text-anchor="middle">*</text>
<text x="51.31" y="903.8" font-size="8.2" text-anchor="middle">ns</text>
<text x="76" y="903.8" font-size="8.2" text-anchor="middle">ns</text>
<text x="100.69" y="903.8" font-size="8.2" text-anchor="middle">ns</text>
<rect x="36.5" y="794" width="79" height="119" fill="none" stroke="#333" stroke-width="0.9"/>
<path fill="none" stroke="#333" stroke-width="0.9" d="M51.31 913V916M76 913V916M100.69 913V916"/>
<text x="55.21" y="924.1" font-size="9.6" text-anchor="end" transform="rotate(-60 55.21 924.1)">Young</text>
<text x="79.9" y="924.1" font-size="9.6" text-anchor="end" transform="rotate(-60 79.9 924.1)">Middle-aged</text>
<text x="104.59" y="924.1" font-size="9.6" text-anchor="end" transform="rotate(-60 104.59 924.1)">Older</text>
<text x="36.7" y="789.5" font-size="9.7" font-style="italic">CREB5</text>
<text x="29.9" y="810.2" font-size="9.8" text-anchor="end" fill="#222">4</text>
<text x="29.9" y="837.1" font-size="9.8" text-anchor="end" fill="#222">2</text>
<text x="29.9" y="864" font-size="9.8" text-anchor="end" fill="#222">0</text>
<text x="29.9" y="890.9" font-size="9.8" text-anchor="end" fill="#222">−2</text>
<path fill="none" stroke="#333" stroke-width="0.9" d="M33.5 806.8H36.5M33.5 833.7H36.5M33.5 860.6H36.5M33.5 887.5H36.5"/>
<text x="0" y="0" font-size="9.7" text-anchor="middle" transform="translate(9.3 854.8) rotate(-90) scale(1 1.12)">Normalized expression</text>
<path fill="none" stroke="#f4f4f4" stroke-width="0.6" d="M121.7 900.95H201.4M121.7 874.05H201.4M121.7 847.15H201.4M121.7 820.25H201.4"/>
<path fill="none" stroke="#ebebeb" stroke-width="0.9" d="M121.7 887.5H201.4M121.7 833.7H201.4M121.7 806.8H201.4M136.64 794V913M161.55 794V913M186.46 794V913"/>
<line x1="121.7" y1="860.6" x2="201.4" y2="860.6" stroke="#b4b4b4" stroke-width="0.75"/>
<line x1="132.54" y1="849.84" x2="132.54" y2="855.22" stroke="#f6b0b6" stroke-width="0.7"/>
<line x1="132.54" y1="879.16" x2="132.54" y2="902.3" stroke="#f6b0b6" stroke-width="0.7"/>
<rect x="129.09" y="855.22" width="6.9" height="23.94" fill="#f9c3c7" stroke="#f4a3aa" stroke-width="0.6"/>
<line x1="129.09" y1="866.65" x2="135.99" y2="866.65" stroke="#f4a3aa" stroke-width="0.8"/>
<g fill="#f25565" fill-opacity="0.9"><circle cx="131" cy="849.84" r="1.25"/><circle cx="132.53" cy="902.3" r="1.25"/><circle cx="132.33" cy="855.22" r="1.25"/><circle cx="132.36" cy="879.16" r="1.25"/><circle cx="131.79" cy="866.65" r="1.25"/><circle cx="133.5" cy="867.45" r="1.25"/><circle cx="131.18" cy="865.27" r="1.25"/><circle cx="133.85" cy="878.32" r="1.25"/><circle cx="132.76" cy="862.05" r="1.25"/><circle cx="132.68" cy="858.26" r="1.25"/><circle cx="133.48" cy="875.53" r="1.25"/></g>
<line x1="140.74" y1="841.37" x2="140.74" y2="854.28" stroke="#b3c3dc" stroke-width="0.7"/>
<line x1="140.74" y1="864.9" x2="140.74" y2="879.43" stroke="#b3c3dc" stroke-width="0.7"/>
<rect x="137.29" y="854.28" width="6.9" height="10.63" fill="#c9d5e7" stroke="#a9bbd8" stroke-width="0.6"/>
<line x1="137.29" y1="860.6" x2="144.19" y2="860.6" stroke="#a9bbd8" stroke-width="0.8"/>
<g fill="#7a98cb" fill-opacity="0.9"><circle cx="140.46" cy="841.37" r="1.25"/><circle cx="140.31" cy="879.43" r="1.25"/><circle cx="139.84" cy="854.28" r="1.25"/><circle cx="142.25" cy="864.9" r="1.25"/><circle cx="139.28" cy="860.6" r="1.25"/><circle cx="140.71" cy="863.35" r="1.25"/><circle cx="141.58" cy="864.45" r="1.25"/><circle cx="142.3" cy="858.3" r="1.25"/><circle cx="139.61" cy="862.09" r="1.25"/><circle cx="140.6" cy="863.96" r="1.25"/><circle cx="141.53" cy="872.9" r="1.25"/><circle cx="139.27" cy="863.21" r="1.25"/><circle cx="139.91" cy="847.8" r="1.25"/><circle cx="141.99" cy="877.1" r="1.25"/></g>
<line x1="157.45" y1="846.75" x2="157.45" y2="853.47" stroke="#f6b0b6" stroke-width="0.7"/>
<line x1="157.45" y1="869.75" x2="157.45" y2="876.47" stroke="#f6b0b6" stroke-width="0.7"/>
<rect x="154" y="853.47" width="6.9" height="16.27" fill="#f9c3c7" stroke="#f4a3aa" stroke-width="0.6"/>
<line x1="154" y1="861.68" x2="160.9" y2="861.68" stroke="#f4a3aa" stroke-width="0.8"/>
<g fill="#f25565" fill-opacity="0.9"><circle cx="156.62" cy="846.75" r="1.25"/><circle cx="157.33" cy="876.47" r="1.25"/><circle cx="158.83" cy="853.47" r="1.25"/><circle cx="157.01" cy="869.75" r="1.25"/><circle cx="156.93" cy="861.68" r="1.25"/><circle cx="158.99" cy="863.35" r="1.25"/><circle cx="157.8" cy="862.84" r="1.25"/><circle cx="155.98" cy="869.19" r="1.25"/><circle cx="157.14" cy="853.78" r="1.25"/><circle cx="157.93" cy="869.64" r="1.25"/><circle cx="156.04" cy="860.76" r="1.25"/></g>
<line x1="165.65" y1="833.03" x2="165.65" y2="858.31" stroke="#b3c3dc" stroke-width="0.7"/>
<line x1="165.65" y1="874.72" x2="165.65" y2="882.39" stroke="#b3c3dc" stroke-width="0.7"/>
<rect x="162.2" y="858.31" width="6.9" height="16.41" fill="#c9d5e7" stroke="#a9bbd8" stroke-width="0.6"/>
<line x1="162.2" y1="866.65" x2="169.1" y2="866.65" stroke="#a9bbd8" stroke-width="0.8"/>
<g fill="#7a98cb" fill-opacity="0.9"><circle cx="165.04" cy="833.03" r="1.25"/><circle cx="165.48" cy="882.39" r="1.25"/><circle cx="167.23" cy="858.31" r="1.25"/><circle cx="166.22" cy="874.72" r="1.25"/><circle cx="166.81" cy="866.65" r="1.25"/><circle cx="164.7" cy="863.32" r="1.25"/><circle cx="165.28" cy="853.23" r="1.25"/><circle cx="164.28" cy="859.55" r="1.25"/><circle cx="166.26" cy="860.89" r="1.25"/><circle cx="165.21" cy="861.9" r="1.25"/><circle cx="164.93" cy="869.02" r="1.25"/><circle cx="164.11" cy="865.7" r="1.25"/><circle cx="164.63" cy="871.38" r="1.25"/><circle cx="164.89" cy="867.05" r="1.25"/></g>
<line x1="182.36" y1="846.07" x2="182.36" y2="849.44" stroke="#f6b0b6" stroke-width="0.7"/>
<line x1="182.36" y1="863.29" x2="182.36" y2="873.65" stroke="#f6b0b6" stroke-width="0.7"/>
<rect x="178.91" y="849.44" width="6.9" height="13.85" fill="#f9c3c7" stroke="#f4a3aa" stroke-width="0.6"/>
<line x1="178.91" y1="853.2" x2="185.81" y2="853.2" stroke="#f4a3aa" stroke-width="0.8"/>
<g fill="#f25565" fill-opacity="0.9"><circle cx="181.79" cy="846.07" r="1.25"/><circle cx="181.99" cy="873.65" r="1.25"/><circle cx="181.02" cy="849.44" r="1.25"/><circle cx="183.58" cy="863.29" r="1.25"/><circle cx="181.8" cy="853.2" r="1.25"/><circle cx="183.22" cy="850.5" r="1.25"/><circle cx="182.42" cy="866.24" r="1.25"/><circle cx="180.93" cy="861.16" r="1.25"/><circle cx="182.02" cy="863.73" r="1.25"/><circle cx="181.52" cy="853.7" r="1.25"/><circle cx="180.89" cy="873.08" r="1.25"/></g>
<line x1="190.56" y1="839.48" x2="190.56" y2="845.81" stroke="#b3c3dc" stroke-width="0.7"/>
<line x1="190.56" y1="860.2" x2="190.56" y2="874.05" stroke="#b3c3dc" stroke-width="0.7"/>
<rect x="187.11" y="845.81" width="6.9" height="14.39" fill="#c9d5e7" stroke="#a9bbd8" stroke-width="0.6"/>
<line x1="187.11" y1="849.84" x2="194.01" y2="849.84" stroke="#a9bbd8" stroke-width="0.8"/>
<g fill="#7a98cb" fill-opacity="0.9"><circle cx="189.68" cy="839.48" r="1.25"/><circle cx="189.89" cy="874.05" r="1.25"/><circle cx="190.06" cy="845.81" r="1.25"/><circle cx="189.65" cy="860.2" r="1.25"/><circle cx="189.09" cy="849.84" r="1.25"/><circle cx="189.03" cy="851.63" r="1.25"/><circle cx="190.97" cy="855.7" r="1.25"/><circle cx="190.77" cy="852.37" r="1.25"/><circle cx="191.54" cy="850.03" r="1.25"/><circle cx="192.08" cy="849.76" r="1.25"/><circle cx="189.91" cy="868.96" r="1.25"/><circle cx="191.1" cy="856.16" r="1.25"/><circle cx="191.9" cy="860.04" r="1.25"/><circle cx="189.65" cy="847.73" r="1.25"/></g>
<path fill="none" stroke="#7a7a7a" stroke-width="0.6" d="M136.64 824.3V822H161.55V824.3"/>
<text x="149.1" y="820.8" font-size="8.2" text-anchor="middle">ns</text>
<path fill="none" stroke="#7a7a7a" stroke-width="0.6" d="M136.64 815.1V812.8H186.46V815.1"/>
<text x="161.55" y="811.2" font-size="8.2" text-anchor="middle">**</text>
<path fill="none" stroke="#7a7a7a" stroke-width="0.6" d="M161.55 806.2V803.9H186.46V806.2"/>
<text x="174" y="802.3" font-size="8.2" text-anchor="middle">**</text>
<text x="136.64" y="903.8" font-size="8.2" text-anchor="middle">ns</text>
<text x="161.55" y="903.8" font-size="8.2" text-anchor="middle">ns</text>
<text x="186.46" y="903.8" font-size="8.2" text-anchor="middle">ns</text>
<rect x="121.7" y="794" width="79.7" height="119" fill="none" stroke="#333" stroke-width="0.9"/>
<path fill="none" stroke="#333" stroke-width="0.9" d="M136.64 913V916M161.55 913V916M186.46 913V916"/>
<text x="140.54" y="924.1" font-size="9.6" text-anchor="end" transform="rotate(-60 140.54 924.1)">Young</text>
<text x="165.45" y="924.1" font-size="9.6" text-anchor="end" transform="rotate(-60 165.45 924.1)">Middle-aged</text>
<text x="190.36" y="924.1" font-size="9.6" text-anchor="end" transform="rotate(-60 190.36 924.1)">Older</text>
<text x="121.9" y="789.5" font-size="9.7" font-style="italic">NFE2</text>
<path fill="none" stroke="#f4f4f4" stroke-width="0.6" d="M207.4 900.95H286.5M207.4 874.05H286.5M207.4 847.15H286.5M207.4 820.25H286.5"/>
<path fill="none" stroke="#ebebeb" stroke-width="0.9" d="M207.4 887.5H286.5M207.4 833.7H286.5M207.4 806.8H286.5M222.23 794V913M246.95 794V913M271.67 794V913"/>
<line x1="207.4" y1="860.6" x2="286.5" y2="860.6" stroke="#b4b4b4" stroke-width="0.75"/>
<line x1="218.13" y1="853.2" x2="218.13" y2="856.57" stroke="#f6b0b6" stroke-width="0.7"/>
<line x1="218.13" y1="872.03" x2="218.13" y2="886.83" stroke="#f6b0b6" stroke-width="0.7"/>
<rect x="214.68" y="856.57" width="6.9" height="15.47" fill="#f9c3c7" stroke="#f4a3aa" stroke-width="0.6"/>
<line x1="214.68" y1="858.18" x2="221.58" y2="858.18" stroke="#f4a3aa" stroke-width="0.8"/>
<g fill="#f25565" fill-opacity="0.9"><circle cx="218.12" cy="853.2" r="1.25"/><circle cx="217.43" cy="886.83" r="1.25"/><circle cx="217.04" cy="856.57" r="1.25"/><circle cx="217.82" cy="872.03" r="1.25"/><circle cx="218.05" cy="858.18" r="1.25"/><circle cx="217.06" cy="864.41" r="1.25"/><circle cx="218.66" cy="857.63" r="1.25"/><circle cx="217.3" cy="862.25" r="1.25"/><circle cx="216.83" cy="865.42" r="1.25"/><circle cx="217.63" cy="871.1" r="1.25"/><circle cx="217.88" cy="866.96" r="1.25"/><circle cx="217.01" cy="832.36" r="1.25"/></g>
<line x1="226.33" y1="854.55" x2="226.33" y2="860.6" stroke="#b3c3dc" stroke-width="0.7"/>
<line x1="226.33" y1="869.75" x2="226.33" y2="872.03" stroke="#b3c3dc" stroke-width="0.7"/>
<rect x="222.88" y="860.6" width="6.9" height="9.15" fill="#c9d5e7" stroke="#a9bbd8" stroke-width="0.6"/>
<line x1="222.88" y1="861.27" x2="229.78" y2="861.27" stroke="#a9bbd8" stroke-width="0.8"/>
<g fill="#7a98cb" fill-opacity="0.9"><circle cx="226.54" cy="854.55" r="1.25"/><circle cx="225.57" cy="872.03" r="1.25"/><circle cx="226.87" cy="860.6" r="1.25"/><circle cx="225.33" cy="869.75" r="1.25"/><circle cx="226.23" cy="861.27" r="1.25"/><circle cx="226.7" cy="863.33" r="1.25"/><circle cx="227.79" cy="863.34" r="1.25"/><circle cx="225.89" cy="866.17" r="1.25"/><circle cx="226.57" cy="869.17" r="1.25"/><circle cx="227.75" cy="869.25" r="1.25"/><circle cx="227.2" cy="864.39" r="1.25"/><circle cx="226.74" cy="866.77" r="1.25"/><circle cx="226.72" cy="869.53" r="1.25"/><circle cx="226.05" cy="861.59" r="1.25"/><circle cx="226.06" cy="885.08" r="1.25"/></g>
<line x1="242.85" y1="858.85" x2="242.85" y2="862.62" stroke="#f6b0b6" stroke-width="0.7"/>
<line x1="242.85" y1="868.94" x2="242.85" y2="871.36" stroke="#f6b0b6" stroke-width="0.7"/>
<rect x="239.4" y="862.62" width="6.9" height="6.32" fill="#f9c3c7" stroke="#f4a3aa" stroke-width="0.6"/>
<line x1="239.4" y1="864.63" x2="246.3" y2="864.63" stroke="#f4a3aa" stroke-width="0.8"/>
<g fill="#f25565" fill-opacity="0.9"><circle cx="241.87" cy="858.85" r="1.25"/><circle cx="241.98" cy="871.36" r="1.25"/><circle cx="243.43" cy="862.62" r="1.25"/><circle cx="242" cy="868.94" r="1.25"/><circle cx="241.25" cy="864.63" r="1.25"/><circle cx="242.99" cy="863.69" r="1.25"/><circle cx="242.51" cy="866.58" r="1.25"/><circle cx="242.02" cy="870.88" r="1.25"/><circle cx="242.83" cy="865.73" r="1.25"/><circle cx="243.33" cy="866.66" r="1.25"/><circle cx="243" cy="869.49" r="1.25"/><circle cx="243.25" cy="849.57" r="1.25"/><circle cx="243.04" cy="891.8" r="1.25"/></g>
<line x1="251.05" y1="838.41" x2="251.05" y2="853.47" stroke="#b3c3dc" stroke-width="0.7"/>
<line x1="251.05" y1="868.27" x2="251.05" y2="883.47" stroke="#b3c3dc" stroke-width="0.7"/>
<rect x="247.6" y="853.47" width="6.9" height="14.8" fill="#c9d5e7" stroke="#a9bbd8" stroke-width="0.6"/>
<line x1="247.6" y1="860.6" x2="254.5" y2="860.6" stroke="#a9bbd8" stroke-width="0.8"/>
<g fill="#7a98cb" fill-opacity="0.9"><circle cx="251.16" cy="838.41" r="1.25"/><circle cx="250.21" cy="883.47" r="1.25"/><circle cx="250.25" cy="853.47" r="1.25"/><circle cx="250.49" cy="868.27" r="1.25"/><circle cx="250.02" cy="860.6" r="1.25"/><circle cx="251.09" cy="839.81" r="1.25"/><circle cx="249.85" cy="863.14" r="1.25"/><circle cx="249.65" cy="869.35" r="1.25"/><circle cx="249.67" cy="852.13" r="1.25"/><circle cx="249.78" cy="840.03" r="1.25"/><circle cx="251.71" cy="876.28" r="1.25"/><circle cx="249.81" cy="861.01" r="1.25"/><circle cx="250.9" cy="862.8" r="1.25"/><circle cx="251.92" cy="857.19" r="1.25"/></g>
<line x1="267.57" y1="838.81" x2="267.57" y2="850.92" stroke="#f6b0b6" stroke-width="0.7"/>
<line x1="267.57" y1="861" x2="267.57" y2="873.38" stroke="#f6b0b6" stroke-width="0.7"/>
<rect x="264.12" y="850.92" width="6.9" height="10.09" fill="#f9c3c7" stroke="#f4a3aa" stroke-width="0.6"/>
<line x1="264.12" y1="855.89" x2="271.02" y2="855.89" stroke="#f4a3aa" stroke-width="0.8"/>
<g fill="#f25565" fill-opacity="0.9"><circle cx="267.01" cy="838.81" r="1.25"/><circle cx="267.04" cy="873.38" r="1.25"/><circle cx="268.4" cy="850.92" r="1.25"/><circle cx="268.67" cy="861" r="1.25"/><circle cx="268.62" cy="855.89" r="1.25"/><circle cx="267.78" cy="859.36" r="1.25"/><circle cx="267.31" cy="843.31" r="1.25"/><circle cx="268.23" cy="858.44" r="1.25"/><circle cx="267.96" cy="852.97" r="1.25"/><circle cx="268.63" cy="853.78" r="1.25"/><circle cx="268.53" cy="853.78" r="1.25"/><circle cx="266.37" cy="887.5" r="1.25"/><circle cx="267.17" cy="890.19" r="1.25"/></g>
<line x1="275.77" y1="829.67" x2="275.77" y2="841.37" stroke="#b3c3dc" stroke-width="0.7"/>
<line x1="275.77" y1="862.62" x2="275.77" y2="883.47" stroke="#b3c3dc" stroke-width="0.7"/>
<rect x="272.32" y="841.37" width="6.9" height="21.25" fill="#c9d5e7" stroke="#a9bbd8" stroke-width="0.6"/>
<line x1="272.32" y1="855.49" x2="279.22" y2="855.49" stroke="#a9bbd8" stroke-width="0.8"/>
<g fill="#7a98cb" fill-opacity="0.9"><circle cx="275.08" cy="829.67" r="1.25"/><circle cx="276.51" cy="883.47" r="1.25"/><circle cx="277.35" cy="841.37" r="1.25"/><circle cx="274.55" cy="862.62" r="1.25"/><circle cx="275.22" cy="855.49" r="1.25"/><circle cx="274.25" cy="871.03" r="1.25"/><circle cx="275.9" cy="862.33" r="1.25"/><circle cx="275.71" cy="842.62" r="1.25"/><circle cx="275.36" cy="876.27" r="1.25"/><circle cx="275.16" cy="860.91" r="1.25"/><circle cx="276.73" cy="854.19" r="1.25"/><circle cx="276.85" cy="830.27" r="1.25"/><circle cx="275.08" cy="847.46" r="1.25"/><circle cx="275.42" cy="861.72" r="1.25"/></g>
<path fill="none" stroke="#7a7a7a" stroke-width="0.6" d="M222.23 824.3V822H246.95V824.3"/>
<text x="234.59" y="820.8" font-size="8.2" text-anchor="middle">ns</text>
<path fill="none" stroke="#7a7a7a" stroke-width="0.6" d="M222.23 815.1V812.8H271.67V815.1"/>
<text x="246.95" y="811.6" font-size="8.2" text-anchor="middle">ns</text>
<path fill="none" stroke="#7a7a7a" stroke-width="0.6" d="M246.95 806.2V803.9H271.67V806.2"/>
<text x="259.31" y="802.3" font-size="8.2" text-anchor="middle">*</text>
<text x="222.23" y="903.8" font-size="8.2" text-anchor="middle">ns</text>
<text x="246.95" y="903.8" font-size="8.2" text-anchor="middle">ns</text>
<text x="271.67" y="903.8" font-size="8.2" text-anchor="middle">ns</text>
<rect x="207.4" y="794" width="79.1" height="119" fill="none" stroke="#333" stroke-width="0.9"/>
<path fill="none" stroke="#333" stroke-width="0.9" d="M222.23 913V916M246.95 913V916M271.67 913V916"/>
<text x="226.13" y="924.1" font-size="9.6" text-anchor="end" transform="rotate(-60 226.13 924.1)">Young</text>
<text x="250.85" y="924.1" font-size="9.6" text-anchor="end" transform="rotate(-60 250.85 924.1)">Middle-aged</text>
<text x="275.57" y="924.1" font-size="9.6" text-anchor="end" transform="rotate(-60 275.57 924.1)">Older</text>
<text x="207.6" y="789.5" font-size="9.7" font-style="italic">BATF3</text>
<path fill="none" stroke="#f4f4f4" stroke-width="0.6" d="M292.5 900.95H372M292.5 874.05H372M292.5 847.15H372M292.5 820.25H372"/>
<path fill="none" stroke="#ebebeb" stroke-width="0.9" d="M292.5 887.5H372M292.5 833.7H372M292.5 806.8H372M307.41 794V913M332.25 794V913M357.09 794V913"/>
<line x1="292.5" y1="860.6" x2="372" y2="860.6" stroke="#b4b4b4" stroke-width="0.75"/>
<line x1="303.31" y1="851.19" x2="303.31" y2="857.64" stroke="#f6b0b6" stroke-width="0.7"/>
<line x1="303.31" y1="881.45" x2="303.31" y2="899.34" stroke="#f6b0b6" stroke-width="0.7"/>
<rect x="299.86" y="857.64" width="6.9" height="23.81" fill="#f9c3c7" stroke="#f4a3aa" stroke-width="0.6"/>
<line x1="299.86" y1="864.63" x2="306.76" y2="864.63" stroke="#f4a3aa" stroke-width="0.8"/>
<g fill="#f25565" fill-opacity="0.9"><circle cx="303.27" cy="851.19" r="1.25"/><circle cx="302.09" cy="899.34" r="1.25"/><circle cx="302.74" cy="857.64" r="1.25"/><circle cx="301.77" cy="881.45" r="1.25"/><circle cx="303.52" cy="864.63" r="1.25"/><circle cx="302.17" cy="863.23" r="1.25"/><circle cx="303.71" cy="880.59" r="1.25"/><circle cx="302.58" cy="873.05" r="1.25"/><circle cx="302.43" cy="892.26" r="1.25"/><circle cx="303.25" cy="878.9" r="1.25"/><circle cx="302.88" cy="887.23" r="1.25"/></g>
<line x1="311.51" y1="849.57" x2="311.51" y2="854.28" stroke="#b3c3dc" stroke-width="0.7"/>
<line x1="311.51" y1="873.78" x2="311.51" y2="876.07" stroke="#b3c3dc" stroke-width="0.7"/>
<rect x="308.06" y="854.28" width="6.9" height="19.5" fill="#c9d5e7" stroke="#a9bbd8" stroke-width="0.6"/>
<line x1="308.06" y1="856.57" x2="314.96" y2="856.57" stroke="#a9bbd8" stroke-width="0.8"/>
<g fill="#7a98cb" fill-opacity="0.9"><circle cx="311.9" cy="849.57" r="1.25"/><circle cx="310.79" cy="876.07" r="1.25"/><circle cx="312.91" cy="854.28" r="1.25"/><circle cx="312.67" cy="873.78" r="1.25"/><circle cx="313.09" cy="856.57" r="1.25"/><circle cx="311.32" cy="872.78" r="1.25"/><circle cx="312.57" cy="856.37" r="1.25"/><circle cx="312.23" cy="872.25" r="1.25"/><circle cx="310.47" cy="864.35" r="1.25"/><circle cx="309.99" cy="870.71" r="1.25"/><circle cx="310.45" cy="863.24" r="1.25"/><circle cx="310.29" cy="858.04" r="1.25"/><circle cx="310.15" cy="872.66" r="1.25"/><circle cx="311.05" cy="860.97" r="1.25"/></g>
<line x1="328.15" y1="842.44" x2="328.15" y2="856.57" stroke="#f6b0b6" stroke-width="0.7"/>
<line x1="328.15" y1="874.05" x2="328.15" y2="883.47" stroke="#f6b0b6" stroke-width="0.7"/>
<rect x="324.7" y="856.57" width="6.9" height="17.49" fill="#f9c3c7" stroke="#f4a3aa" stroke-width="0.6"/>
<line x1="324.7" y1="869.34" x2="331.6" y2="869.34" stroke="#f4a3aa" stroke-width="0.8"/>
<g fill="#f25565" fill-opacity="0.9"><circle cx="329.12" cy="842.44" r="1.25"/><circle cx="329.2" cy="883.47" r="1.25"/><circle cx="329.01" cy="856.57" r="1.25"/><circle cx="329.71" cy="874.05" r="1.25"/><circle cx="326.87" cy="869.34" r="1.25"/><circle cx="329.59" cy="870.75" r="1.25"/><circle cx="327.84" cy="873.87" r="1.25"/><circle cx="328.81" cy="857.28" r="1.25"/><circle cx="327.35" cy="864.83" r="1.25"/><circle cx="329.46" cy="850.96" r="1.25"/><circle cx="326.63" cy="867.09" r="1.25"/></g>
<line x1="336.35" y1="836.79" x2="336.35" y2="850.24" stroke="#b3c3dc" stroke-width="0.7"/>
<line x1="336.35" y1="868.94" x2="336.35" y2="875.39" stroke="#b3c3dc" stroke-width="0.7"/>
<rect x="332.9" y="850.24" width="6.9" height="18.7" fill="#c9d5e7" stroke="#a9bbd8" stroke-width="0.6"/>
<line x1="332.9" y1="860.6" x2="339.8" y2="860.6" stroke="#a9bbd8" stroke-width="0.8"/>
<g fill="#7a98cb" fill-opacity="0.9"><circle cx="336.93" cy="836.79" r="1.25"/><circle cx="335.32" cy="875.39" r="1.25"/><circle cx="335.09" cy="850.24" r="1.25"/><circle cx="335.21" cy="868.94" r="1.25"/><circle cx="335.87" cy="860.6" r="1.25"/><circle cx="336.13" cy="864.69" r="1.25"/><circle cx="334.78" cy="862.03" r="1.25"/><circle cx="336.36" cy="844.1" r="1.25"/><circle cx="336.04" cy="857.01" r="1.25"/><circle cx="335.78" cy="863.72" r="1.25"/><circle cx="336.47" cy="862.98" r="1.25"/><circle cx="337.8" cy="862.68" r="1.25"/><circle cx="335.4" cy="867.24" r="1.25"/><circle cx="337.57" cy="854.31" r="1.25"/></g>
<line x1="352.99" y1="830.34" x2="352.99" y2="847.15" stroke="#f6b0b6" stroke-width="0.7"/>
<line x1="352.99" y1="865.98" x2="352.99" y2="876.07" stroke="#f6b0b6" stroke-width="0.7"/>
<rect x="349.54" y="847.15" width="6.9" height="18.83" fill="#f9c3c7" stroke="#f4a3aa" stroke-width="0.6"/>
<line x1="349.54" y1="857.91" x2="356.44" y2="857.91" stroke="#f4a3aa" stroke-width="0.8"/>
<g fill="#f25565" fill-opacity="0.9"><circle cx="354.43" cy="830.34" r="1.25"/><circle cx="352.42" cy="876.07" r="1.25"/><circle cx="351.98" cy="847.15" r="1.25"/><circle cx="352.54" cy="865.98" r="1.25"/><circle cx="354.56" cy="857.91" r="1.25"/><circle cx="351.87" cy="851.78" r="1.25"/><circle cx="353.42" cy="847.39" r="1.25"/><circle cx="352.6" cy="847.85" r="1.25"/><circle cx="353.45" cy="858.29" r="1.25"/><circle cx="352.07" cy="867.94" r="1.25"/><circle cx="353.37" cy="853.23" r="1.25"/></g>
<line x1="361.19" y1="827.38" x2="361.19" y2="847.15" stroke="#b3c3dc" stroke-width="0.7"/>
<line x1="361.19" y1="862.62" x2="361.19" y2="870.69" stroke="#b3c3dc" stroke-width="0.7"/>
<rect x="357.74" y="847.15" width="6.9" height="15.47" fill="#c9d5e7" stroke="#a9bbd8" stroke-width="0.6"/>
<line x1="357.74" y1="857.91" x2="364.64" y2="857.91" stroke="#a9bbd8" stroke-width="0.8"/>
<g fill="#7a98cb" fill-opacity="0.9"><circle cx="361.02" cy="827.38" r="1.25"/><circle cx="361.49" cy="870.69" r="1.25"/><circle cx="361.5" cy="847.15" r="1.25"/><circle cx="362.57" cy="862.62" r="1.25"/><circle cx="360.08" cy="857.91" r="1.25"/><circle cx="361.09" cy="833.6" r="1.25"/><circle cx="362.77" cy="854.81" r="1.25"/><circle cx="361.96" cy="860.85" r="1.25"/><circle cx="360.6" cy="840.81" r="1.25"/><circle cx="361.95" cy="852.32" r="1.25"/><circle cx="362.76" cy="856.67" r="1.25"/><circle cx="360.88" cy="853.33" r="1.25"/><circle cx="362.37" cy="854.65" r="1.25"/><circle cx="360" cy="852.91" r="1.25"/></g>
<path fill="none" stroke="#7a7a7a" stroke-width="0.6" d="M307.41 824.3V822H332.25V824.3"/>
<text x="319.83" y="820.8" font-size="8.2" text-anchor="middle">ns</text>
<path fill="none" stroke="#7a7a7a" stroke-width="0.6" d="M307.41 815.1V812.8H357.09V815.1"/>
<text x="332.25" y="811.2" font-size="8.2" text-anchor="middle">**</text>
<path fill="none" stroke="#7a7a7a" stroke-width="0.6" d="M332.25 806.2V803.9H357.09V806.2"/>
<text x="344.67" y="802.3" font-size="8.2" text-anchor="middle">*</text>
<text x="307.41" y="903.8" font-size="8.2" text-anchor="middle">ns</text>
<text x="332.25" y="907" font-size="8.2" text-anchor="middle">*</text>
<text x="357.09" y="903.8" font-size="8.2" text-anchor="middle">ns</text>
<rect x="292.5" y="794" width="79.5" height="119" fill="none" stroke="#333" stroke-width="0.9"/>
<path fill="none" stroke="#333" stroke-width="0.9" d="M307.41 913V916M332.25 913V916M357.09 913V916"/>
<text x="311.31" y="924.1" font-size="9.6" text-anchor="end" transform="rotate(-60 311.31 924.1)">Young</text>
<text x="336.15" y="924.1" font-size="9.6" text-anchor="end" transform="rotate(-60 336.15 924.1)">Middle-aged</text>
<text x="360.99" y="924.1" font-size="9.6" text-anchor="end" transform="rotate(-60 360.99 924.1)">Older</text>
<text x="292.7" y="789.5" font-size="9.7" font-style="italic">FOSL2</text>
<path fill="none" stroke="#f4f4f4" stroke-width="0.6" d="M380.8 900.95H460.4M380.8 874.05H460.4M380.8 847.15H460.4M380.8 820.25H460.4"/>
<path fill="none" stroke="#ebebeb" stroke-width="0.9" d="M380.8 887.5H460.4M380.8 833.7H460.4M380.8 806.8H460.4M395.73 794V913M420.6 794V913M445.47 794V913"/>
<line x1="380.8" y1="860.6" x2="460.4" y2="860.6" stroke="#b4b4b4" stroke-width="0.75"/>
<line x1="391.62" y1="855.49" x2="391.62" y2="858.18" stroke="#f6b0b6" stroke-width="0.7"/>
<line x1="391.62" y1="872.3" x2="391.62" y2="872.71" stroke="#f6b0b6" stroke-width="0.7"/>
<rect x="388.18" y="858.18" width="6.9" height="14.12" fill="#f9c3c7" stroke="#f4a3aa" stroke-width="0.6"/>
<line x1="388.18" y1="868.4" x2="395.07" y2="868.4" stroke="#f4a3aa" stroke-width="0.8"/>
<g fill="#f25565" fill-opacity="0.9"><circle cx="392.3" cy="855.49" r="1.25"/><circle cx="390.83" cy="872.71" r="1.25"/><circle cx="392.61" cy="858.18" r="1.25"/><circle cx="391.48" cy="872.3" r="1.25"/><circle cx="391.74" cy="868.4" r="1.25"/><circle cx="392.79" cy="864.25" r="1.25"/><circle cx="390.65" cy="860.44" r="1.25"/><circle cx="390.92" cy="859.06" r="1.25"/><circle cx="392.08" cy="858.97" r="1.25"/><circle cx="390.26" cy="858.27" r="1.25"/><circle cx="391.8" cy="860.01" r="1.25"/><circle cx="392.54" cy="892.21" r="1.25"/><circle cx="391.6" cy="894.23" r="1.25"/></g>
<line x1="399.83" y1="846.21" x2="399.83" y2="849.44" stroke="#b3c3dc" stroke-width="0.7"/>
<line x1="399.83" y1="867.59" x2="399.83" y2="873.38" stroke="#b3c3dc" stroke-width="0.7"/>
<rect x="396.38" y="849.44" width="6.9" height="18.16" fill="#c9d5e7" stroke="#a9bbd8" stroke-width="0.6"/>
<line x1="396.38" y1="861.27" x2="403.28" y2="861.27" stroke="#a9bbd8" stroke-width="0.8"/>
<g fill="#7a98cb" fill-opacity="0.9"><circle cx="400.2" cy="846.21" r="1.25"/><circle cx="401.11" cy="873.38" r="1.25"/><circle cx="398.46" cy="849.44" r="1.25"/><circle cx="401.39" cy="867.59" r="1.25"/><circle cx="398.89" cy="861.27" r="1.25"/><circle cx="400.24" cy="853.07" r="1.25"/><circle cx="401.03" cy="852.44" r="1.25"/><circle cx="400.55" cy="851.15" r="1.25"/><circle cx="398.86" cy="869.25" r="1.25"/><circle cx="400.36" cy="865.77" r="1.25"/><circle cx="399.6" cy="861.32" r="1.25"/><circle cx="398.27" cy="850.72" r="1.25"/><circle cx="399.31" cy="864.29" r="1.25"/><circle cx="399.23" cy="852.17" r="1.25"/></g>
<line x1="416.5" y1="861.27" x2="416.5" y2="861.27" stroke="#f6b0b6" stroke-width="0.7"/>
<line x1="416.5" y1="868" x2="416.5" y2="872.03" stroke="#f6b0b6" stroke-width="0.7"/>
<rect x="413.05" y="861.27" width="6.9" height="6.73" fill="#f9c3c7" stroke="#f4a3aa" stroke-width="0.6"/>
<line x1="413.05" y1="864.37" x2="419.95" y2="864.37" stroke="#f4a3aa" stroke-width="0.8"/>
<g fill="#f25565" fill-opacity="0.9"><circle cx="416.04" cy="861.27" r="1.25"/><circle cx="415.53" cy="872.03" r="1.25"/><circle cx="418.08" cy="861.27" r="1.25"/><circle cx="417.11" cy="868" r="1.25"/><circle cx="417.26" cy="864.37" r="1.25"/><circle cx="416.05" cy="866.12" r="1.25"/><circle cx="415.89" cy="863.32" r="1.25"/><circle cx="416.21" cy="867.14" r="1.25"/><circle cx="415.37" cy="867.01" r="1.25"/><circle cx="416.92" cy="867.22" r="1.25"/><circle cx="416.26" cy="865.47" r="1.25"/><circle cx="417.52" cy="837.06" r="1.25"/><circle cx="416.21" cy="849.17" r="1.25"/><circle cx="416.36" cy="879.03" r="1.25"/></g>
<line x1="424.7" y1="848.5" x2="424.7" y2="856.83" stroke="#b3c3dc" stroke-width="0.7"/>
<line x1="424.7" y1="868.67" x2="424.7" y2="886.42" stroke="#b3c3dc" stroke-width="0.7"/>
<rect x="421.25" y="856.83" width="6.9" height="11.84" fill="#c9d5e7" stroke="#a9bbd8" stroke-width="0.6"/>
<line x1="421.25" y1="863.29" x2="428.15" y2="863.29" stroke="#a9bbd8" stroke-width="0.8"/>
<g fill="#7a98cb" fill-opacity="0.9"><circle cx="424.44" cy="848.5" r="1.25"/><circle cx="424" cy="886.42" r="1.25"/><circle cx="424.51" cy="856.83" r="1.25"/><circle cx="426.15" cy="868.67" r="1.25"/><circle cx="424.04" cy="863.29" r="1.25"/><circle cx="425.32" cy="857.52" r="1.25"/><circle cx="425.25" cy="860.34" r="1.25"/><circle cx="423.88" cy="861.81" r="1.25"/><circle cx="424.42" cy="858.34" r="1.25"/><circle cx="423.52" cy="858.56" r="1.25"/><circle cx="425.97" cy="869.17" r="1.25"/><circle cx="423.91" cy="871.72" r="1.25"/><circle cx="424.45" cy="863.62" r="1.25"/><circle cx="424.19" cy="867.91" r="1.25"/></g>
<line x1="441.37" y1="837.47" x2="441.37" y2="851.59" stroke="#f6b0b6" stroke-width="0.7"/>
<line x1="441.37" y1="869.75" x2="441.37" y2="890.46" stroke="#f6b0b6" stroke-width="0.7"/>
<rect x="437.92" y="851.59" width="6.9" height="18.16" fill="#f9c3c7" stroke="#f4a3aa" stroke-width="0.6"/>
<line x1="437.92" y1="860.6" x2="444.82" y2="860.6" stroke="#f4a3aa" stroke-width="0.8"/>
<g fill="#f25565" fill-opacity="0.9"><circle cx="442.65" cy="837.47" r="1.25"/><circle cx="442.81" cy="890.46" r="1.25"/><circle cx="439.85" cy="851.59" r="1.25"/><circle cx="441.8" cy="869.75" r="1.25"/><circle cx="441.28" cy="860.6" r="1.25"/><circle cx="440.93" cy="845.4" r="1.25"/><circle cx="441.26" cy="859.83" r="1.25"/><circle cx="440.79" cy="853.47" r="1.25"/><circle cx="441.92" cy="863.14" r="1.25"/><circle cx="441.71" cy="856.62" r="1.25"/><circle cx="442.88" cy="872.24" r="1.25"/></g>
<line x1="449.57" y1="825.9" x2="449.57" y2="840.43" stroke="#b3c3dc" stroke-width="0.7"/>
<line x1="449.57" y1="862.89" x2="449.57" y2="870.69" stroke="#b3c3dc" stroke-width="0.7"/>
<rect x="446.12" y="840.43" width="6.9" height="22.46" fill="#c9d5e7" stroke="#a9bbd8" stroke-width="0.6"/>
<line x1="446.12" y1="850.24" x2="453.02" y2="850.24" stroke="#a9bbd8" stroke-width="0.8"/>
<g fill="#7a98cb" fill-opacity="0.9"><circle cx="448.24" cy="825.9" r="1.25"/><circle cx="448.51" cy="870.69" r="1.25"/><circle cx="450.05" cy="840.43" r="1.25"/><circle cx="449.97" cy="862.89" r="1.25"/><circle cx="450.35" cy="850.24" r="1.25"/><circle cx="448.79" cy="826.23" r="1.25"/><circle cx="450.57" cy="844.27" r="1.25"/><circle cx="450.31" cy="847.14" r="1.25"/><circle cx="450.46" cy="867.71" r="1.25"/><circle cx="448.36" cy="853.87" r="1.25"/><circle cx="449.47" cy="860.92" r="1.25"/><circle cx="448.03" cy="861.31" r="1.25"/><circle cx="450.73" cy="859.68" r="1.25"/><circle cx="451" cy="846.22" r="1.25"/></g>
<path fill="none" stroke="#7a7a7a" stroke-width="0.6" d="M395.73 824.3V822H420.6V824.3"/>
<text x="408.16" y="820.8" font-size="8.2" text-anchor="middle">ns</text>
<path fill="none" stroke="#7a7a7a" stroke-width="0.6" d="M395.73 815.1V812.8H445.47V815.1"/>
<text x="420.6" y="811.2" font-size="8.2" text-anchor="middle">*</text>
<path fill="none" stroke="#7a7a7a" stroke-width="0.6" d="M420.6 806.2V803.9H445.47V806.2"/>
<text x="433.04" y="802.3" font-size="8.2" text-anchor="middle">*</text>
<text x="395.73" y="903.8" font-size="8.2" text-anchor="middle">ns</text>
<text x="420.6" y="903.8" font-size="8.2" text-anchor="middle">ns</text>
<text x="445.47" y="903.8" font-size="8.2" text-anchor="middle">ns</text>
<rect x="380.8" y="794" width="79.6" height="119" fill="none" stroke="#333" stroke-width="0.9"/>
<path fill="none" stroke="#333" stroke-width="0.9" d="M395.73 913V916M420.6 913V916M445.47 913V916"/>
<text x="399.62" y="924.1" font-size="9.6" text-anchor="end" transform="rotate(-60 399.62 924.1)">Young</text>
<text x="424.5" y="924.1" font-size="9.6" text-anchor="end" transform="rotate(-60 424.5 924.1)">Middle-aged</text>
<text x="449.37" y="924.1" font-size="9.6" text-anchor="end" transform="rotate(-60 449.37 924.1)">Older</text>
<text x="381" y="789.5" font-size="9.7" font-style="italic">MAFB</text>
<path fill="none" stroke="#f4f4f4" stroke-width="0.6" d="M469.1 900.95H548.5M469.1 874.05H548.5M469.1 847.15H548.5M469.1 820.25H548.5"/>
<path fill="none" stroke="#ebebeb" stroke-width="0.9" d="M469.1 887.5H548.5M469.1 833.7H548.5M469.1 806.8H548.5M483.99 794V913M508.8 794V913M533.61 794V913"/>
<line x1="469.1" y1="860.6" x2="548.5" y2="860.6" stroke="#b4b4b4" stroke-width="0.75"/>
<line x1="479.89" y1="847.82" x2="479.89" y2="864.63" stroke="#f6b0b6" stroke-width="0.7"/>
<line x1="479.89" y1="879.16" x2="479.89" y2="893.55" stroke="#f6b0b6" stroke-width="0.7"/>
<rect x="476.44" y="864.63" width="6.9" height="14.53" fill="#f9c3c7" stroke="#f4a3aa" stroke-width="0.6"/>
<line x1="476.44" y1="876.07" x2="483.34" y2="876.07" stroke="#f4a3aa" stroke-width="0.8"/>
<g fill="#f25565" fill-opacity="0.9"><circle cx="478.57" cy="847.82" r="1.25"/><circle cx="479.93" cy="893.55" r="1.25"/><circle cx="479.23" cy="864.63" r="1.25"/><circle cx="480.78" cy="879.16" r="1.25"/><circle cx="479.08" cy="876.07" r="1.25"/><circle cx="479.61" cy="892.45" r="1.25"/><circle cx="478.46" cy="871.38" r="1.25"/><circle cx="478.98" cy="877.55" r="1.25"/><circle cx="479.73" cy="879.76" r="1.25"/><circle cx="480.07" cy="877.35" r="1.25"/><circle cx="479.76" cy="877.28" r="1.25"/></g>
<line x1="488.09" y1="841.1" x2="488.09" y2="844.86" stroke="#b3c3dc" stroke-width="0.7"/>
<line x1="488.09" y1="865.71" x2="488.09" y2="877.01" stroke="#b3c3dc" stroke-width="0.7"/>
<rect x="484.64" y="844.86" width="6.9" height="20.85" fill="#c9d5e7" stroke="#a9bbd8" stroke-width="0.6"/>
<line x1="484.64" y1="851.19" x2="491.54" y2="851.19" stroke="#a9bbd8" stroke-width="0.8"/>
<g fill="#7a98cb" fill-opacity="0.9"><circle cx="486.58" cy="841.1" r="1.25"/><circle cx="486.84" cy="877.01" r="1.25"/><circle cx="487.45" cy="844.86" r="1.25"/><circle cx="489.58" cy="865.71" r="1.25"/><circle cx="488.55" cy="851.19" r="1.25"/><circle cx="489.2" cy="873.26" r="1.25"/><circle cx="486.63" cy="871.45" r="1.25"/><circle cx="487.82" cy="858.16" r="1.25"/><circle cx="486.74" cy="852.95" r="1.25"/><circle cx="487.32" cy="842.4" r="1.25"/><circle cx="486.85" cy="865.49" r="1.25"/><circle cx="489.43" cy="848.65" r="1.25"/><circle cx="487.54" cy="851.42" r="1.25"/><circle cx="488.05" cy="854.64" r="1.25"/></g>
<line x1="504.7" y1="842.85" x2="504.7" y2="855.22" stroke="#f6b0b6" stroke-width="0.7"/>
<line x1="504.7" y1="865.31" x2="504.7" y2="878.35" stroke="#f6b0b6" stroke-width="0.7"/>
<rect x="501.25" y="855.22" width="6.9" height="10.09" fill="#f9c3c7" stroke="#f4a3aa" stroke-width="0.6"/>
<line x1="501.25" y1="860.6" x2="508.15" y2="860.6" stroke="#f4a3aa" stroke-width="0.8"/>
<g fill="#f25565" fill-opacity="0.9"><circle cx="504.63" cy="842.85" r="1.25"/><circle cx="504.25" cy="878.35" r="1.25"/><circle cx="504.48" cy="855.22" r="1.25"/><circle cx="504.54" cy="865.31" r="1.25"/><circle cx="503.26" cy="860.6" r="1.25"/><circle cx="505.77" cy="846.87" r="1.25"/><circle cx="503.3" cy="858.19" r="1.25"/><circle cx="504.79" cy="856.19" r="1.25"/><circle cx="504.85" cy="862.29" r="1.25"/><circle cx="504.38" cy="869.18" r="1.25"/><circle cx="503.81" cy="860.98" r="1.25"/></g>
<line x1="512.9" y1="842.85" x2="512.9" y2="853.47" stroke="#b3c3dc" stroke-width="0.7"/>
<line x1="512.9" y1="864.9" x2="512.9" y2="887.5" stroke="#b3c3dc" stroke-width="0.7"/>
<rect x="509.45" y="853.47" width="6.9" height="11.43" fill="#c9d5e7" stroke="#a9bbd8" stroke-width="0.6"/>
<line x1="509.45" y1="859.93" x2="516.35" y2="859.93" stroke="#a9bbd8" stroke-width="0.8"/>
<g fill="#7a98cb" fill-opacity="0.9"><circle cx="513.19" cy="842.85" r="1.25"/><circle cx="512.31" cy="887.5" r="1.25"/><circle cx="512.89" cy="853.47" r="1.25"/><circle cx="512.95" cy="864.9" r="1.25"/><circle cx="513.71" cy="859.93" r="1.25"/><circle cx="511.47" cy="860.65" r="1.25"/><circle cx="511.6" cy="859.37" r="1.25"/><circle cx="512.11" cy="856.34" r="1.25"/><circle cx="512.16" cy="864.8" r="1.25"/><circle cx="513.85" cy="853.86" r="1.25"/><circle cx="512.66" cy="858.12" r="1.25"/><circle cx="514.05" cy="871.17" r="1.25"/><circle cx="512.59" cy="860.69" r="1.25"/><circle cx="512.21" cy="857.94" r="1.25"/></g>
<line x1="529.51" y1="842.85" x2="529.51" y2="848.76" stroke="#f6b0b6" stroke-width="0.7"/>
<line x1="529.51" y1="873.78" x2="529.51" y2="885.89" stroke="#f6b0b6" stroke-width="0.7"/>
<rect x="526.06" y="848.76" width="6.9" height="25.02" fill="#f9c3c7" stroke="#f4a3aa" stroke-width="0.6"/>
<line x1="526.06" y1="856.83" x2="532.96" y2="856.83" stroke="#f4a3aa" stroke-width="0.8"/>
<g fill="#f25565" fill-opacity="0.9"><circle cx="529.91" cy="842.85" r="1.25"/><circle cx="529.68" cy="885.89" r="1.25"/><circle cx="530.88" cy="848.76" r="1.25"/><circle cx="529.96" cy="873.78" r="1.25"/><circle cx="527.98" cy="856.83" r="1.25"/><circle cx="530.9" cy="882.21" r="1.25"/><circle cx="530.32" cy="850.1" r="1.25"/><circle cx="529.77" cy="865.84" r="1.25"/><circle cx="527.93" cy="851.96" r="1.25"/><circle cx="530.27" cy="872.36" r="1.25"/><circle cx="529.25" cy="883.82" r="1.25"/></g>
<line x1="537.71" y1="829.93" x2="537.71" y2="845.54" stroke="#b3c3dc" stroke-width="0.7"/>
<line x1="537.71" y1="857.64" x2="537.71" y2="871.36" stroke="#b3c3dc" stroke-width="0.7"/>
<rect x="534.26" y="845.54" width="6.9" height="12.11" fill="#c9d5e7" stroke="#a9bbd8" stroke-width="0.6"/>
<line x1="534.26" y1="854.28" x2="541.16" y2="854.28" stroke="#a9bbd8" stroke-width="0.8"/>
<g fill="#7a98cb" fill-opacity="0.9"><circle cx="536.47" cy="829.93" r="1.25"/><circle cx="536.49" cy="871.36" r="1.25"/><circle cx="537.1" cy="845.54" r="1.25"/><circle cx="539.16" cy="857.64" r="1.25"/><circle cx="537.91" cy="854.28" r="1.25"/><circle cx="539.06" cy="830.61" r="1.25"/><circle cx="536.79" cy="868.25" r="1.25"/><circle cx="537.44" cy="853.11" r="1.25"/><circle cx="537.83" cy="855.71" r="1.25"/><circle cx="538.8" cy="852.35" r="1.25"/><circle cx="536.51" cy="853.77" r="1.25"/><circle cx="538.91" cy="868.4" r="1.25"/><circle cx="537.62" cy="847.55" r="1.25"/><circle cx="536.21" cy="848.65" r="1.25"/></g>
<path fill="none" stroke="#7a7a7a" stroke-width="0.6" d="M483.99 824.3V822H508.8V824.3"/>
<text x="496.39" y="820.8" font-size="8.2" text-anchor="middle">ns</text>
<path fill="none" stroke="#7a7a7a" stroke-width="0.6" d="M483.99 815.1V812.8H533.61V815.1"/>
<text x="508.8" y="811.2" font-size="8.2" text-anchor="middle">*</text>
<path fill="none" stroke="#7a7a7a" stroke-width="0.6" d="M508.8 806.2V803.9H533.61V806.2"/>
<text x="521.21" y="802.7" font-size="8.2" text-anchor="middle">ns</text>
<text x="483.99" y="907" font-size="8.2" text-anchor="middle">*</text>
<text x="508.8" y="903.8" font-size="8.2" text-anchor="middle">ns</text>
<text x="533.61" y="903.8" font-size="8.2" text-anchor="middle">ns</text>
<rect x="469.1" y="794" width="79.4" height="119" fill="none" stroke="#333" stroke-width="0.9"/>
<path fill="none" stroke="#333" stroke-width="0.9" d="M483.99 913V916M508.8 913V916M533.61 913V916"/>
<text x="487.89" y="924.1" font-size="9.6" text-anchor="end" transform="rotate(-60 487.89 924.1)">Young</text>
<text x="512.7" y="924.1" font-size="9.6" text-anchor="end" transform="rotate(-60 512.7 924.1)">Middle-aged</text>
<text x="537.51" y="924.1" font-size="9.6" text-anchor="end" transform="rotate(-60 537.51 924.1)">Older</text>
<text x="469.3" y="789.5" font-size="9.7" font-style="italic">CEBPA</text>
<rect x="554" y="655.8" width="14.8" height="9.8" fill="#e98c8e"/>
<rect x="554" y="671.8" width="14.8" height="9.8" fill="#8ea8cd"/>
<text x="571.8" y="663.4" font-size="8">Female</text>
<text x="571.8" y="679.4" font-size="8">Male</text>
<rect x="556.2" y="884.9" width="14.8" height="9.8" fill="#e98c8e"/>
<rect x="556.2" y="901" width="14.8" height="9.8" fill="#8ea8cd"/>
<text x="574" y="892.5" font-size="8">Female</text>
<text x="574" y="908.6" font-size="8">Male</text>
</svg></body></html>
